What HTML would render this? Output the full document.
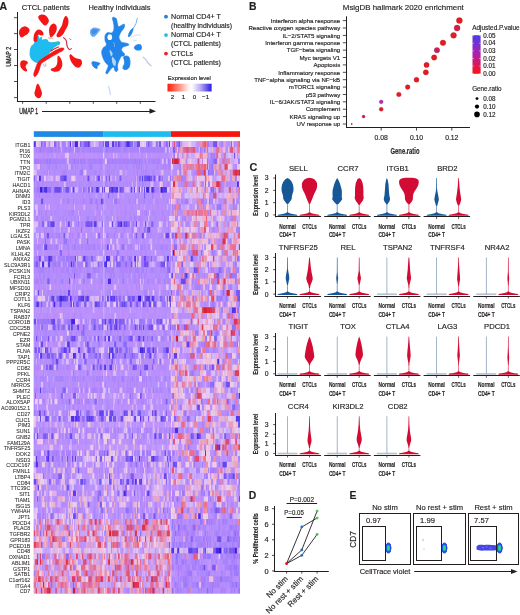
<!DOCTYPE html><html><head><meta charset="utf-8"><style>html,body{margin:0;padding:0;background:#fff;}svg{display:block;font-family:"Liberation Sans",sans-serif;}text{stroke:#231f20;stroke-width:0.16px;}text.g{stroke-width:0.06px;}svg{filter:blur(0.35px);}</style></head><body><svg width="520" height="615" viewBox="0 0 520 615" fill="#231f20"><text x="-0.60" y="9.50" font-size="10.5" font-weight="bold">A</text><text x="21.80" y="9.70" font-size="7.5" textLength="48.00" lengthAdjust="spacingAndGlyphs">CTCL patients</text><text x="88.50" y="9.60" font-size="7.5" textLength="62.00" lengthAdjust="spacingAndGlyphs">Healthy individuals</text><line x1="17.50" y1="12.00" x2="17.50" y2="101.40" stroke="#231f20" stroke-width="1"/><line x1="16.90" y1="101.50" x2="155.50" y2="101.50" stroke="#231f20" stroke-width="1"/><line x1="14.00" y1="17.70" x2="17.40" y2="17.70" stroke="#231f20" stroke-width="0.8"/><line x1="14.00" y1="33.60" x2="17.40" y2="33.60" stroke="#231f20" stroke-width="0.8"/><line x1="14.00" y1="49.50" x2="17.40" y2="49.50" stroke="#231f20" stroke-width="0.8"/><line x1="14.00" y1="65.50" x2="17.40" y2="65.50" stroke="#231f20" stroke-width="0.8"/><line x1="14.00" y1="81.50" x2="17.40" y2="81.50" stroke="#231f20" stroke-width="0.8"/><line x1="14.00" y1="97.60" x2="17.40" y2="97.60" stroke="#231f20" stroke-width="0.8"/><line x1="22.60" y1="101.20" x2="22.60" y2="103.80" stroke="#231f20" stroke-width="0.8"/><line x1="46.20" y1="101.20" x2="46.20" y2="103.80" stroke="#231f20" stroke-width="0.8"/><line x1="69.80" y1="101.20" x2="69.80" y2="103.80" stroke="#231f20" stroke-width="0.8"/><line x1="93.30" y1="101.20" x2="93.30" y2="103.80" stroke="#231f20" stroke-width="0.8"/><line x1="116.70" y1="101.20" x2="116.70" y2="103.80" stroke="#231f20" stroke-width="0.8"/><line x1="140.30" y1="101.20" x2="140.30" y2="103.80" stroke="#231f20" stroke-width="0.8"/><text x="0.00" y="0.00" font-size="8.2" textLength="19.00" lengthAdjust="spacingAndGlyphs" transform="translate(19.2,113.6)" style="stroke-width:0.3px">UMAP 1</text><text font-size="8.0" textLength="20" lengthAdjust="spacingAndGlyphs" style="stroke-width:0.3px" transform="translate(11.0,66.8) rotate(-90)">UMAP 2</text><line x1="42.00" y1="111.50" x2="151.00" y2="111.50" stroke="#231f20" stroke-width="1"/><path d="M156 111.2 L149.5 108.6 L149.5 113.8 Z" fill="#231f20"/><circle cx="166" cy="16.7" r="1.9" fill="#2a7fd6"/><circle cx="166" cy="35.1" r="1.9" fill="#2bb7e3"/><circle cx="166" cy="53.6" r="1.9" fill="#e3262b"/><text x="171.10" y="18.90" font-size="7.1" textLength="49.70" lengthAdjust="spacingAndGlyphs">Normal CD4+ T</text><text x="171.10" y="27.60" font-size="7.1" textLength="61.00" lengthAdjust="spacingAndGlyphs">(healthy individuals)</text><text x="171.10" y="37.40" font-size="7.1" textLength="49.70" lengthAdjust="spacingAndGlyphs">Normal CD4+ T</text><text x="171.10" y="46.40" font-size="7.1">(CTCL patients)</text><text x="171.10" y="55.90" font-size="7.1">CTCLs</text><text x="171.10" y="64.90" font-size="7.1">(CTCL patients)</text><text x="167.80" y="80.30" font-size="5.9" textLength="43.00" lengthAdjust="spacingAndGlyphs">Expression level</text><defs><linearGradient id="gexp" x1="0" x2="1" y1="0" y2="0"><stop offset="0" stop-color="#ff1a0a"/><stop offset="0.25" stop-color="#ff8a78"/><stop offset="0.48" stop-color="#fff4f0"/><stop offset="0.55" stop-color="#ffffff"/><stop offset="0.75" stop-color="#b8a8f4"/><stop offset="1" stop-color="#2a1ae8"/></linearGradient></defs><rect x="167.5" y="83.7" width="44.1" height="7.8" fill="url(#gexp)"/><text x="172.50" y="99.30" font-size="6.2" text-anchor="middle">2</text><text x="183.40" y="99.30" font-size="6.2" text-anchor="middle">1</text><text x="194.40" y="99.30" font-size="6.2" text-anchor="middle">0</text><text x="205.60" y="99.30" font-size="6.2" text-anchor="middle">−1</text><text x="249.00" y="10.10" font-size="10.4" font-weight="bold">B</text><text x="342.80" y="9.80" font-size="8.1" textLength="121.00" lengthAdjust="spacingAndGlyphs">MsigDB hallmark 2020 enrichment</text><line x1="346.50" y1="16.30" x2="346.50" y2="127.90" stroke="#231f20" stroke-width="1"/><line x1="346.00" y1="127.50" x2="470.00" y2="127.50" stroke="#231f20" stroke-width="1"/><line x1="342.80" y1="20.60" x2="346.40" y2="20.60" stroke="#231f20" stroke-width="0.8"/><text x="340.20" y="22.80" font-size="6.1" text-anchor="end">Interferon alpha response</text><line x1="342.80" y1="27.99" x2="346.40" y2="27.99" stroke="#231f20" stroke-width="0.8"/><text x="340.20" y="30.19" font-size="6.1" text-anchor="end">Reactive oxygen species pathway</text><line x1="342.80" y1="35.37" x2="346.40" y2="35.37" stroke="#231f20" stroke-width="0.8"/><text x="340.20" y="37.57" font-size="6.1" text-anchor="end">IL−2/STAT5 signaling</text><line x1="342.80" y1="42.76" x2="346.40" y2="42.76" stroke="#231f20" stroke-width="0.8"/><text x="340.20" y="44.96" font-size="6.1" text-anchor="end">Interferon gamma response</text><line x1="342.80" y1="50.14" x2="346.40" y2="50.14" stroke="#231f20" stroke-width="0.8"/><text x="340.20" y="52.34" font-size="6.1" text-anchor="end">TGF−beta signaling</text><line x1="342.80" y1="57.53" x2="346.40" y2="57.53" stroke="#231f20" stroke-width="0.8"/><text x="340.20" y="59.73" font-size="6.1" text-anchor="end">Myc targets V1</text><line x1="342.80" y1="64.92" x2="346.40" y2="64.92" stroke="#231f20" stroke-width="0.8"/><text x="340.20" y="67.12" font-size="6.1" text-anchor="end">Apoptosis</text><line x1="342.80" y1="72.30" x2="346.40" y2="72.30" stroke="#231f20" stroke-width="0.8"/><text x="340.20" y="74.50" font-size="6.1" text-anchor="end">Inflammatory response</text><line x1="342.80" y1="79.69" x2="346.40" y2="79.69" stroke="#231f20" stroke-width="0.8"/><text x="340.20" y="81.89" font-size="6.1" text-anchor="end">TNF−alpha signaling via NF−kB</text><line x1="342.80" y1="87.07" x2="346.40" y2="87.07" stroke="#231f20" stroke-width="0.8"/><text x="340.20" y="89.27" font-size="6.1" text-anchor="end">mTORC1 signaling</text><line x1="342.80" y1="94.46" x2="346.40" y2="94.46" stroke="#231f20" stroke-width="0.8"/><text x="340.20" y="96.66" font-size="6.1" text-anchor="end">p53 pathway</text><line x1="342.80" y1="101.85" x2="346.40" y2="101.85" stroke="#231f20" stroke-width="0.8"/><text x="340.20" y="104.05" font-size="6.1" text-anchor="end">IL−6/JAK/STAT3 signaling</text><line x1="342.80" y1="109.23" x2="346.40" y2="109.23" stroke="#231f20" stroke-width="0.8"/><text x="340.20" y="111.43" font-size="6.1" text-anchor="end">Complement</text><line x1="342.80" y1="116.62" x2="346.40" y2="116.62" stroke="#231f20" stroke-width="0.8"/><text x="340.20" y="118.82" font-size="6.1" text-anchor="end">KRAS signaling up</text><line x1="342.80" y1="124.00" x2="346.40" y2="124.00" stroke="#231f20" stroke-width="0.8"/><text x="340.20" y="126.20" font-size="6.1" text-anchor="end">UV response up</text><line x1="381.20" y1="127.60" x2="381.20" y2="130.60" stroke="#231f20" stroke-width="0.8"/><text x="381.20" y="140.30" font-size="6.8" text-anchor="middle">0.08</text><line x1="416.50" y1="127.60" x2="416.50" y2="130.60" stroke="#231f20" stroke-width="0.8"/><text x="416.50" y="140.30" font-size="6.8" text-anchor="middle">0.10</text><line x1="451.80" y1="127.60" x2="451.80" y2="130.60" stroke="#231f20" stroke-width="0.8"/><text x="451.80" y="140.30" font-size="6.8" text-anchor="middle">0.12</text><text x="390.50" y="153.60" font-size="8.6" textLength="29.00" lengthAdjust="spacingAndGlyphs" font-weight="bold">Gene.ratio</text><circle cx="459.39" cy="20.60" r="3.00" fill="#ec1a1a" stroke="#8a1020" stroke-width="0.45" stroke-opacity="0.6"/><circle cx="457.09" cy="27.99" r="2.98" fill="#d81a44" stroke="#8a1020" stroke-width="0.45" stroke-opacity="0.6"/><circle cx="453.56" cy="35.37" r="2.94" fill="#e81a22" stroke="#8a1020" stroke-width="0.45" stroke-opacity="0.6"/><circle cx="442.98" cy="42.76" r="2.81" fill="#e81a1e" stroke="#8a1020" stroke-width="0.45" stroke-opacity="0.6"/><circle cx="436.97" cy="50.14" r="2.73" fill="#c8205a" stroke="#8a1020" stroke-width="0.45" stroke-opacity="0.6"/><circle cx="434.15" cy="57.53" r="2.70" fill="#e81a1e" stroke="#8a1020" stroke-width="0.45" stroke-opacity="0.6"/><circle cx="426.56" cy="64.92" r="2.61" fill="#e81a1e" stroke="#8a1020" stroke-width="0.45" stroke-opacity="0.6"/><circle cx="425.85" cy="72.30" r="2.61" fill="#e81a1e" stroke="#8a1020" stroke-width="0.45" stroke-opacity="0.6"/><circle cx="416.50" cy="79.69" r="2.50" fill="#e81a1e" stroke="#8a1020" stroke-width="0.45" stroke-opacity="0.6"/><circle cx="407.68" cy="87.07" r="2.40" fill="#e81a1e" stroke="#8a1020" stroke-width="0.45" stroke-opacity="0.6"/><circle cx="398.85" cy="94.46" r="2.30" fill="#e81a1e" stroke="#8a1020" stroke-width="0.45" stroke-opacity="0.6"/><circle cx="381.20" cy="101.85" r="1.95" fill="#b02cc0" stroke="#8a1020" stroke-width="0.45" stroke-opacity="0.6"/><circle cx="381.20" cy="109.23" r="1.95" fill="#e01a1e" stroke="#8a1020" stroke-width="0.45" stroke-opacity="0.6"/><circle cx="363.55" cy="116.62" r="1.50" fill="#d0184a" stroke="#8a1020" stroke-width="0.45" stroke-opacity="0.6"/><circle cx="351.72" cy="124.00" r="0.65" fill="#3a1020" stroke="#8a1020" stroke-width="0.45" stroke-opacity="0.6"/><text x="472.20" y="29.60" font-size="6.4" textLength="47.50" lengthAdjust="spacingAndGlyphs">Adjusted.P.value</text><defs><linearGradient id="gp" x1="0" x2="0" y1="0" y2="1"><stop offset="0" stop-color="#4a3cf0"/><stop offset="0.5" stop-color="#b020a8"/><stop offset="1" stop-color="#ff1010"/></linearGradient></defs><rect x="472.5" y="35.2" width="8.1" height="38.6" fill="url(#gp)"/><line x1="472.50" y1="35.60" x2="474.00" y2="35.60" stroke="#ffffff" stroke-width="0.5"/><line x1="479.10" y1="35.60" x2="480.60" y2="35.60" stroke="#ffffff" stroke-width="0.5"/><text x="483.30" y="37.80" font-size="6.3">0.05</text><line x1="472.50" y1="43.22" x2="474.00" y2="43.22" stroke="#ffffff" stroke-width="0.5"/><line x1="479.10" y1="43.22" x2="480.60" y2="43.22" stroke="#ffffff" stroke-width="0.5"/><text x="483.30" y="45.42" font-size="6.3">0.04</text><line x1="472.50" y1="50.84" x2="474.00" y2="50.84" stroke="#ffffff" stroke-width="0.5"/><line x1="479.10" y1="50.84" x2="480.60" y2="50.84" stroke="#ffffff" stroke-width="0.5"/><text x="483.30" y="53.04" font-size="6.3">0.03</text><line x1="472.50" y1="58.46" x2="474.00" y2="58.46" stroke="#ffffff" stroke-width="0.5"/><line x1="479.10" y1="58.46" x2="480.60" y2="58.46" stroke="#ffffff" stroke-width="0.5"/><text x="483.30" y="60.66" font-size="6.3">0.02</text><line x1="472.50" y1="66.08" x2="474.00" y2="66.08" stroke="#ffffff" stroke-width="0.5"/><line x1="479.10" y1="66.08" x2="480.60" y2="66.08" stroke="#ffffff" stroke-width="0.5"/><text x="483.30" y="68.28" font-size="6.3">0.01</text><line x1="472.50" y1="73.70" x2="474.00" y2="73.70" stroke="#ffffff" stroke-width="0.5"/><line x1="479.10" y1="73.70" x2="480.60" y2="73.70" stroke="#ffffff" stroke-width="0.5"/><text x="483.30" y="75.90" font-size="6.3">0.00</text><text x="472.20" y="91.20" font-size="6.3">Gene.ratio</text><circle cx="477" cy="98.6" r="1.4" fill="#000"/><text x="483.30" y="100.80" font-size="6.3">0.08</text><circle cx="477" cy="106.6" r="2.1" fill="#000"/><text x="483.30" y="108.80" font-size="6.3">0.10</text><circle cx="477" cy="114.4" r="2.8" fill="#000"/><text x="483.30" y="116.60" font-size="6.3">0.12</text><text x="249.60" y="170.50" font-size="10.8" font-weight="bold">C</text><line x1="275.50" y1="174.50" x2="275.50" y2="217.30" stroke="#231f20" stroke-width="1"/><line x1="273.20" y1="214.90" x2="275.20" y2="214.90" stroke="#231f20" stroke-width="0.8"/><text x="266.70" y="217.30" font-size="6.8" text-anchor="middle">0</text><line x1="273.20" y1="202.63" x2="275.20" y2="202.63" stroke="#231f20" stroke-width="0.8"/><text x="266.70" y="205.03" font-size="6.8" text-anchor="middle">1</text><line x1="273.20" y1="190.36" x2="275.20" y2="190.36" stroke="#231f20" stroke-width="0.8"/><text x="266.70" y="192.76" font-size="6.8" text-anchor="middle">2</text><line x1="273.20" y1="178.09" x2="275.20" y2="178.09" stroke="#231f20" stroke-width="0.8"/><text x="266.70" y="180.49" font-size="6.8" text-anchor="middle">3</text><text font-size="6.9" font-weight="bold" text-anchor="middle" textLength="40.5" lengthAdjust="spacingAndGlyphs" transform="translate(258.3,195.40) rotate(-90)">Expression level</text><line x1="275.00" y1="216.50" x2="321.00" y2="216.50" stroke="#231f20" stroke-width="1"/><line x1="287.50" y1="216.90" x2="287.50" y2="219.10" stroke="#231f20" stroke-width="0.7"/><line x1="309.50" y1="216.90" x2="309.50" y2="219.10" stroke="#231f20" stroke-width="0.7"/><text x="298.30" y="171.30" font-size="7.7" text-anchor="middle">SELL</text><path d="M287.50 178.09 L289.70 179.32 L291.70 181.77 L293.00 184.84 L293.50 187.91 L293.40 190.97 L292.50 194.04 L291.80 196.50 L291.90 198.34 L291.00 200.18 L289.10 202.63 L288.10 204.10 L286.90 204.10 L285.90 202.63 L284.00 200.18 L283.10 198.34 L283.20 196.50 L282.50 194.04 L281.60 190.97 L281.50 187.91 L282.00 184.84 L283.30 181.77 L285.30 179.32 L287.50 178.09Z" fill="#165797"/><rect x="287.05" y="204.10" width="0.9" height="10.80" fill="#6f97c0"/><path d="M277.50 215.80 L278.00 214.70 Q284.50 214.30 287.10 212.30 L287.90 212.30 Q290.50 214.30 297.00 214.70 L297.50 215.80Z" fill="#165797"/><path d="M309.50 177.84 L312.00 178.34 L314.30 179.32 L316.10 181.16 L317.10 183.61 L317.10 186.68 L316.30 189.75 L314.70 192.81 L313.30 195.88 L312.20 198.95 L311.10 201.40 L310.30 203.24 L310.00 204.47 L309.00 204.47 L308.70 203.24 L307.90 201.40 L306.80 198.95 L305.70 195.88 L304.30 192.81 L302.70 189.75 L301.90 186.68 L301.90 183.61 L302.90 181.16 L304.70 179.32 L307.00 178.34 L309.50 177.84Z" fill="#d20b35"/><rect x="309.05" y="204.47" width="0.9" height="10.43" fill="#e0607a"/><path d="M299.50 215.80 L300.00 214.70 Q306.50 214.30 309.10 212.30 L309.90 212.30 Q312.50 214.30 319.00 214.70 L319.50 215.80Z" fill="#d20b35"/><text x="287.50" y="228.70" font-size="7.6" text-anchor="middle" textLength="16.60" lengthAdjust="spacingAndGlyphs" font-weight="bold">Normal</text><text x="287.50" y="237.40" font-size="7.6" text-anchor="middle" textLength="16.60" lengthAdjust="spacingAndGlyphs" font-weight="bold">CD4+ T</text><text x="309.50" y="228.70" font-size="7.6" text-anchor="middle" textLength="14.30" lengthAdjust="spacingAndGlyphs" font-weight="bold">CTCLs</text><line x1="324.20" y1="216.50" x2="370.70" y2="216.50" stroke="#231f20" stroke-width="1"/><line x1="337.20" y1="216.90" x2="337.20" y2="219.10" stroke="#231f20" stroke-width="0.7"/><line x1="359.20" y1="216.90" x2="359.20" y2="219.10" stroke="#231f20" stroke-width="0.7"/><text x="348.00" y="171.30" font-size="7.7" text-anchor="middle">CCR7</text><path d="M337.20 178.09 L338.70 180.54 L340.20 184.23 L341.20 187.91 L341.80 190.36 L341.90 194.04 L341.70 197.11 L342.30 198.95 L341.20 200.79 L339.50 202.63 L337.90 204.47 L336.50 204.47 L334.90 202.63 L333.20 200.79 L332.10 198.95 L332.70 197.11 L332.50 194.04 L332.60 190.36 L333.20 187.91 L334.20 184.23 L335.70 180.54 L337.20 178.09Z" fill="#165797"/><rect x="336.75" y="204.47" width="0.9" height="10.43" fill="#6f97c0"/><path d="M327.20 215.80 L327.70 214.70 Q334.20 214.30 336.80 212.30 L337.60 212.30 Q340.20 214.30 346.70 214.70 L347.20 215.80Z" fill="#165797"/><path d="M359.20 178.09 L361.00 179.32 L362.60 183.00 L363.20 186.68 L363.40 190.36 L363.40 195.27 L363.70 198.34 L362.70 200.79 L360.80 203.24 L359.70 205.08 L358.70 205.08 L357.60 203.24 L355.70 200.79 L354.70 198.34 L355.00 195.27 L355.00 190.36 L355.20 186.68 L355.80 183.00 L357.40 179.32 L359.20 178.09Z" fill="#d20b35"/><rect x="358.75" y="205.08" width="0.9" height="9.82" fill="#e0607a"/><path d="M349.20 215.80 L349.70 214.70 Q356.20 214.30 358.80 212.30 L359.60 212.30 Q362.20 214.30 368.70 214.70 L369.20 215.80Z" fill="#d20b35"/><text x="337.20" y="228.70" font-size="7.6" text-anchor="middle" textLength="16.60" lengthAdjust="spacingAndGlyphs" font-weight="bold">Normal</text><text x="337.20" y="237.40" font-size="7.6" text-anchor="middle" textLength="16.60" lengthAdjust="spacingAndGlyphs" font-weight="bold">CD4+ T</text><text x="359.20" y="228.70" font-size="7.6" text-anchor="middle" textLength="14.30" lengthAdjust="spacingAndGlyphs" font-weight="bold">CTCLs</text><line x1="373.90" y1="216.50" x2="420.40" y2="216.50" stroke="#231f20" stroke-width="1"/><line x1="386.90" y1="216.90" x2="386.90" y2="219.10" stroke="#231f20" stroke-width="0.7"/><line x1="408.90" y1="216.90" x2="408.90" y2="219.10" stroke="#231f20" stroke-width="0.7"/><text x="397.70" y="171.30" font-size="7.7" text-anchor="middle">ITGB1</text><path d="M386.90 178.09 L387.70 179.93 L388.50 184.23 L388.90 190.36 L389.30 195.27 L390.10 198.95 L389.40 201.40 L388.10 203.24 L387.30 204.84 L386.50 204.84 L385.70 203.24 L384.40 201.40 L383.70 198.95 L384.50 195.27 L384.90 190.36 L385.30 184.23 L386.10 179.93 L386.90 178.09Z" fill="#165797"/><rect x="386.45" y="204.84" width="0.9" height="10.06" fill="#6f97c0"/><path d="M376.90 215.80 L377.40 214.70 Q383.90 214.30 386.50 212.30 L387.30 212.30 Q389.90 214.30 396.40 214.70 L396.90 215.80Z" fill="#165797"/><path d="M408.90 177.72 L412.40 177.84 L415.40 178.34 L417.30 179.07 L418.50 180.30 L418.80 182.38 L418.10 185.45 L416.50 188.52 L414.50 191.59 L413.30 194.04 L412.90 196.50 L412.90 198.95 L411.90 201.40 L410.40 203.24 L409.40 204.47 L408.40 204.47 L407.40 203.24 L405.90 201.40 L404.90 198.95 L404.90 196.50 L404.50 194.04 L403.30 191.59 L401.30 188.52 L399.70 185.45 L399.00 182.38 L399.30 180.30 L400.50 179.07 L402.40 178.34 L405.40 177.84 L408.90 177.72Z" fill="#d20b35"/><rect x="408.45" y="204.47" width="0.9" height="10.43" fill="#e0607a"/><path d="M398.90 215.80 L399.40 214.70 Q405.90 214.30 408.50 212.30 L409.30 212.30 Q411.90 214.30 418.40 214.70 L418.90 215.80Z" fill="#d20b35"/><text x="386.90" y="228.70" font-size="7.6" text-anchor="middle" textLength="16.60" lengthAdjust="spacingAndGlyphs" font-weight="bold">Normal</text><text x="386.90" y="237.40" font-size="7.6" text-anchor="middle" textLength="16.60" lengthAdjust="spacingAndGlyphs" font-weight="bold">CD4+ T</text><text x="408.90" y="228.70" font-size="7.6" text-anchor="middle" textLength="14.30" lengthAdjust="spacingAndGlyphs" font-weight="bold">CTCLs</text><line x1="423.60" y1="216.50" x2="470.10" y2="216.50" stroke="#231f20" stroke-width="1"/><line x1="436.60" y1="216.90" x2="436.60" y2="219.10" stroke="#231f20" stroke-width="0.7"/><line x1="458.60" y1="216.90" x2="458.60" y2="219.10" stroke="#231f20" stroke-width="0.7"/><text x="447.40" y="171.30" font-size="7.7" text-anchor="middle">BRD2</text><path d="M436.90 178.09 L437.00 187.91 L437.40 191.59 L438.20 195.27 L438.90 199.56 L437.90 203.24 L437.05 206.31 L436.15 206.31 L435.30 203.24 L434.30 199.56 L435.00 195.27 L435.80 191.59 L436.20 187.91 L436.30 178.09Z" fill="#165797"/><rect x="436.15" y="206.31" width="0.9" height="8.59" fill="#6f97c0"/><path d="M426.60 215.80 L427.10 214.70 Q433.60 214.30 436.20 212.30 L437.00 212.30 Q439.60 214.30 446.10 214.70 L446.60 215.80Z" fill="#165797"/><path d="M458.90 178.09 L459.20 183.00 L459.60 187.91 L460.20 192.81 L460.80 196.50 L461.20 199.56 L460.40 202.63 L459.10 205.70 L458.10 205.70 L456.80 202.63 L456.00 199.56 L456.40 196.50 L457.00 192.81 L457.60 187.91 L458.00 183.00 L458.30 178.09Z" fill="#d20b35"/><rect x="458.15" y="205.70" width="0.9" height="9.20" fill="#e0607a"/><path d="M448.60 215.80 L449.10 214.70 Q455.60 214.30 458.20 212.30 L459.00 212.30 Q461.60 214.30 468.10 214.70 L468.60 215.80Z" fill="#d20b35"/><text x="436.60" y="228.70" font-size="7.6" text-anchor="middle" textLength="16.60" lengthAdjust="spacingAndGlyphs" font-weight="bold">Normal</text><text x="436.60" y="237.40" font-size="7.6" text-anchor="middle" textLength="16.60" lengthAdjust="spacingAndGlyphs" font-weight="bold">CD4+ T</text><text x="458.60" y="228.70" font-size="7.6" text-anchor="middle" textLength="14.30" lengthAdjust="spacingAndGlyphs" font-weight="bold">CTCLs</text><line x1="275.50" y1="253.00" x2="275.50" y2="296.70" stroke="#231f20" stroke-width="1"/><line x1="273.20" y1="294.10" x2="275.20" y2="294.10" stroke="#231f20" stroke-width="0.8"/><text x="266.70" y="296.50" font-size="6.8" text-anchor="middle">0</text><line x1="273.20" y1="281.87" x2="275.20" y2="281.87" stroke="#231f20" stroke-width="0.8"/><text x="266.70" y="284.27" font-size="6.8" text-anchor="middle">1</text><line x1="273.20" y1="269.64" x2="275.20" y2="269.64" stroke="#231f20" stroke-width="0.8"/><text x="266.70" y="272.04" font-size="6.8" text-anchor="middle">2</text><line x1="273.20" y1="257.41" x2="275.20" y2="257.41" stroke="#231f20" stroke-width="0.8"/><text x="266.70" y="259.81" font-size="6.8" text-anchor="middle">3</text><text font-size="6.9" font-weight="bold" text-anchor="middle" textLength="40.5" lengthAdjust="spacingAndGlyphs" transform="translate(258.3,274.60) rotate(-90)">Expression level</text><line x1="275.00" y1="296.50" x2="321.00" y2="296.50" stroke="#231f20" stroke-width="1"/><line x1="287.50" y1="296.30" x2="287.50" y2="298.50" stroke="#231f20" stroke-width="0.7"/><line x1="309.50" y1="296.30" x2="309.50" y2="298.50" stroke="#231f20" stroke-width="0.7"/><text x="298.30" y="249.90" font-size="7.7" text-anchor="middle">TNFRSF25</text><path d="M287.80 257.41 L287.90 268.42 L288.40 272.09 L289.10 275.75 L289.30 278.81 L288.60 281.87 L287.90 285.54 L287.10 285.54 L286.40 281.87 L285.70 278.81 L285.90 275.75 L286.60 272.09 L287.10 268.42 L287.20 257.41Z" fill="#165797"/><rect x="287.05" y="285.54" width="0.9" height="8.56" fill="#6f97c0"/><path d="M277.50 295.00 L278.00 293.90 Q284.50 293.50 287.10 291.50 L287.90 291.50 Q290.50 293.50 297.00 293.90 L297.50 295.00Z" fill="#165797"/><path d="M309.80 257.41 L310.30 262.30 L310.80 267.19 L311.50 272.09 L312.30 275.75 L312.80 278.81 L311.90 281.87 L310.50 284.93 L309.90 288.60 L309.10 288.60 L308.50 284.93 L307.10 281.87 L306.20 278.81 L306.70 275.75 L307.50 272.09 L308.20 267.19 L308.70 262.30 L309.20 257.41Z" fill="#d20b35"/><rect x="309.05" y="288.60" width="0.9" height="5.50" fill="#e0607a"/><path d="M299.50 295.00 L300.00 293.90 Q306.50 293.50 309.10 291.50 L309.90 291.50 Q312.50 293.50 319.00 293.90 L319.50 295.00Z" fill="#d20b35"/><text x="287.50" y="308.10" font-size="7.6" text-anchor="middle" textLength="16.60" lengthAdjust="spacingAndGlyphs" font-weight="bold">Normal</text><text x="287.50" y="316.80" font-size="7.6" text-anchor="middle" textLength="16.60" lengthAdjust="spacingAndGlyphs" font-weight="bold">CD4+ T</text><text x="309.50" y="308.10" font-size="7.6" text-anchor="middle" textLength="14.30" lengthAdjust="spacingAndGlyphs" font-weight="bold">CTCLs</text><line x1="324.20" y1="296.50" x2="370.70" y2="296.50" stroke="#231f20" stroke-width="1"/><line x1="337.20" y1="296.30" x2="337.20" y2="298.50" stroke="#231f20" stroke-width="0.7"/><line x1="359.20" y1="296.30" x2="359.20" y2="298.50" stroke="#231f20" stroke-width="0.7"/><text x="348.00" y="249.90" font-size="7.7" text-anchor="middle">REL</text><path d="M337.50 257.41 L337.55 272.09 L337.90 275.75 L338.20 278.20 L337.90 280.65 L337.55 284.32 L336.85 284.32 L336.50 280.65 L336.20 278.20 L336.50 275.75 L336.85 272.09 L336.90 257.41Z" fill="#165797"/><rect x="336.75" y="284.32" width="0.9" height="9.78" fill="#6f97c0"/><path d="M327.20 295.00 L327.70 293.90 Q334.20 293.50 336.80 291.50 L337.60 291.50 Q340.20 293.50 346.70 293.90 L347.20 295.00Z" fill="#165797"/><path d="M359.50 257.41 L359.70 270.86 L360.30 274.53 L361.00 278.20 L360.40 281.26 L359.60 284.93 L358.80 284.93 L358.00 281.26 L357.40 278.20 L358.10 274.53 L358.70 270.86 L358.90 257.41Z" fill="#d20b35"/><rect x="358.75" y="284.93" width="0.9" height="9.17" fill="#e0607a"/><path d="M349.20 295.00 L349.70 293.90 Q356.20 293.50 358.80 291.50 L359.60 291.50 Q362.20 293.50 368.70 293.90 L369.20 295.00Z" fill="#d20b35"/><text x="337.20" y="308.10" font-size="7.6" text-anchor="middle" textLength="16.60" lengthAdjust="spacingAndGlyphs" font-weight="bold">Normal</text><text x="337.20" y="316.80" font-size="7.6" text-anchor="middle" textLength="16.60" lengthAdjust="spacingAndGlyphs" font-weight="bold">CD4+ T</text><text x="359.20" y="308.10" font-size="7.6" text-anchor="middle" textLength="14.30" lengthAdjust="spacingAndGlyphs" font-weight="bold">CTCLs</text><line x1="373.90" y1="296.50" x2="420.40" y2="296.50" stroke="#231f20" stroke-width="1"/><line x1="386.90" y1="296.30" x2="386.90" y2="298.50" stroke="#231f20" stroke-width="0.7"/><line x1="408.90" y1="296.30" x2="408.90" y2="298.50" stroke="#231f20" stroke-width="0.7"/><text x="397.70" y="249.90" font-size="7.7" text-anchor="middle">TSPAN2</text><rect x="376.90" y="293.40" width="20" height="1.7" fill="#b7c2cf"/><rect x="386.50" y="257.41" width="0.8" height="36.69" fill="#8ba3bc"/><path d="M409.30 257.41 L409.70 263.53 L410.10 269.64 L410.60 274.53 L411.10 278.20 L410.40 281.26 L409.50 284.93 L409.30 287.99 L408.50 287.99 L408.30 284.93 L407.40 281.26 L406.70 278.20 L407.20 274.53 L407.70 269.64 L408.10 263.53 L408.50 257.41Z" fill="#d20b35"/><rect x="408.45" y="287.99" width="0.9" height="6.12" fill="#e0607a"/><path d="M398.90 295.00 L399.40 293.90 Q405.90 293.50 408.50 291.50 L409.30 291.50 Q411.90 293.50 418.40 293.90 L418.90 295.00Z" fill="#d20b35"/><text x="386.90" y="308.10" font-size="7.6" text-anchor="middle" textLength="16.60" lengthAdjust="spacingAndGlyphs" font-weight="bold">Normal</text><text x="386.90" y="316.80" font-size="7.6" text-anchor="middle" textLength="16.60" lengthAdjust="spacingAndGlyphs" font-weight="bold">CD4+ T</text><text x="408.90" y="308.10" font-size="7.6" text-anchor="middle" textLength="14.30" lengthAdjust="spacingAndGlyphs" font-weight="bold">CTCLs</text><line x1="423.60" y1="296.50" x2="470.10" y2="296.50" stroke="#231f20" stroke-width="1"/><line x1="436.60" y1="296.30" x2="436.60" y2="298.50" stroke="#231f20" stroke-width="0.7"/><line x1="458.60" y1="296.30" x2="458.60" y2="298.50" stroke="#231f20" stroke-width="0.7"/><text x="447.40" y="249.90" font-size="7.7" text-anchor="middle">TNFRSF4</text><rect x="426.60" y="293.40" width="20" height="1.7" fill="#b7c2cf"/><rect x="436.20" y="257.41" width="0.8" height="36.69" fill="#8ba3bc"/><path d="M458.90 257.41 L459.10 264.75 L459.50 270.86 L459.90 275.75 L460.10 279.42 L459.50 282.48 L458.95 286.76 L458.25 286.76 L457.70 282.48 L457.10 279.42 L457.30 275.75 L457.70 270.86 L458.10 264.75 L458.30 257.41Z" fill="#d20b35"/><rect x="458.15" y="286.76" width="0.9" height="7.34" fill="#e0607a"/><path d="M448.60 295.00 L449.10 293.90 Q455.60 293.50 458.20 291.50 L459.00 291.50 Q461.60 293.50 468.10 293.90 L468.60 295.00Z" fill="#d20b35"/><text x="436.60" y="308.10" font-size="7.6" text-anchor="middle" textLength="16.60" lengthAdjust="spacingAndGlyphs" font-weight="bold">Normal</text><text x="436.60" y="316.80" font-size="7.6" text-anchor="middle" textLength="16.60" lengthAdjust="spacingAndGlyphs" font-weight="bold">CD4+ T</text><text x="458.60" y="308.10" font-size="7.6" text-anchor="middle" textLength="14.30" lengthAdjust="spacingAndGlyphs" font-weight="bold">CTCLs</text><line x1="473.30" y1="296.50" x2="519.80" y2="296.50" stroke="#231f20" stroke-width="1"/><line x1="486.30" y1="296.30" x2="486.30" y2="298.50" stroke="#231f20" stroke-width="0.7"/><line x1="508.30" y1="296.30" x2="508.30" y2="298.50" stroke="#231f20" stroke-width="0.7"/><text x="497.10" y="249.90" font-size="7.7" text-anchor="middle">NR4A2</text><rect x="476.30" y="293.40" width="20" height="1.7" fill="#b7c2cf"/><rect x="485.90" y="257.41" width="0.8" height="36.69" fill="#8ba3bc"/><path d="M508.60 257.41 L508.70 272.09 L509.00 275.75 L509.20 278.81 L508.90 281.87 L508.60 286.76 L508.00 286.76 L507.70 281.87 L507.40 278.81 L507.60 275.75 L507.90 272.09 L508.00 257.41Z" fill="#d20b35"/><rect x="507.85" y="286.76" width="0.9" height="7.34" fill="#e0607a"/><path d="M498.30 295.00 L498.80 293.90 Q505.30 293.50 507.90 291.50 L508.70 291.50 Q511.30 293.50 517.80 293.90 L518.30 295.00Z" fill="#d20b35"/><text x="486.30" y="308.10" font-size="7.6" text-anchor="middle" textLength="16.60" lengthAdjust="spacingAndGlyphs" font-weight="bold">Normal</text><text x="486.30" y="316.80" font-size="7.6" text-anchor="middle" textLength="16.60" lengthAdjust="spacingAndGlyphs" font-weight="bold">CD4+ T</text><text x="508.30" y="308.10" font-size="7.6" text-anchor="middle" textLength="14.30" lengthAdjust="spacingAndGlyphs" font-weight="bold">CTCLs</text><line x1="275.50" y1="333.00" x2="275.50" y2="376.00" stroke="#231f20" stroke-width="1"/><line x1="273.20" y1="373.80" x2="275.20" y2="373.80" stroke="#231f20" stroke-width="0.8"/><text x="266.70" y="376.20" font-size="6.8" text-anchor="middle">0</text><line x1="273.20" y1="361.40" x2="275.20" y2="361.40" stroke="#231f20" stroke-width="0.8"/><text x="266.70" y="363.80" font-size="6.8" text-anchor="middle">1</text><line x1="273.20" y1="349.00" x2="275.20" y2="349.00" stroke="#231f20" stroke-width="0.8"/><text x="266.70" y="351.40" font-size="6.8" text-anchor="middle">2</text><line x1="273.20" y1="336.60" x2="275.20" y2="336.60" stroke="#231f20" stroke-width="0.8"/><text x="266.70" y="339.00" font-size="6.8" text-anchor="middle">3</text><text font-size="6.9" font-weight="bold" text-anchor="middle" textLength="40.5" lengthAdjust="spacingAndGlyphs" transform="translate(258.3,354.30) rotate(-90)">Expression level</text><line x1="275.00" y1="375.50" x2="321.00" y2="375.50" stroke="#231f20" stroke-width="1"/><line x1="287.50" y1="375.60" x2="287.50" y2="377.80" stroke="#231f20" stroke-width="0.7"/><line x1="309.50" y1="375.60" x2="309.50" y2="377.80" stroke="#231f20" stroke-width="0.7"/><text x="298.30" y="329.10" font-size="7.7" text-anchor="middle">TIGIT</text><rect x="277.50" y="373.10" width="20" height="1.7" fill="#b7c2cf"/><rect x="287.10" y="336.60" width="0.8" height="37.20" fill="#8ba3bc"/><path d="M309.50 336.60 L310.50 339.08 L311.70 342.80 L312.70 346.52 L313.40 350.24 L314.00 353.96 L314.30 357.06 L313.10 359.54 L311.30 362.02 L310.20 363.88 L309.90 365.74 L309.10 365.74 L308.80 363.88 L307.70 362.02 L305.90 359.54 L304.70 357.06 L305.00 353.96 L305.60 350.24 L306.30 346.52 L307.30 342.80 L308.50 339.08 L309.50 336.60Z" fill="#d20b35"/><rect x="309.05" y="365.74" width="0.9" height="8.06" fill="#e0607a"/><path d="M299.50 374.70 L300.00 373.60 Q306.50 373.20 309.10 371.20 L309.90 371.20 Q312.50 373.20 319.00 373.60 L319.50 374.70Z" fill="#d20b35"/><text x="287.50" y="387.40" font-size="7.6" text-anchor="middle" textLength="16.60" lengthAdjust="spacingAndGlyphs" font-weight="bold">Normal</text><text x="287.50" y="396.10" font-size="7.6" text-anchor="middle" textLength="16.60" lengthAdjust="spacingAndGlyphs" font-weight="bold">CD4+ T</text><text x="309.50" y="387.40" font-size="7.6" text-anchor="middle" textLength="14.30" lengthAdjust="spacingAndGlyphs" font-weight="bold">CTCLs</text><line x1="324.20" y1="375.50" x2="370.70" y2="375.50" stroke="#231f20" stroke-width="1"/><line x1="337.20" y1="375.60" x2="337.20" y2="377.80" stroke="#231f20" stroke-width="0.7"/><line x1="359.20" y1="375.60" x2="359.20" y2="377.80" stroke="#231f20" stroke-width="0.7"/><text x="348.00" y="329.10" font-size="7.7" text-anchor="middle">TOX</text><rect x="327.20" y="373.10" width="20" height="1.7" fill="#b7c2cf"/><rect x="336.80" y="336.60" width="0.8" height="37.20" fill="#8ba3bc"/><path d="M359.20 336.60 L360.10 339.08 L361.10 342.80 L361.90 346.52 L362.50 350.24 L363.00 354.58 L362.50 357.06 L361.20 359.54 L360.00 362.64 L359.60 365.12 L358.80 365.12 L358.40 362.64 L357.20 359.54 L355.90 357.06 L355.40 354.58 L355.90 350.24 L356.50 346.52 L357.30 342.80 L358.30 339.08 L359.20 336.60Z" fill="#d20b35"/><rect x="358.75" y="365.12" width="0.9" height="8.68" fill="#e0607a"/><path d="M349.20 374.70 L349.70 373.60 Q356.20 373.20 358.80 371.20 L359.60 371.20 Q362.20 373.20 368.70 373.60 L369.20 374.70Z" fill="#d20b35"/><text x="337.20" y="387.40" font-size="7.6" text-anchor="middle" textLength="16.60" lengthAdjust="spacingAndGlyphs" font-weight="bold">Normal</text><text x="337.20" y="396.10" font-size="7.6" text-anchor="middle" textLength="16.60" lengthAdjust="spacingAndGlyphs" font-weight="bold">CD4+ T</text><text x="359.20" y="387.40" font-size="7.6" text-anchor="middle" textLength="14.30" lengthAdjust="spacingAndGlyphs" font-weight="bold">CTCLs</text><line x1="373.90" y1="375.50" x2="420.40" y2="375.50" stroke="#231f20" stroke-width="1"/><line x1="386.90" y1="375.60" x2="386.90" y2="377.80" stroke="#231f20" stroke-width="0.7"/><line x1="408.90" y1="375.60" x2="408.90" y2="377.80" stroke="#231f20" stroke-width="0.7"/><text x="397.70" y="329.10" font-size="7.7" text-anchor="middle">CTLA4</text><rect x="376.90" y="373.10" width="20" height="1.7" fill="#b7c2cf"/><rect x="386.50" y="336.60" width="0.8" height="37.20" fill="#8ba3bc"/><path d="M409.20 336.60 L409.50 341.56 L409.90 346.52 L410.40 351.48 L410.70 355.82 L410.20 358.92 L409.50 362.64 L409.25 366.36 L408.55 366.36 L408.30 362.64 L407.60 358.92 L407.10 355.82 L407.40 351.48 L407.90 346.52 L408.30 341.56 L408.60 336.60Z" fill="#d20b35"/><rect x="408.45" y="366.36" width="0.9" height="7.44" fill="#e0607a"/><path d="M398.90 374.70 L399.40 373.60 Q405.90 373.20 408.50 371.20 L409.30 371.20 Q411.90 373.20 418.40 373.60 L418.90 374.70Z" fill="#d20b35"/><text x="386.90" y="387.40" font-size="7.6" text-anchor="middle" textLength="16.60" lengthAdjust="spacingAndGlyphs" font-weight="bold">Normal</text><text x="386.90" y="396.10" font-size="7.6" text-anchor="middle" textLength="16.60" lengthAdjust="spacingAndGlyphs" font-weight="bold">CD4+ T</text><text x="408.90" y="387.40" font-size="7.6" text-anchor="middle" textLength="14.30" lengthAdjust="spacingAndGlyphs" font-weight="bold">CTCLs</text><line x1="423.60" y1="375.50" x2="470.10" y2="375.50" stroke="#231f20" stroke-width="1"/><line x1="436.60" y1="375.60" x2="436.60" y2="377.80" stroke="#231f20" stroke-width="0.7"/><line x1="458.60" y1="375.60" x2="458.60" y2="377.80" stroke="#231f20" stroke-width="0.7"/><text x="447.40" y="329.10" font-size="7.7" text-anchor="middle">LAG3</text><rect x="426.60" y="373.10" width="20" height="1.7" fill="#b7c2cf"/><rect x="436.20" y="336.60" width="0.8" height="37.20" fill="#8ba3bc"/><path d="M458.90 336.60 L459.10 344.04 L459.50 350.24 L459.90 355.20 L459.60 358.30 L459.05 362.64 L458.90 366.36 L458.30 366.36 L458.15 362.64 L457.60 358.30 L457.30 355.20 L457.70 350.24 L458.10 344.04 L458.30 336.60Z" fill="#d20b35"/><rect x="458.15" y="366.36" width="0.9" height="7.44" fill="#e0607a"/><path d="M448.60 374.70 L449.10 373.60 Q455.60 373.20 458.20 371.20 L459.00 371.20 Q461.60 373.20 468.10 373.60 L468.60 374.70Z" fill="#d20b35"/><text x="436.60" y="387.40" font-size="7.6" text-anchor="middle" textLength="16.60" lengthAdjust="spacingAndGlyphs" font-weight="bold">Normal</text><text x="436.60" y="396.10" font-size="7.6" text-anchor="middle" textLength="16.60" lengthAdjust="spacingAndGlyphs" font-weight="bold">CD4+ T</text><text x="458.60" y="387.40" font-size="7.6" text-anchor="middle" textLength="14.30" lengthAdjust="spacingAndGlyphs" font-weight="bold">CTCLs</text><line x1="473.30" y1="375.50" x2="519.80" y2="375.50" stroke="#231f20" stroke-width="1"/><line x1="486.30" y1="375.60" x2="486.30" y2="377.80" stroke="#231f20" stroke-width="0.7"/><line x1="508.30" y1="375.60" x2="508.30" y2="377.80" stroke="#231f20" stroke-width="0.7"/><text x="497.10" y="329.10" font-size="7.7" text-anchor="middle">PDCD1</text><rect x="476.30" y="373.10" width="20" height="1.7" fill="#b7c2cf"/><rect x="485.90" y="336.60" width="0.8" height="37.20" fill="#8ba3bc"/><path d="M508.60 336.60 L508.65 346.52 L508.90 352.72 L509.20 357.68 L508.90 361.40 L508.60 366.36 L508.00 366.36 L507.70 361.40 L507.40 357.68 L507.70 352.72 L507.95 346.52 L508.00 336.60Z" fill="#d20b35"/><rect x="507.85" y="366.36" width="0.9" height="7.44" fill="#e0607a"/><path d="M498.30 374.70 L498.80 373.60 Q505.30 373.20 507.90 371.20 L508.70 371.20 Q511.30 373.20 517.80 373.60 L518.30 374.70Z" fill="#d20b35"/><text x="486.30" y="387.40" font-size="7.6" text-anchor="middle" textLength="16.60" lengthAdjust="spacingAndGlyphs" font-weight="bold">Normal</text><text x="486.30" y="396.10" font-size="7.6" text-anchor="middle" textLength="16.60" lengthAdjust="spacingAndGlyphs" font-weight="bold">CD4+ T</text><text x="508.30" y="387.40" font-size="7.6" text-anchor="middle" textLength="14.30" lengthAdjust="spacingAndGlyphs" font-weight="bold">CTCLs</text><line x1="275.50" y1="413.00" x2="275.50" y2="455.70" stroke="#231f20" stroke-width="1"/><line x1="273.20" y1="453.40" x2="275.20" y2="453.40" stroke="#231f20" stroke-width="0.8"/><text x="266.70" y="455.80" font-size="6.8" text-anchor="middle">0</text><line x1="273.20" y1="443.80" x2="275.20" y2="443.80" stroke="#231f20" stroke-width="0.8"/><text x="266.70" y="446.20" font-size="6.8" text-anchor="middle">1</text><line x1="273.20" y1="434.20" x2="275.20" y2="434.20" stroke="#231f20" stroke-width="0.8"/><text x="266.70" y="436.60" font-size="6.8" text-anchor="middle">2</text><line x1="273.20" y1="424.60" x2="275.20" y2="424.60" stroke="#231f20" stroke-width="0.8"/><text x="266.70" y="427.00" font-size="6.8" text-anchor="middle">3</text><text font-size="6.9" font-weight="bold" text-anchor="middle" textLength="40.5" lengthAdjust="spacingAndGlyphs" transform="translate(258.3,433.90) rotate(-90)">Expression level</text><line x1="275.00" y1="455.50" x2="321.00" y2="455.50" stroke="#231f20" stroke-width="1"/><line x1="287.50" y1="455.30" x2="287.50" y2="457.50" stroke="#231f20" stroke-width="0.7"/><line x1="309.50" y1="455.30" x2="309.50" y2="457.50" stroke="#231f20" stroke-width="0.7"/><text x="298.30" y="408.90" font-size="7.7" text-anchor="middle">CCR4</text><rect x="277.50" y="452.70" width="20" height="1.7" fill="#b7c2cf"/><rect x="287.10" y="416.25" width="0.8" height="37.15" fill="#8ba3bc"/><path d="M309.80 416.25 L310.00 424.60 L310.30 430.36 L310.90 435.16 L311.40 439.00 L311.50 440.92 L311.10 443.32 L310.30 445.72 L309.85 448.60 L309.15 448.60 L308.70 445.72 L307.90 443.32 L307.50 440.92 L307.60 439.00 L308.10 435.16 L308.70 430.36 L309.00 424.60 L309.20 416.25Z" fill="#d20b35"/><rect x="309.05" y="448.60" width="0.9" height="4.80" fill="#e0607a"/><path d="M299.50 454.30 L300.00 453.20 Q306.50 452.80 309.10 450.80 L309.90 450.80 Q312.50 452.80 319.00 453.20 L319.50 454.30Z" fill="#d20b35"/><text x="287.50" y="467.10" font-size="7.6" text-anchor="middle" textLength="16.60" lengthAdjust="spacingAndGlyphs" font-weight="bold">Normal</text><text x="287.50" y="475.80" font-size="7.6" text-anchor="middle" textLength="16.60" lengthAdjust="spacingAndGlyphs" font-weight="bold">CD4+ T</text><text x="309.50" y="467.10" font-size="7.6" text-anchor="middle" textLength="14.30" lengthAdjust="spacingAndGlyphs" font-weight="bold">CTCLs</text><line x1="324.20" y1="455.50" x2="370.70" y2="455.50" stroke="#231f20" stroke-width="1"/><line x1="337.20" y1="455.30" x2="337.20" y2="457.50" stroke="#231f20" stroke-width="0.7"/><line x1="359.20" y1="455.30" x2="359.20" y2="457.50" stroke="#231f20" stroke-width="0.7"/><text x="348.00" y="408.90" font-size="7.7" text-anchor="middle">KIR3DL2</text><rect x="327.20" y="452.70" width="20" height="1.7" fill="#b7c2cf"/><rect x="336.80" y="416.25" width="0.8" height="37.15" fill="#8ba3bc"/><path d="M359.50 416.25 L359.80 424.60 L360.30 430.36 L361.00 434.20 L361.70 438.04 L361.70 440.44 L361.10 442.84 L360.00 445.72 L359.55 448.60 L358.85 448.60 L358.40 445.72 L357.30 442.84 L356.70 440.44 L356.70 438.04 L357.40 434.20 L358.10 430.36 L358.60 424.60 L358.90 416.25Z" fill="#d20b35"/><rect x="358.75" y="448.60" width="0.9" height="4.80" fill="#e0607a"/><path d="M349.20 454.30 L349.70 453.20 Q356.20 452.80 358.80 450.80 L359.60 450.80 Q362.20 452.80 368.70 453.20 L369.20 454.30Z" fill="#d20b35"/><text x="337.20" y="467.10" font-size="7.6" text-anchor="middle" textLength="16.60" lengthAdjust="spacingAndGlyphs" font-weight="bold">Normal</text><text x="337.20" y="475.80" font-size="7.6" text-anchor="middle" textLength="16.60" lengthAdjust="spacingAndGlyphs" font-weight="bold">CD4+ T</text><text x="359.20" y="467.10" font-size="7.6" text-anchor="middle" textLength="14.30" lengthAdjust="spacingAndGlyphs" font-weight="bold">CTCLs</text><line x1="373.90" y1="455.50" x2="420.40" y2="455.50" stroke="#231f20" stroke-width="1"/><line x1="386.90" y1="455.30" x2="386.90" y2="457.50" stroke="#231f20" stroke-width="0.7"/><line x1="408.90" y1="455.30" x2="408.90" y2="457.50" stroke="#231f20" stroke-width="0.7"/><text x="397.70" y="408.90" font-size="7.7" text-anchor="middle">CD82</text><rect x="376.90" y="452.70" width="20" height="1.7" fill="#b7c2cf"/><rect x="386.50" y="416.25" width="0.8" height="37.15" fill="#8ba3bc"/><path d="M409.20 416.25 L409.40 424.60 L409.80 430.36 L410.40 434.20 L411.10 438.04 L411.20 440.44 L410.50 442.84 L409.60 445.72 L409.25 448.60 L408.55 448.60 L408.20 445.72 L407.30 442.84 L406.60 440.44 L406.70 438.04 L407.40 434.20 L408.00 430.36 L408.40 424.60 L408.60 416.25Z" fill="#d20b35"/><rect x="408.45" y="448.60" width="0.9" height="4.80" fill="#e0607a"/><path d="M398.90 454.30 L399.40 453.20 Q405.90 452.80 408.50 450.80 L409.30 450.80 Q411.90 452.80 418.40 453.20 L418.90 454.30Z" fill="#d20b35"/><text x="386.90" y="467.10" font-size="7.6" text-anchor="middle" textLength="16.60" lengthAdjust="spacingAndGlyphs" font-weight="bold">Normal</text><text x="386.90" y="475.80" font-size="7.6" text-anchor="middle" textLength="16.60" lengthAdjust="spacingAndGlyphs" font-weight="bold">CD4+ T</text><text x="408.90" y="467.10" font-size="7.6" text-anchor="middle" textLength="14.30" lengthAdjust="spacingAndGlyphs" font-weight="bold">CTCLs</text><text x="248.80" y="499.30" font-size="10.4" font-weight="bold">D</text><line x1="274.50" y1="506.00" x2="274.50" y2="571.40" stroke="#231f20" stroke-width="1"/><line x1="273.80" y1="571.50" x2="328.80" y2="571.50" stroke="#231f20" stroke-width="1"/><line x1="272.00" y1="570.90" x2="274.30" y2="570.90" stroke="#231f20" stroke-width="0.8"/><text x="266.60" y="573.50" font-size="7.4" text-anchor="middle">0</text><line x1="272.00" y1="555.35" x2="274.30" y2="555.35" stroke="#231f20" stroke-width="0.8"/><text x="266.60" y="557.95" font-size="7.4" text-anchor="middle">2</text><line x1="272.00" y1="539.80" x2="274.30" y2="539.80" stroke="#231f20" stroke-width="0.8"/><text x="266.60" y="542.40" font-size="7.4" text-anchor="middle">4</text><line x1="272.00" y1="524.25" x2="274.30" y2="524.25" stroke="#231f20" stroke-width="0.8"/><text x="266.60" y="526.85" font-size="7.4" text-anchor="middle">6</text><line x1="272.00" y1="508.70" x2="274.30" y2="508.70" stroke="#231f20" stroke-width="0.8"/><text x="266.60" y="511.30" font-size="7.4" text-anchor="middle">8</text><text font-size="6.9" font-weight="bold" text-anchor="middle" textLength="50.5" lengthAdjust="spacingAndGlyphs" transform="translate(257.6,538.5) rotate(-90)">% Proliferated cells</text><line x1="286.60" y1="571.10" x2="286.60" y2="573.60" stroke="#231f20" stroke-width="0.8"/><line x1="301.80" y1="571.10" x2="301.80" y2="573.60" stroke="#231f20" stroke-width="0.8"/><line x1="317.10" y1="571.10" x2="317.10" y2="573.60" stroke="#231f20" stroke-width="0.8"/><text font-size="7.9" text-anchor="end" transform="translate(288.40,579.40) rotate(-45)">No stim</text><text font-size="7.9" text-anchor="end" transform="translate(303.60,579.40) rotate(-45)">No rest + stim</text><text font-size="7.9" text-anchor="end" transform="translate(318.90,579.40) rotate(-45)">Rest + stim</text><text x="289.80" y="501.80" font-size="6.4" textLength="24.20" lengthAdjust="spacingAndGlyphs">P=0.002</text><line x1="286.60" y1="503.50" x2="317.10" y2="503.50" stroke="#231f20" stroke-width="1"/><text x="284.30" y="514.60" font-size="6.4" textLength="19.50" lengthAdjust="spacingAndGlyphs">P=0.05</text><line x1="286.60" y1="517.50" x2="301.80" y2="517.50" stroke="#231f20" stroke-width="1"/><polyline points="286.6,563.59 301.8,526.97 317.1,518.03" fill="none" stroke="#231f20" stroke-width="0.9"/><polyline points="286.6,563.59 301.8,549.91 317.1,511.03" fill="none" stroke="#231f20" stroke-width="0.9"/><polyline points="286.6,563.59 301.8,555.35 317.1,534.36" fill="none" stroke="#231f20" stroke-width="0.9"/><circle cx="286.6" cy="563.59" r="1.5" fill="#e0142d"/><circle cx="301.8" cy="526.97" r="1.4" fill="#2a6db5"/><circle cx="301.8" cy="549.91" r="1.4" fill="#2a6db5"/><circle cx="301.8" cy="555.35" r="1.4" fill="#2a6db5"/><circle cx="317.1" cy="518.03" r="1.4" fill="#4fc24f"/><circle cx="317.1" cy="511.03" r="1.4" fill="#4fc24f"/><circle cx="317.1" cy="534.36" r="1.4" fill="#4fc24f"/><text x="349.60" y="499.20" font-size="10.4" font-weight="bold">E</text><defs><radialGradient id="fb" cx="0.5" cy="0.5" r="0.5"><stop offset="0" stop-color="#3ee05a"/><stop offset="0.28" stop-color="#2ad07a"/><stop offset="0.45" stop-color="#18b0d8"/><stop offset="0.62" stop-color="#1450f0"/><stop offset="0.85" stop-color="#2030e0" stop-opacity="0.85"/><stop offset="1" stop-color="#4050f0" stop-opacity="0"/></radialGradient><filter id="soft" x="-0.5" y="-0.5" width="2" height="2"><feGaussianBlur stdDeviation="0.5"/></filter></defs><text x="385.00" y="510.00" font-size="7.6" text-anchor="middle">No stim</text><text x="366.10" y="523.30" font-size="7.6">0.97</text><ellipse cx="388.40" cy="548.0" rx="3.4" ry="6.0" fill="url(#fb)"/><rect x="359.50" y="513.5" width="51.00" height="51" fill="none" stroke="#231f20" stroke-width="1"/><rect x="362.50" y="526.5" width="23.00" height="34" fill="none" stroke="#231f20" stroke-width="1"/><text x="439.50" y="510.00" font-size="7.6" text-anchor="middle">No rest + stim</text><text x="420.10" y="523.30" font-size="7.6">1.99</text><circle cx="423" cy="540" r="1.2" fill="#d8d8e8"/><circle cx="424" cy="549" r="1" fill="#e2e2ee"/><ellipse cx="444.40" cy="548.0" rx="3.4" ry="6.0" fill="url(#fb)"/><rect x="413.50" y="513.5" width="52.00" height="51" fill="none" stroke="#231f20" stroke-width="1"/><rect x="416.50" y="526.5" width="25.00" height="34" fill="none" stroke="#231f20" stroke-width="1"/><text x="493.50" y="510.00" font-size="7.6" text-anchor="middle">Rest + stim</text><text x="474.10" y="523.30" font-size="7.6">7.57</text><path d="M476.5 546.5 C478 544.2 481 544.6 484 545 C487 544.4 491 544.6 496 545.2 L496 550.2 C492 550.8 488 550.2 485 550.6 C481 551 478.5 550.6 476.6 549.6 Z" fill="#2626e2" opacity="0.85" filter="url(#soft)"/><path d="M482 547.6 h2 M486 546.8 h1.6 M489.5 548.2 h2" stroke="#8a8af0" stroke-width="0.8"/><ellipse cx="499.60" cy="548.0" rx="3.4" ry="6.0" fill="url(#fb)"/><rect x="468.50" y="513.5" width="50.00" height="51" fill="none" stroke="#231f20" stroke-width="1"/><rect x="470.50" y="526.5" width="26.00" height="34" fill="none" stroke="#231f20" stroke-width="1"/><text font-size="8.2" text-anchor="middle" transform="translate(356.3,539.5) rotate(-90)">CD7</text><text x="359.70" y="574.00" font-size="7.6" textLength="50.70" lengthAdjust="spacingAndGlyphs">CellTrace violet</text><line x1="414.20" y1="571.50" x2="513.00" y2="571.50" stroke="#231f20" stroke-width="1"/><path d="M517.5 571.5 L511 568.9 L511 574.1 Z" fill="#231f20"/><rect x="33.8" y="131.2" width="69.90" height="5.7" fill="#1f8ae6"/><rect x="103.7" y="131.2" width="67.20" height="5.7" fill="#1fbcf0"/><rect x="170.9" y="131.2" width="69.10" height="5.7" fill="#f5160c"/><rect x="33.8" y="141.2" width="206.20" height="452.27" fill="#b68cfa"/><g transform="translate(33.8,141.2) scale(1.03100,5.725)"><path fill="#4824e4" d="M0 0h1v1h-1zM35 0h1v1h-1zM42 0h1v1h-1zM131 0h1v1h-1zM60 8h1v1h-1zM68 8h1v1h-1zM81 8h1v1h-1zM126 8h1v1h-1zM84 14h2v1h-2zM14 20h1v1h-1zM94 21h1v1h-1zM72 24h1v1h-1zM74 24h1v1h-1zM17 27h1v1h-1zM111 27h1v1h-1zM19 28h2v1h-2zM38 31h2v1h-2zM11 36h1v1h-1zM31 36h1v1h-1zM103 36h1v1h-1zM49 37h1v1h-1zM116 38h1v1h-1zM15 39h1v1h-1zM86 48h1v1h-1zM118 51h1v1h-1zM183 56h1v1h-1zM87 61h2v1h-2zM152 71h1v1h-1zM187 71h1v1h-1z"/><path fill="#5430f0" d="M1 0h1v1h-1zM67 0h1v1h-1zM194 2h1v1h-1zM5 6h1v1h-1zM29 6h1v1h-1zM110 6h1v1h-1zM197 7h2v1h-2zM24 8h1v1h-1zM66 8h1v1h-1zM83 8h1v1h-1zM116 8h1v1h-1zM65 10h1v1h-1zM18 14h1v1h-1zM83 14h1v1h-1zM112 15h1v1h-1zM130 16h1v1h-1zM72 20h2v1h-2zM86 20h1v1h-1zM152 20h1v1h-1zM145 24h1v1h-1zM133 26h1v1h-1zM24 27h1v1h-1zM28 27h2v1h-2zM32 27h1v1h-1zM47 27h1v1h-1zM53 27h1v1h-1zM75 27h1v1h-1zM80 27h1v1h-1zM114 27h2v1h-2zM26 28h1v1h-1zM192 29h4v1h-4zM20 31h1v1h-1zM106 32h1v1h-1zM73 34h1v1h-1zM32 35h1v1h-1zM44 36h1v1h-1zM115 36h2v1h-2zM130 36h1v1h-1zM7 37h1v1h-1zM39 37h1v1h-1zM112 37h1v1h-1zM74 39h1v1h-1zM36 48h1v1h-1zM40 48h2v1h-2zM43 48h1v1h-1zM103 48h1v1h-1zM197 48h1v1h-1zM88 51h1v1h-1zM166 54h1v1h-1zM13 55h2v1h-2zM40 55h1v1h-1zM115 55h2v1h-2zM129 55h1v1h-1zM185 56h1v1h-1zM126 58h1v1h-1zM1 59h1v1h-1zM98 59h2v1h-2zM110 61h1v1h-1zM134 71h2v1h-2zM139 71h1v1h-1z"/><path fill="#e4ccf0" d="M2 0h3v1h-3zM18 0h2v1h-2zM26 0h1v1h-1zM36 0h1v1h-1zM58 0h2v1h-2zM103 0h1v1h-1zM107 0h2v1h-2zM115 0h1v1h-1zM124 0h1v1h-1zM146 0h1v1h-1zM148 0h1v1h-1zM153 0h1v1h-1zM193 0h1v1h-1zM188 1h1v1h-1zM80 2h1v1h-1zM156 2h1v1h-1zM33 3h1v1h-1zM69 3h2v1h-2zM133 4h1v1h-1zM197 4h3v1h-3zM124 5h1v1h-1zM144 5h1v1h-1zM38 6h2v1h-2zM56 6h1v1h-1zM160 6h1v1h-1zM162 6h1v1h-1zM164 6h1v1h-1zM29 7h1v1h-1zM95 7h1v1h-1zM114 7h1v1h-1zM159 7h2v1h-2zM64 8h1v1h-1zM108 8h1v1h-1zM129 8h1v1h-1zM186 9h1v1h-1zM11 11h1v1h-1zM198 11h1v1h-1zM65 12h1v1h-1zM100 12h3v1h-3zM17 13h1v1h-1zM44 13h1v1h-1zM158 13h1v1h-1zM1 14h1v1h-1zM3 14h1v1h-1zM30 14h1v1h-1zM38 14h1v1h-1zM67 14h1v1h-1zM121 14h3v1h-3zM161 14h3v1h-3zM190 14h1v1h-1zM98 15h1v1h-1zM134 15h2v1h-2zM142 15h2v1h-2zM155 15h2v1h-2zM195 15h1v1h-1zM7 16h1v1h-1zM50 16h2v1h-2zM67 16h1v1h-1zM96 16h1v1h-1zM107 16h2v1h-2zM190 16h1v1h-1zM16 17h1v1h-1zM22 17h1v1h-1zM53 17h1v1h-1zM81 17h1v1h-1zM100 18h1v1h-1zM113 18h2v1h-2zM137 19h1v1h-1zM41 20h1v1h-1zM44 20h1v1h-1zM62 20h2v1h-2zM81 20h1v1h-1zM115 20h1v1h-1zM139 20h1v1h-1zM11 21h1v1h-1zM55 21h1v1h-1zM79 21h1v1h-1zM101 21h1v1h-1zM127 21h2v1h-2zM151 21h4v1h-4zM176 21h1v1h-1zM179 21h1v1h-1zM131 23h2v1h-2zM55 24h2v1h-2zM82 24h1v1h-1zM171 24h1v1h-1zM189 24h1v1h-1zM79 25h1v1h-1zM134 25h1v1h-1zM143 25h2v1h-2zM8 26h1v1h-1zM115 26h2v1h-2zM146 26h1v1h-1zM149 26h1v1h-1zM161 26h1v1h-1zM8 27h3v1h-3zM49 27h1v1h-1zM56 27h1v1h-1zM59 27h1v1h-1zM65 27h1v1h-1zM106 27h1v1h-1zM121 27h1v1h-1zM127 27h1v1h-1zM141 27h1v1h-1zM17 28h1v1h-1zM71 28h1v1h-1zM73 28h1v1h-1zM77 28h3v1h-3zM119 28h1v1h-1zM133 28h1v1h-1zM137 28h1v1h-1zM170 28h1v1h-1zM177 29h1v1h-1zM183 29h1v1h-1zM25 30h2v1h-2zM161 30h1v1h-1zM175 30h1v1h-1zM178 30h2v1h-2zM184 30h1v1h-1zM186 30h1v1h-1zM48 31h1v1h-1zM52 31h1v1h-1zM64 31h2v1h-2zM96 31h1v1h-1zM125 31h3v1h-3zM137 31h1v1h-1zM140 31h1v1h-1zM182 31h1v1h-1zM17 32h1v1h-1zM25 32h1v1h-1zM172 32h2v1h-2zM183 32h4v1h-4zM167 33h1v1h-1zM180 33h3v1h-3zM25 34h1v1h-1zM85 34h1v1h-1zM116 34h1v1h-1zM120 34h3v1h-3zM140 34h1v1h-1zM142 34h2v1h-2zM149 34h1v1h-1zM158 34h2v1h-2zM23 35h1v1h-1zM30 35h1v1h-1zM49 35h1v1h-1zM105 35h1v1h-1zM114 35h1v1h-1zM65 36h3v1h-3zM72 36h1v1h-1zM82 36h1v1h-1zM139 36h1v1h-1zM141 36h1v1h-1zM5 37h1v1h-1zM22 37h1v1h-1zM29 37h2v1h-2zM107 37h1v1h-1zM139 37h1v1h-1zM41 38h1v1h-1zM79 38h1v1h-1zM120 38h2v1h-2zM146 38h2v1h-2zM176 38h1v1h-1zM198 38h1v1h-1zM40 39h1v1h-1zM56 39h1v1h-1zM118 39h1v1h-1zM132 39h1v1h-1zM193 39h1v1h-1zM77 40h1v1h-1zM149 40h2v1h-2zM172 40h1v1h-1zM175 40h1v1h-1zM185 40h1v1h-1zM13 41h1v1h-1zM103 41h2v1h-2zM146 41h1v1h-1zM43 42h1v1h-1zM67 42h1v1h-1zM141 42h1v1h-1zM157 42h2v1h-2zM196 42h1v1h-1zM53 43h2v1h-2zM83 43h1v1h-1zM167 43h4v1h-4zM198 43h1v1h-1zM21 44h1v1h-1zM52 44h2v1h-2zM58 44h2v1h-2zM79 44h1v1h-1zM146 44h1v1h-1zM163 44h1v1h-1zM168 44h2v1h-2zM181 44h1v1h-1zM189 44h1v1h-1zM5 45h1v1h-1zM7 45h1v1h-1zM16 45h2v1h-2zM119 45h1v1h-1zM146 45h1v1h-1zM148 45h2v1h-2zM199 45h1v1h-1zM3 46h1v1h-1zM57 46h1v1h-1zM149 46h1v1h-1zM154 46h2v1h-2zM168 46h1v1h-1zM191 46h1v1h-1zM14 47h1v1h-1zM91 47h1v1h-1zM4 48h2v1h-2zM7 48h1v1h-1zM70 48h2v1h-2zM88 48h1v1h-1zM101 48h2v1h-2zM119 48h1v1h-1zM122 48h1v1h-1zM133 48h2v1h-2zM157 48h3v1h-3zM162 48h1v1h-1zM188 48h5v1h-5zM194 48h1v1h-1zM0 49h2v1h-2zM16 49h1v1h-1zM83 49h1v1h-1zM133 49h1v1h-1zM33 50h1v1h-1zM43 50h2v1h-2zM76 50h1v1h-1zM89 50h2v1h-2zM146 50h1v1h-1zM62 51h1v1h-1zM72 51h1v1h-1zM84 51h1v1h-1zM91 51h1v1h-1zM99 51h1v1h-1zM110 51h1v1h-1zM124 51h2v1h-2zM177 51h1v1h-1zM57 52h1v1h-1zM138 52h1v1h-1zM192 52h1v1h-1zM124 53h2v1h-2zM144 53h1v1h-1zM158 53h2v1h-2zM174 53h2v1h-2zM25 54h1v1h-1zM30 54h1v1h-1zM42 54h2v1h-2zM76 54h3v1h-3zM86 54h1v1h-1zM96 54h1v1h-1zM162 54h1v1h-1zM198 54h1v1h-1zM31 55h1v1h-1zM48 55h1v1h-1zM70 55h1v1h-1zM74 55h1v1h-1zM88 55h1v1h-1zM96 55h2v1h-2zM113 55h1v1h-1zM153 55h1v1h-1zM171 55h1v1h-1zM17 56h2v1h-2zM40 56h1v1h-1zM44 56h3v1h-3zM49 56h2v1h-2zM115 56h1v1h-1zM121 56h1v1h-1zM93 57h1v1h-1zM118 57h1v1h-1zM123 57h1v1h-1zM140 57h2v1h-2zM151 57h1v1h-1zM27 58h3v1h-3zM43 58h1v1h-1zM46 58h1v1h-1zM54 58h1v1h-1zM107 58h1v1h-1zM124 58h1v1h-1zM35 59h1v1h-1zM66 59h2v1h-2zM101 59h1v1h-1zM119 59h1v1h-1zM145 59h2v1h-2zM166 59h1v1h-1zM23 60h1v1h-1zM47 60h2v1h-2zM59 60h1v1h-1zM84 60h1v1h-1zM111 60h1v1h-1zM119 60h3v1h-3zM123 60h1v1h-1zM153 60h2v1h-2zM156 60h1v1h-1zM174 60h2v1h-2zM47 61h1v1h-1zM84 61h1v1h-1zM121 61h1v1h-1zM192 61h1v1h-1zM17 62h1v1h-1zM92 62h1v1h-1zM165 62h2v1h-2zM194 62h2v1h-2zM8 63h1v1h-1zM39 63h3v1h-3zM69 63h1v1h-1zM73 63h3v1h-3zM99 63h1v1h-1zM113 63h2v1h-2zM134 63h1v1h-1zM198 63h1v1h-1zM1 64h1v1h-1zM3 64h1v1h-1zM51 64h2v1h-2zM63 64h1v1h-1zM0 65h1v1h-1zM35 65h1v1h-1zM51 65h1v1h-1zM110 65h1v1h-1zM133 65h1v1h-1zM135 65h1v1h-1zM9 66h2v1h-2zM19 66h1v1h-1zM38 66h1v1h-1zM98 66h1v1h-1zM38 67h1v1h-1zM54 68h2v1h-2zM40 69h1v1h-1zM76 69h1v1h-1zM106 69h1v1h-1zM72 70h1v1h-1zM1 71h1v1h-1zM3 71h2v1h-2zM16 71h2v1h-2zM22 71h1v1h-1zM31 71h1v1h-1zM33 71h1v1h-1zM52 71h1v1h-1zM56 71h1v1h-1zM58 71h1v1h-1zM60 71h1v1h-1zM62 71h1v1h-1zM68 71h2v1h-2zM72 71h1v1h-1zM74 71h1v1h-1zM79 71h1v1h-1zM97 71h1v1h-1zM117 71h1v1h-1zM123 71h1v1h-1zM127 71h1v1h-1zM147 71h1v1h-1zM149 71h1v1h-1zM169 71h1v1h-1zM172 71h2v1h-2zM2 72h1v1h-1zM80 72h1v1h-1zM105 72h2v1h-2zM179 72h2v1h-2zM41 73h1v1h-1zM56 73h2v1h-2zM42 74h4v1h-4zM66 74h2v1h-2zM44 75h2v1h-2zM97 75h1v1h-1zM81 77h3v1h-3zM91 77h1v1h-1zM104 77h1v1h-1zM160 77h1v1h-1zM61 78h1v1h-1z"/><path fill="#d8b4fc" d="M5 0h2v1h-2zM32 0h1v1h-1zM61 0h1v1h-1zM75 0h1v1h-1zM96 0h1v1h-1zM125 0h1v1h-1zM154 0h3v1h-3zM102 1h1v1h-1zM170 1h2v1h-2zM195 1h1v1h-1zM20 2h1v1h-1zM151 2h2v1h-2zM155 2h1v1h-1zM187 2h1v1h-1zM128 3h2v1h-2zM161 3h1v1h-1zM194 3h1v1h-1zM196 3h1v1h-1zM33 4h1v1h-1zM2 5h1v1h-1zM14 5h1v1h-1zM149 5h2v1h-2zM167 5h2v1h-2zM3 6h2v1h-2zM16 6h2v1h-2zM64 6h1v1h-1zM68 6h1v1h-1zM74 6h1v1h-1zM99 6h1v1h-1zM119 6h2v1h-2zM123 6h1v1h-1zM177 6h3v1h-3zM41 8h2v1h-2zM89 8h4v1h-4zM112 8h1v1h-1zM131 8h1v1h-1zM86 9h1v1h-1zM150 9h1v1h-1zM159 9h2v1h-2zM195 9h1v1h-1zM77 10h1v1h-1zM99 10h1v1h-1zM152 10h2v1h-2zM178 10h1v1h-1zM14 11h2v1h-2zM39 11h1v1h-1zM48 11h2v1h-2zM148 11h3v1h-3zM187 11h2v1h-2zM43 12h1v1h-1zM79 13h1v1h-1zM166 13h1v1h-1zM168 13h4v1h-4zM10 14h1v1h-1zM62 14h1v1h-1zM64 14h2v1h-2zM77 14h1v1h-1zM109 14h2v1h-2zM181 14h1v1h-1zM187 14h1v1h-1zM198 14h1v1h-1zM63 15h1v1h-1zM121 15h1v1h-1zM123 15h1v1h-1zM3 16h1v1h-1zM32 16h1v1h-1zM69 16h1v1h-1zM88 16h1v1h-1zM191 16h1v1h-1zM65 17h1v1h-1zM112 17h1v1h-1zM114 17h1v1h-1zM134 17h1v1h-1zM26 18h2v1h-2zM76 18h1v1h-1zM81 18h1v1h-1zM99 18h1v1h-1zM102 18h1v1h-1zM198 18h1v1h-1zM148 19h1v1h-1zM189 19h1v1h-1zM9 20h1v1h-1zM65 20h2v1h-2zM89 20h1v1h-1zM120 20h2v1h-2zM128 20h1v1h-1zM175 20h2v1h-2zM13 21h1v1h-1zM26 21h1v1h-1zM32 21h1v1h-1zM67 21h1v1h-1zM97 21h1v1h-1zM114 21h1v1h-1zM118 21h1v1h-1zM148 21h1v1h-1zM44 24h2v1h-2zM106 24h1v1h-1zM137 24h1v1h-1zM139 24h1v1h-1zM169 24h1v1h-1zM122 25h1v1h-1zM170 25h1v1h-1zM65 26h1v1h-1zM155 26h2v1h-2zM158 26h1v1h-1zM177 26h1v1h-1zM34 27h1v1h-1zM54 27h1v1h-1zM70 27h1v1h-1zM96 28h1v1h-1zM123 28h1v1h-1zM16 29h1v1h-1zM57 29h2v1h-2zM153 29h1v1h-1zM172 30h2v1h-2zM2 31h1v1h-1zM26 31h1v1h-1zM43 31h1v1h-1zM47 31h1v1h-1zM89 31h1v1h-1zM108 31h1v1h-1zM117 31h1v1h-1zM145 31h1v1h-1zM163 31h1v1h-1zM176 31h1v1h-1zM16 32h1v1h-1zM31 32h2v1h-2zM53 32h1v1h-1zM70 32h1v1h-1zM156 32h1v1h-1zM124 33h1v1h-1zM7 34h1v1h-1zM15 34h1v1h-1zM17 34h1v1h-1zM21 34h2v1h-2zM43 34h2v1h-2zM52 34h1v1h-1zM60 34h2v1h-2zM70 34h2v1h-2zM130 34h1v1h-1zM24 35h1v1h-1zM43 35h1v1h-1zM99 35h1v1h-1zM9 36h1v1h-1zM40 36h3v1h-3zM49 36h1v1h-1zM91 36h1v1h-1zM131 36h1v1h-1zM144 36h2v1h-2zM156 36h2v1h-2zM179 36h1v1h-1zM188 36h1v1h-1zM191 36h1v1h-1zM36 37h1v1h-1zM42 37h1v1h-1zM46 37h1v1h-1zM65 37h2v1h-2zM114 37h1v1h-1zM119 37h1v1h-1zM121 37h1v1h-1zM157 37h1v1h-1zM175 37h1v1h-1zM27 38h1v1h-1zM48 38h1v1h-1zM60 38h1v1h-1zM85 38h1v1h-1zM90 38h1v1h-1zM19 39h1v1h-1zM169 39h1v1h-1zM88 40h3v1h-3zM124 41h1v1h-1zM158 41h1v1h-1zM175 42h1v1h-1zM195 42h1v1h-1zM69 43h1v1h-1zM73 43h1v1h-1zM110 43h1v1h-1zM117 43h1v1h-1zM162 43h2v1h-2zM15 44h1v1h-1zM61 45h1v1h-1zM77 45h2v1h-2zM97 45h1v1h-1zM113 45h2v1h-2zM66 46h1v1h-1zM99 46h1v1h-1zM84 47h1v1h-1zM112 47h1v1h-1zM114 47h1v1h-1zM120 47h1v1h-1zM162 47h1v1h-1zM167 47h1v1h-1zM171 47h1v1h-1zM8 48h1v1h-1zM34 48h2v1h-2zM60 48h2v1h-2zM109 48h2v1h-2zM116 48h1v1h-1zM183 48h2v1h-2zM39 49h1v1h-1zM93 49h2v1h-2zM140 49h1v1h-1zM142 49h1v1h-1zM176 49h1v1h-1zM65 50h1v1h-1zM106 50h1v1h-1zM115 50h1v1h-1zM46 51h1v1h-1zM83 51h1v1h-1zM86 51h2v1h-2zM97 51h1v1h-1zM63 52h1v1h-1zM198 52h1v1h-1zM10 53h1v1h-1zM35 53h1v1h-1zM107 53h1v1h-1zM133 53h2v1h-2zM137 53h1v1h-1zM59 54h2v1h-2zM128 54h1v1h-1zM193 54h1v1h-1zM55 55h1v1h-1zM126 55h1v1h-1zM22 56h1v1h-1zM52 56h1v1h-1zM124 56h1v1h-1zM177 56h1v1h-1zM143 57h1v1h-1zM145 57h1v1h-1zM153 57h1v1h-1zM170 57h1v1h-1zM184 57h1v1h-1zM198 57h2v1h-2zM41 58h1v1h-1zM161 58h1v1h-1zM163 58h2v1h-2zM60 59h1v1h-1zM70 59h2v1h-2zM81 59h2v1h-2zM105 59h1v1h-1zM162 59h1v1h-1zM187 59h1v1h-1zM85 60h1v1h-1zM116 60h1v1h-1zM180 60h1v1h-1zM152 61h1v1h-1zM179 61h1v1h-1zM71 62h2v1h-2zM120 63h1v1h-1zM147 63h1v1h-1zM150 63h1v1h-1zM88 64h1v1h-1zM88 65h1v1h-1zM120 65h1v1h-1zM193 65h1v1h-1zM195 65h1v1h-1zM197 65h1v1h-1zM58 66h1v1h-1zM24 67h1v1h-1zM25 68h1v1h-1zM82 68h1v1h-1zM160 68h1v1h-1zM162 68h1v1h-1zM8 69h1v1h-1zM40 70h1v1h-1zM132 70h1v1h-1zM27 71h1v1h-1zM77 71h1v1h-1zM114 71h3v1h-3zM136 71h2v1h-2zM159 71h3v1h-3zM168 71h1v1h-1zM97 72h1v1h-1zM104 72h1v1h-1zM62 73h1v1h-1zM15 75h2v1h-2zM34 75h3v1h-3zM105 75h1v1h-1zM107 75h1v1h-1zM10 76h1v1h-1zM15 76h1v1h-1zM79 77h2v1h-2zM132 77h1v1h-1z"/><path fill="#8460fc" d="M7 0h1v1h-1zM93 0h2v1h-2zM128 0h1v1h-1zM140 0h1v1h-1zM136 1h1v1h-1zM175 3h1v1h-1zM70 6h1v1h-1zM102 6h1v1h-1zM132 6h1v1h-1zM14 8h1v1h-1zM16 8h1v1h-1zM172 8h1v1h-1zM72 9h1v1h-1zM8 14h1v1h-1zM13 14h1v1h-1zM91 14h1v1h-1zM178 14h1v1h-1zM24 16h1v1h-1zM11 17h1v1h-1zM31 17h1v1h-1zM72 18h1v1h-1zM82 21h1v1h-1zM143 21h1v1h-1zM147 24h1v1h-1zM66 27h1v1h-1zM122 27h1v1h-1zM197 27h1v1h-1zM35 28h1v1h-1zM43 28h1v1h-1zM81 28h1v1h-1zM99 28h1v1h-1zM116 31h1v1h-1zM23 32h1v1h-1zM29 32h1v1h-1zM71 32h1v1h-1zM46 33h1v1h-1zM40 34h1v1h-1zM110 34h1v1h-1zM114 34h2v1h-2zM177 34h1v1h-1zM50 35h1v1h-1zM88 35h1v1h-1zM26 36h1v1h-1zM28 36h1v1h-1zM85 36h1v1h-1zM92 36h1v1h-1zM59 37h1v1h-1zM63 37h1v1h-1zM97 37h1v1h-1zM18 38h1v1h-1zM75 38h1v1h-1zM93 38h1v1h-1zM73 39h1v1h-1zM79 39h1v1h-1zM90 39h1v1h-1zM166 39h1v1h-1zM103 40h1v1h-1zM171 42h1v1h-1zM38 44h1v1h-1zM40 44h1v1h-1zM104 44h1v1h-1zM61 47h1v1h-1zM70 47h1v1h-1zM47 48h1v1h-1zM136 48h2v1h-2zM9 51h1v1h-1zM13 51h1v1h-1zM119 55h1v1h-1zM110 56h1v1h-1zM9 58h1v1h-1zM191 58h1v1h-1zM63 59h1v1h-1zM77 60h1v1h-1zM81 61h1v1h-1zM139 62h1v1h-1zM89 64h1v1h-1zM149 64h1v1h-1zM16 65h1v1h-1zM152 69h1v1h-1z"/><path fill="#a878fc" d="M8 0h1v1h-1zM63 0h1v1h-1zM86 0h1v1h-1zM169 0h1v1h-1zM2 1h1v1h-1zM16 1h1v1h-1zM34 1h1v1h-1zM48 1h1v1h-1zM71 1h1v1h-1zM77 1h1v1h-1zM118 1h1v1h-1zM120 1h1v1h-1zM2 3h1v1h-1zM4 3h1v1h-1zM13 3h1v1h-1zM43 3h1v1h-1zM46 3h1v1h-1zM53 3h1v1h-1zM65 3h1v1h-1zM71 3h1v1h-1zM79 3h1v1h-1zM83 3h1v1h-1zM88 3h1v1h-1zM96 3h1v1h-1zM102 3h1v1h-1zM126 3h1v1h-1zM142 4h1v1h-1zM155 5h1v1h-1zM171 5h1v1h-1zM195 6h2v1h-2zM182 7h1v1h-1zM3 8h1v1h-1zM28 8h1v1h-1zM30 8h1v1h-1zM117 8h1v1h-1zM120 8h1v1h-1zM166 8h1v1h-1zM32 10h1v1h-1zM61 10h1v1h-1zM147 10h1v1h-1zM163 10h1v1h-1zM159 11h1v1h-1zM191 12h1v1h-1zM81 13h1v1h-1zM146 13h1v1h-1zM192 13h1v1h-1zM197 15h1v1h-1zM199 15h1v1h-1zM71 16h1v1h-1zM131 16h1v1h-1zM190 17h1v1h-1zM20 18h1v1h-1zM58 18h1v1h-1zM2 20h3v1h-3zM10 20h1v1h-1zM13 20h1v1h-1zM18 20h1v1h-1zM21 20h1v1h-1zM26 20h1v1h-1zM28 20h1v1h-1zM37 20h1v1h-1zM78 20h2v1h-2zM109 20h2v1h-2zM132 20h1v1h-1zM154 20h1v1h-1zM0 21h1v1h-1zM19 21h3v1h-3zM28 21h1v1h-1zM35 21h1v1h-1zM43 21h1v1h-1zM63 21h1v1h-1zM93 21h1v1h-1zM119 21h1v1h-1zM130 21h1v1h-1zM77 22h1v1h-1zM90 22h1v1h-1zM145 22h1v1h-1zM174 22h1v1h-1zM77 23h1v1h-1zM157 24h1v1h-1zM160 25h1v1h-1zM185 25h1v1h-1zM190 25h1v1h-1zM139 26h1v1h-1zM181 26h1v1h-1zM0 27h1v1h-1zM39 27h2v1h-2zM99 27h1v1h-1zM146 27h1v1h-1zM179 27h1v1h-1zM1 28h1v1h-1zM14 28h1v1h-1zM65 28h1v1h-1zM133 30h1v1h-1zM6 31h2v1h-2zM30 31h1v1h-1zM35 31h1v1h-1zM45 31h1v1h-1zM81 31h2v1h-2zM106 31h1v1h-1zM128 31h1v1h-1zM185 31h1v1h-1zM62 32h1v1h-1zM96 32h1v1h-1zM35 34h1v1h-1zM46 34h1v1h-1zM104 34h1v1h-1zM113 34h1v1h-1zM194 35h1v1h-1zM55 36h1v1h-1zM1 37h1v1h-1zM3 37h1v1h-1zM10 37h1v1h-1zM12 37h1v1h-1zM31 37h1v1h-1zM54 37h1v1h-1zM58 37h1v1h-1zM67 37h1v1h-1zM71 37h1v1h-1zM83 37h1v1h-1zM86 37h1v1h-1zM92 37h1v1h-1zM109 37h2v1h-2zM132 37h1v1h-1zM190 37h1v1h-1zM117 39h1v1h-1zM171 39h1v1h-1zM152 40h1v1h-1zM160 40h1v1h-1zM66 41h1v1h-1zM95 41h1v1h-1zM109 41h1v1h-1zM160 42h1v1h-1zM40 43h1v1h-1zM93 45h1v1h-1zM73 47h1v1h-1zM28 48h1v1h-1zM39 48h1v1h-1zM63 48h1v1h-1zM68 48h1v1h-1zM82 48h1v1h-1zM104 48h1v1h-1zM1 50h1v1h-1zM31 50h1v1h-1zM37 50h1v1h-1zM70 50h1v1h-1zM109 50h1v1h-1zM119 50h1v1h-1zM136 50h1v1h-1zM195 51h2v1h-2zM71 52h1v1h-1zM142 52h1v1h-1zM21 54h2v1h-2zM28 54h1v1h-1zM31 54h1v1h-1zM33 54h1v1h-1zM37 54h1v1h-1zM40 54h1v1h-1zM47 54h1v1h-1zM113 54h1v1h-1zM124 54h1v1h-1zM157 54h1v1h-1zM155 55h1v1h-1zM93 56h1v1h-1zM81 57h1v1h-1zM171 57h1v1h-1zM176 57h1v1h-1zM33 58h1v1h-1zM153 58h1v1h-1zM19 59h1v1h-1zM22 59h3v1h-3zM118 59h1v1h-1zM132 59h1v1h-1zM164 59h1v1h-1zM178 59h1v1h-1zM188 59h1v1h-1zM132 60h1v1h-1zM162 60h1v1h-1zM162 61h1v1h-1zM134 62h1v1h-1zM94 63h1v1h-1zM18 64h1v1h-1zM113 64h1v1h-1zM150 64h1v1h-1zM181 64h1v1h-1zM19 65h1v1h-1zM42 65h1v1h-1zM66 65h1v1h-1zM100 66h1v1h-1zM151 66h1v1h-1zM163 66h1v1h-1zM170 66h1v1h-1zM184 66h1v1h-1zM97 67h1v1h-1zM145 67h1v1h-1zM154 67h1v1h-1zM193 67h1v1h-1zM86 68h1v1h-1zM140 68h1v1h-1zM148 68h1v1h-1zM198 68h1v1h-1zM165 69h1v1h-1zM167 69h1v1h-1zM197 69h1v1h-1zM153 72h1v1h-1zM165 72h1v1h-1zM199 72h1v1h-1zM153 73h1v1h-1zM39 74h1v1h-1zM134 74h1v1h-1zM140 74h1v1h-1zM142 74h1v1h-1zM150 74h1v1h-1zM154 74h1v1h-1zM193 74h1v1h-1zM0 75h1v1h-1zM169 75h1v1h-1zM195 75h1v1h-1zM146 76h1v1h-1zM148 76h1v1h-1zM178 76h1v1h-1zM187 76h2v1h-2zM137 77h1v1h-1zM163 77h1v1h-1zM173 77h2v1h-2zM176 77h1v1h-1zM182 78h1v1h-1z"/><path fill="#b484fc" d="M9 0h1v1h-1zM27 0h1v1h-1zM33 0h1v1h-1zM65 0h1v1h-1zM85 0h1v1h-1zM126 0h1v1h-1zM180 0h1v1h-1zM183 0h1v1h-1zM0 1h1v1h-1zM4 1h1v1h-1zM10 1h1v1h-1zM12 1h1v1h-1zM18 1h2v1h-2zM22 1h1v1h-1zM27 1h3v1h-3zM32 1h1v1h-1zM37 1h2v1h-2zM41 1h1v1h-1zM50 1h1v1h-1zM52 1h1v1h-1zM55 1h1v1h-1zM69 1h1v1h-1zM84 1h1v1h-1zM92 1h1v1h-1zM95 1h1v1h-1zM99 1h1v1h-1zM107 1h1v1h-1zM115 1h1v1h-1zM122 1h1v1h-1zM162 1h2v1h-2zM187 1h1v1h-1zM135 2h1v1h-1zM173 2h1v1h-1zM5 3h1v1h-1zM8 3h1v1h-1zM18 3h1v1h-1zM36 3h1v1h-1zM62 3h1v1h-1zM66 3h1v1h-1zM68 3h1v1h-1zM89 3h1v1h-1zM104 3h1v1h-1zM107 3h1v1h-1zM118 3h1v1h-1zM186 3h1v1h-1zM6 4h1v1h-1zM13 4h1v1h-1zM15 4h1v1h-1zM20 4h2v1h-2zM25 4h1v1h-1zM32 4h1v1h-1zM40 4h1v1h-1zM42 4h1v1h-1zM46 4h2v1h-2zM49 4h1v1h-1zM54 4h1v1h-1zM56 4h1v1h-1zM64 4h2v1h-2zM71 4h1v1h-1zM78 4h2v1h-2zM89 4h2v1h-2zM96 4h2v1h-2zM100 4h2v1h-2zM119 4h2v1h-2zM125 4h2v1h-2zM128 4h1v1h-1zM130 4h1v1h-1zM132 4h1v1h-1zM139 4h1v1h-1zM196 4h1v1h-1zM10 5h1v1h-1zM15 5h1v1h-1zM24 5h1v1h-1zM27 5h2v1h-2zM30 5h1v1h-1zM35 5h1v1h-1zM38 5h1v1h-1zM40 5h1v1h-1zM44 5h1v1h-1zM51 5h1v1h-1zM63 5h2v1h-2zM69 5h1v1h-1zM71 5h3v1h-3zM75 5h1v1h-1zM77 5h1v1h-1zM81 5h1v1h-1zM86 5h1v1h-1zM96 5h1v1h-1zM104 5h1v1h-1zM109 5h1v1h-1zM115 5h1v1h-1zM177 5h1v1h-1zM183 5h1v1h-1zM8 6h2v1h-2zM25 6h1v1h-1zM60 6h2v1h-2zM66 6h1v1h-1zM89 6h1v1h-1zM98 6h1v1h-1zM134 6h1v1h-1zM191 6h1v1h-1zM0 7h1v1h-1zM4 7h2v1h-2zM12 7h1v1h-1zM15 7h1v1h-1zM20 7h1v1h-1zM23 7h1v1h-1zM27 7h1v1h-1zM36 7h2v1h-2zM40 7h1v1h-1zM44 7h1v1h-1zM46 7h1v1h-1zM53 7h3v1h-3zM71 7h1v1h-1zM73 7h3v1h-3zM78 7h1v1h-1zM80 7h1v1h-1zM88 7h1v1h-1zM106 7h1v1h-1zM108 7h1v1h-1zM116 7h3v1h-3zM125 7h2v1h-2zM131 7h1v1h-1zM150 7h1v1h-1zM164 7h1v1h-1zM181 7h1v1h-1zM189 7h1v1h-1zM2 8h1v1h-1zM18 8h1v1h-1zM45 8h1v1h-1zM49 8h1v1h-1zM59 8h1v1h-1zM87 8h1v1h-1zM104 8h1v1h-1zM121 8h1v1h-1zM182 8h1v1h-1zM12 9h1v1h-1zM15 9h1v1h-1zM19 9h2v1h-2zM22 9h1v1h-1zM53 9h2v1h-2zM73 9h1v1h-1zM79 9h1v1h-1zM98 9h1v1h-1zM101 9h1v1h-1zM122 9h1v1h-1zM171 9h1v1h-1zM198 9h1v1h-1zM9 10h1v1h-1zM21 10h1v1h-1zM25 10h1v1h-1zM28 10h2v1h-2zM33 10h1v1h-1zM41 10h1v1h-1zM43 10h1v1h-1zM45 10h1v1h-1zM47 10h1v1h-1zM49 10h1v1h-1zM51 10h1v1h-1zM53 10h1v1h-1zM59 10h1v1h-1zM64 10h1v1h-1zM82 10h2v1h-2zM92 10h1v1h-1zM96 10h1v1h-1zM102 10h1v1h-1zM104 10h1v1h-1zM117 10h1v1h-1zM119 10h1v1h-1zM129 10h1v1h-1zM139 10h1v1h-1zM171 10h2v1h-2zM181 10h1v1h-1zM16 11h1v1h-1zM23 11h1v1h-1zM89 11h1v1h-1zM95 11h1v1h-1zM120 11h1v1h-1zM136 11h1v1h-1zM166 11h1v1h-1zM195 11h1v1h-1zM0 12h1v1h-1zM5 12h1v1h-1zM12 12h1v1h-1zM23 12h1v1h-1zM30 12h1v1h-1zM33 12h2v1h-2zM36 12h1v1h-1zM45 12h1v1h-1zM54 12h1v1h-1zM61 12h1v1h-1zM67 12h1v1h-1zM75 12h1v1h-1zM84 12h1v1h-1zM88 12h2v1h-2zM93 12h1v1h-1zM96 12h1v1h-1zM105 12h1v1h-1zM107 12h1v1h-1zM111 12h1v1h-1zM115 12h1v1h-1zM118 12h1v1h-1zM121 12h1v1h-1zM124 12h2v1h-2zM134 12h1v1h-1zM186 12h1v1h-1zM2 13h1v1h-1zM7 13h2v1h-2zM15 13h1v1h-1zM23 13h1v1h-1zM25 13h1v1h-1zM36 13h1v1h-1zM39 13h1v1h-1zM56 13h1v1h-1zM58 13h3v1h-3zM63 13h1v1h-1zM71 13h1v1h-1zM84 13h1v1h-1zM88 13h1v1h-1zM93 13h2v1h-2zM99 13h1v1h-1zM103 13h1v1h-1zM105 13h1v1h-1zM124 13h1v1h-1zM126 13h1v1h-1zM138 13h2v1h-2zM187 13h1v1h-1zM5 14h1v1h-1zM7 14h1v1h-1zM20 14h1v1h-1zM29 14h1v1h-1zM31 14h1v1h-1zM47 14h1v1h-1zM95 14h1v1h-1zM103 14h2v1h-2zM125 14h2v1h-2zM140 14h1v1h-1zM149 14h1v1h-1zM151 14h1v1h-1zM197 14h1v1h-1zM10 15h1v1h-1zM16 15h1v1h-1zM26 15h2v1h-2zM30 15h1v1h-1zM35 15h1v1h-1zM42 15h1v1h-1zM64 15h1v1h-1zM66 15h1v1h-1zM79 15h2v1h-2zM87 15h2v1h-2zM113 15h1v1h-1zM130 15h1v1h-1zM159 15h1v1h-1zM173 15h1v1h-1zM16 16h2v1h-2zM28 16h1v1h-1zM30 16h1v1h-1zM35 16h1v1h-1zM37 16h1v1h-1zM44 16h1v1h-1zM52 16h1v1h-1zM55 16h1v1h-1zM64 16h1v1h-1zM70 16h1v1h-1zM74 16h1v1h-1zM81 16h1v1h-1zM94 16h1v1h-1zM98 16h1v1h-1zM100 16h1v1h-1zM103 16h1v1h-1zM110 16h1v1h-1zM113 16h1v1h-1zM116 16h1v1h-1zM121 16h1v1h-1zM123 16h1v1h-1zM125 16h1v1h-1zM127 16h1v1h-1zM188 16h1v1h-1zM13 17h1v1h-1zM33 17h1v1h-1zM35 17h1v1h-1zM40 17h2v1h-2zM61 17h1v1h-1zM99 17h1v1h-1zM0 18h2v1h-2zM3 18h1v1h-1zM5 18h2v1h-2zM13 18h1v1h-1zM16 18h2v1h-2zM21 18h1v1h-1zM25 18h1v1h-1zM28 18h1v1h-1zM30 18h1v1h-1zM42 18h3v1h-3zM49 18h4v1h-4zM56 18h1v1h-1zM63 18h1v1h-1zM66 18h2v1h-2zM68 18h2v1h-2zM75 18h1v1h-1zM78 18h1v1h-1zM87 18h1v1h-1zM91 18h3v1h-3zM111 18h1v1h-1zM120 18h1v1h-1zM123 18h1v1h-1zM127 18h2v1h-2zM132 18h1v1h-1zM163 18h1v1h-1zM2 19h1v1h-1zM33 19h2v1h-2zM63 19h1v1h-1zM75 19h1v1h-1zM104 19h1v1h-1zM109 19h1v1h-1zM124 19h1v1h-1zM151 19h1v1h-1zM172 19h1v1h-1zM87 20h1v1h-1zM91 20h1v1h-1zM95 20h1v1h-1zM189 20h1v1h-1zM30 21h1v1h-1zM57 21h1v1h-1zM85 21h1v1h-1zM159 21h1v1h-1zM168 21h1v1h-1zM188 21h1v1h-1zM0 22h1v1h-1zM2 22h1v1h-1zM5 22h1v1h-1zM11 22h2v1h-2zM15 22h1v1h-1zM21 22h2v1h-2zM24 22h1v1h-1zM26 22h2v1h-2zM29 22h1v1h-1zM38 22h1v1h-1zM40 22h3v1h-3zM45 22h1v1h-1zM47 22h1v1h-1zM52 22h1v1h-1zM61 22h1v1h-1zM63 22h1v1h-1zM74 22h1v1h-1zM84 22h1v1h-1zM86 22h3v1h-3zM102 22h1v1h-1zM104 22h1v1h-1zM114 22h1v1h-1zM116 22h1v1h-1zM118 22h1v1h-1zM122 22h1v1h-1zM126 22h2v1h-2zM132 22h1v1h-1zM142 22h1v1h-1zM169 22h1v1h-1zM173 22h1v1h-1zM189 22h1v1h-1zM195 22h1v1h-1zM2 23h1v1h-1zM6 23h1v1h-1zM9 23h1v1h-1zM13 23h2v1h-2zM16 23h1v1h-1zM24 23h1v1h-1zM26 23h1v1h-1zM30 23h1v1h-1zM33 23h2v1h-2zM36 23h1v1h-1zM41 23h1v1h-1zM44 23h1v1h-1zM48 23h1v1h-1zM51 23h1v1h-1zM56 23h1v1h-1zM58 23h2v1h-2zM64 23h1v1h-1zM68 23h2v1h-2zM73 23h1v1h-1zM85 23h1v1h-1zM87 23h1v1h-1zM98 23h1v1h-1zM101 23h1v1h-1zM104 23h1v1h-1zM107 23h2v1h-2zM129 23h2v1h-2zM160 23h1v1h-1zM163 23h1v1h-1zM187 23h1v1h-1zM0 24h2v1h-2zM6 24h1v1h-1zM9 24h1v1h-1zM18 24h1v1h-1zM20 24h1v1h-1zM28 24h1v1h-1zM32 24h1v1h-1zM38 24h2v1h-2zM49 24h1v1h-1zM63 24h1v1h-1zM65 24h1v1h-1zM71 24h1v1h-1zM89 24h1v1h-1zM98 24h2v1h-2zM101 24h1v1h-1zM107 24h1v1h-1zM113 24h1v1h-1zM117 24h1v1h-1zM120 24h1v1h-1zM122 24h1v1h-1zM129 24h2v1h-2zM142 24h1v1h-1zM156 24h1v1h-1zM5 25h1v1h-1zM99 25h1v1h-1zM163 25h1v1h-1zM189 25h1v1h-1zM0 26h1v1h-1zM10 26h1v1h-1zM13 26h2v1h-2zM16 26h1v1h-1zM18 26h1v1h-1zM26 26h1v1h-1zM30 26h1v1h-1zM35 26h1v1h-1zM38 26h1v1h-1zM46 26h3v1h-3zM52 26h1v1h-1zM55 26h1v1h-1zM57 26h1v1h-1zM73 26h1v1h-1zM77 26h1v1h-1zM83 26h1v1h-1zM90 26h2v1h-2zM109 26h1v1h-1zM118 26h1v1h-1zM125 26h1v1h-1zM163 26h1v1h-1zM13 27h1v1h-1zM33 27h1v1h-1zM37 27h1v1h-1zM69 27h1v1h-1zM79 27h1v1h-1zM82 27h1v1h-1zM85 27h1v1h-1zM100 27h1v1h-1zM120 27h1v1h-1zM183 27h1v1h-1zM6 28h1v1h-1zM10 28h1v1h-1zM18 28h1v1h-1zM24 28h1v1h-1zM39 28h2v1h-2zM64 28h1v1h-1zM76 28h1v1h-1zM84 28h1v1h-1zM97 28h1v1h-1zM109 28h1v1h-1zM166 28h1v1h-1zM171 28h1v1h-1zM175 28h1v1h-1zM185 28h1v1h-1zM198 28h1v1h-1zM13 30h1v1h-1zM28 30h1v1h-1zM39 30h1v1h-1zM45 30h1v1h-1zM142 30h1v1h-1zM181 30h1v1h-1zM187 30h1v1h-1zM190 30h1v1h-1zM71 31h1v1h-1zM114 31h1v1h-1zM4 32h1v1h-1zM10 32h1v1h-1zM40 32h2v1h-2zM45 32h3v1h-3zM49 32h1v1h-1zM52 32h1v1h-1zM61 32h1v1h-1zM65 32h1v1h-1zM73 32h1v1h-1zM76 32h1v1h-1zM81 32h2v1h-2zM84 32h1v1h-1zM87 32h1v1h-1zM90 32h2v1h-2zM93 32h2v1h-2zM108 32h1v1h-1zM120 32h1v1h-1zM124 32h1v1h-1zM130 32h1v1h-1zM151 32h1v1h-1zM181 32h1v1h-1zM1 33h1v1h-1zM3 33h1v1h-1zM6 33h1v1h-1zM9 33h1v1h-1zM12 33h1v1h-1zM34 33h1v1h-1zM41 33h1v1h-1zM43 33h1v1h-1zM49 33h1v1h-1zM71 33h1v1h-1zM75 33h1v1h-1zM81 33h1v1h-1zM86 33h1v1h-1zM95 33h1v1h-1zM97 33h1v1h-1zM104 33h1v1h-1zM108 33h1v1h-1zM126 33h2v1h-2zM136 33h1v1h-1zM179 33h1v1h-1zM12 34h2v1h-2zM30 34h1v1h-1zM53 34h1v1h-1zM63 34h2v1h-2zM67 34h1v1h-1zM82 34h1v1h-1zM98 34h1v1h-1zM111 34h1v1h-1zM127 34h2v1h-2zM186 34h1v1h-1zM197 34h1v1h-1zM1 35h1v1h-1zM14 35h1v1h-1zM19 35h1v1h-1zM22 35h1v1h-1zM73 35h1v1h-1zM109 35h1v1h-1zM120 35h1v1h-1zM196 35h1v1h-1zM0 36h1v1h-1zM23 36h1v1h-1zM32 36h1v1h-1zM59 36h1v1h-1zM68 36h3v1h-3zM113 36h1v1h-1zM142 36h1v1h-1zM154 36h1v1h-1zM176 36h1v1h-1zM178 36h1v1h-1zM125 37h2v1h-2zM149 37h1v1h-1zM151 37h1v1h-1zM3 38h1v1h-1zM6 38h1v1h-1zM12 38h1v1h-1zM15 38h1v1h-1zM57 38h1v1h-1zM61 38h1v1h-1zM64 38h1v1h-1zM68 38h1v1h-1zM70 38h2v1h-2zM73 38h1v1h-1zM106 38h1v1h-1zM115 38h1v1h-1zM118 38h1v1h-1zM123 38h1v1h-1zM0 39h1v1h-1zM2 39h1v1h-1zM28 39h1v1h-1zM31 39h4v1h-4zM67 39h1v1h-1zM82 39h1v1h-1zM87 39h1v1h-1zM95 39h1v1h-1zM103 39h1v1h-1zM112 39h1v1h-1zM119 39h1v1h-1zM122 39h1v1h-1zM133 39h1v1h-1zM141 39h1v1h-1zM0 40h1v1h-1zM9 40h1v1h-1zM104 40h1v1h-1zM168 40h3v1h-3zM2 41h1v1h-1zM21 41h1v1h-1zM24 41h1v1h-1zM30 41h1v1h-1zM35 41h1v1h-1zM38 41h1v1h-1zM42 41h2v1h-2zM49 41h1v1h-1zM53 41h1v1h-1zM55 41h1v1h-1zM58 41h1v1h-1zM62 41h1v1h-1zM72 41h1v1h-1zM77 41h1v1h-1zM79 41h1v1h-1zM81 41h2v1h-2zM91 41h1v1h-1zM96 41h1v1h-1zM99 41h3v1h-3zM106 41h1v1h-1zM118 41h2v1h-2zM121 41h1v1h-1zM128 41h1v1h-1zM140 41h1v1h-1zM142 41h1v1h-1zM2 42h1v1h-1zM14 42h2v1h-2zM38 42h1v1h-1zM45 42h1v1h-1zM58 42h1v1h-1zM64 42h1v1h-1zM68 42h1v1h-1zM82 42h1v1h-1zM93 42h1v1h-1zM97 42h1v1h-1zM100 42h1v1h-1zM105 42h1v1h-1zM107 42h1v1h-1zM130 42h1v1h-1zM183 42h1v1h-1zM0 43h1v1h-1zM2 43h2v1h-2zM11 43h1v1h-1zM13 43h1v1h-1zM17 43h1v1h-1zM19 43h2v1h-2zM35 43h1v1h-1zM37 43h1v1h-1zM41 43h2v1h-2zM45 43h1v1h-1zM47 43h1v1h-1zM49 43h1v1h-1zM52 43h1v1h-1zM55 43h1v1h-1zM57 43h1v1h-1zM59 43h1v1h-1zM63 43h2v1h-2zM66 43h1v1h-1zM82 43h1v1h-1zM91 43h4v1h-4zM104 43h1v1h-1zM123 43h1v1h-1zM148 43h1v1h-1zM174 43h1v1h-1zM185 43h1v1h-1zM9 45h1v1h-1zM27 45h1v1h-1zM32 45h1v1h-1zM35 45h1v1h-1zM39 45h1v1h-1zM47 45h1v1h-1zM49 45h1v1h-1zM58 45h1v1h-1zM67 45h1v1h-1zM71 45h1v1h-1zM81 45h1v1h-1zM101 45h1v1h-1zM103 45h3v1h-3zM109 45h1v1h-1zM124 45h1v1h-1zM167 45h1v1h-1zM195 45h1v1h-1zM0 46h1v1h-1zM43 46h1v1h-1zM50 46h1v1h-1zM71 46h2v1h-2zM111 46h1v1h-1zM117 46h1v1h-1zM141 46h1v1h-1zM143 46h1v1h-1zM164 46h1v1h-1zM197 46h1v1h-1zM3 47h2v1h-2zM17 47h1v1h-1zM23 47h1v1h-1zM28 47h2v1h-2zM57 47h1v1h-1zM81 47h1v1h-1zM104 47h1v1h-1zM130 47h1v1h-1zM132 47h1v1h-1zM185 47h1v1h-1zM105 48h1v1h-1zM151 48h1v1h-1zM168 48h1v1h-1zM126 49h1v1h-1zM149 49h1v1h-1zM8 50h1v1h-1zM15 50h1v1h-1zM19 50h1v1h-1zM21 50h2v1h-2zM39 50h1v1h-1zM53 50h1v1h-1zM57 50h1v1h-1zM64 50h1v1h-1zM69 50h1v1h-1zM79 50h1v1h-1zM107 50h1v1h-1zM113 50h2v1h-2zM121 50h1v1h-1zM154 50h1v1h-1zM166 50h1v1h-1zM4 51h2v1h-2zM8 51h1v1h-1zM27 51h1v1h-1zM45 51h1v1h-1zM49 51h1v1h-1zM78 51h2v1h-2zM109 51h1v1h-1zM126 51h2v1h-2zM155 51h1v1h-1zM0 52h1v1h-1zM9 52h2v1h-2zM17 52h1v1h-1zM22 52h1v1h-1zM33 52h1v1h-1zM95 52h1v1h-1zM101 52h1v1h-1zM103 52h1v1h-1zM118 52h1v1h-1zM122 52h1v1h-1zM124 52h1v1h-1zM126 52h1v1h-1zM174 52h1v1h-1zM190 52h1v1h-1zM165 53h2v1h-2zM173 53h1v1h-1zM11 54h1v1h-1zM32 54h1v1h-1zM35 54h1v1h-1zM65 54h1v1h-1zM95 54h1v1h-1zM102 54h1v1h-1zM107 54h1v1h-1zM134 54h1v1h-1zM136 54h1v1h-1zM156 54h1v1h-1zM8 55h1v1h-1zM25 55h1v1h-1zM33 55h1v1h-1zM35 55h1v1h-1zM38 55h1v1h-1zM44 55h1v1h-1zM81 55h1v1h-1zM103 55h1v1h-1zM106 55h1v1h-1zM133 55h1v1h-1zM147 55h1v1h-1zM154 55h1v1h-1zM177 55h1v1h-1zM180 55h1v1h-1zM4 56h1v1h-1zM6 56h1v1h-1zM28 56h1v1h-1zM30 56h1v1h-1zM37 56h1v1h-1zM42 56h1v1h-1zM51 56h1v1h-1zM66 56h1v1h-1zM70 56h1v1h-1zM78 56h1v1h-1zM103 56h3v1h-3zM107 56h1v1h-1zM111 56h1v1h-1zM4 57h1v1h-1zM6 57h1v1h-1zM11 57h1v1h-1zM15 57h1v1h-1zM22 57h1v1h-1zM27 57h1v1h-1zM40 57h1v1h-1zM42 57h1v1h-1zM49 57h1v1h-1zM66 57h1v1h-1zM69 57h1v1h-1zM71 57h1v1h-1zM92 57h1v1h-1zM100 57h1v1h-1zM105 57h1v1h-1zM111 57h1v1h-1zM124 57h1v1h-1zM126 57h2v1h-2zM133 57h1v1h-1zM148 57h2v1h-2zM177 57h1v1h-1zM192 57h1v1h-1zM18 58h1v1h-1zM20 58h1v1h-1zM22 58h2v1h-2zM32 58h1v1h-1zM65 58h1v1h-1zM69 58h1v1h-1zM81 58h2v1h-2zM90 58h1v1h-1zM93 58h1v1h-1zM109 58h1v1h-1zM122 58h1v1h-1zM132 58h1v1h-1zM178 58h1v1h-1zM42 59h2v1h-2zM50 59h1v1h-1zM57 59h1v1h-1zM77 59h1v1h-1zM93 59h1v1h-1zM154 59h1v1h-1zM173 59h1v1h-1zM179 59h1v1h-1zM194 59h1v1h-1zM9 60h1v1h-1zM18 60h1v1h-1zM41 60h1v1h-1zM49 60h1v1h-1zM66 60h1v1h-1zM81 60h1v1h-1zM87 60h1v1h-1zM98 60h1v1h-1zM103 60h1v1h-1zM107 60h1v1h-1zM113 60h1v1h-1zM141 60h1v1h-1zM199 60h1v1h-1zM9 61h1v1h-1zM22 61h1v1h-1zM35 61h1v1h-1zM43 61h1v1h-1zM49 61h1v1h-1zM53 61h1v1h-1zM67 61h1v1h-1zM71 61h1v1h-1zM93 61h2v1h-2zM100 61h1v1h-1zM107 61h1v1h-1zM109 61h1v1h-1zM127 61h1v1h-1zM131 61h1v1h-1zM134 61h1v1h-1zM136 61h1v1h-1zM154 61h2v1h-2zM180 61h1v1h-1zM198 61h2v1h-2zM0 62h1v1h-1zM14 62h1v1h-1zM21 62h1v1h-1zM35 62h1v1h-1zM58 62h2v1h-2zM68 62h1v1h-1zM104 62h1v1h-1zM109 62h1v1h-1zM113 62h1v1h-1zM124 62h1v1h-1zM131 62h1v1h-1zM140 62h2v1h-2zM159 62h1v1h-1zM188 62h1v1h-1zM28 63h1v1h-1zM82 63h1v1h-1zM100 63h1v1h-1zM107 63h1v1h-1zM110 63h1v1h-1zM117 63h2v1h-2zM136 63h1v1h-1zM139 63h1v1h-1zM164 63h1v1h-1zM183 63h1v1h-1zM185 63h1v1h-1zM192 63h2v1h-2zM4 64h1v1h-1zM8 64h1v1h-1zM19 64h1v1h-1zM21 64h4v1h-4zM32 64h1v1h-1zM42 64h1v1h-1zM44 64h1v1h-1zM71 64h1v1h-1zM78 64h1v1h-1zM81 64h1v1h-1zM92 64h1v1h-1zM109 64h1v1h-1zM118 64h1v1h-1zM131 64h1v1h-1zM138 64h1v1h-1zM163 64h1v1h-1zM168 64h1v1h-1zM171 64h1v1h-1zM174 64h1v1h-1zM180 64h1v1h-1zM187 64h2v1h-2zM4 65h1v1h-1zM11 65h1v1h-1zM34 65h1v1h-1zM64 65h1v1h-1zM68 65h1v1h-1zM84 65h1v1h-1zM90 65h1v1h-1zM95 65h1v1h-1zM103 65h1v1h-1zM124 65h1v1h-1zM126 65h1v1h-1zM131 65h1v1h-1zM144 65h1v1h-1zM74 66h2v1h-2zM86 66h1v1h-1zM138 66h1v1h-1zM140 66h1v1h-1zM154 66h1v1h-1zM175 66h2v1h-2zM182 66h1v1h-1zM195 66h2v1h-2zM3 67h1v1h-1zM144 67h1v1h-1zM147 67h1v1h-1zM158 67h1v1h-1zM165 67h1v1h-1zM172 67h1v1h-1zM175 67h1v1h-1zM180 67h1v1h-1zM194 67h1v1h-1zM3 68h1v1h-1zM144 68h1v1h-1zM146 68h2v1h-2zM150 68h1v1h-1zM175 68h1v1h-1zM183 68h4v1h-4zM190 68h1v1h-1zM151 69h1v1h-1zM162 69h1v1h-1zM185 69h1v1h-1zM187 69h1v1h-1zM192 69h1v1h-1zM198 69h1v1h-1zM183 70h1v1h-1zM196 70h1v1h-1zM46 71h1v1h-1zM154 72h1v1h-1zM161 72h1v1h-1zM183 72h1v1h-1zM185 72h1v1h-1zM196 72h1v1h-1zM133 73h1v1h-1zM141 73h1v1h-1zM150 73h1v1h-1zM152 73h1v1h-1zM158 73h1v1h-1zM177 73h1v1h-1zM180 73h1v1h-1zM188 73h1v1h-1zM191 73h1v1h-1zM195 73h1v1h-1zM23 74h1v1h-1zM138 74h1v1h-1zM141 74h1v1h-1zM145 74h1v1h-1zM149 74h1v1h-1zM155 74h1v1h-1zM159 74h1v1h-1zM162 74h1v1h-1zM167 74h1v1h-1zM1 75h1v1h-1zM10 75h1v1h-1zM146 75h1v1h-1zM148 75h1v1h-1zM153 75h1v1h-1zM159 75h1v1h-1zM164 75h1v1h-1zM166 75h1v1h-1zM181 75h1v1h-1zM79 76h1v1h-1zM134 76h1v1h-1zM136 76h1v1h-1zM143 76h1v1h-1zM152 76h2v1h-2zM168 76h2v1h-2zM195 76h1v1h-1zM199 76h1v1h-1zM16 77h1v1h-1zM140 77h1v1h-1zM149 77h1v1h-1zM169 77h1v1h-1zM177 77h1v1h-1zM186 77h1v1h-1zM197 77h1v1h-1zM40 78h1v1h-1zM90 78h1v1h-1zM137 78h2v1h-2zM141 78h1v1h-1zM145 78h1v1h-1zM148 78h1v1h-1zM153 78h1v1h-1zM170 78h1v1h-1zM183 78h1v1h-1zM185 78h2v1h-2z"/><path fill="#906cfc" d="M10 0h1v1h-1zM48 0h1v1h-1zM54 0h1v1h-1zM121 0h1v1h-1zM173 4h1v1h-1zM143 6h1v1h-1zM13 8h1v1h-1zM173 8h1v1h-1zM179 8h2v1h-2zM115 9h1v1h-1zM55 10h1v1h-1zM80 10h1v1h-1zM61 11h1v1h-1zM43 14h1v1h-1zM177 14h1v1h-1zM188 14h1v1h-1zM95 15h1v1h-1zM107 15h1v1h-1zM134 16h2v1h-2zM136 18h3v1h-3zM193 19h1v1h-1zM197 20h2v1h-2zM105 21h1v1h-1zM129 22h1v1h-1zM179 22h1v1h-1zM182 22h1v1h-1zM191 23h2v1h-2zM195 24h1v1h-1zM183 26h2v1h-2zM126 27h1v1h-1zM177 27h1v1h-1zM181 27h1v1h-1zM186 27h1v1h-1zM69 28h1v1h-1zM127 28h1v1h-1zM129 28h1v1h-1zM198 29h1v1h-1zM14 31h1v1h-1zM72 31h1v1h-1zM76 31h2v1h-2zM7 32h2v1h-2zM26 32h1v1h-1zM99 32h2v1h-2zM103 32h2v1h-2zM193 32h1v1h-1zM195 32h1v1h-1zM177 33h1v1h-1zM58 34h2v1h-2zM91 34h2v1h-2zM103 34h1v1h-1zM197 35h1v1h-1zM84 36h1v1h-1zM125 36h3v1h-3zM161 36h1v1h-1zM27 37h1v1h-1zM79 37h1v1h-1zM19 38h1v1h-1zM134 38h1v1h-1zM181 41h1v1h-1zM173 42h1v1h-1zM95 44h1v1h-1zM135 44h1v1h-1zM129 45h1v1h-1zM162 45h1v1h-1zM192 46h1v1h-1zM52 47h1v1h-1zM71 47h1v1h-1zM156 48h1v1h-1zM12 51h1v1h-1zM149 53h2v1h-2zM10 54h1v1h-1zM67 54h1v1h-1zM130 54h1v1h-1zM190 58h1v1h-1zM21 59h1v1h-1zM86 59h2v1h-2zM163 60h1v1h-1zM63 61h1v1h-1zM65 64h1v1h-1zM67 64h1v1h-1zM90 64h1v1h-1zM119 64h1v1h-1zM129 64h1v1h-1zM175 64h1v1h-1zM140 65h1v1h-1zM190 65h1v1h-1zM161 66h1v1h-1zM133 67h1v1h-1zM6 68h1v1h-1zM137 68h1v1h-1zM155 68h1v1h-1zM190 69h1v1h-1zM193 69h1v1h-1zM152 70h1v1h-1zM180 70h1v1h-1zM164 71h1v1h-1zM8 72h1v1h-1zM31 72h1v1h-1zM33 72h1v1h-1zM194 72h1v1h-1zM164 74h1v1h-1zM190 74h1v1h-1zM196 74h1v1h-1zM150 75h1v1h-1zM152 75h1v1h-1zM181 76h2v1h-2zM185 76h1v1h-1zM145 77h1v1h-1zM196 77h1v1h-1zM134 78h1v1h-1zM168 78h1v1h-1z"/><path fill="#9c78fc" d="M11 0h1v1h-1zM21 0h1v1h-1zM28 0h1v1h-1zM46 0h1v1h-1zM83 0h1v1h-1zM97 0h1v1h-1zM109 0h1v1h-1zM138 0h1v1h-1zM168 0h1v1h-1zM182 0h1v1h-1zM6 1h1v1h-1zM17 1h1v1h-1zM30 1h1v1h-1zM42 1h1v1h-1zM54 1h1v1h-1zM70 1h1v1h-1zM116 1h1v1h-1zM123 1h1v1h-1zM140 1h1v1h-1zM161 1h1v1h-1zM133 2h1v1h-1zM136 2h1v1h-1zM144 2h1v1h-1zM149 2h1v1h-1zM175 2h1v1h-1zM1 3h1v1h-1zM12 3h1v1h-1zM15 3h2v1h-2zM19 3h1v1h-1zM21 3h1v1h-1zM39 3h1v1h-1zM45 3h1v1h-1zM49 3h1v1h-1zM59 3h1v1h-1zM63 3h1v1h-1zM67 3h1v1h-1zM76 3h1v1h-1zM87 3h1v1h-1zM90 3h1v1h-1zM98 3h1v1h-1zM114 3h1v1h-1zM130 3h1v1h-1zM163 3h1v1h-1zM198 3h1v1h-1zM55 4h1v1h-1zM170 4h1v1h-1zM172 4h1v1h-1zM45 5h2v1h-2zM162 5h3v1h-3zM170 5h1v1h-1zM172 5h3v1h-3zM144 6h1v1h-1zM169 7h1v1h-1zM4 8h1v1h-1zM39 8h1v1h-1zM60 10h1v1h-1zM78 10h2v1h-2zM148 10h2v1h-2zM162 10h1v1h-1zM164 10h1v1h-1zM173 10h1v1h-1zM185 10h2v1h-2zM194 10h1v1h-1zM141 11h1v1h-1zM177 11h1v1h-1zM179 11h2v1h-2zM144 13h1v1h-1zM108 15h1v1h-1zM151 15h1v1h-1zM161 16h1v1h-1zM22 18h1v1h-1zM39 18h1v1h-1zM54 18h1v1h-1zM80 19h3v1h-3zM173 19h1v1h-1zM12 20h1v1h-1zM29 20h1v1h-1zM31 20h3v1h-3zM35 20h2v1h-2zM38 20h2v1h-2zM42 20h1v1h-1zM47 20h1v1h-1zM50 20h3v1h-3zM58 20h1v1h-1zM68 20h1v1h-1zM77 20h1v1h-1zM85 20h1v1h-1zM92 20h3v1h-3zM105 20h2v1h-2zM111 20h1v1h-1zM116 20h1v1h-1zM126 20h1v1h-1zM133 20h2v1h-2zM1 21h1v1h-1zM5 21h1v1h-1zM24 21h2v1h-2zM33 21h1v1h-1zM37 21h1v1h-1zM46 21h1v1h-1zM65 21h1v1h-1zM74 21h1v1h-1zM77 21h1v1h-1zM84 21h1v1h-1zM106 21h1v1h-1zM121 21h1v1h-1zM169 21h1v1h-1zM193 21h1v1h-1zM195 21h1v1h-1zM198 22h1v1h-1zM193 23h1v1h-1zM195 23h2v1h-2zM153 24h1v1h-1zM158 25h1v1h-1zM191 25h1v1h-1zM140 26h1v1h-1zM124 27h2v1h-2zM180 27h1v1h-1zM182 27h1v1h-1zM187 27h1v1h-1zM111 28h1v1h-1zM124 28h2v1h-2zM173 28h1v1h-1zM184 28h1v1h-1zM199 28h1v1h-1zM197 29h1v1h-1zM3 31h1v1h-1zM8 31h3v1h-3zM12 31h2v1h-2zM15 31h2v1h-2zM22 31h4v1h-4zM32 31h3v1h-3zM51 31h1v1h-1zM53 31h1v1h-1zM55 31h3v1h-3zM62 31h1v1h-1zM90 31h2v1h-2zM94 31h2v1h-2zM97 31h1v1h-1zM102 31h2v1h-2zM105 31h1v1h-1zM107 31h1v1h-1zM110 31h1v1h-1zM112 31h2v1h-2zM124 31h1v1h-1zM131 31h1v1h-1zM175 31h1v1h-1zM18 32h1v1h-1zM27 32h1v1h-1zM133 32h2v1h-2zM136 32h1v1h-1zM156 33h4v1h-4zM168 33h2v1h-2zM176 33h1v1h-1zM178 33h1v1h-1zM18 34h1v1h-1zM32 34h1v1h-1zM88 34h1v1h-1zM166 34h1v1h-1zM51 35h1v1h-1zM165 35h1v1h-1zM195 35h1v1h-1zM159 36h2v1h-2zM174 36h1v1h-1zM8 37h2v1h-2zM11 37h1v1h-1zM19 37h3v1h-3zM32 37h1v1h-1zM45 37h1v1h-1zM57 37h1v1h-1zM68 37h1v1h-1zM72 37h1v1h-1zM78 37h1v1h-1zM80 37h1v1h-1zM82 37h1v1h-1zM93 37h2v1h-2zM104 37h2v1h-2zM111 37h1v1h-1zM116 37h3v1h-3zM127 37h1v1h-1zM129 37h1v1h-1zM131 37h1v1h-1zM188 37h1v1h-1zM133 38h1v1h-1zM170 39h1v1h-1zM172 39h1v1h-1zM38 40h1v1h-1zM153 40h2v1h-2zM85 41h1v1h-1zM187 41h1v1h-1zM159 42h1v1h-1zM58 43h1v1h-1zM115 43h2v1h-2zM152 43h1v1h-1zM154 43h1v1h-1zM191 43h1v1h-1zM133 44h2v1h-2zM197 44h1v1h-1zM53 45h1v1h-1zM163 45h1v1h-1zM142 46h1v1h-1zM0 47h1v1h-1zM146 47h2v1h-2zM29 48h1v1h-1zM32 48h1v1h-1zM132 48h1v1h-1zM48 49h1v1h-1zM51 50h1v1h-1zM133 50h2v1h-2zM174 50h1v1h-1zM24 51h1v1h-1zM31 51h1v1h-1zM51 51h1v1h-1zM189 51h1v1h-1zM199 51h1v1h-1zM154 52h1v1h-1zM195 52h1v1h-1zM190 53h1v1h-1zM15 54h1v1h-1zM19 54h1v1h-1zM58 54h1v1h-1zM63 54h2v1h-2zM66 54h1v1h-1zM84 54h1v1h-1zM90 54h1v1h-1zM105 54h2v1h-2zM109 54h2v1h-2zM112 54h1v1h-1zM131 54h2v1h-2zM135 54h1v1h-1zM158 54h2v1h-2zM176 54h1v1h-1zM46 55h1v1h-1zM68 55h1v1h-1zM104 55h1v1h-1zM141 55h2v1h-2zM15 56h1v1h-1zM179 56h2v1h-2zM157 57h1v1h-1zM173 57h2v1h-2zM167 58h1v1h-1zM179 58h1v1h-1zM65 59h1v1h-1zM75 59h1v1h-1zM85 59h1v1h-1zM89 59h1v1h-1zM109 59h1v1h-1zM149 59h1v1h-1zM183 59h1v1h-1zM176 60h1v1h-1zM86 61h1v1h-1zM165 61h1v1h-1zM169 61h2v1h-2zM171 62h1v1h-1zM176 62h1v1h-1zM174 63h2v1h-2zM187 63h1v1h-1zM100 64h1v1h-1zM162 64h1v1h-1zM172 64h1v1h-1zM18 65h1v1h-1zM139 65h1v1h-1zM142 65h2v1h-2zM134 66h1v1h-1zM168 66h1v1h-1zM172 66h1v1h-1zM180 66h1v1h-1zM183 66h1v1h-1zM186 66h1v1h-1zM33 67h1v1h-1zM52 67h1v1h-1zM134 67h1v1h-1zM136 67h1v1h-1zM141 67h1v1h-1zM153 67h1v1h-1zM160 67h1v1h-1zM179 67h1v1h-1zM184 67h1v1h-1zM190 67h2v1h-2zM196 67h1v1h-1zM87 68h1v1h-1zM113 68h1v1h-1zM149 68h1v1h-1zM153 68h1v1h-1zM166 68h1v1h-1zM177 68h1v1h-1zM188 68h1v1h-1zM197 68h1v1h-1zM27 69h2v1h-2zM84 69h1v1h-1zM136 69h1v1h-1zM147 69h2v1h-2zM164 69h1v1h-1zM191 69h1v1h-1zM195 69h2v1h-2zM199 69h1v1h-1zM83 70h1v1h-1zM135 70h1v1h-1zM138 70h1v1h-1zM141 70h2v1h-2zM144 70h1v1h-1zM146 70h2v1h-2zM149 70h1v1h-1zM153 70h1v1h-1zM162 70h1v1h-1zM168 70h1v1h-1zM192 70h1v1h-1zM198 70h1v1h-1zM9 72h1v1h-1zM166 72h1v1h-1zM168 72h1v1h-1zM170 72h2v1h-2zM182 72h1v1h-1zM187 72h1v1h-1zM191 72h1v1h-1zM193 72h1v1h-1zM195 72h1v1h-1zM197 72h1v1h-1zM111 73h1v1h-1zM138 73h2v1h-2zM143 73h3v1h-3zM147 73h1v1h-1zM156 73h2v1h-2zM183 73h1v1h-1zM186 73h1v1h-1zM192 73h1v1h-1zM38 74h1v1h-1zM100 74h1v1h-1zM133 74h1v1h-1zM153 74h1v1h-1zM156 74h1v1h-1zM161 74h1v1h-1zM163 74h1v1h-1zM166 74h1v1h-1zM176 74h1v1h-1zM188 74h1v1h-1zM191 74h1v1h-1zM195 74h1v1h-1zM140 75h1v1h-1zM149 75h1v1h-1zM151 75h1v1h-1zM170 75h1v1h-1zM191 75h1v1h-1zM194 75h1v1h-1zM196 75h2v1h-2zM145 76h1v1h-1zM147 76h1v1h-1zM165 76h1v1h-1zM176 76h1v1h-1zM180 76h1v1h-1zM146 77h3v1h-3zM153 77h1v1h-1zM157 77h1v1h-1zM159 77h1v1h-1zM164 77h1v1h-1zM178 77h1v1h-1zM190 77h1v1h-1zM192 77h2v1h-2zM195 77h1v1h-1zM139 78h1v1h-1zM162 78h1v1h-1zM194 78h1v1h-1zM198 78h2v1h-2z"/><path fill="#e4c0f0" d="M12 0h1v1h-1zM23 0h1v1h-1zM73 0h1v1h-1zM104 0h1v1h-1zM123 0h1v1h-1zM133 0h1v1h-1zM128 1h1v1h-1zM160 1h1v1h-1zM30 2h2v1h-2zM109 2h1v1h-1zM153 3h1v1h-1zM197 3h1v1h-1zM4 4h1v1h-1zM0 5h2v1h-2zM85 5h1v1h-1zM123 5h1v1h-1zM125 5h1v1h-1zM189 5h1v1h-1zM18 6h1v1h-1zM21 6h2v1h-2zM130 6h2v1h-2zM165 6h1v1h-1zM30 7h1v1h-1zM99 7h1v1h-1zM113 7h1v1h-1zM165 7h1v1h-1zM52 8h1v1h-1zM169 8h2v1h-2zM81 9h2v1h-2zM163 9h1v1h-1zM176 12h1v1h-1zM16 13h1v1h-1zM177 13h1v1h-1zM0 14h1v1h-1zM2 14h1v1h-1zM37 14h1v1h-1zM93 14h1v1h-1zM124 14h1v1h-1zM153 14h1v1h-1zM1 15h1v1h-1zM33 15h2v1h-2zM67 15h1v1h-1zM97 15h1v1h-1zM133 15h1v1h-1zM137 15h1v1h-1zM157 15h1v1h-1zM182 15h1v1h-1zM8 16h1v1h-1zM82 16h1v1h-1zM192 16h1v1h-1zM44 17h2v1h-2zM139 17h1v1h-1zM174 17h1v1h-1zM9 18h1v1h-1zM73 18h1v1h-1zM185 18h1v1h-1zM61 20h1v1h-1zM76 20h1v1h-1zM99 20h1v1h-1zM193 20h2v1h-2zM10 21h1v1h-1zM56 21h1v1h-1zM60 21h1v1h-1zM71 21h1v1h-1zM73 21h1v1h-1zM102 21h1v1h-1zM177 21h2v1h-2zM167 22h2v1h-2zM103 24h1v1h-1zM118 24h1v1h-1zM43 26h2v1h-2zM111 26h1v1h-1zM137 26h1v1h-1zM147 26h1v1h-1zM7 27h1v1h-1zM60 27h1v1h-1zM128 27h1v1h-1zM16 28h1v1h-1zM51 28h1v1h-1zM72 28h1v1h-1zM160 28h1v1h-1zM176 29h1v1h-1zM27 30h1v1h-1zM78 30h1v1h-1zM160 30h1v1h-1zM27 31h1v1h-1zM54 31h1v1h-1zM138 31h2v1h-2zM162 31h1v1h-1zM186 31h1v1h-1zM68 32h2v1h-2zM141 34h1v1h-1zM178 34h1v1h-1zM195 34h1v1h-1zM5 35h1v1h-1zM31 35h1v1h-1zM48 35h1v1h-1zM55 35h1v1h-1zM38 36h1v1h-1zM100 36h1v1h-1zM119 36h2v1h-2zM140 36h1v1h-1zM28 37h1v1h-1zM34 37h2v1h-2zM115 37h1v1h-1zM39 38h1v1h-1zM91 38h1v1h-1zM124 38h2v1h-2zM140 38h1v1h-1zM157 38h1v1h-1zM163 38h1v1h-1zM177 38h1v1h-1zM182 38h1v1h-1zM55 39h1v1h-1zM78 40h1v1h-1zM173 40h2v1h-2zM66 42h1v1h-1zM140 42h1v1h-1zM142 42h1v1h-1zM21 43h1v1h-1zM48 43h1v1h-1zM107 43h1v1h-1zM114 43h1v1h-1zM16 44h1v1h-1zM43 44h1v1h-1zM78 44h1v1h-1zM91 44h1v1h-1zM170 44h1v1h-1zM37 45h2v1h-2zM12 46h2v1h-2zM106 46h1v1h-1zM44 47h1v1h-1zM92 47h1v1h-1zM139 47h1v1h-1zM141 47h1v1h-1zM100 48h1v1h-1zM108 48h1v1h-1zM135 48h1v1h-1zM160 48h1v1h-1zM174 48h1v1h-1zM20 49h1v1h-1zM22 49h1v1h-1zM64 49h1v1h-1zM27 50h1v1h-1zM34 50h1v1h-1zM66 50h1v1h-1zM88 50h1v1h-1zM116 50h1v1h-1zM16 51h1v1h-1zM41 51h1v1h-1zM48 51h1v1h-1zM58 51h2v1h-2zM67 51h1v1h-1zM90 51h1v1h-1zM175 51h2v1h-2zM183 51h2v1h-2zM34 53h1v1h-1zM145 53h1v1h-1zM160 53h1v1h-1zM61 54h2v1h-2zM104 54h1v1h-1zM108 54h1v1h-1zM118 54h1v1h-1zM133 54h1v1h-1zM161 54h1v1h-1zM197 54h1v1h-1zM199 54h1v1h-1zM26 55h1v1h-1zM77 55h1v1h-1zM113 56h2v1h-2zM142 56h1v1h-1zM187 56h3v1h-3zM191 56h1v1h-1zM0 57h1v1h-1zM122 57h1v1h-1zM163 57h2v1h-2zM6 58h1v1h-1zM8 58h1v1h-1zM106 58h1v1h-1zM34 59h1v1h-1zM120 59h1v1h-1zM144 59h1v1h-1zM165 59h1v1h-1zM60 60h2v1h-2zM109 60h2v1h-2zM122 60h1v1h-1zM124 60h1v1h-1zM155 60h1v1h-1zM3 61h1v1h-1zM21 61h1v1h-1zM33 61h1v1h-1zM41 61h1v1h-1zM85 61h1v1h-1zM120 61h1v1h-1zM122 61h1v1h-1zM16 62h1v1h-1zM196 62h1v1h-1zM25 63h1v1h-1zM68 63h1v1h-1zM127 63h1v1h-1zM153 63h1v1h-1zM33 64h2v1h-2zM112 64h1v1h-1zM24 65h2v1h-2zM70 65h1v1h-1zM109 65h1v1h-1zM136 65h1v1h-1zM56 70h1v1h-1zM73 70h2v1h-2zM38 71h1v1h-1zM73 71h1v1h-1zM96 71h1v1h-1zM99 71h1v1h-1zM126 71h1v1h-1zM141 71h2v1h-2zM171 71h1v1h-1zM199 71h1v1h-1zM42 73h1v1h-1zM110 75h1v1h-1zM113 75h1v1h-1zM60 78h1v1h-1z"/><path fill="#d8c0fc" d="M13 0h1v1h-1zM31 0h1v1h-1zM68 0h1v1h-1zM74 0h1v1h-1zM120 0h1v1h-1zM26 1h1v1h-1zM39 1h1v1h-1zM127 1h1v1h-1zM150 2h1v1h-1zM186 2h1v1h-1zM188 2h4v1h-4zM124 3h2v1h-2zM154 3h1v1h-1zM156 3h1v1h-1zM195 3h1v1h-1zM3 4h1v1h-1zM5 4h1v1h-1zM192 4h1v1h-1zM83 5h2v1h-2zM89 5h1v1h-1zM151 5h2v1h-2zM36 6h1v1h-1zM67 6h1v1h-1zM152 6h2v1h-2zM115 7h1v1h-1zM40 8h1v1h-1zM47 8h1v1h-1zM54 8h2v1h-2zM82 8h1v1h-1zM88 8h1v1h-1zM96 8h1v1h-1zM106 8h1v1h-1zM113 8h1v1h-1zM146 9h3v1h-3zM151 9h2v1h-2zM158 9h1v1h-1zM161 9h2v1h-2zM100 10h1v1h-1zM116 10h1v1h-1zM168 10h2v1h-2zM177 10h1v1h-1zM1 11h3v1h-3zM129 11h1v1h-1zM143 11h1v1h-1zM2 12h2v1h-2zM59 12h1v1h-1zM177 12h1v1h-1zM133 13h3v1h-3zM178 13h1v1h-1zM188 13h1v1h-1zM11 14h2v1h-2zM78 14h1v1h-1zM100 14h1v1h-1zM145 14h2v1h-2zM0 15h1v1h-1zM20 15h1v1h-1zM25 15h1v1h-1zM138 15h1v1h-1zM2 16h1v1h-1zM4 16h1v1h-1zM9 16h1v1h-1zM83 16h1v1h-1zM90 16h1v1h-1zM166 16h2v1h-2zM189 16h1v1h-1zM193 16h1v1h-1zM3 17h1v1h-1zM113 17h1v1h-1zM133 17h1v1h-1zM24 18h1v1h-1zM82 18h1v1h-1zM98 18h1v1h-1zM186 18h2v1h-2zM196 18h2v1h-2zM3 19h1v1h-1zM67 19h1v1h-1zM117 19h2v1h-2zM188 19h1v1h-1zM190 19h1v1h-1zM22 20h1v1h-1zM43 20h1v1h-1zM64 20h1v1h-1zM69 20h1v1h-1zM75 20h1v1h-1zM122 20h2v1h-2zM159 20h1v1h-1zM177 20h2v1h-2zM192 20h1v1h-1zM6 21h2v1h-2zM12 21h1v1h-1zM16 21h1v1h-1zM58 21h2v1h-2zM61 21h1v1h-1zM72 21h1v1h-1zM96 21h1v1h-1zM103 21h1v1h-1zM115 21h1v1h-1zM197 21h3v1h-3zM130 25h1v1h-1zM133 25h1v1h-1zM1 26h2v1h-2zM45 26h1v1h-1zM14 27h1v1h-1zM55 27h1v1h-1zM88 27h3v1h-3zM113 27h1v1h-1zM12 28h2v1h-2zM52 28h1v1h-1zM121 28h2v1h-2zM177 28h2v1h-2zM93 29h1v1h-1zM136 29h1v1h-1zM160 29h1v1h-1zM28 31h1v1h-1zM78 31h1v1h-1zM92 31h2v1h-2zM98 31h4v1h-4zM109 31h1v1h-1zM144 31h1v1h-1zM146 31h2v1h-2zM160 31h2v1h-2zM15 32h1v1h-1zM54 32h1v1h-1zM92 32h1v1h-1zM45 34h1v1h-1zM74 34h2v1h-2zM179 34h1v1h-1zM192 34h3v1h-3zM8 36h1v1h-1zM39 36h1v1h-1zM63 36h2v1h-2zM96 36h4v1h-4zM189 36h2v1h-2zM192 36h1v1h-1zM37 37h1v1h-1zM74 37h2v1h-2zM102 37h2v1h-2zM122 37h1v1h-1zM156 37h1v1h-1zM173 37h2v1h-2zM176 37h1v1h-1zM28 38h1v1h-1zM31 38h3v1h-3zM83 38h2v1h-2zM99 38h2v1h-2zM103 38h1v1h-1zM141 38h3v1h-3zM161 38h1v1h-1zM50 39h1v1h-1zM192 39h1v1h-1zM109 40h2v1h-2zM19 41h1v1h-1zM144 41h2v1h-2zM157 41h1v1h-1zM7 42h2v1h-2zM120 42h2v1h-2zM143 42h1v1h-1zM194 42h1v1h-1zM31 43h2v1h-2zM68 43h1v1h-1zM72 43h1v1h-1zM106 43h1v1h-1zM146 43h1v1h-1zM150 43h2v1h-2zM155 43h1v1h-1zM177 43h1v1h-1zM28 44h1v1h-1zM41 44h1v1h-1zM67 44h1v1h-1zM68 44h1v1h-1zM77 44h1v1h-1zM100 44h1v1h-1zM171 44h3v1h-3zM14 45h1v1h-1zM110 45h1v1h-1zM112 45h1v1h-1zM30 46h1v1h-1zM58 46h1v1h-1zM148 46h1v1h-1zM33 47h1v1h-1zM40 47h1v1h-1zM111 47h1v1h-1zM113 47h1v1h-1zM125 47h2v1h-2zM142 47h1v1h-1zM163 47h1v1h-1zM33 48h1v1h-1zM50 48h1v1h-1zM76 48h1v1h-1zM96 48h1v1h-1zM99 48h1v1h-1zM107 48h1v1h-1zM115 48h1v1h-1zM117 48h1v1h-1zM21 49h1v1h-1zM27 49h2v1h-2zM57 49h1v1h-1zM82 49h1v1h-1zM141 49h1v1h-1zM154 49h1v1h-1zM186 49h1v1h-1zM4 50h1v1h-1zM94 50h1v1h-1zM105 50h1v1h-1zM117 50h1v1h-1zM157 50h2v1h-2zM171 50h2v1h-2zM184 50h3v1h-3zM198 50h2v1h-2zM1 51h2v1h-2zM29 51h1v1h-1zM42 51h2v1h-2zM82 51h1v1h-1zM96 51h1v1h-1zM111 51h1v1h-1zM116 51h1v1h-1zM129 51h1v1h-1zM178 51h2v1h-2zM54 53h1v1h-1zM73 53h2v1h-2zM108 53h1v1h-1zM103 54h1v1h-1zM116 54h2v1h-2zM160 54h1v1h-1zM11 55h1v1h-1zM49 55h2v1h-2zM53 55h2v1h-2zM78 55h1v1h-1zM84 55h1v1h-1zM127 55h2v1h-2zM39 56h1v1h-1zM69 56h1v1h-1zM141 56h1v1h-1zM190 56h1v1h-1zM57 57h1v1h-1zM87 57h2v1h-2zM144 57h1v1h-1zM161 57h2v1h-2zM183 57h1v1h-1zM36 58h1v1h-1zM42 58h1v1h-1zM44 58h1v1h-1zM72 58h1v1h-1zM88 58h1v1h-1zM108 58h1v1h-1zM112 58h2v1h-2zM182 58h1v1h-1zM10 59h3v1h-3zM38 59h2v1h-2zM54 59h3v1h-3zM58 59h2v1h-2zM72 59h1v1h-1zM83 59h1v1h-1zM106 59h1v1h-1zM167 59h2v1h-2zM37 60h2v1h-2zM157 60h1v1h-1zM173 60h1v1h-1zM179 60h1v1h-1zM185 60h1v1h-1zM196 60h1v1h-1zM11 61h1v1h-1zM20 61h1v1h-1zM58 61h1v1h-1zM83 61h1v1h-1zM36 62h1v1h-1zM177 62h1v1h-1zM24 63h1v1h-1zM36 63h1v1h-1zM128 63h1v1h-1zM149 63h1v1h-1zM151 63h2v1h-2zM154 63h1v1h-1zM199 63h1v1h-1zM0 64h1v1h-1zM12 64h2v1h-2zM16 64h2v1h-2zM69 64h1v1h-1zM108 64h1v1h-1zM189 64h1v1h-1zM26 65h1v1h-1zM36 65h1v1h-1zM54 65h1v1h-1zM69 65h1v1h-1zM71 65h1v1h-1zM86 65h1v1h-1zM194 65h1v1h-1zM196 65h1v1h-1zM198 65h2v1h-2zM166 66h1v1h-1zM8 71h1v1h-1zM30 71h1v1h-1zM87 71h2v1h-2zM138 71h1v1h-1zM143 71h2v1h-2zM148 71h1v1h-1zM162 71h1v1h-1zM167 71h1v1h-1zM182 71h1v1h-1zM108 72h1v1h-1zM33 74h2v1h-2zM2 77h1v1h-1zM90 77h1v1h-1zM117 77h1v1h-1zM59 78h1v1h-1z"/><path fill="#cca8fc" d="M14 0h1v1h-1zM55 0h3v1h-3zM62 0h1v1h-1zM81 0h1v1h-1zM130 0h1v1h-1zM157 0h1v1h-1zM172 1h1v1h-1zM153 2h2v1h-2zM192 2h1v1h-1zM195 2h1v1h-1zM198 2h2v1h-2zM157 3h2v1h-2zM191 3h3v1h-3zM0 4h3v1h-3zM182 4h2v1h-2zM185 5h1v1h-1zM13 6h3v1h-3zM40 6h1v1h-1zM118 6h1v1h-1zM173 6h1v1h-1zM93 8h1v1h-1zM175 8h1v1h-1zM184 8h4v1h-4zM191 8h1v1h-1zM193 8h1v1h-1zM60 9h1v1h-1zM177 9h4v1h-4zM182 9h1v1h-1zM184 9h1v1h-1zM142 10h1v1h-1zM150 10h1v1h-1zM157 10h1v1h-1zM107 11h1v1h-1zM144 11h1v1h-1zM146 11h2v1h-2zM184 11h1v1h-1zM197 13h3v1h-3zM21 14h1v1h-1zM75 14h1v1h-1zM86 14h1v1h-1zM101 14h2v1h-2zM106 14h2v1h-2zM128 14h1v1h-1zM174 14h2v1h-2zM182 14h1v1h-1zM122 15h1v1h-1zM144 15h2v1h-2zM31 16h1v1h-1zM45 16h2v1h-2zM68 16h1v1h-1zM195 16h1v1h-1zM197 16h1v1h-1zM93 17h1v1h-1zM171 17h1v1h-1zM65 18h1v1h-1zM80 18h1v1h-1zM139 18h3v1h-3zM149 19h1v1h-1zM171 19h1v1h-1zM7 20h2v1h-2zM46 20h1v1h-1zM60 20h1v1h-1zM74 20h1v1h-1zM119 20h1v1h-1zM131 20h1v1h-1zM151 20h1v1h-1zM41 21h1v1h-1zM112 21h2v1h-2zM147 21h1v1h-1zM149 21h2v1h-2zM166 21h1v1h-1zM46 23h1v1h-1zM60 23h2v1h-2zM36 24h2v1h-2zM43 24h1v1h-1zM91 24h1v1h-1zM138 24h1v1h-1zM140 24h1v1h-1zM168 24h1v1h-1zM36 25h1v1h-1zM103 25h3v1h-3zM121 25h1v1h-1zM193 25h1v1h-1zM148 26h1v1h-1zM164 26h1v1h-1zM168 26h1v1h-1zM178 26h1v1h-1zM58 27h1v1h-1zM73 27h1v1h-1zM117 27h1v1h-1zM137 27h2v1h-2zM140 27h1v1h-1zM47 28h2v1h-2zM128 28h1v1h-1zM140 29h4v1h-4zM147 29h2v1h-2zM157 30h2v1h-2zM49 31h1v1h-1zM118 31h1v1h-1zM6 32h1v1h-1zM55 32h1v1h-1zM101 32h1v1h-1zM93 33h2v1h-2zM137 33h1v1h-1zM1 34h1v1h-1zM16 34h1v1h-1zM56 34h2v1h-2zM97 34h1v1h-1zM129 34h1v1h-1zM42 35h1v1h-1zM44 35h1v1h-1zM77 35h1v1h-1zM98 35h1v1h-1zM159 35h1v1h-1zM3 36h1v1h-1zM14 36h1v1h-1zM18 36h4v1h-4zM48 36h1v1h-1zM60 36h1v1h-1zM146 36h3v1h-3zM150 36h1v1h-1zM180 36h1v1h-1zM187 36h1v1h-1zM193 36h2v1h-2zM16 37h1v1h-1zM41 37h1v1h-1zM47 37h1v1h-1zM50 37h3v1h-3zM101 37h1v1h-1zM120 37h1v1h-1zM123 37h2v1h-2zM182 37h2v1h-2zM47 38h1v1h-1zM14 39h1v1h-1zM47 39h2v1h-2zM36 40h2v1h-2zM181 40h1v1h-1zM191 41h1v1h-1zM153 42h3v1h-3zM14 44h1v1h-1zM36 44h1v1h-1zM179 44h2v1h-2zM12 45h2v1h-2zM144 45h2v1h-2zM157 45h2v1h-2zM180 46h2v1h-2zM19 47h2v1h-2zM46 47h3v1h-3zM68 47h2v1h-2zM98 47h1v1h-1zM119 47h1v1h-1zM121 47h1v1h-1zM137 47h2v1h-2zM164 47h1v1h-1zM189 47h2v1h-2zM2 48h2v1h-2zM9 48h2v1h-2zM22 48h2v1h-2zM26 48h2v1h-2zM45 48h1v1h-1zM166 48h1v1h-1zM36 49h1v1h-1zM80 49h1v1h-1zM115 49h1v1h-1zM120 49h1v1h-1zM135 49h1v1h-1zM178 49h1v1h-1zM178 50h2v1h-2zM187 50h1v1h-1zM190 50h1v1h-1zM19 51h1v1h-1zM103 51h1v1h-1zM35 52h2v1h-2zM88 52h1v1h-1zM134 52h1v1h-1zM180 52h2v1h-2zM199 52h1v1h-1zM48 53h1v1h-1zM62 53h1v1h-1zM83 53h1v1h-1zM115 53h1v1h-1zM120 53h1v1h-1zM172 53h1v1h-1zM187 53h1v1h-1zM36 54h1v1h-1zM137 54h1v1h-1zM36 55h1v1h-1zM41 55h1v1h-1zM99 55h1v1h-1zM16 56h1v1h-1zM36 56h1v1h-1zM41 56h1v1h-1zM88 56h1v1h-1zM120 56h1v1h-1zM16 57h1v1h-1zM115 57h1v1h-1zM120 57h1v1h-1zM155 57h1v1h-1zM16 58h1v1h-1zM80 58h1v1h-1zM83 58h1v1h-1zM89 58h1v1h-1zM110 58h2v1h-2zM115 58h1v1h-1zM137 58h3v1h-3zM158 58h1v1h-1zM160 58h1v1h-1zM162 58h1v1h-1zM48 59h1v1h-1zM80 59h1v1h-1zM115 59h3v1h-3zM130 59h1v1h-1zM143 59h1v1h-1zM16 60h1v1h-1zM35 60h2v1h-2zM68 60h1v1h-1zM80 60h1v1h-1zM83 60h1v1h-1zM88 60h1v1h-1zM96 60h1v1h-1zM125 60h1v1h-1zM139 60h1v1h-1zM80 61h1v1h-1zM125 61h1v1h-1zM166 61h2v1h-2zM89 62h1v1h-1zM108 62h1v1h-1zM115 62h1v1h-1zM125 62h1v1h-1zM22 63h2v1h-2zM48 63h1v1h-1zM80 63h1v1h-1zM89 63h1v1h-1zM115 63h1v1h-1zM48 64h1v1h-1zM80 64h1v1h-1zM83 64h1v1h-1zM115 64h2v1h-2zM123 64h1v1h-1zM12 65h1v1h-1zM80 65h1v1h-1zM83 65h1v1h-1zM89 65h1v1h-1zM115 65h1v1h-1zM125 65h1v1h-1zM129 65h1v1h-1zM149 65h2v1h-2zM62 66h1v1h-1zM97 66h1v1h-1zM105 66h1v1h-1zM114 66h1v1h-1zM41 67h2v1h-2zM78 67h1v1h-1zM123 67h2v1h-2zM131 67h2v1h-2zM8 68h1v1h-1zM13 68h1v1h-1zM24 68h1v1h-1zM47 68h1v1h-1zM49 68h1v1h-1zM51 68h1v1h-1zM61 68h3v1h-3zM97 68h1v1h-1zM100 68h2v1h-2zM105 68h4v1h-4zM161 68h1v1h-1zM13 69h1v1h-1zM38 70h2v1h-2zM58 70h2v1h-2zM71 70h1v1h-1zM106 70h1v1h-1zM128 70h1v1h-1zM130 70h1v1h-1zM9 71h2v1h-2zM14 71h2v1h-2zM37 71h1v1h-1zM55 71h1v1h-1zM70 71h2v1h-2zM89 71h1v1h-1zM95 71h1v1h-1zM101 71h2v1h-2zM111 71h2v1h-2zM125 71h1v1h-1zM145 71h2v1h-2zM188 71h1v1h-1zM17 72h1v1h-1zM39 72h2v1h-2zM44 72h1v1h-1zM93 72h3v1h-3zM114 72h1v1h-1zM116 72h1v1h-1zM4 73h2v1h-2zM12 73h1v1h-1zM61 73h1v1h-1zM81 73h2v1h-2zM113 73h1v1h-1zM127 73h3v1h-3zM5 74h1v1h-1zM7 74h1v1h-1zM14 74h1v1h-1zM70 74h2v1h-2zM74 74h1v1h-1zM86 74h1v1h-1zM106 74h1v1h-1zM115 74h1v1h-1zM11 75h1v1h-1zM29 75h1v1h-1zM81 75h1v1h-1zM93 75h1v1h-1zM106 75h1v1h-1zM13 76h2v1h-2zM25 76h1v1h-1zM35 76h2v1h-2zM49 76h1v1h-1zM112 76h1v1h-1zM4 77h2v1h-2zM64 77h2v1h-2zM74 77h1v1h-1zM109 77h4v1h-4zM17 78h1v1h-1zM27 78h3v1h-3zM44 78h1v1h-1z"/><path fill="#a884fc" d="M15 0h1v1h-1zM22 0h1v1h-1zM29 0h2v1h-2zM34 0h1v1h-1zM37 0h3v1h-3zM47 0h1v1h-1zM64 0h1v1h-1zM66 0h1v1h-1zM87 0h1v1h-1zM98 0h2v1h-2zM110 0h1v1h-1zM112 0h3v1h-3zM127 0h1v1h-1zM194 0h1v1h-1zM5 1h1v1h-1zM7 1h3v1h-3zM11 1h1v1h-1zM13 1h3v1h-3zM20 1h2v1h-2zM23 1h3v1h-3zM31 1h1v1h-1zM33 1h1v1h-1zM35 1h2v1h-2zM40 1h1v1h-1zM43 1h2v1h-2zM46 1h2v1h-2zM49 1h1v1h-1zM51 1h1v1h-1zM53 1h1v1h-1zM56 1h12v1h-12zM68 1h1v1h-1zM72 1h5v1h-5zM78 1h6v1h-6zM86 1h5v1h-5zM93 1h2v1h-2zM96 1h3v1h-3zM100 1h2v1h-2zM103 1h4v1h-4zM108 1h7v1h-7zM117 1h1v1h-1zM119 1h1v1h-1zM121 1h1v1h-1zM124 1h3v1h-3zM129 1h2v1h-2zM174 2h1v1h-1zM0 3h1v1h-1zM3 3h1v1h-1zM6 3h2v1h-2zM9 3h3v1h-3zM14 3h1v1h-1zM17 3h1v1h-1zM20 3h1v1h-1zM22 3h10v1h-10zM34 3h2v1h-2zM37 3h2v1h-2zM40 3h3v1h-3zM47 3h2v1h-2zM50 3h1v1h-1zM52 3h1v1h-1zM54 3h5v1h-5zM60 3h2v1h-2zM64 3h1v1h-1zM72 3h4v1h-4zM77 3h2v1h-2zM80 3h3v1h-3zM84 3h3v1h-3zM91 3h5v1h-5zM97 3h1v1h-1zM99 3h3v1h-3zM103 3h1v1h-1zM105 3h1v1h-1zM108 3h1v1h-1zM111 3h2v1h-2zM115 3h3v1h-3zM119 3h4v1h-4zM127 3h1v1h-1zM131 3h2v1h-2zM141 3h1v1h-1zM148 3h1v1h-1zM171 3h3v1h-3zM185 3h1v1h-1zM199 3h1v1h-1zM14 4h1v1h-1zM18 4h1v1h-1zM22 4h1v1h-1zM30 4h1v1h-1zM36 4h2v1h-2zM53 4h1v1h-1zM73 4h1v1h-1zM83 4h1v1h-1zM85 4h1v1h-1zM99 4h1v1h-1zM102 4h1v1h-1zM104 4h1v1h-1zM109 4h1v1h-1zM123 4h1v1h-1zM127 4h1v1h-1zM131 4h1v1h-1zM141 4h1v1h-1zM171 4h1v1h-1zM13 5h1v1h-1zM20 5h1v1h-1zM29 5h1v1h-1zM31 5h1v1h-1zM54 5h1v1h-1zM57 5h1v1h-1zM59 5h2v1h-2zM67 5h1v1h-1zM100 5h1v1h-1zM106 5h1v1h-1zM108 5h1v1h-1zM111 5h1v1h-1zM116 5h1v1h-1zM141 5h2v1h-2zM157 5h1v1h-1zM48 6h1v1h-1zM100 6h1v1h-1zM145 6h3v1h-3zM3 7h1v1h-1zM8 7h1v1h-1zM17 7h1v1h-1zM32 7h1v1h-1zM34 7h1v1h-1zM69 7h2v1h-2zM77 7h1v1h-1zM82 7h1v1h-1zM86 7h1v1h-1zM90 7h1v1h-1zM93 7h1v1h-1zM96 7h1v1h-1zM102 7h1v1h-1zM105 7h1v1h-1zM112 7h1v1h-1zM121 7h1v1h-1zM129 7h2v1h-2zM143 7h1v1h-1zM145 7h1v1h-1zM163 7h1v1h-1zM170 7h1v1h-1zM184 7h1v1h-1zM187 7h1v1h-1zM0 8h2v1h-2zM5 8h1v1h-1zM19 8h1v1h-1zM29 8h1v1h-1zM34 8h2v1h-2zM37 8h1v1h-1zM44 8h1v1h-1zM46 8h1v1h-1zM50 8h2v1h-2zM57 8h2v1h-2zM63 8h1v1h-1zM67 8h1v1h-1zM95 8h1v1h-1zM101 8h1v1h-1zM105 8h1v1h-1zM118 8h2v1h-2zM132 8h1v1h-1zM153 8h1v1h-1zM171 8h1v1h-1zM176 8h1v1h-1zM183 8h1v1h-1zM196 8h1v1h-1zM2 9h1v1h-1zM5 9h1v1h-1zM24 9h1v1h-1zM47 9h1v1h-1zM76 9h1v1h-1zM125 9h1v1h-1zM164 9h1v1h-1zM34 10h1v1h-1zM38 10h1v1h-1zM48 10h1v1h-1zM54 10h1v1h-1zM93 10h1v1h-1zM98 10h1v1h-1zM106 10h2v1h-2zM111 10h1v1h-1zM113 10h1v1h-1zM120 10h1v1h-1zM132 10h1v1h-1zM143 10h2v1h-2zM146 10h1v1h-1zM167 10h1v1h-1zM197 10h1v1h-1zM134 11h1v1h-1zM137 11h1v1h-1zM142 11h1v1h-1zM158 11h1v1h-1zM164 11h1v1h-1zM193 11h2v1h-2zM196 11h1v1h-1zM7 12h1v1h-1zM11 12h1v1h-1zM17 12h1v1h-1zM20 12h1v1h-1zM37 12h2v1h-2zM63 12h1v1h-1zM68 12h1v1h-1zM108 12h2v1h-2zM116 12h1v1h-1zM133 12h1v1h-1zM139 12h1v1h-1zM169 12h1v1h-1zM3 13h1v1h-1zM9 13h1v1h-1zM11 13h1v1h-1zM13 13h1v1h-1zM28 13h1v1h-1zM31 13h1v1h-1zM43 13h1v1h-1zM51 13h3v1h-3zM97 13h2v1h-2zM102 13h1v1h-1zM110 13h1v1h-1zM112 13h1v1h-1zM118 13h1v1h-1zM127 13h1v1h-1zM137 13h1v1h-1zM147 13h1v1h-1zM174 13h1v1h-1zM191 13h1v1h-1zM15 14h1v1h-1zM36 14h1v1h-1zM41 14h1v1h-1zM46 14h1v1h-1zM130 14h1v1h-1zM148 14h1v1h-1zM12 15h1v1h-1zM102 15h1v1h-1zM174 15h2v1h-2zM196 15h1v1h-1zM198 15h1v1h-1zM5 16h1v1h-1zM10 16h3v1h-3zM18 16h1v1h-1zM21 16h2v1h-2zM34 16h1v1h-1zM42 16h2v1h-2zM49 16h1v1h-1zM72 16h1v1h-1zM77 16h2v1h-2zM84 16h3v1h-3zM92 16h1v1h-1zM95 16h1v1h-1zM104 16h1v1h-1zM111 16h1v1h-1zM124 16h1v1h-1zM144 16h1v1h-1zM160 16h1v1h-1zM162 16h1v1h-1zM136 17h1v1h-1zM170 17h1v1h-1zM180 17h1v1h-1zM191 17h1v1h-1zM4 18h1v1h-1zM14 18h2v1h-2zM18 18h1v1h-1zM23 18h1v1h-1zM32 18h2v1h-2zM37 18h1v1h-1zM40 18h1v1h-1zM46 18h2v1h-2zM53 18h1v1h-1zM57 18h1v1h-1zM59 18h1v1h-1zM62 18h1v1h-1zM70 18h1v1h-1zM74 18h1v1h-1zM79 18h1v1h-1zM84 18h2v1h-2zM88 18h1v1h-1zM90 18h1v1h-1zM94 18h2v1h-2zM101 18h1v1h-1zM103 18h3v1h-3zM107 18h1v1h-1zM112 18h1v1h-1zM118 18h1v1h-1zM122 18h1v1h-1zM124 18h2v1h-2zM129 18h1v1h-1zM158 18h1v1h-1zM178 18h2v1h-2zM134 19h1v1h-1zM150 19h1v1h-1zM152 19h2v1h-2zM174 19h2v1h-2zM182 19h2v1h-2zM0 20h2v1h-2zM19 20h2v1h-2zM23 20h3v1h-3zM27 20h1v1h-1zM34 20h1v1h-1zM53 20h3v1h-3zM57 20h1v1h-1zM59 20h1v1h-1zM67 20h1v1h-1zM83 20h2v1h-2zM88 20h1v1h-1zM90 20h1v1h-1zM100 20h2v1h-2zM104 20h1v1h-1zM112 20h2v1h-2zM117 20h2v1h-2zM127 20h1v1h-1zM155 20h1v1h-1zM157 20h1v1h-1zM161 20h1v1h-1zM4 21h1v1h-1zM17 21h2v1h-2zM22 21h2v1h-2zM29 21h1v1h-1zM31 21h1v1h-1zM34 21h1v1h-1zM40 21h1v1h-1zM42 21h1v1h-1zM44 21h2v1h-2zM47 21h1v1h-1zM52 21h3v1h-3zM64 21h1v1h-1zM66 21h1v1h-1zM78 21h1v1h-1zM86 21h3v1h-3zM90 21h3v1h-3zM95 21h1v1h-1zM100 21h1v1h-1zM104 21h1v1h-1zM111 21h1v1h-1zM117 21h1v1h-1zM120 21h1v1h-1zM122 21h1v1h-1zM131 21h2v1h-2zM196 21h1v1h-1zM4 22h1v1h-1zM6 22h4v1h-4zM14 22h1v1h-1zM18 22h2v1h-2zM28 22h1v1h-1zM31 22h3v1h-3zM37 22h1v1h-1zM39 22h1v1h-1zM44 22h1v1h-1zM51 22h1v1h-1zM54 22h1v1h-1zM57 22h4v1h-4zM62 22h1v1h-1zM66 22h1v1h-1zM69 22h5v1h-5zM75 22h2v1h-2zM83 22h1v1h-1zM85 22h1v1h-1zM89 22h1v1h-1zM92 22h3v1h-3zM96 22h1v1h-1zM98 22h4v1h-4zM105 22h2v1h-2zM109 22h1v1h-1zM113 22h1v1h-1zM115 22h1v1h-1zM123 22h1v1h-1zM125 22h1v1h-1zM141 22h1v1h-1zM143 22h2v1h-2zM186 22h1v1h-1zM188 22h1v1h-1zM190 22h1v1h-1zM196 22h2v1h-2zM5 23h1v1h-1zM10 23h1v1h-1zM22 23h1v1h-1zM42 23h1v1h-1zM74 23h2v1h-2zM78 23h1v1h-1zM83 23h1v1h-1zM86 23h1v1h-1zM92 23h1v1h-1zM97 23h1v1h-1zM102 23h1v1h-1zM118 23h1v1h-1zM121 23h1v1h-1zM128 23h1v1h-1zM137 23h1v1h-1zM143 23h1v1h-1zM149 23h1v1h-1zM157 23h1v1h-1zM159 23h1v1h-1zM165 23h1v1h-1zM2 24h3v1h-3zM7 24h1v1h-1zM15 24h1v1h-1zM21 24h1v1h-1zM25 24h1v1h-1zM52 24h1v1h-1zM66 24h1v1h-1zM76 24h1v1h-1zM79 24h1v1h-1zM83 24h1v1h-1zM87 24h1v1h-1zM92 24h1v1h-1zM97 24h1v1h-1zM110 24h2v1h-2zM115 24h1v1h-1zM121 24h1v1h-1zM126 24h2v1h-2zM131 24h1v1h-1zM154 24h1v1h-1zM172 24h1v1h-1zM175 24h3v1h-3zM196 24h1v1h-1zM102 25h1v1h-1zM156 25h2v1h-2zM159 25h1v1h-1zM161 25h1v1h-1zM167 25h1v1h-1zM169 25h1v1h-1zM184 25h1v1h-1zM197 25h1v1h-1zM21 26h1v1h-1zM25 26h1v1h-1zM29 26h1v1h-1zM71 26h1v1h-1zM74 26h1v1h-1zM79 26h1v1h-1zM107 26h2v1h-2zM127 26h1v1h-1zM130 26h1v1h-1zM138 26h1v1h-1zM169 26h1v1h-1zM174 26h1v1h-1zM12 27h1v1h-1zM15 27h2v1h-2zM41 27h2v1h-2zM63 27h1v1h-1zM81 27h1v1h-1zM84 27h1v1h-1zM94 27h1v1h-1zM98 27h1v1h-1zM104 27h2v1h-2zM107 27h1v1h-1zM118 27h2v1h-2zM147 27h1v1h-1zM0 28h1v1h-1zM5 28h1v1h-1zM8 28h2v1h-2zM11 28h1v1h-1zM15 28h1v1h-1zM21 28h2v1h-2zM27 28h8v1h-8zM44 28h2v1h-2zM55 28h2v1h-2zM66 28h2v1h-2zM70 28h1v1h-1zM74 28h2v1h-2zM90 28h1v1h-1zM98 28h1v1h-1zM101 28h3v1h-3zM105 28h1v1h-1zM138 28h1v1h-1zM172 28h1v1h-1zM186 28h1v1h-1zM110 29h1v1h-1zM189 29h1v1h-1zM134 30h1v1h-1zM150 30h1v1h-1zM5 31h1v1h-1zM29 31h1v1h-1zM31 31h1v1h-1zM46 31h1v1h-1zM50 31h1v1h-1zM61 31h1v1h-1zM70 31h1v1h-1zM111 31h1v1h-1zM183 31h2v1h-2zM1 32h1v1h-1zM3 32h1v1h-1zM5 32h1v1h-1zM9 32h1v1h-1zM11 32h3v1h-3zM21 32h1v1h-1zM30 32h1v1h-1zM38 32h2v1h-2zM50 32h2v1h-2zM56 32h2v1h-2zM60 32h1v1h-1zM67 32h1v1h-1zM77 32h1v1h-1zM85 32h1v1h-1zM95 32h1v1h-1zM97 32h1v1h-1zM107 32h1v1h-1zM109 32h1v1h-1zM119 32h1v1h-1zM121 32h1v1h-1zM135 32h1v1h-1zM137 32h1v1h-1zM144 32h2v1h-2zM155 32h1v1h-1zM180 32h1v1h-1zM11 33h1v1h-1zM15 33h1v1h-1zM20 33h1v1h-1zM22 33h1v1h-1zM36 33h1v1h-1zM52 33h1v1h-1zM74 33h1v1h-1zM87 33h1v1h-1zM128 33h1v1h-1zM175 33h1v1h-1zM198 33h1v1h-1zM0 34h1v1h-1zM3 34h2v1h-2zM6 34h1v1h-1zM8 34h4v1h-4zM19 34h2v1h-2zM23 34h1v1h-1zM28 34h1v1h-1zM33 34h2v1h-2zM41 34h2v1h-2zM48 34h4v1h-4zM54 34h2v1h-2zM65 34h1v1h-1zM76 34h3v1h-3zM80 34h2v1h-2zM86 34h2v1h-2zM89 34h2v1h-2zM99 34h2v1h-2zM105 34h1v1h-1zM107 34h2v1h-2zM112 34h1v1h-1zM117 34h3v1h-3zM123 34h4v1h-4zM131 34h1v1h-1zM145 34h1v1h-1zM185 34h1v1h-1zM37 35h1v1h-1zM47 35h1v1h-1zM53 35h1v1h-1zM102 35h1v1h-1zM160 35h1v1h-1zM162 35h3v1h-3zM193 35h1v1h-1zM7 36h1v1h-1zM25 36h1v1h-1zM33 36h1v1h-1zM35 36h1v1h-1zM45 36h2v1h-2zM56 36h1v1h-1zM77 36h1v1h-1zM88 36h1v1h-1zM93 36h3v1h-3zM101 36h2v1h-2zM109 36h1v1h-1zM114 36h1v1h-1zM117 36h1v1h-1zM121 36h1v1h-1zM123 36h1v1h-1zM143 36h1v1h-1zM166 36h4v1h-4zM175 36h1v1h-1zM2 37h1v1h-1zM4 37h1v1h-1zM33 37h1v1h-1zM44 37h1v1h-1zM56 37h1v1h-1zM61 37h2v1h-2zM69 37h2v1h-2zM81 37h1v1h-1zM84 37h2v1h-2zM87 37h1v1h-1zM89 37h3v1h-3zM98 37h3v1h-3zM106 37h1v1h-1zM108 37h1v1h-1zM128 37h1v1h-1zM189 37h1v1h-1zM198 37h2v1h-2zM17 38h1v1h-1zM37 38h1v1h-1zM46 38h1v1h-1zM82 38h1v1h-1zM87 38h1v1h-1zM148 38h1v1h-1zM150 38h1v1h-1zM183 38h2v1h-2zM195 38h1v1h-1zM4 39h1v1h-1zM10 39h1v1h-1zM23 39h1v1h-1zM25 39h1v1h-1zM63 39h1v1h-1zM71 39h1v1h-1zM93 39h1v1h-1zM101 39h1v1h-1zM105 39h1v1h-1zM114 39h1v1h-1zM124 39h1v1h-1zM127 39h1v1h-1zM159 39h1v1h-1zM180 39h2v1h-2zM151 40h1v1h-1zM155 40h1v1h-1zM6 41h1v1h-1zM8 41h2v1h-2zM11 41h1v1h-1zM20 41h1v1h-1zM22 41h2v1h-2zM25 41h4v1h-4zM32 41h1v1h-1zM37 41h1v1h-1zM39 41h2v1h-2zM45 41h1v1h-1zM47 41h2v1h-2zM57 41h1v1h-1zM60 41h2v1h-2zM63 41h2v1h-2zM68 41h1v1h-1zM76 41h1v1h-1zM78 41h1v1h-1zM87 41h1v1h-1zM93 41h1v1h-1zM105 41h1v1h-1zM107 41h1v1h-1zM112 41h2v1h-2zM126 41h2v1h-2zM131 41h1v1h-1zM139 41h1v1h-1zM141 41h1v1h-1zM143 41h1v1h-1zM164 41h1v1h-1zM186 41h1v1h-1zM10 42h1v1h-1zM30 42h1v1h-1zM51 42h1v1h-1zM69 42h1v1h-1zM77 42h1v1h-1zM81 42h1v1h-1zM90 42h1v1h-1zM109 42h1v1h-1zM114 42h1v1h-1zM122 42h1v1h-1zM162 42h1v1h-1zM169 42h1v1h-1zM184 42h1v1h-1zM1 43h1v1h-1zM9 43h2v1h-2zM15 43h1v1h-1zM18 43h1v1h-1zM22 43h1v1h-1zM27 43h1v1h-1zM39 43h1v1h-1zM43 43h1v1h-1zM46 43h1v1h-1zM50 43h2v1h-2zM56 43h1v1h-1zM60 43h2v1h-2zM65 43h1v1h-1zM71 43h1v1h-1zM79 43h1v1h-1zM81 43h1v1h-1zM87 43h1v1h-1zM90 43h1v1h-1zM95 43h1v1h-1zM111 43h1v1h-1zM113 43h1v1h-1zM118 43h2v1h-2zM122 43h1v1h-1zM124 43h1v1h-1zM130 43h3v1h-3zM149 43h1v1h-1zM153 43h1v1h-1zM171 43h1v1h-1zM192 43h1v1h-1zM156 44h2v1h-2zM198 44h1v1h-1zM10 45h1v1h-1zM15 45h1v1h-1zM18 45h2v1h-2zM23 45h1v1h-1zM28 45h1v1h-1zM31 45h1v1h-1zM40 45h1v1h-1zM42 45h3v1h-3zM46 45h1v1h-1zM50 45h3v1h-3zM63 45h1v1h-1zM66 45h1v1h-1zM68 45h1v1h-1zM82 45h1v1h-1zM87 45h1v1h-1zM90 45h1v1h-1zM94 45h1v1h-1zM106 45h1v1h-1zM111 45h1v1h-1zM126 45h1v1h-1zM132 45h1v1h-1zM190 45h1v1h-1zM38 46h1v1h-1zM163 46h1v1h-1zM195 46h2v1h-2zM1 47h1v1h-1zM8 47h2v1h-2zM11 47h1v1h-1zM18 47h1v1h-1zM21 47h1v1h-1zM31 47h2v1h-2zM34 47h1v1h-1zM55 47h1v1h-1zM77 47h1v1h-1zM79 47h1v1h-1zM100 47h1v1h-1zM106 47h2v1h-2zM156 47h1v1h-1zM159 47h3v1h-3zM183 47h1v1h-1zM187 47h2v1h-2zM17 48h5v1h-5zM30 48h2v1h-2zM46 48h1v1h-1zM58 48h2v1h-2zM64 48h1v1h-1zM69 48h1v1h-1zM81 48h1v1h-1zM130 48h2v1h-2zM138 48h2v1h-2zM148 48h1v1h-1zM173 48h1v1h-1zM163 49h2v1h-2zM0 50h1v1h-1zM3 50h1v1h-1zM5 50h2v1h-2zM9 50h1v1h-1zM14 50h1v1h-1zM17 50h2v1h-2zM20 50h1v1h-1zM24 50h2v1h-2zM28 50h1v1h-1zM32 50h1v1h-1zM35 50h1v1h-1zM40 50h1v1h-1zM42 50h1v1h-1zM49 50h1v1h-1zM55 50h1v1h-1zM58 50h1v1h-1zM63 50h1v1h-1zM67 50h1v1h-1zM68 50h1v1h-1zM71 50h2v1h-2zM78 50h1v1h-1zM81 50h2v1h-2zM84 50h1v1h-1zM91 50h3v1h-3zM95 50h1v1h-1zM100 50h2v1h-2zM103 50h1v1h-1zM110 50h1v1h-1zM112 50h1v1h-1zM118 50h1v1h-1zM122 50h1v1h-1zM124 50h1v1h-1zM126 50h1v1h-1zM128 50h1v1h-1zM131 50h2v1h-2zM135 50h1v1h-1zM144 50h1v1h-1zM148 50h2v1h-2zM167 50h2v1h-2zM191 50h1v1h-1zM15 51h1v1h-1zM25 51h1v1h-1zM28 51h1v1h-1zM30 51h1v1h-1zM32 51h1v1h-1zM34 51h1v1h-1zM37 51h1v1h-1zM44 51h1v1h-1zM61 51h1v1h-1zM64 51h1v1h-1zM66 51h1v1h-1zM92 51h2v1h-2zM100 51h1v1h-1zM106 51h2v1h-2zM113 51h1v1h-1zM132 51h1v1h-1zM186 51h3v1h-3zM197 51h1v1h-1zM23 52h1v1h-1zM37 52h1v1h-1zM39 52h2v1h-2zM44 52h1v1h-1zM49 52h1v1h-1zM66 52h1v1h-1zM94 52h1v1h-1zM141 52h1v1h-1zM153 52h1v1h-1zM156 52h1v1h-1zM176 52h3v1h-3zM189 52h1v1h-1zM0 54h2v1h-2zM3 54h4v1h-4zM17 54h2v1h-2zM20 54h1v1h-1zM23 54h2v1h-2zM27 54h1v1h-1zM29 54h1v1h-1zM34 54h1v1h-1zM38 54h2v1h-2zM44 54h1v1h-1zM49 54h2v1h-2zM54 54h2v1h-2zM57 54h1v1h-1zM69 54h2v1h-2zM72 54h1v1h-1zM82 54h1v1h-1zM91 54h1v1h-1zM97 54h2v1h-2zM100 54h2v1h-2zM111 54h1v1h-1zM119 54h1v1h-1zM121 54h1v1h-1zM126 54h1v1h-1zM175 54h1v1h-1zM195 54h2v1h-2zM3 55h3v1h-3zM17 55h1v1h-1zM19 55h1v1h-1zM21 55h4v1h-4zM34 55h1v1h-1zM42 55h2v1h-2zM45 55h1v1h-1zM82 55h1v1h-1zM87 55h1v1h-1zM98 55h1v1h-1zM100 55h1v1h-1zM105 55h1v1h-1zM107 55h1v1h-1zM109 55h2v1h-2zM122 55h1v1h-1zM124 55h1v1h-1zM131 55h1v1h-1zM140 55h1v1h-1zM172 55h2v1h-2zM189 55h1v1h-1zM198 55h2v1h-2zM1 56h1v1h-1zM5 56h1v1h-1zM14 56h1v1h-1zM21 56h1v1h-1zM23 56h2v1h-2zM32 56h3v1h-3zM43 56h1v1h-1zM58 56h2v1h-2zM81 56h1v1h-1zM83 56h1v1h-1zM85 56h1v1h-1zM94 56h2v1h-2zM98 56h1v1h-1zM100 56h1v1h-1zM112 56h1v1h-1zM119 56h1v1h-1zM145 56h1v1h-1zM8 57h1v1h-1zM14 57h1v1h-1zM21 57h1v1h-1zM30 57h3v1h-3zM35 57h1v1h-1zM51 57h1v1h-1zM58 57h1v1h-1zM61 57h1v1h-1zM63 57h1v1h-1zM78 57h1v1h-1zM82 57h1v1h-1zM84 57h1v1h-1zM103 57h1v1h-1zM106 57h1v1h-1zM110 57h1v1h-1zM132 57h1v1h-1zM147 57h1v1h-1zM158 57h3v1h-3zM169 57h1v1h-1zM172 57h1v1h-1zM175 57h1v1h-1zM185 57h1v1h-1zM19 58h1v1h-1zM155 58h1v1h-1zM165 58h1v1h-1zM168 58h1v1h-1zM197 58h3v1h-3zM2 59h2v1h-2zM30 59h4v1h-4zM51 59h1v1h-1zM53 59h1v1h-1zM61 59h1v1h-1zM92 59h1v1h-1zM110 59h1v1h-1zM113 59h1v1h-1zM131 59h1v1h-1zM153 59h1v1h-1zM172 59h1v1h-1zM180 59h1v1h-1zM3 60h1v1h-1zM22 60h1v1h-1zM27 60h1v1h-1zM39 60h1v1h-1zM51 60h1v1h-1zM67 60h1v1h-1zM100 60h1v1h-1zM104 60h1v1h-1zM144 60h1v1h-1zM146 60h1v1h-1zM164 60h1v1h-1zM167 60h1v1h-1zM198 60h1v1h-1zM1 61h1v1h-1zM8 61h1v1h-1zM14 61h1v1h-1zM28 61h1v1h-1zM31 61h2v1h-2zM45 61h1v1h-1zM104 61h2v1h-2zM112 61h1v1h-1zM132 61h1v1h-1zM135 61h1v1h-1zM145 61h2v1h-2zM163 61h2v1h-2zM5 62h1v1h-1zM37 62h1v1h-1zM135 62h1v1h-1zM138 62h1v1h-1zM151 62h1v1h-1zM169 62h1v1h-1zM21 63h1v1h-1zM27 63h1v1h-1zM30 63h1v1h-1zM34 63h1v1h-1zM59 63h1v1h-1zM70 63h1v1h-1zM93 63h1v1h-1zM103 63h1v1h-1zM109 63h1v1h-1zM182 63h1v1h-1zM184 63h1v1h-1zM191 63h1v1h-1zM9 64h1v1h-1zM39 64h1v1h-1zM43 64h1v1h-1zM45 64h1v1h-1zM47 64h1v1h-1zM49 64h1v1h-1zM58 64h2v1h-2zM68 64h1v1h-1zM82 64h1v1h-1zM93 64h3v1h-3zM98 64h1v1h-1zM105 64h1v1h-1zM117 64h1v1h-1zM122 64h1v1h-1zM126 64h2v1h-2zM161 64h1v1h-1zM173 64h1v1h-1zM195 64h1v1h-1zM3 65h1v1h-1zM5 65h2v1h-2zM8 65h2v1h-2zM23 65h1v1h-1zM31 65h1v1h-1zM49 65h1v1h-1zM58 65h2v1h-2zM61 65h1v1h-1zM78 65h1v1h-1zM82 65h1v1h-1zM87 65h1v1h-1zM98 65h1v1h-1zM104 65h1v1h-1zM112 65h2v1h-2zM118 65h1v1h-1zM122 65h1v1h-1zM127 65h1v1h-1zM132 65h1v1h-1zM175 65h3v1h-3zM184 65h1v1h-1zM189 65h1v1h-1zM101 66h2v1h-2zM133 66h1v1h-1zM135 66h1v1h-1zM139 66h1v1h-1zM142 66h2v1h-2zM147 66h1v1h-1zM155 66h1v1h-1zM164 66h1v1h-1zM167 66h1v1h-1zM169 66h1v1h-1zM171 66h1v1h-1zM173 66h2v1h-2zM179 66h1v1h-1zM185 66h1v1h-1zM187 66h1v1h-1zM192 66h1v1h-1zM199 66h1v1h-1zM53 67h1v1h-1zM142 67h2v1h-2zM148 67h1v1h-1zM151 67h1v1h-1zM159 67h1v1h-1zM161 67h1v1h-1zM164 67h1v1h-1zM166 67h1v1h-1zM189 67h1v1h-1zM192 67h1v1h-1zM195 67h1v1h-1zM198 67h1v1h-1zM68 68h2v1h-2zM88 68h1v1h-1zM135 68h2v1h-2zM138 68h2v1h-2zM141 68h2v1h-2zM152 68h1v1h-1zM154 68h1v1h-1zM165 68h1v1h-1zM168 68h1v1h-1zM170 68h1v1h-1zM176 68h1v1h-1zM178 68h2v1h-2zM182 68h1v1h-1zM189 68h1v1h-1zM193 68h1v1h-1zM196 68h1v1h-1zM92 69h1v1h-1zM99 69h1v1h-1zM133 69h2v1h-2zM141 69h1v1h-1zM144 69h1v1h-1zM149 69h1v1h-1zM154 69h1v1h-1zM156 69h6v1h-6zM168 69h4v1h-4zM174 69h1v1h-1zM177 69h1v1h-1zM8 70h1v1h-1zM70 70h1v1h-1zM82 70h1v1h-1zM133 70h2v1h-2zM136 70h1v1h-1zM140 70h1v1h-1zM143 70h1v1h-1zM150 70h2v1h-2zM158 70h4v1h-4zM163 70h4v1h-4zM170 70h2v1h-2zM175 70h2v1h-2zM181 70h2v1h-2zM184 70h4v1h-4zM189 70h2v1h-2zM193 70h2v1h-2zM197 70h1v1h-1zM199 70h1v1h-1zM118 71h1v1h-1zM133 72h2v1h-2zM137 72h1v1h-1zM141 72h1v1h-1zM143 72h1v1h-1zM146 72h2v1h-2zM151 72h1v1h-1zM167 72h1v1h-1zM173 72h1v1h-1zM175 72h1v1h-1zM181 72h1v1h-1zM186 72h1v1h-1zM188 72h3v1h-3zM192 72h1v1h-1zM134 73h1v1h-1zM137 73h1v1h-1zM146 73h1v1h-1zM148 73h1v1h-1zM154 73h2v1h-2zM159 73h2v1h-2zM162 73h1v1h-1zM172 73h1v1h-1zM176 73h1v1h-1zM184 73h2v1h-2zM187 73h1v1h-1zM193 73h2v1h-2zM196 73h1v1h-1zM20 74h1v1h-1zM40 74h1v1h-1zM135 74h1v1h-1zM139 74h1v1h-1zM143 74h1v1h-1zM147 74h2v1h-2zM151 74h1v1h-1zM157 74h1v1h-1zM160 74h1v1h-1zM185 74h3v1h-3zM189 74h1v1h-1zM192 74h1v1h-1zM197 74h2v1h-2zM143 75h1v1h-1zM145 75h1v1h-1zM147 75h1v1h-1zM158 75h1v1h-1zM161 75h1v1h-1zM163 75h1v1h-1zM167 75h2v1h-2zM175 75h1v1h-1zM182 75h2v1h-2zM185 75h1v1h-1zM190 75h1v1h-1zM192 75h1v1h-1zM198 75h1v1h-1zM40 76h1v1h-1zM67 76h1v1h-1zM78 76h1v1h-1zM133 76h1v1h-1zM140 76h1v1h-1zM142 76h1v1h-1zM144 76h1v1h-1zM149 76h2v1h-2zM163 76h2v1h-2zM166 76h1v1h-1zM174 76h1v1h-1zM177 76h1v1h-1zM179 76h1v1h-1zM183 76h2v1h-2zM186 76h1v1h-1zM189 76h4v1h-4zM133 77h1v1h-1zM136 77h1v1h-1zM138 77h2v1h-2zM142 77h1v1h-1zM150 77h1v1h-1zM154 77h3v1h-3zM162 77h1v1h-1zM165 77h2v1h-2zM168 77h1v1h-1zM170 77h3v1h-3zM175 77h1v1h-1zM179 77h2v1h-2zM183 77h1v1h-1zM191 77h1v1h-1zM194 77h1v1h-1zM198 77h2v1h-2zM42 78h1v1h-1zM52 78h1v1h-1zM74 78h1v1h-1zM91 78h2v1h-2zM109 78h1v1h-1zM117 78h1v1h-1zM133 78h1v1h-1zM135 78h1v1h-1zM140 78h1v1h-1zM142 78h2v1h-2zM149 78h2v1h-2zM159 78h2v1h-2zM164 78h1v1h-1zM167 78h1v1h-1zM169 78h1v1h-1zM171 78h2v1h-2zM181 78h1v1h-1zM184 78h1v1h-1zM191 78h2v1h-2z"/><path fill="#f0cce4" d="M16 0h2v1h-2zM44 0h1v1h-1zM116 0h1v1h-1zM190 0h1v1h-1zM192 0h1v1h-1zM185 1h1v1h-1zM137 2h2v1h-2zM147 2h1v1h-1zM181 2h1v1h-1zM196 2h1v1h-1zM145 3h1v1h-1zM151 3h2v1h-2zM164 3h2v1h-2zM167 3h1v1h-1zM188 4h4v1h-4zM48 5h1v1h-1zM175 5h1v1h-1zM11 6h1v1h-1zM24 6h1v1h-1zM79 6h1v1h-1zM168 6h1v1h-1zM170 6h3v1h-3zM181 6h1v1h-1zM124 7h1v1h-1zM134 7h1v1h-1zM167 7h2v1h-2zM171 7h2v1h-2zM70 8h1v1h-1zM72 8h1v1h-1zM98 8h2v1h-2zM159 8h2v1h-2zM188 8h1v1h-1zM153 9h1v1h-1zM155 9h1v1h-1zM131 10h1v1h-1zM174 10h1v1h-1zM157 11h1v1h-1zM176 11h1v1h-1zM179 12h1v1h-1zM198 12h1v1h-1zM131 13h1v1h-1zM136 13h1v1h-1zM141 13h1v1h-1zM153 13h2v1h-2zM156 13h1v1h-1zM159 13h1v1h-1zM161 13h1v1h-1zM180 13h2v1h-2zM183 13h1v1h-1zM25 14h2v1h-2zM139 14h1v1h-1zM99 15h1v1h-1zM120 15h1v1h-1zM136 15h1v1h-1zM146 15h1v1h-1zM148 15h3v1h-3zM152 15h3v1h-3zM168 15h2v1h-2zM74 17h1v1h-1zM150 17h1v1h-1zM156 17h2v1h-2zM186 17h2v1h-2zM164 18h1v1h-1zM167 18h5v1h-5zM140 19h1v1h-1zM142 19h2v1h-2zM165 19h4v1h-4zM178 19h4v1h-4zM45 20h1v1h-1zM102 20h1v1h-1zM143 20h2v1h-2zM168 20h1v1h-1zM171 20h1v1h-1zM75 21h2v1h-2zM137 21h2v1h-2zM186 21h1v1h-1zM190 21h1v1h-1zM137 22h1v1h-1zM139 22h2v1h-2zM151 23h3v1h-3zM172 23h2v1h-2zM185 23h1v1h-1zM150 24h1v1h-1zM181 24h1v1h-1zM129 25h1v1h-1zM152 25h1v1h-1zM172 25h1v1h-1zM178 25h3v1h-3zM198 25h2v1h-2zM5 27h1v1h-1zM61 27h1v1h-1zM153 27h1v1h-1zM171 27h1v1h-1zM58 28h1v1h-1zM92 28h1v1h-1zM130 28h2v1h-2zM135 28h1v1h-1zM143 28h2v1h-2zM181 28h2v1h-2zM188 28h2v1h-2zM137 29h1v1h-1zM139 29h1v1h-1zM159 29h1v1h-1zM162 29h1v1h-1zM183 30h1v1h-1zM21 31h1v1h-1zM40 31h2v1h-2zM63 31h1v1h-1zM88 31h1v1h-1zM129 31h2v1h-2zM135 31h1v1h-1zM155 31h4v1h-4zM164 31h2v1h-2zM171 31h2v1h-2zM181 31h1v1h-1zM123 32h1v1h-1zM128 32h2v1h-2zM138 32h1v1h-1zM166 32h1v1h-1zM168 32h3v1h-3zM145 33h2v1h-2zM162 33h1v1h-1zM144 34h1v1h-1zM157 34h1v1h-1zM161 34h1v1h-1zM172 34h3v1h-3zM181 34h3v1h-3zM180 35h4v1h-4zM198 35h1v1h-1zM162 36h1v1h-1zM140 37h1v1h-1zM168 37h2v1h-2zM192 37h4v1h-4zM144 38h2v1h-2zM159 38h2v1h-2zM164 38h2v1h-2zM172 38h4v1h-4zM187 38h1v1h-1zM8 39h1v1h-1zM20 39h1v1h-1zM42 39h1v1h-1zM78 39h1v1h-1zM85 39h2v1h-2zM116 39h1v1h-1zM175 39h2v1h-2zM196 39h1v1h-1zM146 40h1v1h-1zM165 40h2v1h-2zM183 40h2v1h-2zM186 40h2v1h-2zM151 41h2v1h-2zM154 41h1v1h-1zM178 41h1v1h-1zM182 41h2v1h-2zM185 41h1v1h-1zM176 42h6v1h-6zM190 42h4v1h-4zM85 43h1v1h-1zM97 43h2v1h-2zM141 43h1v1h-1zM143 43h2v1h-2zM178 43h4v1h-4zM55 44h2v1h-2zM66 44h1v1h-1zM82 44h1v1h-1zM86 44h2v1h-2zM101 44h1v1h-1zM108 44h1v1h-1zM143 44h3v1h-3zM152 44h2v1h-2zM187 44h1v1h-1zM190 44h1v1h-1zM91 45h2v1h-2zM123 45h1v1h-1zM152 45h1v1h-1zM172 45h1v1h-1zM77 46h1v1h-1zM95 46h1v1h-1zM113 46h1v1h-1zM115 46h1v1h-1zM132 46h1v1h-1zM157 46h1v1h-1zM161 46h2v1h-2zM169 46h1v1h-1zM173 46h3v1h-3zM182 46h1v1h-1zM26 47h1v1h-1zM35 47h2v1h-2zM58 47h1v1h-1zM134 47h1v1h-1zM165 47h1v1h-1zM172 47h2v1h-2zM15 48h1v1h-1zM80 48h1v1h-1zM91 48h3v1h-3zM113 48h2v1h-2zM121 48h1v1h-1zM128 48h1v1h-1zM179 48h1v1h-1zM52 49h2v1h-2zM88 49h1v1h-1zM106 49h2v1h-2zM139 49h1v1h-1zM152 49h2v1h-2zM174 49h2v1h-2zM193 49h1v1h-1zM29 50h2v1h-2zM47 50h2v1h-2zM156 50h1v1h-1zM180 50h1v1h-1zM194 50h1v1h-1zM196 50h2v1h-2zM20 51h4v1h-4zM40 51h1v1h-1zM52 51h1v1h-1zM55 51h1v1h-1zM130 51h1v1h-1zM167 51h4v1h-4zM4 52h1v1h-1zM6 52h2v1h-2zM43 52h1v1h-1zM69 52h2v1h-2zM76 52h3v1h-3zM82 52h3v1h-3zM112 52h1v1h-1zM139 52h2v1h-2zM144 52h1v1h-1zM146 52h1v1h-1zM183 52h1v1h-1zM191 52h1v1h-1zM18 53h1v1h-1zM26 53h2v1h-2zM55 53h3v1h-3zM88 53h1v1h-1zM103 53h2v1h-2zM132 53h1v1h-1zM168 53h1v1h-1zM7 54h1v1h-1zM9 54h1v1h-1zM87 54h2v1h-2zM92 54h3v1h-3zM114 54h2v1h-2zM122 54h1v1h-1zM165 54h1v1h-1zM168 54h3v1h-3zM180 54h2v1h-2zM0 55h2v1h-2zM56 55h3v1h-3zM61 55h3v1h-3zM67 55h1v1h-1zM73 55h1v1h-1zM79 55h2v1h-2zM112 55h1v1h-1zM167 55h2v1h-2zM170 55h1v1h-1zM8 56h1v1h-1zM10 56h1v1h-1zM31 56h1v1h-1zM57 56h1v1h-1zM61 56h1v1h-1zM72 56h1v1h-1zM76 56h2v1h-2zM89 56h1v1h-1zM106 56h1v1h-1zM122 56h2v1h-2zM139 56h2v1h-2zM153 56h2v1h-2zM173 56h4v1h-4zM19 57h2v1h-2zM28 57h1v1h-1zM38 57h1v1h-1zM52 57h2v1h-2zM75 57h2v1h-2zM131 57h1v1h-1zM156 57h1v1h-1zM180 57h1v1h-1zM56 58h1v1h-1zM68 58h1v1h-1zM85 58h1v1h-1zM121 58h1v1h-1zM156 58h1v1h-1zM170 58h1v1h-1zM180 58h2v1h-2zM7 59h3v1h-3zM18 59h1v1h-1zM27 59h1v1h-1zM29 59h1v1h-1zM36 59h2v1h-2zM76 59h1v1h-1zM100 59h1v1h-1zM123 59h1v1h-1zM125 59h2v1h-2zM151 59h2v1h-2zM159 59h1v1h-1zM185 59h1v1h-1zM197 59h1v1h-1zM5 60h2v1h-2zM76 60h1v1h-1zM79 60h1v1h-1zM90 60h3v1h-3zM118 60h1v1h-1zM170 60h2v1h-2zM182 60h2v1h-2zM186 60h5v1h-5zM15 61h3v1h-3zM56 61h1v1h-1zM68 61h1v1h-1zM75 61h3v1h-3zM115 61h1v1h-1zM117 61h1v1h-1zM137 61h4v1h-4zM153 61h1v1h-1zM23 62h1v1h-1zM28 62h1v1h-1zM44 62h1v1h-1zM50 62h1v1h-1zM53 62h1v1h-1zM81 62h1v1h-1zM87 62h1v1h-1zM168 62h1v1h-1zM175 62h1v1h-1zM183 62h2v1h-2zM12 63h1v1h-1zM15 63h2v1h-2zM50 63h1v1h-1zM66 63h2v1h-2zM84 63h2v1h-2zM87 63h2v1h-2zM135 63h1v1h-1zM156 63h2v1h-2zM177 63h2v1h-2zM180 63h2v1h-2zM134 64h3v1h-3zM197 64h1v1h-1zM20 65h1v1h-1zM22 65h1v1h-1zM29 65h1v1h-1zM102 65h1v1h-1zM165 65h4v1h-4zM18 66h1v1h-1zM28 66h2v1h-2zM32 66h1v1h-1zM44 66h1v1h-1zM85 66h1v1h-1zM1 67h1v1h-1zM68 67h1v1h-1zM23 68h1v1h-1zM29 68h1v1h-1zM39 68h1v1h-1zM56 68h1v1h-1zM64 68h1v1h-1zM83 68h1v1h-1zM4 69h1v1h-1zM53 69h1v1h-1zM85 69h1v1h-1zM107 69h1v1h-1zM109 69h1v1h-1zM116 69h3v1h-3zM120 69h1v1h-1zM131 69h1v1h-1zM60 70h2v1h-2zM67 70h1v1h-1zM103 70h2v1h-2zM110 70h2v1h-2zM116 70h3v1h-3zM5 71h3v1h-3zM23 71h2v1h-2zM26 71h1v1h-1zM45 71h1v1h-1zM50 71h1v1h-1zM53 71h2v1h-2zM76 71h1v1h-1zM82 71h1v1h-1zM107 71h1v1h-1zM110 71h1v1h-1zM113 71h1v1h-1zM128 71h3v1h-3zM170 71h1v1h-1zM0 72h2v1h-2zM16 72h1v1h-1zM22 72h2v1h-2zM74 72h2v1h-2zM87 72h1v1h-1zM159 72h2v1h-2zM13 73h2v1h-2zM68 73h2v1h-2zM74 73h1v1h-1zM119 73h1v1h-1zM27 74h1v1h-1zM52 74h1v1h-1zM125 74h1v1h-1zM48 76h1v1h-1zM50 76h3v1h-3zM132 76h1v1h-1zM12 77h2v1h-2zM34 77h1v1h-1zM42 77h1v1h-1zM44 77h1v1h-1zM68 78h1v1h-1zM128 78h1v1h-1z"/><path fill="#603cf0" d="M20 0h1v1h-1zM52 0h2v1h-2zM69 0h1v1h-1zM174 0h1v1h-1zM177 0h1v1h-1zM26 6h1v1h-1zM53 6h1v1h-1zM63 6h1v1h-1zM38 8h1v1h-1zM77 8h1v1h-1zM79 8h1v1h-1zM52 14h1v1h-1zM99 14h1v1h-1zM114 14h1v1h-1zM110 15h1v1h-1zM128 16h1v1h-1zM11 18h1v1h-1zM107 20h1v1h-1zM110 21h1v1h-1zM124 21h1v1h-1zM133 23h1v1h-1zM146 23h1v1h-1zM34 24h1v1h-1zM144 24h1v1h-1zM33 26h2v1h-2zM22 27h1v1h-1zM45 27h1v1h-1zM50 27h1v1h-1zM76 27h1v1h-1zM92 27h1v1h-1zM83 28h1v1h-1zM94 28h1v1h-1zM113 28h1v1h-1zM117 28h1v1h-1zM43 32h1v1h-1zM79 32h2v1h-2zM88 32h1v1h-1zM98 32h1v1h-1zM14 34h1v1h-1zM93 34h1v1h-1zM95 34h1v1h-1zM102 34h1v1h-1zM16 36h1v1h-1zM34 36h1v1h-1zM43 36h1v1h-1zM52 36h1v1h-1zM106 36h1v1h-1zM112 36h1v1h-1zM77 37h1v1h-1zM136 37h3v1h-3zM110 39h1v1h-1zM187 42h1v1h-1zM189 42h1v1h-1zM6 43h1v1h-1zM65 47h1v1h-1zM88 47h1v1h-1zM90 47h1v1h-1zM94 47h1v1h-1zM42 48h1v1h-1zM55 48h2v1h-2zM79 48h1v1h-1zM199 48h1v1h-1zM18 51h1v1h-1zM161 51h1v1h-1zM18 55h1v1h-1zM65 55h1v1h-1zM90 55h1v1h-1zM26 58h1v1h-1zM73 58h1v1h-1zM128 58h1v1h-1zM0 59h1v1h-1zM15 59h1v1h-1zM46 59h1v1h-1zM104 59h1v1h-1zM4 60h1v1h-1zM89 60h1v1h-1zM38 61h3v1h-3zM155 71h1v1h-1zM184 71h1v1h-1z"/><path fill="#6048f0" d="M24 0h1v1h-1zM70 0h1v1h-1zM101 0h1v1h-1zM141 0h1v1h-1zM176 0h1v1h-1zM28 6h1v1h-1zM31 6h1v1h-1zM109 6h1v1h-1zM31 8h1v1h-1zM73 8h1v1h-1zM107 8h1v1h-1zM33 14h2v1h-2zM50 14h1v1h-1zM53 14h1v1h-1zM55 14h1v1h-1zM87 14h2v1h-2zM108 14h1v1h-1zM111 15h1v1h-1zM13 16h1v1h-1zM29 16h1v1h-1zM105 16h1v1h-1zM40 20h1v1h-1zM56 20h1v1h-1zM108 20h1v1h-1zM98 21h1v1h-1zM134 23h1v1h-1zM4 26h1v1h-1zM31 27h1v1h-1zM44 27h1v1h-1zM71 27h1v1h-1zM74 27h1v1h-1zM95 27h1v1h-1zM25 28h1v1h-1zM50 28h1v1h-1zM59 28h3v1h-3zM87 28h2v1h-2zM93 28h1v1h-1zM0 31h1v1h-1zM17 31h1v1h-1zM83 31h1v1h-1zM122 31h1v1h-1zM19 32h1v1h-1zM36 32h1v1h-1zM42 32h1v1h-1zM75 32h1v1h-1zM78 32h1v1h-1zM115 32h1v1h-1zM126 32h1v1h-1zM39 34h1v1h-1zM69 34h1v1h-1zM94 34h1v1h-1zM8 35h1v1h-1zM53 36h1v1h-1zM74 36h1v1h-1zM79 36h1v1h-1zM111 36h1v1h-1zM6 37h1v1h-1zM13 37h1v1h-1zM16 39h1v1h-1zM64 39h1v1h-1zM96 39h1v1h-1zM186 42h1v1h-1zM159 46h2v1h-2zM5 47h1v1h-1zM63 47h1v1h-1zM75 47h2v1h-2zM6 48h1v1h-1zM13 48h1v1h-1zM51 48h2v1h-2zM67 48h1v1h-1zM73 48h1v1h-1zM77 48h1v1h-1zM97 48h1v1h-1zM125 48h1v1h-1zM3 51h1v1h-1zM36 51h1v1h-1zM95 51h1v1h-1zM13 54h2v1h-2zM32 55h1v1h-1zM37 55h1v1h-1zM75 55h1v1h-1zM132 55h1v1h-1zM24 58h1v1h-1zM194 58h1v1h-1zM45 59h1v1h-1zM49 59h1v1h-1zM74 59h1v1h-1zM90 59h1v1h-1zM128 59h1v1h-1zM199 62h1v1h-1zM39 65h1v1h-1zM179 69h1v1h-1zM193 71h1v1h-1z"/><path fill="#f0ccf0" d="M25 0h1v1h-1zM43 0h1v1h-1zM105 0h2v1h-2zM117 0h1v1h-1zM132 0h1v1h-1zM147 0h1v1h-1zM149 0h4v1h-4zM131 1h1v1h-1zM189 1h1v1h-1zM32 2h2v1h-2zM92 2h1v1h-1zM150 3h1v1h-1zM162 3h1v1h-1zM166 3h1v1h-1zM134 4h1v1h-1zM49 5h2v1h-2zM10 6h1v1h-1zM37 6h1v1h-1zM59 6h1v1h-1zM158 6h2v1h-2zM161 6h1v1h-1zM163 6h1v1h-1zM180 6h1v1h-1zM122 7h2v1h-2zM199 7h1v1h-1zM36 8h1v1h-1zM65 8h1v1h-1zM69 8h1v1h-1zM71 8h1v1h-1zM103 8h1v1h-1zM130 8h1v1h-1zM123 9h1v1h-1zM167 9h1v1h-1zM181 9h1v1h-1zM185 9h1v1h-1zM26 10h1v1h-1zM133 10h1v1h-1zM156 11h1v1h-1zM112 12h1v1h-1zM175 12h1v1h-1zM180 12h1v1h-1zM197 12h1v1h-1zM76 13h1v1h-1zM111 13h1v1h-1zM132 13h1v1h-1zM140 13h1v1h-1zM179 13h1v1h-1zM184 13h1v1h-1zM73 14h2v1h-2zM164 14h1v1h-1zM172 14h2v1h-2zM57 15h1v1h-1zM167 15h1v1h-1zM60 16h2v1h-2zM126 16h1v1h-1zM132 16h1v1h-1zM17 17h1v1h-1zM21 17h1v1h-1zM75 17h1v1h-1zM80 17h1v1h-1zM155 17h1v1h-1zM77 18h1v1h-1zM82 20h1v1h-1zM96 20h1v1h-1zM103 20h1v1h-1zM124 20h1v1h-1zM140 20h3v1h-3zM169 20h2v1h-2zM48 21h2v1h-2zM99 21h1v1h-1zM184 23h1v1h-1zM180 24h1v1h-1zM190 24h1v1h-1zM15 25h2v1h-2zM78 25h1v1h-1zM128 25h1v1h-1zM171 25h1v1h-1zM75 26h1v1h-1zM4 27h1v1h-1zM6 27h1v1h-1zM57 27h1v1h-1zM62 27h1v1h-1zM130 27h1v1h-1zM135 27h2v1h-2zM37 28h1v1h-1zM57 28h1v1h-1zM82 28h1v1h-1zM104 28h1v1h-1zM114 28h2v1h-2zM120 28h1v1h-1zM134 28h1v1h-1zM136 28h1v1h-1zM190 28h1v1h-1zM138 29h1v1h-1zM176 30h2v1h-2zM185 30h1v1h-1zM42 31h1v1h-1zM115 31h1v1h-1zM169 31h2v1h-2zM14 32h1v1h-1zM116 32h3v1h-3zM122 32h1v1h-1zM127 32h1v1h-1zM32 33h2v1h-2zM166 33h1v1h-1zM26 34h2v1h-2zM160 34h1v1h-1zM168 34h2v1h-2zM180 34h1v1h-1zM12 35h1v1h-1zM25 35h1v1h-1zM106 35h1v1h-1zM10 36h1v1h-1zM22 36h1v1h-1zM36 36h2v1h-2zM50 36h1v1h-1zM108 36h1v1h-1zM23 37h1v1h-1zM130 37h1v1h-1zM42 38h1v1h-1zM101 38h1v1h-1zM132 38h1v1h-1zM158 38h1v1h-1zM7 39h1v1h-1zM21 39h1v1h-1zM41 39h1v1h-1zM80 39h1v1h-1zM84 39h1v1h-1zM91 39h1v1h-1zM131 39h1v1h-1zM55 40h1v1h-1zM70 40h1v1h-1zM102 41h1v1h-1zM177 41h1v1h-1zM184 41h1v1h-1zM44 43h1v1h-1zM84 43h1v1h-1zM60 44h1v1h-1zM102 44h1v1h-1zM115 44h1v1h-1zM142 44h1v1h-1zM164 44h3v1h-3zM191 44h1v1h-1zM1 45h3v1h-3zM6 45h1v1h-1zM20 45h3v1h-3zM48 45h1v1h-1zM85 45h1v1h-1zM147 45h1v1h-1zM153 45h1v1h-1zM107 46h1v1h-1zM114 46h1v1h-1zM153 46h1v1h-1zM156 46h1v1h-1zM167 46h1v1h-1zM170 46h1v1h-1zM183 46h1v1h-1zM13 47h1v1h-1zM24 47h2v1h-2zM37 47h3v1h-3zM72 47h1v1h-1zM93 47h1v1h-1zM135 47h1v1h-1zM0 48h2v1h-2zM16 48h1v1h-1zM72 48h1v1h-1zM87 48h1v1h-1zM89 48h2v1h-2zM94 48h2v1h-2zM120 48h1v1h-1zM129 48h1v1h-1zM161 48h1v1h-1zM193 48h1v1h-1zM195 48h1v1h-1zM116 49h1v1h-1zM127 49h1v1h-1zM87 50h1v1h-1zM104 50h1v1h-1zM120 50h1v1h-1zM155 50h1v1h-1zM53 51h1v1h-1zM63 51h1v1h-1zM68 51h4v1h-4zM73 51h1v1h-1zM85 51h1v1h-1zM8 52h1v1h-1zM59 52h1v1h-1zM62 52h1v1h-1zM137 52h1v1h-1zM143 52h1v1h-1zM145 52h1v1h-1zM182 52h1v1h-1zM193 52h2v1h-2zM15 53h1v1h-1zM17 53h1v1h-1zM81 53h1v1h-1zM136 53h1v1h-1zM8 54h1v1h-1zM45 54h2v1h-2zM75 54h1v1h-1zM85 54h1v1h-1zM163 54h2v1h-2zM51 55h2v1h-2zM69 55h1v1h-1zM151 55h2v1h-2zM169 55h1v1h-1zM9 56h1v1h-1zM60 56h1v1h-1zM62 56h1v1h-1zM71 56h1v1h-1zM90 56h1v1h-1zM147 56h4v1h-4zM169 56h2v1h-2zM1 57h1v1h-1zM29 57h1v1h-1zM89 57h2v1h-2zM107 57h1v1h-1zM139 57h1v1h-1zM142 57h1v1h-1zM4 58h2v1h-2zM7 58h1v1h-1zM45 58h1v1h-1zM57 58h2v1h-2zM84 58h1v1h-1zM129 58h1v1h-1zM154 58h1v1h-1zM169 58h1v1h-1zM17 59h1v1h-1zM26 59h1v1h-1zM107 59h2v1h-2zM138 59h1v1h-1zM186 59h1v1h-1zM152 60h1v1h-1zM191 60h1v1h-1zM57 61h1v1h-1zM108 61h1v1h-1zM116 61h1v1h-1zM191 61h1v1h-1zM47 62h1v1h-1zM51 62h1v1h-1zM90 62h2v1h-2zM167 62h1v1h-1zM38 63h1v1h-1zM83 63h1v1h-1zM86 63h1v1h-1zM131 63h1v1h-1zM2 64h1v1h-1zM50 64h1v1h-1zM133 64h1v1h-1zM1 65h2v1h-2zM21 65h1v1h-1zM27 65h2v1h-2zM37 65h1v1h-1zM55 65h2v1h-2zM134 65h1v1h-1zM137 65h1v1h-1zM153 65h1v1h-1zM164 65h1v1h-1zM2 66h1v1h-1zM20 66h1v1h-1zM36 66h1v1h-1zM127 67h2v1h-2zM91 68h1v1h-1zM38 69h2v1h-2zM51 69h2v1h-2zM96 69h1v1h-1zM105 69h1v1h-1zM121 69h1v1h-1zM2 71h1v1h-1zM18 71h1v1h-1zM25 71h1v1h-1zM32 71h1v1h-1zM44 71h1v1h-1zM57 71h1v1h-1zM59 71h1v1h-1zM78 71h1v1h-1zM80 71h1v1h-1zM83 71h1v1h-1zM100 71h1v1h-1zM163 71h1v1h-1zM28 72h1v1h-1zM81 72h1v1h-1zM101 72h1v1h-1zM0 73h1v1h-1zM16 73h2v1h-2zM51 74h1v1h-1zM126 74h1v1h-1zM86 75h1v1h-1zM98 75h1v1h-1zM114 75h1v1h-1zM123 76h1v1h-1zM131 76h1v1h-1zM161 77h1v1h-1z"/><path fill="#3c18e4" d="M40 0h1v1h-1z"/><path fill="#3c24e4" d="M41 0h1v1h-1zM6 8h1v1h-1zM80 8h1v1h-1zM109 8h2v1h-2zM127 8h1v1h-1zM59 14h1v1h-1zM135 19h1v1h-1zM98 20h1v1h-1zM19 27h1v1h-1zM25 27h3v1h-3zM35 27h1v1h-1zM37 31h1v1h-1zM73 37h1v1h-1zM115 47h1v1h-1zM95 55h1v1h-1zM89 61h1v1h-1zM150 71h1v1h-1z"/><path fill="#7854f0" d="M45 0h1v1h-1zM50 0h2v1h-2zM191 0h1v1h-1zM176 3h1v1h-1zM0 6h1v1h-1zM83 6h1v1h-1zM113 6h2v1h-2zM117 6h1v1h-1zM121 6h2v1h-2zM124 6h1v1h-1zM8 8h1v1h-1zM66 10h1v1h-1zM99 16h1v1h-1zM10 18h1v1h-1zM6 20h1v1h-1zM114 20h1v1h-1zM2 21h1v1h-1zM50 21h1v1h-1zM83 21h1v1h-1zM89 21h1v1h-1zM109 21h1v1h-1zM125 21h1v1h-1zM144 21h1v1h-1zM157 22h1v1h-1zM39 23h1v1h-1zM53 23h1v1h-1zM177 23h3v1h-3zM13 24h1v1h-1zM197 26h2v1h-2zM36 27h1v1h-1zM93 27h1v1h-1zM97 27h1v1h-1zM123 27h1v1h-1zM129 27h1v1h-1zM198 27h1v1h-1zM42 28h1v1h-1zM49 28h1v1h-1zM80 28h1v1h-1zM100 28h1v1h-1zM108 28h1v1h-1zM59 31h1v1h-1zM67 31h1v1h-1zM68 31h1v1h-1zM119 31h2v1h-2zM153 31h1v1h-1zM24 32h1v1h-1zM48 32h1v1h-1zM66 32h1v1h-1zM102 32h1v1h-1zM111 32h2v1h-2zM125 32h1v1h-1zM132 32h1v1h-1zM36 34h1v1h-1zM68 34h1v1h-1zM2 36h1v1h-1zM12 36h1v1h-1zM80 36h1v1h-1zM118 36h1v1h-1zM17 37h1v1h-1zM76 38h1v1h-1zM122 38h1v1h-1zM17 39h1v1h-1zM115 39h1v1h-1zM174 39h1v1h-1zM52 40h1v1h-1zM29 43h1v1h-1zM1 44h1v1h-1zM39 44h1v1h-1zM93 44h1v1h-1zM103 44h1v1h-1zM60 45h1v1h-1zM6 47h1v1h-1zM10 47h1v1h-1zM43 47h1v1h-1zM102 47h1v1h-1zM126 48h1v1h-1zM149 48h1v1h-1zM10 51h1v1h-1zM68 54h1v1h-1zM71 54h1v1h-1zM120 55h1v1h-1zM137 56h2v1h-2zM95 58h1v1h-1zM184 58h2v1h-2zM73 59h1v1h-1zM144 61h1v1h-1zM3 62h1v1h-1zM65 63h1v1h-1zM176 64h2v1h-2zM38 65h1v1h-1zM116 65h1v1h-1zM191 65h1v1h-1zM140 67h1v1h-1zM155 67h1v1h-1zM175 71h2v1h-2zM192 71h1v1h-1z"/><path fill="#6c48f0" d="M49 0h1v1h-1zM71 0h1v1h-1zM100 0h1v1h-1zM102 0h1v1h-1zM111 0h1v1h-1zM175 0h1v1h-1zM73 6h1v1h-1zM84 6h1v1h-1zM20 8h2v1h-2zM86 8h1v1h-1zM102 8h1v1h-1zM16 14h1v1h-1zM51 14h1v1h-1zM54 14h1v1h-1zM81 14h2v1h-2zM14 16h1v1h-1zM71 18h1v1h-1zM5 20h1v1h-1zM17 20h1v1h-1zM80 20h1v1h-1zM107 21h2v1h-2zM123 21h1v1h-1zM155 22h2v1h-2zM158 22h1v1h-1zM52 23h1v1h-1zM43 27h1v1h-1zM96 27h1v1h-1zM108 27h2v1h-2zM36 28h1v1h-1zM38 28h1v1h-1zM62 28h1v1h-1zM85 28h2v1h-2zM116 28h1v1h-1zM84 31h1v1h-1zM87 31h1v1h-1zM113 32h1v1h-1zM146 32h1v1h-1zM2 34h1v1h-1zM37 34h1v1h-1zM101 34h1v1h-1zM7 35h1v1h-1zM79 35h1v1h-1zM13 36h1v1h-1zM54 36h1v1h-1zM73 36h1v1h-1zM83 36h1v1h-1zM110 36h1v1h-1zM15 37h1v1h-1zM24 37h1v1h-1zM95 37h1v1h-1zM21 38h3v1h-3zM61 39h1v1h-1zM97 39h1v1h-1zM108 39h2v1h-2zM173 39h1v1h-1zM188 45h1v1h-1zM158 46h1v1h-1zM41 47h2v1h-2zM74 47h1v1h-1zM89 47h1v1h-1zM128 47h1v1h-1zM11 48h1v1h-1zM44 48h1v1h-1zM66 48h1v1h-1zM75 48h1v1h-1zM84 48h2v1h-2zM111 48h1v1h-1zM199 49h1v1h-1zM17 51h1v1h-1zM35 51h1v1h-1zM121 51h1v1h-1zM123 51h1v1h-1zM131 51h1v1h-1zM154 51h1v1h-1zM12 55h1v1h-1zM27 55h1v1h-1zM76 55h1v1h-1zM89 55h1v1h-1zM93 55h2v1h-2zM117 55h1v1h-1zM130 56h1v1h-1zM136 56h1v1h-1zM96 58h1v1h-1zM186 58h1v1h-1zM95 59h2v1h-2zM102 59h2v1h-2zM53 63h1v1h-1zM179 64h1v1h-1zM107 65h1v1h-1zM117 65h1v1h-1zM178 69h1v1h-1zM181 69h1v1h-1zM157 71h1v1h-1zM166 71h1v1h-1zM190 71h1v1h-1zM165 74h1v1h-1zM173 74h1v1h-1zM175 74h1v1h-1z"/><path fill="#ccb4fc" d="M60 0h1v1h-1zM118 0h1v1h-1zM169 1h1v1h-1zM196 1h1v1h-1zM134 2h1v1h-1zM34 4h2v1h-2zM169 4h1v1h-1zM75 6h1v1h-1zM27 8h1v1h-1zM122 8h1v1h-1zM183 9h1v1h-1zM151 10h1v1h-1zM189 11h1v1h-1zM63 14h1v1h-1zM129 14h1v1h-1zM33 16h1v1h-1zM196 16h1v1h-1zM91 17h2v1h-2zM89 18h1v1h-1zM125 20h1v1h-1zM167 21h1v1h-1zM94 23h1v1h-1zM121 26h2v1h-2zM157 26h1v1h-1zM167 26h1v1h-1zM179 26h2v1h-2zM46 28h1v1h-1zM53 28h1v1h-1zM146 29h1v1h-1zM154 29h1v1h-1zM44 31h1v1h-1zM177 31h1v1h-1zM96 34h1v1h-1zM137 35h1v1h-1zM78 36h1v1h-1zM149 36h1v1h-1zM181 36h1v1h-1zM195 36h1v1h-1zM43 37h1v1h-1zM181 37h1v1h-1zM2 38h1v1h-1zM59 38h1v1h-1zM49 39h1v1h-1zM113 40h1v1h-1zM123 41h1v1h-1zM67 43h1v1h-1zM188 43h1v1h-1zM98 45h1v1h-1zM99 47h1v1h-1zM147 49h2v1h-2zM177 49h1v1h-1zM188 50h2v1h-2zM47 51h1v1h-1zM133 52h1v1h-1zM36 53h1v1h-1zM171 53h1v1h-1zM181 55h1v1h-1zM36 57h1v1h-1zM152 57h1v1h-1zM154 57h1v1h-1zM40 59h1v1h-1zM68 59h2v1h-2zM124 59h1v1h-1zM129 59h1v1h-1zM142 59h1v1h-1zM115 60h1v1h-1zM77 62h1v1h-1zM88 62h1v1h-1zM50 68h1v1h-1zM102 68h1v1h-1zM124 71h1v1h-1zM183 71h1v1h-1zM103 72h1v1h-1zM114 73h1v1h-1zM94 75h1v1h-1zM18 77h1v1h-1zM66 77h1v1h-1zM70 77h1v1h-1z"/><path fill="#543cf0" d="M72 0h1v1h-1zM89 0h1v1h-1zM6 6h1v1h-1zM105 6h1v1h-1zM111 6h2v1h-2zM23 8h1v1h-1zM56 8h1v1h-1zM78 8h1v1h-1zM84 8h1v1h-1zM97 8h1v1h-1zM56 14h1v1h-1zM76 14h1v1h-1zM129 16h1v1h-1zM12 18h1v1h-1zM48 20h1v1h-1zM97 20h1v1h-1zM147 23h2v1h-2zM143 24h1v1h-1zM146 24h1v1h-1zM51 27h2v1h-2zM77 27h2v1h-2zM4 28h1v1h-1zM106 28h1v1h-1zM132 28h1v1h-1zM1 31h1v1h-1zM18 31h1v1h-1zM69 31h1v1h-1zM74 31h1v1h-1zM80 31h1v1h-1zM123 31h1v1h-1zM83 32h1v1h-1zM114 32h1v1h-1zM106 34h1v1h-1zM33 35h2v1h-2zM149 35h2v1h-2zM29 36h2v1h-2zM75 36h1v1h-1zM81 36h1v1h-1zM107 36h1v1h-1zM128 36h1v1h-1zM40 37h1v1h-1zM75 39h1v1h-1zM188 42h1v1h-1zM64 47h1v1h-1zM66 47h1v1h-1zM95 47h1v1h-1zM12 48h1v1h-1zM53 48h2v1h-2zM57 48h1v1h-1zM74 48h1v1h-1zM98 48h1v1h-1zM123 48h2v1h-2zM198 48h1v1h-1zM160 51h1v1h-1zM127 54h1v1h-1zM127 58h1v1h-1zM193 58h1v1h-1zM47 59h1v1h-1zM180 69h1v1h-1zM188 69h1v1h-1z"/><path fill="#4830e4" d="M76 0h1v1h-1zM90 0h3v1h-3zM122 0h1v1h-1zM30 6h1v1h-1zM10 8h3v1h-3zM22 8h1v1h-1zM53 8h1v1h-1zM61 8h2v1h-2zM75 8h2v1h-2zM94 8h1v1h-1zM114 8h2v1h-2zM125 8h1v1h-1zM128 8h1v1h-1zM19 14h1v1h-1zM58 14h1v1h-1zM60 14h1v1h-1zM16 20h1v1h-1zM49 20h1v1h-1zM70 20h2v1h-2zM129 20h1v1h-1zM153 20h1v1h-1zM8 21h2v1h-2zM14 21h1v1h-1zM36 21h1v1h-1zM68 21h1v1h-1zM70 21h1v1h-1zM126 21h1v1h-1zM73 24h1v1h-1zM18 27h1v1h-1zM30 27h1v1h-1zM46 27h1v1h-1zM110 27h1v1h-1zM112 27h1v1h-1zM116 27h1v1h-1zM132 27h1v1h-1zM3 28h1v1h-1zM112 28h1v1h-1zM36 31h1v1h-1zM79 31h1v1h-1zM62 34h1v1h-1zM72 34h1v1h-1zM52 35h1v1h-1zM148 35h1v1h-1zM76 36h1v1h-1zM104 36h2v1h-2zM129 36h1v1h-1zM38 37h1v1h-1zM48 37h1v1h-1zM76 37h1v1h-1zM88 37h1v1h-1zM113 37h1v1h-1zM178 38h2v1h-2zM68 39h2v1h-2zM87 47h1v1h-1zM118 47h1v1h-1zM37 48h2v1h-2zM137 50h3v1h-3zM158 51h2v1h-2zM185 51h1v1h-1zM179 53h2v1h-2zM2 55h1v1h-1zM102 55h1v1h-1zM2 56h1v1h-1zM184 56h1v1h-1zM186 56h1v1h-1zM91 59h1v1h-1zM111 61h1v1h-1zM160 65h2v1h-2zM133 71h1v1h-1zM140 71h1v1h-1zM151 71h1v1h-1zM153 71h1v1h-1zM158 71h1v1h-1z"/><path fill="#4830f0" d="M77 0h1v1h-1zM52 6h1v1h-1zM62 6h1v1h-1zM116 6h1v1h-1zM25 8h1v1h-1zM17 14h1v1h-1zM130 20h1v1h-1zM15 21h1v1h-1zM69 21h1v1h-1zM131 27h1v1h-1zM19 31h1v1h-1zM199 44h1v1h-1zM67 47h1v1h-1zM117 47h1v1h-1zM196 48h1v1h-1zM117 51h1v1h-1zM114 55h1v1h-1zM3 56h1v1h-1zM84 59h1v1h-1zM159 65h1v1h-1z"/><path fill="#b490fc" d="M78 0h1v1h-1zM134 0h2v1h-2zM143 0h1v1h-1zM170 0h4v1h-4zM181 0h1v1h-1zM186 0h1v1h-1zM189 0h1v1h-1zM195 0h1v1h-1zM197 0h1v1h-1zM1 1h1v1h-1zM3 1h1v1h-1zM45 1h1v1h-1zM85 1h1v1h-1zM91 1h1v1h-1zM132 1h1v1h-1zM133 1h1v1h-1zM141 1h1v1h-1zM157 1h2v1h-2zM166 1h1v1h-1zM182 1h1v1h-1zM186 1h1v1h-1zM7 2h1v1h-1zM9 2h2v1h-2zM13 2h2v1h-2zM17 2h2v1h-2zM22 2h1v1h-1zM26 2h1v1h-1zM28 2h1v1h-1zM35 2h1v1h-1zM37 2h1v1h-1zM40 2h1v1h-1zM43 2h1v1h-1zM48 2h1v1h-1zM54 2h1v1h-1zM58 2h1v1h-1zM62 2h2v1h-2zM65 2h2v1h-2zM68 2h1v1h-1zM70 2h2v1h-2zM75 2h1v1h-1zM84 2h2v1h-2zM90 2h1v1h-1zM93 2h3v1h-3zM101 2h1v1h-1zM104 2h2v1h-2zM111 2h1v1h-1zM113 2h1v1h-1zM115 2h1v1h-1zM118 2h2v1h-2zM121 2h1v1h-1zM123 2h2v1h-2zM127 2h3v1h-3zM139 2h2v1h-2zM169 2h1v1h-1zM171 2h1v1h-1zM176 2h1v1h-1zM197 2h1v1h-1zM44 3h1v1h-1zM51 3h1v1h-1zM106 3h1v1h-1zM109 3h2v1h-2zM113 3h1v1h-1zM123 3h1v1h-1zM147 3h1v1h-1zM169 3h2v1h-2zM7 4h3v1h-3zM11 4h2v1h-2zM16 4h2v1h-2zM19 4h1v1h-1zM23 4h2v1h-2zM26 4h4v1h-4zM31 4h1v1h-1zM38 4h2v1h-2zM41 4h1v1h-1zM43 4h3v1h-3zM48 4h1v1h-1zM50 4h3v1h-3zM57 4h3v1h-3zM61 4h3v1h-3zM66 4h2v1h-2zM69 4h2v1h-2zM72 4h1v1h-1zM75 4h3v1h-3zM80 4h1v1h-1zM82 4h1v1h-1zM84 4h1v1h-1zM86 4h3v1h-3zM91 4h5v1h-5zM103 4h1v1h-1zM105 4h2v1h-2zM108 4h1v1h-1zM110 4h9v1h-9zM121 4h2v1h-2zM124 4h1v1h-1zM129 4h1v1h-1zM136 4h2v1h-2zM140 4h1v1h-1zM195 4h1v1h-1zM3 5h7v1h-7zM11 5h2v1h-2zM16 5h4v1h-4zM21 5h3v1h-3zM25 5h2v1h-2zM33 5h1v1h-1zM36 5h2v1h-2zM39 5h1v1h-1zM41 5h3v1h-3zM52 5h2v1h-2zM55 5h2v1h-2zM58 5h1v1h-1zM61 5h2v1h-2zM65 5h2v1h-2zM68 5h1v1h-1zM70 5h1v1h-1zM74 5h1v1h-1zM76 5h1v1h-1zM78 5h3v1h-3zM82 5h1v1h-1zM88 5h1v1h-1zM90 5h5v1h-5zM97 5h3v1h-3zM101 5h3v1h-3zM105 5h1v1h-1zM107 5h1v1h-1zM110 5h1v1h-1zM112 5h3v1h-3zM117 5h1v1h-1zM119 5h3v1h-3zM126 5h7v1h-7zM135 5h4v1h-4zM153 5h1v1h-1zM156 5h1v1h-1zM176 5h1v1h-1zM190 5h1v1h-1zM1 6h2v1h-2zM7 6h1v1h-1zM19 6h2v1h-2zM32 6h4v1h-4zM42 6h5v1h-5zM49 6h2v1h-2zM55 6h1v1h-1zM57 6h2v1h-2zM65 6h1v1h-1zM69 6h1v1h-1zM71 6h2v1h-2zM77 6h2v1h-2zM80 6h1v1h-1zM82 6h1v1h-1zM85 6h4v1h-4zM90 6h1v1h-1zM92 6h1v1h-1zM94 6h1v1h-1zM96 6h2v1h-2zM104 6h1v1h-1zM106 6h1v1h-1zM115 6h1v1h-1zM126 6h4v1h-4zM133 6h1v1h-1zM135 6h1v1h-1zM155 6h1v1h-1zM190 6h1v1h-1zM1 7h2v1h-2zM6 7h2v1h-2zM9 7h3v1h-3zM13 7h2v1h-2zM16 7h1v1h-1zM18 7h2v1h-2zM21 7h2v1h-2zM25 7h1v1h-1zM28 7h1v1h-1zM31 7h1v1h-1zM33 7h1v1h-1zM35 7h1v1h-1zM38 7h2v1h-2zM41 7h3v1h-3zM45 7h1v1h-1zM47 7h6v1h-6zM56 7h12v1h-12zM68 7h1v1h-1zM72 7h1v1h-1zM76 7h1v1h-1zM79 7h1v1h-1zM81 7h1v1h-1zM83 7h3v1h-3zM87 7h1v1h-1zM89 7h1v1h-1zM91 7h2v1h-2zM94 7h1v1h-1zM97 7h2v1h-2zM100 7h2v1h-2zM103 7h2v1h-2zM107 7h1v1h-1zM109 7h3v1h-3zM119 7h1v1h-1zM127 7h2v1h-2zM132 7h1v1h-1zM140 7h1v1h-1zM142 7h1v1h-1zM144 7h1v1h-1zM151 7h1v1h-1zM153 7h1v1h-1zM183 7h1v1h-1zM188 7h1v1h-1zM190 7h1v1h-1zM192 7h1v1h-1zM17 8h1v1h-1zM43 8h1v1h-1zM100 8h1v1h-1zM144 8h1v1h-1zM1 9h1v1h-1zM3 9h2v1h-2zM6 9h1v1h-1zM8 9h2v1h-2zM11 9h1v1h-1zM13 9h2v1h-2zM16 9h2v1h-2zM21 9h1v1h-1zM25 9h2v1h-2zM29 9h5v1h-5zM36 9h10v1h-10zM50 9h3v1h-3zM55 9h4v1h-4zM62 9h4v1h-4zM67 9h1v1h-1zM68 9h1v1h-1zM70 9h2v1h-2zM74 9h2v1h-2zM77 9h1v1h-1zM80 9h1v1h-1zM83 9h1v1h-1zM85 9h1v1h-1zM87 9h1v1h-1zM89 9h5v1h-5zM95 9h3v1h-3zM99 9h2v1h-2zM103 9h4v1h-4zM109 9h1v1h-1zM111 9h4v1h-4zM116 9h1v1h-1zM119 9h2v1h-2zM124 9h1v1h-1zM126 9h3v1h-3zM131 9h1v1h-1zM170 9h1v1h-1zM172 9h2v1h-2zM199 9h1v1h-1zM0 10h5v1h-5zM6 10h1v1h-1zM10 10h4v1h-4zM15 10h6v1h-6zM22 10h3v1h-3zM27 10h1v1h-1zM30 10h2v1h-2zM35 10h3v1h-3zM39 10h2v1h-2zM42 10h1v1h-1zM46 10h1v1h-1zM50 10h1v1h-1zM58 10h1v1h-1zM62 10h2v1h-2zM68 10h5v1h-5zM74 10h3v1h-3zM81 10h1v1h-1zM85 10h2v1h-2zM88 10h4v1h-4zM94 10h2v1h-2zM97 10h1v1h-1zM101 10h1v1h-1zM103 10h1v1h-1zM105 10h1v1h-1zM108 10h2v1h-2zM112 10h1v1h-1zM114 10h2v1h-2zM118 10h1v1h-1zM122 10h1v1h-1zM124 10h5v1h-5zM130 10h1v1h-1zM141 10h1v1h-1zM145 10h1v1h-1zM165 10h2v1h-2zM176 10h1v1h-1zM180 10h1v1h-1zM196 10h1v1h-1zM198 10h1v1h-1zM4 11h4v1h-4zM9 11h1v1h-1zM18 11h2v1h-2zM21 11h2v1h-2zM24 11h1v1h-1zM27 11h2v1h-2zM30 11h3v1h-3zM36 11h3v1h-3zM40 11h1v1h-1zM42 11h2v1h-2zM45 11h2v1h-2zM50 11h4v1h-4zM55 11h1v1h-1zM62 11h5v1h-5zM68 11h1v1h-1zM71 11h3v1h-3zM75 11h3v1h-3zM79 11h2v1h-2zM83 11h3v1h-3zM87 11h2v1h-2zM93 11h2v1h-2zM97 11h2v1h-2zM101 11h2v1h-2zM109 11h4v1h-4zM115 11h2v1h-2zM119 11h1v1h-1zM121 11h1v1h-1zM123 11h2v1h-2zM127 11h2v1h-2zM132 11h1v1h-1zM133 11h1v1h-1zM135 11h1v1h-1zM152 11h2v1h-2zM165 11h1v1h-1zM174 11h2v1h-2zM190 11h1v1h-1zM1 12h1v1h-1zM4 12h1v1h-1zM6 12h1v1h-1zM8 12h3v1h-3zM13 12h4v1h-4zM19 12h1v1h-1zM21 12h2v1h-2zM24 12h2v1h-2zM27 12h3v1h-3zM31 12h2v1h-2zM35 12h1v1h-1zM39 12h1v1h-1zM41 12h2v1h-2zM44 12h1v1h-1zM47 12h7v1h-7zM55 12h4v1h-4zM64 12h1v1h-1zM66 12h1v1h-1zM69 12h2v1h-2zM73 12h1v1h-1zM76 12h2v1h-2zM80 12h2v1h-2zM85 12h3v1h-3zM90 12h3v1h-3zM94 12h1v1h-1zM97 12h3v1h-3zM103 12h2v1h-2zM113 12h2v1h-2zM117 12h1v1h-1zM120 12h1v1h-1zM123 12h1v1h-1zM126 12h7v1h-7zM135 12h1v1h-1zM141 12h2v1h-2zM144 12h1v1h-1zM170 12h1v1h-1zM182 12h1v1h-1zM1 13h1v1h-1zM4 13h1v1h-1zM6 13h1v1h-1zM12 13h1v1h-1zM14 13h1v1h-1zM18 13h5v1h-5zM24 13h1v1h-1zM26 13h2v1h-2zM29 13h2v1h-2zM32 13h4v1h-4zM37 13h2v1h-2zM40 13h3v1h-3zM45 13h2v1h-2zM48 13h3v1h-3zM54 13h2v1h-2zM57 13h1v1h-1zM61 13h1v1h-1zM65 13h3v1h-3zM68 13h3v1h-3zM72 13h3v1h-3zM77 13h2v1h-2zM80 13h1v1h-1zM82 13h2v1h-2zM85 13h3v1h-3zM89 13h4v1h-4zM95 13h2v1h-2zM100 13h2v1h-2zM104 13h1v1h-1zM106 13h4v1h-4zM113 13h5v1h-5zM119 13h5v1h-5zM130 13h1v1h-1zM145 13h1v1h-1zM152 13h1v1h-1zM176 13h1v1h-1zM185 13h2v1h-2zM189 13h2v1h-2zM4 14h1v1h-1zM6 14h1v1h-1zM22 14h3v1h-3zM27 14h2v1h-2zM32 14h1v1h-1zM35 14h1v1h-1zM39 14h2v1h-2zM42 14h1v1h-1zM45 14h1v1h-1zM48 14h2v1h-2zM61 14h1v1h-1zM68 14h5v1h-5zM79 14h2v1h-2zM94 14h1v1h-1zM97 14h2v1h-2zM105 14h1v1h-1zM111 14h3v1h-3zM116 14h5v1h-5zM127 14h1v1h-1zM132 14h1v1h-1zM143 14h2v1h-2zM147 14h1v1h-1zM150 14h1v1h-1zM158 14h3v1h-3zM170 14h1v1h-1zM185 14h1v1h-1zM2 15h6v1h-6zM9 15h1v1h-1zM11 15h1v1h-1zM14 15h2v1h-2zM17 15h3v1h-3zM21 15h4v1h-4zM28 15h1v1h-1zM31 15h2v1h-2zM38 15h1v1h-1zM40 15h2v1h-2zM44 15h1v1h-1zM50 15h1v1h-1zM52 15h3v1h-3zM56 15h1v1h-1zM58 15h2v1h-2zM61 15h1v1h-1zM65 15h1v1h-1zM69 15h4v1h-4zM74 15h2v1h-2zM77 15h2v1h-2zM81 15h6v1h-6zM90 15h3v1h-3zM94 15h1v1h-1zM96 15h1v1h-1zM100 15h2v1h-2zM103 15h2v1h-2zM106 15h1v1h-1zM109 15h1v1h-1zM115 15h1v1h-1zM117 15h3v1h-3zM124 15h1v1h-1zM127 15h3v1h-3zM132 15h1v1h-1zM170 15h1v1h-1zM177 15h2v1h-2zM0 16h2v1h-2zM6 16h1v1h-1zM15 16h1v1h-1zM19 16h2v1h-2zM23 16h1v1h-1zM25 16h3v1h-3zM36 16h1v1h-1zM38 16h3v1h-3zM47 16h2v1h-2zM53 16h2v1h-2zM56 16h3v1h-3zM65 16h2v1h-2zM73 16h1v1h-1zM75 16h2v1h-2zM79 16h1v1h-1zM87 16h1v1h-1zM89 16h1v1h-1zM93 16h1v1h-1zM97 16h1v1h-1zM101 16h2v1h-2zM109 16h1v1h-1zM112 16h1v1h-1zM114 16h2v1h-2zM117 16h4v1h-4zM122 16h1v1h-1zM139 16h1v1h-1zM143 16h1v1h-1zM145 16h2v1h-2zM153 16h1v1h-1zM159 16h1v1h-1zM165 16h1v1h-1zM181 16h2v1h-2zM0 17h3v1h-3zM8 17h3v1h-3zM15 17h1v1h-1zM18 17h2v1h-2zM23 17h4v1h-4zM28 17h1v1h-1zM32 17h1v1h-1zM36 17h2v1h-2zM39 17h1v1h-1zM42 17h2v1h-2zM47 17h5v1h-5zM54 17h6v1h-6zM62 17h1v1h-1zM71 17h3v1h-3zM76 17h4v1h-4zM85 17h1v1h-1zM87 17h2v1h-2zM90 17h1v1h-1zM95 17h2v1h-2zM98 17h1v1h-1zM100 17h2v1h-2zM105 17h4v1h-4zM115 17h1v1h-1zM117 17h1v1h-1zM119 17h3v1h-3zM126 17h1v1h-1zM129 17h1v1h-1zM131 17h2v1h-2zM145 17h2v1h-2zM152 17h1v1h-1zM169 17h1v1h-1zM178 17h1v1h-1zM181 17h1v1h-1zM189 17h1v1h-1zM2 18h1v1h-1zM7 18h2v1h-2zM19 18h1v1h-1zM29 18h1v1h-1zM31 18h1v1h-1zM34 18h3v1h-3zM38 18h1v1h-1zM41 18h1v1h-1zM45 18h1v1h-1zM48 18h1v1h-1zM55 18h1v1h-1zM60 18h2v1h-2zM64 18h1v1h-1zM96 18h2v1h-2zM106 18h1v1h-1zM108 18h3v1h-3zM115 18h3v1h-3zM119 18h1v1h-1zM121 18h1v1h-1zM126 18h1v1h-1zM130 18h2v1h-2zM150 18h1v1h-1zM165 18h2v1h-2zM1 19h1v1h-1zM4 19h3v1h-3zM11 19h1v1h-1zM13 19h2v1h-2zM16 19h2v1h-2zM19 19h1v1h-1zM21 19h2v1h-2zM27 19h2v1h-2zM30 19h1v1h-1zM32 19h1v1h-1zM37 19h2v1h-2zM40 19h3v1h-3zM44 19h4v1h-4zM49 19h8v1h-8zM58 19h3v1h-3zM64 19h3v1h-3zM69 19h3v1h-3zM73 19h1v1h-1zM77 19h2v1h-2zM84 19h1v1h-1zM88 19h4v1h-4zM93 19h7v1h-7zM101 19h3v1h-3zM106 19h3v1h-3zM112 19h2v1h-2zM115 19h1v1h-1zM119 19h4v1h-4zM125 19h8v1h-8zM141 19h1v1h-1zM163 19h1v1h-1zM176 19h1v1h-1zM184 19h1v1h-1zM30 20h1v1h-1zM138 20h1v1h-1zM156 20h1v1h-1zM160 20h1v1h-1zM181 20h2v1h-2zM187 20h1v1h-1zM190 20h1v1h-1zM199 20h1v1h-1zM135 21h1v1h-1zM182 21h1v1h-1zM194 21h1v1h-1zM1 22h1v1h-1zM3 22h1v1h-1zM10 22h1v1h-1zM13 22h1v1h-1zM16 22h2v1h-2zM20 22h1v1h-1zM23 22h1v1h-1zM25 22h1v1h-1zM30 22h1v1h-1zM34 22h3v1h-3zM43 22h1v1h-1zM46 22h1v1h-1zM48 22h3v1h-3zM53 22h1v1h-1zM56 22h1v1h-1zM64 22h2v1h-2zM67 22h1v1h-1zM68 22h1v1h-1zM78 22h5v1h-5zM95 22h1v1h-1zM97 22h1v1h-1zM103 22h1v1h-1zM107 22h2v1h-2zM110 22h3v1h-3zM117 22h1v1h-1zM119 22h3v1h-3zM124 22h1v1h-1zM128 22h1v1h-1zM161 22h2v1h-2zM171 22h1v1h-1zM176 22h3v1h-3zM183 22h1v1h-1zM187 22h1v1h-1zM0 23h1v1h-1zM3 23h1v1h-1zM7 23h2v1h-2zM11 23h2v1h-2zM15 23h1v1h-1zM17 23h5v1h-5zM23 23h1v1h-1zM25 23h1v1h-1zM27 23h3v1h-3zM31 23h2v1h-2zM35 23h1v1h-1zM37 23h2v1h-2zM40 23h1v1h-1zM43 23h1v1h-1zM45 23h1v1h-1zM49 23h2v1h-2zM55 23h1v1h-1zM57 23h1v1h-1zM62 23h2v1h-2zM65 23h3v1h-3zM70 23h3v1h-3zM76 23h1v1h-1zM79 23h4v1h-4zM84 23h1v1h-1zM88 23h4v1h-4zM93 23h1v1h-1zM95 23h2v1h-2zM99 23h2v1h-2zM103 23h1v1h-1zM105 23h2v1h-2zM109 23h2v1h-2zM112 23h2v1h-2zM115 23h3v1h-3zM119 23h2v1h-2zM122 23h6v1h-6zM139 23h4v1h-4zM150 23h1v1h-1zM161 23h1v1h-1zM167 23h2v1h-2zM180 23h2v1h-2zM183 23h1v1h-1zM188 23h2v1h-2zM5 24h1v1h-1zM8 24h1v1h-1zM10 24h3v1h-3zM16 24h2v1h-2zM22 24h3v1h-3zM26 24h1v1h-1zM29 24h3v1h-3zM35 24h1v1h-1zM42 24h1v1h-1zM46 24h2v1h-2zM50 24h2v1h-2zM53 24h2v1h-2zM57 24h4v1h-4zM62 24h1v1h-1zM64 24h1v1h-1zM67 24h1v1h-1zM69 24h2v1h-2zM75 24h1v1h-1zM77 24h2v1h-2zM80 24h2v1h-2zM84 24h2v1h-2zM88 24h1v1h-1zM93 24h1v1h-1zM95 24h2v1h-2zM100 24h1v1h-1zM102 24h1v1h-1zM104 24h2v1h-2zM109 24h1v1h-1zM112 24h1v1h-1zM114 24h1v1h-1zM116 24h1v1h-1zM119 24h1v1h-1zM123 24h3v1h-3zM128 24h1v1h-1zM132 24h1v1h-1zM141 24h1v1h-1zM1 25h1v1h-1zM3 25h1v1h-1zM7 25h1v1h-1zM9 25h2v1h-2zM13 25h2v1h-2zM18 25h1v1h-1zM21 25h1v1h-1zM23 25h2v1h-2zM26 25h1v1h-1zM28 25h1v1h-1zM30 25h1v1h-1zM34 25h1v1h-1zM37 25h1v1h-1zM39 25h1v1h-1zM41 25h3v1h-3zM47 25h1v1h-1zM50 25h2v1h-2zM54 25h1v1h-1zM58 25h2v1h-2zM63 25h3v1h-3zM68 25h2v1h-2zM72 25h4v1h-4zM82 25h1v1h-1zM85 25h1v1h-1zM87 25h2v1h-2zM90 25h1v1h-1zM94 25h3v1h-3zM100 25h1v1h-1zM107 25h3v1h-3zM111 25h2v1h-2zM118 25h1v1h-1zM126 25h2v1h-2zM132 25h1v1h-1zM145 25h1v1h-1zM147 25h1v1h-1zM153 25h1v1h-1zM155 25h1v1h-1zM162 25h1v1h-1zM166 25h1v1h-1zM173 25h4v1h-4zM188 25h1v1h-1zM196 25h1v1h-1zM5 26h1v1h-1zM7 26h1v1h-1zM9 26h1v1h-1zM11 26h2v1h-2zM15 26h1v1h-1zM17 26h1v1h-1zM19 26h2v1h-2zM22 26h3v1h-3zM27 26h2v1h-2zM31 26h2v1h-2zM37 26h1v1h-1zM40 26h3v1h-3zM49 26h1v1h-1zM51 26h1v1h-1zM53 26h2v1h-2zM56 26h1v1h-1zM58 26h6v1h-6zM66 26h2v1h-2zM68 26h3v1h-3zM72 26h1v1h-1zM78 26h1v1h-1zM80 26h3v1h-3zM84 26h2v1h-2zM87 26h3v1h-3zM93 26h3v1h-3zM98 26h1v1h-1zM100 26h4v1h-4zM105 26h2v1h-2zM112 26h3v1h-3zM117 26h1v1h-1zM120 26h1v1h-1zM123 26h2v1h-2zM126 26h1v1h-1zM128 26h2v1h-2zM132 26h1v1h-1zM144 26h1v1h-1zM150 26h1v1h-1zM162 26h1v1h-1zM173 26h1v1h-1zM182 26h1v1h-1zM186 26h1v1h-1zM194 26h1v1h-1zM1 27h2v1h-2zM11 27h1v1h-1zM20 27h2v1h-2zM38 27h1v1h-1zM64 27h1v1h-1zM68 27h1v1h-1zM86 27h1v1h-1zM133 27h1v1h-1zM168 27h2v1h-2zM185 27h1v1h-1zM188 27h1v1h-1zM23 28h1v1h-1zM54 28h1v1h-1zM91 28h1v1h-1zM95 28h1v1h-1zM110 28h1v1h-1zM162 28h1v1h-1zM165 28h1v1h-1zM168 28h1v1h-1zM176 28h1v1h-1zM179 28h1v1h-1zM196 28h2v1h-2zM0 29h1v1h-1zM6 29h2v1h-2zM14 29h1v1h-1zM18 29h2v1h-2zM28 29h3v1h-3zM33 29h1v1h-1zM39 29h2v1h-2zM44 29h1v1h-1zM46 29h1v1h-1zM50 29h3v1h-3zM54 29h1v1h-1zM56 29h1v1h-1zM63 29h2v1h-2zM68 29h1v1h-1zM70 29h1v1h-1zM72 29h1v1h-1zM78 29h1v1h-1zM80 29h1v1h-1zM82 29h1v1h-1zM86 29h1v1h-1zM89 29h1v1h-1zM99 29h1v1h-1zM103 29h1v1h-1zM105 29h4v1h-4zM117 29h3v1h-3zM122 29h2v1h-2zM126 29h4v1h-4zM131 29h2v1h-2zM144 29h1v1h-1zM190 29h2v1h-2zM0 30h1v1h-1zM2 30h1v1h-1zM5 30h2v1h-2zM9 30h3v1h-3zM15 30h1v1h-1zM19 30h2v1h-2zM22 30h1v1h-1zM31 30h2v1h-2zM34 30h1v1h-1zM37 30h2v1h-2zM40 30h2v1h-2zM43 30h2v1h-2zM46 30h2v1h-2zM51 30h1v1h-1zM58 30h1v1h-1zM61 30h1v1h-1zM64 30h2v1h-2zM67 30h1v1h-1zM68 30h3v1h-3zM73 30h1v1h-1zM75 30h3v1h-3zM80 30h3v1h-3zM86 30h1v1h-1zM92 30h8v1h-8zM105 30h3v1h-3zM111 30h1v1h-1zM113 30h3v1h-3zM117 30h1v1h-1zM120 30h1v1h-1zM123 30h6v1h-6zM135 30h1v1h-1zM140 30h2v1h-2zM143 30h1v1h-1zM145 30h1v1h-1zM147 30h2v1h-2zM164 30h1v1h-1zM180 30h1v1h-1zM182 30h1v1h-1zM193 30h1v1h-1zM198 30h2v1h-2zM60 31h1v1h-1zM133 31h1v1h-1zM191 31h3v1h-3zM0 32h1v1h-1zM2 32h1v1h-1zM22 32h1v1h-1zM35 32h1v1h-1zM44 32h1v1h-1zM72 32h1v1h-1zM86 32h1v1h-1zM89 32h1v1h-1zM105 32h1v1h-1zM131 32h1v1h-1zM141 32h2v1h-2zM152 32h3v1h-3zM158 32h2v1h-2zM0 33h1v1h-1zM2 33h1v1h-1zM4 33h2v1h-2zM7 33h2v1h-2zM10 33h1v1h-1zM13 33h2v1h-2zM16 33h4v1h-4zM21 33h1v1h-1zM23 33h1v1h-1zM25 33h2v1h-2zM28 33h4v1h-4zM35 33h1v1h-1zM37 33h1v1h-1zM39 33h2v1h-2zM44 33h1v1h-1zM50 33h2v1h-2zM53 33h15v1h-15zM68 33h3v1h-3zM72 33h2v1h-2zM76 33h1v1h-1zM78 33h3v1h-3zM82 33h1v1h-1zM85 33h1v1h-1zM88 33h5v1h-5zM96 33h1v1h-1zM98 33h5v1h-5zM105 33h3v1h-3zM109 33h3v1h-3zM115 33h3v1h-3zM121 33h3v1h-3zM125 33h1v1h-1zM129 33h3v1h-3zM138 33h4v1h-4zM151 33h1v1h-1zM173 33h1v1h-1zM195 33h1v1h-1zM5 34h1v1h-1zM24 34h1v1h-1zM29 34h1v1h-1zM31 34h1v1h-1zM47 34h1v1h-1zM66 34h1v1h-1zM79 34h1v1h-1zM109 34h1v1h-1zM146 34h1v1h-1zM2 35h2v1h-2zM9 35h2v1h-2zM15 35h1v1h-1zM20 35h2v1h-2zM27 35h1v1h-1zM29 35h1v1h-1zM35 35h2v1h-2zM38 35h4v1h-4zM45 35h2v1h-2zM54 35h1v1h-1zM56 35h7v1h-7zM65 35h1v1h-1zM68 35h1v1h-1zM70 35h1v1h-1zM72 35h1v1h-1zM75 35h2v1h-2zM80 35h7v1h-7zM91 35h1v1h-1zM93 35h3v1h-3zM100 35h1v1h-1zM103 35h2v1h-2zM107 35h2v1h-2zM110 35h4v1h-4zM115 35h1v1h-1zM117 35h3v1h-3zM121 35h5v1h-5zM127 35h6v1h-6zM133 35h2v1h-2zM139 35h2v1h-2zM143 35h1v1h-1zM161 35h1v1h-1zM178 35h2v1h-2zM188 35h1v1h-1zM199 35h1v1h-1zM6 36h1v1h-1zM24 36h1v1h-1zM47 36h1v1h-1zM62 36h1v1h-1zM71 36h1v1h-1zM87 36h1v1h-1zM122 36h1v1h-1zM124 36h1v1h-1zM132 36h1v1h-1zM153 36h1v1h-1zM171 36h3v1h-3zM177 36h1v1h-1zM146 37h1v1h-1zM148 37h1v1h-1zM150 37h1v1h-1zM158 37h1v1h-1zM163 37h1v1h-1zM197 37h1v1h-1zM0 38h2v1h-2zM8 38h1v1h-1zM10 38h2v1h-2zM14 38h1v1h-1zM16 38h1v1h-1zM24 38h3v1h-3zM30 38h1v1h-1zM36 38h1v1h-1zM38 38h1v1h-1zM40 38h1v1h-1zM43 38h3v1h-3zM51 38h5v1h-5zM58 38h1v1h-1zM63 38h1v1h-1zM65 38h1v1h-1zM67 38h1v1h-1zM72 38h1v1h-1zM74 38h1v1h-1zM78 38h1v1h-1zM80 38h2v1h-2zM86 38h1v1h-1zM88 38h2v1h-2zM92 38h1v1h-1zM95 38h4v1h-4zM102 38h1v1h-1zM104 38h2v1h-2zM107 38h8v1h-8zM117 38h1v1h-1zM119 38h1v1h-1zM127 38h1v1h-1zM129 38h1v1h-1zM139 38h1v1h-1zM152 38h1v1h-1zM194 38h1v1h-1zM196 38h1v1h-1zM1 39h1v1h-1zM3 39h1v1h-1zM5 39h2v1h-2zM9 39h1v1h-1zM11 39h1v1h-1zM24 39h1v1h-1zM26 39h2v1h-2zM29 39h1v1h-1zM35 39h5v1h-5zM46 39h1v1h-1zM51 39h1v1h-1zM53 39h2v1h-2zM59 39h2v1h-2zM62 39h1v1h-1zM66 39h1v1h-1zM70 39h1v1h-1zM72 39h1v1h-1zM76 39h2v1h-2zM81 39h1v1h-1zM83 39h1v1h-1zM88 39h1v1h-1zM92 39h1v1h-1zM94 39h1v1h-1zM102 39h1v1h-1zM104 39h1v1h-1zM106 39h1v1h-1zM113 39h1v1h-1zM120 39h2v1h-2zM123 39h1v1h-1zM125 39h2v1h-2zM128 39h3v1h-3zM153 39h1v1h-1zM160 39h1v1h-1zM164 39h2v1h-2zM167 39h1v1h-1zM182 39h1v1h-1zM1 40h1v1h-1zM3 40h1v1h-1zM11 40h1v1h-1zM14 40h6v1h-6zM21 40h1v1h-1zM24 40h2v1h-2zM27 40h1v1h-1zM29 40h2v1h-2zM32 40h1v1h-1zM34 40h1v1h-1zM39 40h2v1h-2zM44 40h3v1h-3zM48 40h1v1h-1zM51 40h1v1h-1zM54 40h1v1h-1zM56 40h4v1h-4zM62 40h2v1h-2zM68 40h1v1h-1zM75 40h1v1h-1zM80 40h4v1h-4zM85 40h3v1h-3zM93 40h2v1h-2zM97 40h1v1h-1zM100 40h1v1h-1zM102 40h1v1h-1zM105 40h4v1h-4zM112 40h1v1h-1zM114 40h1v1h-1zM116 40h2v1h-2zM119 40h1v1h-1zM121 40h1v1h-1zM126 40h3v1h-3zM131 40h1v1h-1zM171 40h1v1h-1zM194 40h1v1h-1zM0 41h2v1h-2zM3 41h3v1h-3zM7 41h1v1h-1zM10 41h1v1h-1zM14 41h5v1h-5zM29 41h1v1h-1zM31 41h1v1h-1zM33 41h1v1h-1zM41 41h1v1h-1zM44 41h1v1h-1zM50 41h3v1h-3zM54 41h1v1h-1zM56 41h1v1h-1zM59 41h1v1h-1zM65 41h1v1h-1zM67 41h1v1h-1zM69 41h3v1h-3zM73 41h3v1h-3zM80 41h1v1h-1zM83 41h2v1h-2zM89 41h2v1h-2zM92 41h1v1h-1zM94 41h1v1h-1zM97 41h2v1h-2zM108 41h1v1h-1zM110 41h2v1h-2zM114 41h4v1h-4zM120 41h1v1h-1zM122 41h1v1h-1zM129 41h2v1h-2zM132 41h1v1h-1zM163 41h1v1h-1zM173 41h3v1h-3zM179 41h2v1h-2zM4 42h3v1h-3zM11 42h1v1h-1zM13 42h1v1h-1zM16 42h7v1h-7zM24 42h2v1h-2zM27 42h3v1h-3zM31 42h3v1h-3zM36 42h2v1h-2zM39 42h4v1h-4zM46 42h2v1h-2zM50 42h1v1h-1zM52 42h1v1h-1zM55 42h1v1h-1zM57 42h1v1h-1zM59 42h1v1h-1zM61 42h1v1h-1zM63 42h1v1h-1zM65 42h1v1h-1zM70 42h6v1h-6zM78 42h1v1h-1zM83 42h2v1h-2zM86 42h2v1h-2zM91 42h2v1h-2zM94 42h3v1h-3zM98 42h2v1h-2zM102 42h3v1h-3zM106 42h1v1h-1zM110 42h4v1h-4zM116 42h4v1h-4zM123 42h2v1h-2zM126 42h2v1h-2zM129 42h1v1h-1zM131 42h2v1h-2zM133 42h1v1h-1zM163 42h1v1h-1zM165 42h1v1h-1zM167 42h2v1h-2zM170 42h1v1h-1zM185 42h1v1h-1zM197 42h2v1h-2zM4 43h2v1h-2zM8 43h1v1h-1zM12 43h1v1h-1zM14 43h1v1h-1zM16 43h1v1h-1zM23 43h4v1h-4zM33 43h2v1h-2zM38 43h1v1h-1zM70 43h1v1h-1zM74 43h5v1h-5zM86 43h1v1h-1zM89 43h1v1h-1zM99 43h3v1h-3zM103 43h1v1h-1zM105 43h1v1h-1zM108 43h2v1h-2zM112 43h1v1h-1zM120 43h2v1h-2zM125 43h5v1h-5zM145 43h1v1h-1zM147 43h1v1h-1zM156 43h2v1h-2zM172 43h2v1h-2zM186 43h2v1h-2zM194 43h1v1h-1zM197 43h1v1h-1zM5 44h2v1h-2zM18 44h1v1h-1zM22 44h1v1h-1zM24 44h1v1h-1zM30 44h1v1h-1zM33 44h1v1h-1zM51 44h1v1h-1zM57 44h1v1h-1zM63 44h1v1h-1zM69 44h1v1h-1zM72 44h1v1h-1zM84 44h1v1h-1zM92 44h1v1h-1zM106 44h1v1h-1zM111 44h1v1h-1zM117 44h1v1h-1zM124 44h1v1h-1zM126 44h2v1h-2zM130 44h1v1h-1zM132 44h1v1h-1zM149 44h1v1h-1zM182 44h1v1h-1zM0 45h1v1h-1zM4 45h1v1h-1zM8 45h1v1h-1zM24 45h3v1h-3zM29 45h2v1h-2zM33 45h1v1h-1zM41 45h1v1h-1zM54 45h4v1h-4zM64 45h2v1h-2zM69 45h2v1h-2zM72 45h3v1h-3zM76 45h1v1h-1zM79 45h1v1h-1zM84 45h1v1h-1zM86 45h1v1h-1zM89 45h1v1h-1zM95 45h1v1h-1zM100 45h1v1h-1zM102 45h1v1h-1zM107 45h2v1h-2zM115 45h1v1h-1zM117 45h2v1h-2zM121 45h2v1h-2zM127 45h1v1h-1zM130 45h2v1h-2zM137 45h1v1h-1zM165 45h1v1h-1zM173 45h1v1h-1zM176 45h1v1h-1zM189 45h1v1h-1zM194 45h1v1h-1zM197 45h2v1h-2zM4 46h2v1h-2zM7 46h5v1h-5zM14 46h2v1h-2zM18 46h8v1h-8zM27 46h3v1h-3zM31 46h5v1h-5zM37 46h1v1h-1zM39 46h2v1h-2zM42 46h1v1h-1zM45 46h1v1h-1zM47 46h1v1h-1zM49 46h1v1h-1zM53 46h3v1h-3zM60 46h2v1h-2zM63 46h3v1h-3zM67 46h1v1h-1zM68 46h3v1h-3zM73 46h2v1h-2zM76 46h1v1h-1zM82 46h1v1h-1zM84 46h4v1h-4zM90 46h1v1h-1zM98 46h1v1h-1zM101 46h3v1h-3zM105 46h1v1h-1zM109 46h2v1h-2zM116 46h1v1h-1zM118 46h1v1h-1zM122 46h1v1h-1zM124 46h1v1h-1zM126 46h3v1h-3zM140 46h1v1h-1zM171 46h2v1h-2zM198 46h1v1h-1zM2 47h1v1h-1zM7 47h1v1h-1zM15 47h1v1h-1zM22 47h1v1h-1zM27 47h1v1h-1zM30 47h1v1h-1zM49 47h2v1h-2zM54 47h1v1h-1zM56 47h1v1h-1zM60 47h1v1h-1zM78 47h1v1h-1zM82 47h2v1h-2zM85 47h2v1h-2zM96 47h1v1h-1zM105 47h1v1h-1zM109 47h2v1h-2zM116 47h1v1h-1zM122 47h3v1h-3zM127 47h1v1h-1zM131 47h1v1h-1zM150 47h1v1h-1zM152 47h2v1h-2zM157 47h1v1h-1zM182 47h1v1h-1zM186 47h1v1h-1zM83 48h1v1h-1zM144 48h1v1h-1zM146 48h1v1h-1zM177 48h1v1h-1zM5 49h1v1h-1zM8 49h2v1h-2zM30 49h1v1h-1zM33 49h2v1h-2zM47 49h1v1h-1zM49 49h1v1h-1zM59 49h1v1h-1zM68 49h1v1h-1zM90 49h1v1h-1zM98 49h1v1h-1zM103 49h1v1h-1zM109 49h1v1h-1zM124 49h1v1h-1zM159 49h2v1h-2zM165 49h1v1h-1zM181 49h1v1h-1zM2 50h1v1h-1zM7 50h1v1h-1zM10 50h1v1h-1zM12 50h2v1h-2zM38 50h1v1h-1zM41 50h1v1h-1zM45 50h2v1h-2zM52 50h1v1h-1zM56 50h1v1h-1zM59 50h2v1h-2zM62 50h1v1h-1zM75 50h1v1h-1zM77 50h1v1h-1zM85 50h2v1h-2zM96 50h4v1h-4zM102 50h1v1h-1zM111 50h1v1h-1zM123 50h1v1h-1zM127 50h1v1h-1zM130 50h1v1h-1zM140 50h2v1h-2zM143 50h1v1h-1zM145 50h1v1h-1zM147 50h1v1h-1zM151 50h1v1h-1zM153 50h1v1h-1zM159 50h1v1h-1zM165 50h1v1h-1zM173 50h1v1h-1zM177 50h1v1h-1zM6 51h2v1h-2zM33 51h1v1h-1zM38 51h2v1h-2zM50 51h1v1h-1zM56 51h2v1h-2zM60 51h1v1h-1zM74 51h4v1h-4zM81 51h1v1h-1zM94 51h1v1h-1zM102 51h1v1h-1zM104 51h2v1h-2zM112 51h1v1h-1zM114 51h1v1h-1zM119 51h1v1h-1zM128 51h1v1h-1zM157 51h1v1h-1zM163 51h1v1h-1zM165 51h1v1h-1zM182 51h1v1h-1zM1 52h2v1h-2zM18 52h2v1h-2zM24 52h1v1h-1zM27 52h5v1h-5zM34 52h1v1h-1zM38 52h1v1h-1zM41 52h2v1h-2zM46 52h2v1h-2zM50 52h4v1h-4zM55 52h1v1h-1zM58 52h1v1h-1zM60 52h1v1h-1zM64 52h1v1h-1zM67 52h1v1h-1zM79 52h1v1h-1zM81 52h1v1h-1zM86 52h2v1h-2zM90 52h1v1h-1zM92 52h2v1h-2zM98 52h3v1h-3zM102 52h1v1h-1zM104 52h4v1h-4zM111 52h1v1h-1zM113 52h2v1h-2zM117 52h1v1h-1zM119 52h1v1h-1zM121 52h1v1h-1zM127 52h2v1h-2zM131 52h1v1h-1zM158 52h2v1h-2zM1 53h1v1h-1zM28 53h1v1h-1zM33 53h1v1h-1zM37 53h1v1h-1zM42 53h1v1h-1zM51 53h1v1h-1zM67 53h1v1h-1zM69 53h1v1h-1zM71 53h1v1h-1zM78 53h1v1h-1zM93 53h1v1h-1zM113 53h1v1h-1zM140 53h1v1h-1zM146 53h1v1h-1zM151 53h3v1h-3zM191 53h1v1h-1zM2 54h1v1h-1zM26 54h1v1h-1zM41 54h1v1h-1zM79 54h1v1h-1zM99 54h1v1h-1zM123 54h1v1h-1zM129 54h1v1h-1zM141 54h1v1h-1zM174 54h1v1h-1zM183 54h1v1h-1zM191 54h2v1h-2zM6 55h1v1h-1zM9 55h2v1h-2zM15 55h1v1h-1zM20 55h1v1h-1zM28 55h3v1h-3zM39 55h1v1h-1zM47 55h1v1h-1zM85 55h2v1h-2zM101 55h1v1h-1zM121 55h1v1h-1zM130 55h1v1h-1zM134 55h2v1h-2zM146 55h1v1h-1zM148 55h1v1h-1zM164 55h1v1h-1zM178 55h2v1h-2zM185 55h1v1h-1zM187 55h1v1h-1zM190 55h2v1h-2zM0 56h1v1h-1zM11 56h1v1h-1zM13 56h1v1h-1zM19 56h2v1h-2zM25 56h1v1h-1zM27 56h1v1h-1zM35 56h1v1h-1zM47 56h1v1h-1zM53 56h1v1h-1zM55 56h1v1h-1zM64 56h1v1h-1zM67 56h1v1h-1zM68 56h1v1h-1zM75 56h1v1h-1zM79 56h1v1h-1zM82 56h1v1h-1zM84 56h1v1h-1zM87 56h1v1h-1zM92 56h1v1h-1zM97 56h1v1h-1zM101 56h1v1h-1zM109 56h1v1h-1zM116 56h1v1h-1zM118 56h1v1h-1zM127 56h2v1h-2zM132 56h1v1h-1zM143 56h1v1h-1zM156 56h2v1h-2zM159 56h3v1h-3zM166 56h1v1h-1zM178 56h1v1h-1zM182 56h1v1h-1zM3 57h1v1h-1zM5 57h1v1h-1zM9 57h2v1h-2zM13 57h1v1h-1zM17 57h2v1h-2zM33 57h2v1h-2zM44 57h4v1h-4zM59 57h2v1h-2zM64 57h2v1h-2zM67 57h1v1h-1zM68 57h1v1h-1zM70 57h1v1h-1zM72 57h1v1h-1zM79 57h1v1h-1zM94 57h2v1h-2zM104 57h1v1h-1zM109 57h1v1h-1zM112 57h2v1h-2zM119 57h1v1h-1zM121 57h1v1h-1zM128 57h1v1h-1zM130 57h1v1h-1zM137 57h1v1h-1zM146 57h1v1h-1zM178 57h1v1h-1zM193 57h2v1h-2zM11 58h1v1h-1zM14 58h1v1h-1zM21 58h1v1h-1zM30 58h2v1h-2zM34 58h2v1h-2zM37 58h3v1h-3zM47 58h1v1h-1zM51 58h1v1h-1zM53 58h1v1h-1zM55 58h1v1h-1zM59 58h1v1h-1zM63 58h2v1h-2zM66 58h2v1h-2zM71 58h1v1h-1zM78 58h2v1h-2zM87 58h1v1h-1zM92 58h1v1h-1zM98 58h1v1h-1zM100 58h1v1h-1zM103 58h3v1h-3zM130 58h2v1h-2zM146 58h1v1h-1zM166 58h1v1h-1zM187 58h2v1h-2zM14 59h1v1h-1zM25 59h1v1h-1zM41 59h1v1h-1zM52 59h1v1h-1zM94 59h1v1h-1zM97 59h1v1h-1zM114 59h1v1h-1zM147 59h2v1h-2zM177 59h1v1h-1zM192 59h1v1h-1zM195 59h1v1h-1zM1 60h1v1h-1zM8 60h1v1h-1zM10 60h2v1h-2zM14 60h2v1h-2zM17 60h1v1h-1zM19 60h3v1h-3zM24 60h2v1h-2zM28 60h1v1h-1zM31 60h1v1h-1zM34 60h1v1h-1zM40 60h1v1h-1zM42 60h5v1h-5zM53 60h1v1h-1zM55 60h1v1h-1zM58 60h1v1h-1zM63 60h3v1h-3zM69 60h1v1h-1zM71 60h2v1h-2zM78 60h1v1h-1zM94 60h1v1h-1zM97 60h1v1h-1zM105 60h2v1h-2zM112 60h1v1h-1zM126 60h3v1h-3zM131 60h1v1h-1zM133 60h1v1h-1zM135 60h1v1h-1zM137 60h1v1h-1zM140 60h1v1h-1zM142 60h2v1h-2zM145 60h1v1h-1zM169 60h1v1h-1zM177 60h2v1h-2zM197 60h1v1h-1zM0 61h1v1h-1zM6 61h1v1h-1zM23 61h3v1h-3zM27 61h1v1h-1zM29 61h2v1h-2zM34 61h1v1h-1zM42 61h1v1h-1zM44 61h1v1h-1zM46 61h1v1h-1zM55 61h1v1h-1zM59 61h1v1h-1zM61 61h1v1h-1zM65 61h2v1h-2zM72 61h1v1h-1zM78 61h1v1h-1zM92 61h1v1h-1zM98 61h1v1h-1zM106 61h1v1h-1zM113 61h1v1h-1zM128 61h1v1h-1zM141 61h2v1h-2zM174 61h1v1h-1zM181 61h1v1h-1zM1 62h1v1h-1zM4 62h1v1h-1zM6 62h1v1h-1zM11 62h1v1h-1zM20 62h1v1h-1zM22 62h1v1h-1zM30 62h4v1h-4zM39 62h2v1h-2zM42 62h1v1h-1zM46 62h1v1h-1zM60 62h2v1h-2zM63 62h1v1h-1zM65 62h1v1h-1zM67 62h1v1h-1zM69 62h2v1h-2zM78 62h2v1h-2zM93 62h3v1h-3zM98 62h1v1h-1zM100 62h1v1h-1zM103 62h1v1h-1zM105 62h1v1h-1zM110 62h1v1h-1zM112 62h1v1h-1zM122 62h1v1h-1zM127 62h2v1h-2zM132 62h1v1h-1zM133 62h1v1h-1zM143 62h1v1h-1zM157 62h1v1h-1zM162 62h1v1h-1zM170 62h1v1h-1zM172 62h1v1h-1zM174 62h1v1h-1zM187 62h1v1h-1zM191 62h1v1h-1zM197 62h1v1h-1zM0 63h1v1h-1zM3 63h4v1h-4zM14 63h1v1h-1zM31 63h2v1h-2zM42 63h3v1h-3zM46 63h2v1h-2zM55 63h1v1h-1zM58 63h1v1h-1zM61 63h1v1h-1zM71 63h2v1h-2zM77 63h1v1h-1zM79 63h1v1h-1zM81 63h1v1h-1zM90 63h3v1h-3zM95 63h1v1h-1zM104 63h3v1h-3zM119 63h1v1h-1zM126 63h1v1h-1zM132 63h1v1h-1zM137 63h1v1h-1zM142 63h1v1h-1zM163 63h1v1h-1zM172 63h2v1h-2zM196 63h2v1h-2zM5 64h2v1h-2zM11 64h1v1h-1zM14 64h2v1h-2zM20 64h1v1h-1zM27 64h1v1h-1zM29 64h1v1h-1zM31 64h1v1h-1zM37 64h1v1h-1zM40 64h1v1h-1zM55 64h1v1h-1zM57 64h1v1h-1zM61 64h1v1h-1zM64 64h1v1h-1zM72 64h1v1h-1zM84 64h1v1h-1zM87 64h1v1h-1zM101 64h1v1h-1zM103 64h2v1h-2zM106 64h1v1h-1zM110 64h2v1h-2zM132 64h1v1h-1zM137 64h1v1h-1zM157 64h1v1h-1zM169 64h2v1h-2zM186 64h1v1h-1zM194 64h1v1h-1zM10 65h1v1h-1zM32 65h1v1h-1zM57 65h1v1h-1zM60 65h1v1h-1zM63 65h1v1h-1zM72 65h1v1h-1zM76 65h1v1h-1zM79 65h1v1h-1zM81 65h1v1h-1zM91 65h3v1h-3zM100 65h1v1h-1zM105 65h1v1h-1zM111 65h1v1h-1zM114 65h1v1h-1zM119 65h1v1h-1zM121 65h1v1h-1zM128 65h1v1h-1zM130 65h1v1h-1zM169 65h1v1h-1zM172 65h1v1h-1zM174 65h1v1h-1zM182 65h2v1h-2zM185 65h1v1h-1zM187 65h1v1h-1zM16 66h2v1h-2zM35 66h1v1h-1zM53 66h1v1h-1zM88 66h1v1h-1zM132 66h1v1h-1zM136 66h2v1h-2zM141 66h1v1h-1zM144 66h3v1h-3zM149 66h2v1h-2zM152 66h2v1h-2zM156 66h4v1h-4zM188 66h2v1h-2zM191 66h1v1h-1zM4 67h1v1h-1zM57 67h1v1h-1zM63 67h1v1h-1zM69 67h1v1h-1zM103 67h1v1h-1zM135 67h1v1h-1zM137 67h1v1h-1zM149 67h1v1h-1zM152 67h1v1h-1zM162 67h2v1h-2zM167 67h1v1h-1zM170 67h2v1h-2zM173 67h1v1h-1zM176 67h2v1h-2zM181 67h3v1h-3zM185 67h4v1h-4zM197 67h1v1h-1zM199 67h1v1h-1zM66 68h1v1h-1zM104 68h1v1h-1zM133 68h2v1h-2zM143 68h1v1h-1zM151 68h1v1h-1zM158 68h2v1h-2zM167 68h1v1h-1zM172 68h3v1h-3zM180 68h2v1h-2zM187 68h1v1h-1zM191 68h1v1h-1zM64 69h1v1h-1zM67 69h1v1h-1zM98 69h1v1h-1zM115 69h1v1h-1zM135 69h1v1h-1zM139 69h1v1h-1zM142 69h2v1h-2zM150 69h1v1h-1zM155 69h1v1h-1zM163 69h1v1h-1zM166 69h1v1h-1zM172 69h2v1h-2zM176 69h1v1h-1zM182 69h2v1h-2zM186 69h1v1h-1zM14 70h1v1h-1zM18 70h1v1h-1zM46 70h1v1h-1zM137 70h1v1h-1zM139 70h1v1h-1zM145 70h1v1h-1zM148 70h1v1h-1zM156 70h2v1h-2zM169 70h1v1h-1zM172 70h1v1h-1zM174 70h1v1h-1zM177 70h3v1h-3zM188 70h1v1h-1zM191 70h1v1h-1zM195 70h1v1h-1zM75 71h1v1h-1zM106 71h1v1h-1zM15 72h1v1h-1zM24 72h1v1h-1zM135 72h2v1h-2zM140 72h1v1h-1zM142 72h1v1h-1zM145 72h1v1h-1zM152 72h1v1h-1zM172 72h1v1h-1zM176 72h2v1h-2zM184 72h1v1h-1zM198 72h1v1h-1zM43 73h1v1h-1zM105 73h1v1h-1zM135 73h2v1h-2zM140 73h1v1h-1zM149 73h1v1h-1zM151 73h1v1h-1zM163 73h1v1h-1zM165 73h1v1h-1zM167 73h1v1h-1zM173 73h3v1h-3zM178 73h1v1h-1zM181 73h1v1h-1zM189 73h2v1h-2zM198 73h1v1h-1zM8 74h1v1h-1zM93 74h1v1h-1zM129 74h2v1h-2zM136 74h2v1h-2zM144 74h1v1h-1zM158 74h1v1h-1zM168 74h1v1h-1zM172 74h1v1h-1zM180 74h3v1h-3zM199 74h1v1h-1zM47 75h1v1h-1zM52 75h2v1h-2zM84 75h1v1h-1zM95 75h2v1h-2zM101 75h1v1h-1zM137 75h1v1h-1zM139 75h1v1h-1zM141 75h1v1h-1zM160 75h1v1h-1zM162 75h1v1h-1zM165 75h1v1h-1zM171 75h3v1h-3zM176 75h4v1h-4zM184 75h1v1h-1zM193 75h1v1h-1zM199 75h1v1h-1zM82 76h1v1h-1zM135 76h1v1h-1zM138 76h2v1h-2zM141 76h1v1h-1zM151 76h1v1h-1zM155 76h4v1h-4zM161 76h1v1h-1zM167 76h1v1h-1zM175 76h1v1h-1zM193 76h1v1h-1zM198 76h1v1h-1zM15 77h1v1h-1zM19 77h2v1h-2zM35 77h3v1h-3zM39 77h1v1h-1zM75 77h1v1h-1zM127 77h1v1h-1zM135 77h1v1h-1zM141 77h1v1h-1zM151 77h2v1h-2zM167 77h1v1h-1zM181 77h2v1h-2zM184 77h2v1h-2zM187 77h3v1h-3zM37 78h1v1h-1zM41 78h1v1h-1zM65 78h1v1h-1zM87 78h3v1h-3zM144 78h1v1h-1zM146 78h2v1h-2zM155 78h4v1h-4zM161 78h1v1h-1zM165 78h2v1h-2zM175 78h4v1h-4zM180 78h1v1h-1zM190 78h1v1h-1zM193 78h1v1h-1zM195 78h3v1h-3z"/><path fill="#6c54f0" d="M79 0h1v1h-1zM119 0h1v1h-1zM27 6h1v1h-1zM107 6h2v1h-2zM32 8h2v1h-2zM74 8h1v1h-1zM85 8h1v1h-1zM7 10h2v1h-2zM89 14h2v1h-2zM106 16h1v1h-1zM26 19h1v1h-1zM51 21h1v1h-1zM81 21h1v1h-1zM54 23h1v1h-1zM14 24h1v1h-1zM72 27h1v1h-1zM83 27h1v1h-1zM91 27h1v1h-1zM199 27h1v1h-1zM2 28h1v1h-1zM63 28h1v1h-1zM89 28h1v1h-1zM118 28h1v1h-1zM182 29h1v1h-1zM66 31h1v1h-1zM73 31h1v1h-1zM86 31h1v1h-1zM20 32h1v1h-1zM34 32h1v1h-1zM37 32h1v1h-1zM58 32h2v1h-2zM74 32h1v1h-1zM38 34h1v1h-1zM84 34h1v1h-1zM78 35h1v1h-1zM1 36h1v1h-1zM58 36h1v1h-1zM14 37h1v1h-1zM18 37h1v1h-1zM25 37h2v1h-2zM60 37h1v1h-1zM50 38h1v1h-1zM62 38h1v1h-1zM18 39h1v1h-1zM57 39h2v1h-2zM107 39h1v1h-1zM27 44h1v1h-1zM128 45h1v1h-1zM14 48h1v1h-1zM65 48h1v1h-1zM78 48h1v1h-1zM198 49h1v1h-1zM11 51h1v1h-1zM122 51h1v1h-1zM152 51h2v1h-2zM89 54h1v1h-1zM60 55h1v1h-1zM64 55h1v1h-1zM91 55h1v1h-1zM135 56h1v1h-1zM43 57h1v1h-1zM25 58h1v1h-1zM94 58h1v1h-1zM64 59h1v1h-1zM32 60h2v1h-2zM97 61h1v1h-1zM52 63h1v1h-1zM64 63h1v1h-1zM106 65h1v1h-1zM153 69h1v1h-1zM154 71h1v1h-1zM156 71h1v1h-1zM189 71h1v1h-1zM191 71h1v1h-1zM194 71h1v1h-1zM174 74h1v1h-1z"/><path fill="#7860f0" d="M80 0h1v1h-1zM95 0h1v1h-1zM48 8h1v1h-1zM174 8h1v1h-1zM14 14h1v1h-1zM92 14h1v1h-1zM115 14h1v1h-1zM46 15h1v1h-1zM52 17h1v1h-1zM86 18h1v1h-1zM25 19h1v1h-1zM3 21h1v1h-1zM38 21h1v1h-1zM62 21h1v1h-1zM80 21h1v1h-1zM131 22h1v1h-1zM199 26h1v1h-1zM23 27h1v1h-1zM87 27h1v1h-1zM7 28h1v1h-1zM41 28h1v1h-1zM107 28h1v1h-1zM85 31h1v1h-1zM121 31h1v1h-1zM28 32h1v1h-1zM33 32h1v1h-1zM63 32h1v1h-1zM48 33h1v1h-1zM83 34h1v1h-1zM175 34h2v1h-2zM87 35h1v1h-1zM5 36h1v1h-1zM27 36h1v1h-1zM57 36h1v1h-1zM89 36h1v1h-1zM64 37h1v1h-1zM94 38h1v1h-1zM13 39h1v1h-1zM43 39h2v1h-2zM65 39h1v1h-1zM99 39h1v1h-1zM174 42h1v1h-1zM26 44h1v1h-1zM194 46h1v1h-1zM51 47h1v1h-1zM53 47h1v1h-1zM24 48h2v1h-2zM106 48h1v1h-1zM118 48h1v1h-1zM127 48h1v1h-1zM150 48h1v1h-1zM65 51h1v1h-1zM192 58h1v1h-1zM64 61h1v1h-1zM62 62h1v1h-1zM125 64h1v1h-1zM178 64h1v1h-1zM17 65h1v1h-1zM156 67h1v1h-1zM186 71h1v1h-1zM32 72h1v1h-1z"/><path fill="#3c18d8" d="M82 0h1v1h-1zM7 8h1v1h-1zM123 8h2v1h-2zM15 20h1v1h-1zM48 27h1v1h-1zM101 27h1v1h-1zM195 71h2v1h-2z"/><path fill="#846cfc" d="M84 0h1v1h-1zM88 0h1v1h-1zM129 0h1v1h-1zM174 3h1v1h-1zM166 5h1v1h-1zM169 5h1v1h-1zM103 6h1v1h-1zM181 11h1v1h-1zM62 16h1v1h-1zM130 22h1v1h-1zM126 28h1v1h-1zM58 31h1v1h-1zM192 32h1v1h-1zM194 32h1v1h-1zM47 33h1v1h-1zM132 34h1v1h-1zM63 35h1v1h-1zM172 42h1v1h-1zM48 48h1v1h-1zM99 56h1v1h-1zM155 56h1v1h-1zM16 59h1v1h-1zM62 61h1v1h-1zM66 64h1v1h-1zM91 64h1v1h-1zM48 65h1v1h-1zM195 68h1v1h-1zM165 71h1v1h-1zM185 71h1v1h-1zM138 72h1v1h-1z"/><path fill="#e4546c" d="M136 0h1v1h-1zM166 0h1v1h-1zM145 1h1v1h-1zM147 1h1v1h-1zM151 1h1v1h-1zM190 1h1v1h-1zM160 4h1v1h-1zM168 4h1v1h-1zM166 7h1v1h-1zM175 9h1v1h-1zM150 12h1v1h-1zM165 15h2v1h-2zM156 19h1v1h-1zM162 19h1v1h-1zM172 27h1v1h-1zM175 29h1v1h-1zM189 30h1v1h-1zM197 31h1v1h-1zM154 37h2v1h-2zM155 39h1v1h-1zM156 42h1v1h-1zM174 51h1v1h-1zM135 52h2v1h-2zM134 57h2v1h-2zM156 65h2v1h-2zM55 66h2v1h-2zM63 66h2v1h-2zM43 67h1v1h-1zM92 67h1v1h-1zM95 67h1v1h-1zM88 69h1v1h-1zM77 70h1v1h-1zM80 70h1v1h-1zM42 72h1v1h-1zM85 72h1v1h-1zM89 72h1v1h-1zM155 72h2v1h-2zM90 73h1v1h-1zM30 74h2v1h-2zM35 74h1v1h-1zM49 74h1v1h-1zM58 74h1v1h-1zM82 74h2v1h-2zM90 75h3v1h-3zM6 76h1v1h-1zM61 76h1v1h-1zM64 76h1v1h-1zM73 76h1v1h-1zM91 76h1v1h-1zM95 76h1v1h-1zM38 77h1v1h-1zM22 78h1v1h-1zM78 78h1v1h-1z"/><path fill="#c09cfc" d="M137 0h1v1h-1zM142 0h1v1h-1zM159 0h1v1h-1zM164 1h1v1h-1zM174 1h2v1h-2zM2 2h1v1h-1zM19 2h1v1h-1zM53 2h1v1h-1zM88 2h1v1h-1zM102 2h1v1h-1zM114 2h1v1h-1zM131 2h1v1h-1zM168 2h1v1h-1zM170 2h1v1h-1zM184 2h1v1h-1zM181 3h2v1h-2zM135 4h1v1h-1zM181 4h1v1h-1zM134 5h1v1h-1zM186 5h1v1h-1zM12 6h1v1h-1zM174 6h3v1h-3zM156 7h2v1h-2zM196 7h1v1h-1zM145 8h3v1h-3zM192 8h1v1h-1zM59 9h1v1h-1zM61 9h1v1h-1zM12 11h1v1h-1zM69 11h1v1h-1zM78 11h1v1h-1zM145 11h1v1h-1zM154 11h1v1h-1zM170 11h3v1h-3zM182 11h2v1h-2zM191 11h1v1h-1zM78 12h1v1h-1zM181 12h1v1h-1zM142 13h2v1h-2zM196 13h1v1h-1zM176 14h1v1h-1zM186 14h1v1h-1zM171 15h1v1h-1zM181 15h1v1h-1zM183 15h3v1h-3zM104 17h1v1h-1zM118 17h1v1h-1zM128 17h1v1h-1zM135 17h1v1h-1zM138 17h1v1h-1zM141 17h1v1h-1zM83 18h1v1h-1zM151 18h1v1h-1zM8 19h1v1h-1zM62 19h1v1h-1zM79 19h1v1h-1zM114 19h1v1h-1zM159 19h3v1h-3zM164 19h1v1h-1zM177 19h1v1h-1zM135 20h2v1h-2zM134 21h1v1h-1zM155 21h1v1h-1zM172 21h1v1h-1zM181 21h1v1h-1zM183 21h1v1h-1zM185 21h1v1h-1zM133 22h1v1h-1zM135 22h2v1h-2zM146 22h2v1h-2zM152 22h3v1h-3zM163 22h3v1h-3zM47 23h1v1h-1zM90 24h1v1h-1zM12 25h1v1h-1zM27 25h1v1h-1zM40 25h1v1h-1zM49 25h1v1h-1zM56 25h1v1h-1zM77 25h1v1h-1zM80 25h1v1h-1zM97 25h1v1h-1zM119 25h1v1h-1zM124 25h1v1h-1zM149 25h2v1h-2zM192 25h1v1h-1zM194 25h2v1h-2zM36 26h1v1h-1zM145 26h1v1h-1zM160 26h1v1h-1zM165 26h1v1h-1zM139 27h1v1h-1zM155 27h1v1h-1zM161 28h1v1h-1zM169 28h1v1h-1zM183 28h1v1h-1zM187 28h1v1h-1zM2 29h1v1h-1zM5 29h1v1h-1zM8 29h1v1h-1zM10 29h1v1h-1zM12 29h1v1h-1zM15 29h1v1h-1zM38 29h1v1h-1zM48 29h1v1h-1zM67 29h1v1h-1zM69 29h1v1h-1zM73 29h2v1h-2zM92 29h1v1h-1zM94 29h1v1h-1zM104 29h1v1h-1zM112 29h1v1h-1zM115 29h1v1h-1zM120 29h1v1h-1zM181 29h1v1h-1zM1 30h1v1h-1zM52 30h1v1h-1zM55 30h1v1h-1zM103 30h1v1h-1zM122 30h1v1h-1zM129 30h1v1h-1zM151 30h1v1h-1zM166 30h1v1h-1zM141 31h3v1h-3zM190 31h1v1h-1zM133 33h3v1h-3zM174 33h1v1h-1zM197 33h1v1h-1zM136 34h1v1h-1zM150 34h1v1h-1zM196 34h1v1h-1zM136 35h1v1h-1zM189 35h1v1h-1zM17 36h1v1h-1zM197 36h1v1h-1zM0 37h1v1h-1zM133 37h3v1h-3zM144 37h2v1h-2zM160 37h1v1h-1zM172 37h1v1h-1zM180 37h1v1h-1zM184 37h2v1h-2zM196 37h1v1h-1zM151 38h1v1h-1zM153 38h1v1h-1zM155 38h2v1h-2zM192 38h1v1h-1zM142 39h1v1h-1zM150 39h3v1h-3zM10 40h1v1h-1zM12 40h1v1h-1zM42 40h1v1h-1zM65 40h1v1h-1zM67 40h1v1h-1zM69 40h1v1h-1zM84 40h1v1h-1zM92 40h1v1h-1zM98 40h1v1h-1zM133 40h4v1h-4zM140 40h1v1h-1zM157 40h1v1h-1zM159 40h1v1h-1zM177 40h1v1h-1zM180 40h1v1h-1zM192 41h1v1h-1zM194 41h2v1h-2zM53 42h1v1h-1zM134 42h1v1h-1zM164 42h1v1h-1zM199 42h1v1h-1zM140 43h1v1h-1zM190 43h1v1h-1zM195 43h1v1h-1zM4 44h1v1h-1zM11 44h2v1h-2zM17 44h1v1h-1zM29 44h1v1h-1zM37 44h1v1h-1zM42 44h1v1h-1zM45 44h1v1h-1zM48 44h1v1h-1zM54 44h1v1h-1zM62 44h1v1h-1zM65 44h1v1h-1zM73 44h3v1h-3zM80 44h2v1h-2zM83 44h1v1h-1zM88 44h2v1h-2zM97 44h1v1h-1zM99 44h1v1h-1zM107 44h1v1h-1zM118 44h1v1h-1zM120 44h1v1h-1zM122 44h2v1h-2zM125 44h1v1h-1zM128 44h1v1h-1zM147 44h1v1h-1zM150 44h1v1h-1zM178 44h1v1h-1zM183 44h3v1h-3zM36 45h1v1h-1zM80 45h1v1h-1zM120 45h1v1h-1zM136 45h1v1h-1zM140 45h3v1h-3zM192 45h2v1h-2zM26 46h1v1h-1zM36 46h1v1h-1zM56 46h1v1h-1zM83 46h1v1h-1zM88 46h1v1h-1zM96 46h1v1h-1zM108 46h1v1h-1zM120 46h1v1h-1zM179 46h1v1h-1zM189 46h1v1h-1zM16 47h1v1h-1zM158 47h1v1h-1zM194 47h4v1h-4zM152 48h4v1h-4zM167 48h1v1h-1zM176 48h1v1h-1zM7 49h1v1h-1zM11 49h3v1h-3zM15 49h1v1h-1zM24 49h3v1h-3zM32 49h1v1h-1zM38 49h1v1h-1zM43 49h2v1h-2zM50 49h1v1h-1zM55 49h2v1h-2zM65 49h1v1h-1zM70 49h1v1h-1zM73 49h5v1h-5zM81 49h1v1h-1zM84 49h4v1h-4zM91 49h1v1h-1zM96 49h1v1h-1zM99 49h1v1h-1zM108 49h1v1h-1zM110 49h2v1h-2zM121 49h1v1h-1zM123 49h1v1h-1zM125 49h1v1h-1zM129 49h3v1h-3zM134 49h1v1h-1zM150 49h1v1h-1zM170 49h2v1h-2zM184 49h1v1h-1zM16 50h1v1h-1zM36 50h1v1h-1zM73 50h1v1h-1zM125 50h1v1h-1zM160 50h1v1h-1zM183 50h1v1h-1zM89 51h1v1h-1zM115 51h1v1h-1zM120 51h1v1h-1zM136 51h1v1h-1zM180 51h1v1h-1zM12 52h1v1h-1zM16 52h1v1h-1zM26 52h1v1h-1zM48 52h1v1h-1zM54 52h1v1h-1zM73 52h1v1h-1zM75 52h1v1h-1zM80 52h1v1h-1zM85 52h1v1h-1zM120 52h1v1h-1zM123 52h1v1h-1zM125 52h1v1h-1zM129 52h1v1h-1zM155 52h1v1h-1zM179 52h1v1h-1zM2 53h1v1h-1zM7 53h2v1h-2zM11 53h1v1h-1zM13 53h1v1h-1zM24 53h2v1h-2zM29 53h1v1h-1zM38 53h1v1h-1zM40 53h2v1h-2zM46 53h1v1h-1zM50 53h1v1h-1zM52 53h1v1h-1zM59 53h2v1h-2zM64 53h2v1h-2zM68 53h1v1h-1zM75 53h3v1h-3zM79 53h2v1h-2zM84 53h4v1h-4zM91 53h1v1h-1zM94 53h1v1h-1zM96 53h1v1h-1zM99 53h1v1h-1zM102 53h1v1h-1zM105 53h2v1h-2zM109 53h1v1h-1zM111 53h1v1h-1zM114 53h1v1h-1zM116 53h2v1h-2zM121 53h3v1h-3zM126 53h2v1h-2zM129 53h2v1h-2zM142 53h1v1h-1zM154 53h1v1h-1zM157 53h1v1h-1zM188 53h1v1h-1zM16 54h1v1h-1zM120 54h1v1h-1zM182 54h1v1h-1zM190 54h1v1h-1zM16 55h1v1h-1zM108 55h1v1h-1zM125 55h1v1h-1zM137 55h3v1h-3zM143 55h2v1h-2zM160 55h1v1h-1zM184 55h1v1h-1zM186 55h1v1h-1zM12 56h1v1h-1zM48 56h1v1h-1zM56 56h1v1h-1zM73 56h1v1h-1zM80 56h1v1h-1zM102 56h1v1h-1zM108 56h1v1h-1zM125 56h1v1h-1zM129 56h1v1h-1zM151 56h2v1h-2zM164 56h1v1h-1zM171 56h2v1h-2zM181 56h1v1h-1zM198 56h2v1h-2zM7 57h1v1h-1zM12 57h1v1h-1zM26 57h1v1h-1zM48 57h1v1h-1zM62 57h1v1h-1zM80 57h1v1h-1zM83 57h1v1h-1zM85 57h1v1h-1zM96 57h1v1h-1zM99 57h1v1h-1zM108 57h1v1h-1zM116 57h1v1h-1zM129 57h1v1h-1zM12 58h1v1h-1zM48 58h1v1h-1zM50 58h1v1h-1zM52 58h1v1h-1zM62 58h1v1h-1zM86 58h1v1h-1zM99 58h1v1h-1zM102 58h1v1h-1zM114 58h1v1h-1zM123 58h1v1h-1zM133 58h3v1h-3zM145 58h1v1h-1zM147 58h1v1h-1zM157 58h1v1h-1zM62 59h1v1h-1zM135 59h1v1h-1zM198 59h1v1h-1zM7 60h1v1h-1zM13 60h1v1h-1zM54 60h1v1h-1zM56 60h1v1h-1zM62 60h1v1h-1zM73 60h1v1h-1zM95 60h1v1h-1zM108 60h1v1h-1zM114 60h1v1h-1zM129 60h1v1h-1zM172 60h1v1h-1zM12 61h2v1h-2zM54 61h1v1h-1zM74 61h1v1h-1zM79 61h1v1h-1zM102 61h1v1h-1zM114 61h1v1h-1zM159 61h2v1h-2zM186 61h1v1h-1zM193 61h1v1h-1zM196 61h2v1h-2zM2 62h1v1h-1zM7 62h1v1h-1zM12 62h1v1h-1zM41 62h1v1h-1zM52 62h1v1h-1zM56 62h2v1h-2zM80 62h1v1h-1zM83 62h1v1h-1zM86 62h1v1h-1zM96 62h1v1h-1zM99 62h1v1h-1zM102 62h1v1h-1zM114 62h1v1h-1zM123 62h1v1h-1zM147 62h4v1h-4zM158 62h1v1h-1zM160 62h1v1h-1zM189 62h1v1h-1zM192 62h1v1h-1zM2 63h1v1h-1zM7 63h1v1h-1zM26 63h1v1h-1zM56 63h1v1h-1zM108 63h1v1h-1zM116 63h1v1h-1zM129 63h1v1h-1zM171 63h1v1h-1zM189 63h1v1h-1zM194 63h1v1h-1zM7 64h1v1h-1zM26 64h1v1h-1zM54 64h1v1h-1zM56 64h1v1h-1zM60 64h1v1h-1zM62 64h1v1h-1zM73 64h1v1h-1zM85 64h1v1h-1zM96 64h1v1h-1zM102 64h1v1h-1zM145 64h1v1h-1zM148 64h1v1h-1zM155 64h2v1h-2zM158 64h1v1h-1zM7 65h1v1h-1zM73 65h1v1h-1zM75 65h1v1h-1zM99 65h1v1h-1zM108 65h1v1h-1zM152 65h1v1h-1zM180 65h2v1h-2zM186 65h1v1h-1zM0 66h2v1h-2zM3 66h2v1h-2zM7 66h1v1h-1zM30 66h2v1h-2zM37 66h1v1h-1zM39 66h1v1h-1zM46 66h2v1h-2zM61 66h1v1h-1zM68 66h1v1h-1zM76 66h1v1h-1zM87 66h1v1h-1zM95 66h1v1h-1zM104 66h1v1h-1zM112 66h1v1h-1zM127 66h1v1h-1zM148 66h1v1h-1zM181 66h1v1h-1zM8 67h1v1h-1zM10 67h1v1h-1zM19 67h1v1h-1zM25 67h4v1h-4zM39 67h1v1h-1zM44 67h2v1h-2zM64 67h2v1h-2zM89 67h1v1h-1zM100 67h1v1h-1zM138 67h1v1h-1zM5 68h1v1h-1zM35 68h2v1h-2zM75 68h1v1h-1zM157 68h1v1h-1zM30 69h3v1h-3zM71 69h1v1h-1zM80 69h1v1h-1zM137 69h1v1h-1zM140 69h1v1h-1zM184 69h1v1h-1zM13 70h1v1h-1zM15 70h1v1h-1zM34 70h1v1h-1zM41 70h1v1h-1zM44 70h1v1h-1zM47 70h1v1h-1zM50 70h1v1h-1zM53 70h1v1h-1zM84 70h1v1h-1zM93 70h2v1h-2zM109 70h1v1h-1zM112 70h1v1h-1zM129 70h1v1h-1zM155 70h1v1h-1zM11 71h1v1h-1zM34 71h3v1h-3zM47 71h2v1h-2zM84 71h1v1h-1zM86 71h1v1h-1zM93 71h2v1h-2zM103 71h2v1h-2zM131 71h1v1h-1zM197 71h2v1h-2zM4 72h2v1h-2zM18 72h2v1h-2zM37 72h2v1h-2zM49 72h3v1h-3zM64 72h1v1h-1zM70 72h1v1h-1zM100 72h1v1h-1zM115 72h1v1h-1zM10 73h2v1h-2zM15 73h1v1h-1zM20 73h1v1h-1zM44 73h1v1h-1zM47 73h1v1h-1zM52 73h2v1h-2zM63 73h2v1h-2zM70 73h2v1h-2zM91 73h1v1h-1zM104 73h1v1h-1zM112 73h1v1h-1zM117 73h1v1h-1zM161 73h1v1h-1zM170 73h2v1h-2zM179 73h1v1h-1zM2 74h1v1h-1zM6 74h1v1h-1zM16 74h1v1h-1zM28 74h1v1h-1zM69 74h1v1h-1zM72 74h2v1h-2zM78 74h1v1h-1zM87 74h2v1h-2zM97 74h1v1h-1zM104 74h2v1h-2zM113 74h2v1h-2zM152 74h1v1h-1zM169 74h2v1h-2zM12 75h2v1h-2zM17 75h2v1h-2zM23 75h1v1h-1zM32 75h1v1h-1zM46 75h1v1h-1zM58 75h1v1h-1zM85 75h1v1h-1zM108 75h2v1h-2zM136 75h1v1h-1zM154 75h1v1h-1zM156 75h2v1h-2zM11 76h1v1h-1zM34 76h1v1h-1zM83 76h1v1h-1zM86 76h3v1h-3zM96 76h1v1h-1zM104 76h2v1h-2zM111 76h1v1h-1zM113 76h1v1h-1zM121 76h2v1h-2zM126 76h1v1h-1zM21 77h1v1h-1zM32 77h1v1h-1zM45 77h2v1h-2zM68 77h2v1h-2zM71 77h2v1h-2zM85 77h1v1h-1zM102 77h2v1h-2zM106 77h3v1h-3zM116 77h1v1h-1zM143 77h2v1h-2zM6 78h1v1h-1zM18 78h3v1h-3zM79 78h2v1h-2zM94 78h1v1h-1zM104 78h1v1h-1zM118 78h1v1h-1zM129 78h1v1h-1zM136 78h1v1h-1z"/><path fill="#9078fc" d="M139 0h1v1h-1zM165 1h1v1h-1zM172 2h1v1h-1zM47 5h1v1h-1zM56 10h1v1h-1zM178 11h1v1h-1zM96 14h1v1h-1zM29 17h2v1h-2zM11 20h1v1h-1zM39 21h1v1h-1zM181 22h1v1h-1zM194 23h1v1h-1zM27 24h1v1h-1zM48 24h1v1h-1zM86 24h1v1h-1zM178 27h1v1h-1zM68 28h1v1h-1zM174 28h1v1h-1zM4 31h1v1h-1zM11 31h1v1h-1zM104 31h1v1h-1zM132 31h1v1h-1zM64 32h1v1h-1zM110 32h1v1h-1zM167 34h1v1h-1zM191 34h1v1h-1zM158 36h1v1h-1zM53 37h1v1h-1zM55 37h1v1h-1zM96 37h1v1h-1zM191 37h1v1h-1zM135 38h1v1h-1zM86 41h1v1h-1zM196 44h1v1h-1zM145 47h1v1h-1zM49 48h1v1h-1zM163 56h1v1h-1zM118 58h1v1h-1zM189 59h1v1h-1zM176 63h1v1h-1zM141 65h1v1h-1zM162 66h1v1h-1zM146 67h1v1h-1zM103 68h1v1h-1zM194 68h1v1h-1zM29 69h1v1h-1zM189 69h1v1h-1zM194 69h1v1h-1zM10 72h1v1h-1zM139 72h1v1h-1zM164 72h1v1h-1zM169 72h1v1h-1zM194 74h1v1h-1zM158 77h1v1h-1zM173 78h1v1h-1z"/><path fill="#f0b4cc" d="M144 0h1v1h-1zM178 0h1v1h-1zM185 0h1v1h-1zM142 2h1v1h-1zM164 2h3v1h-3zM143 4h1v1h-1zM178 4h1v1h-1zM184 4h1v1h-1zM184 5h1v1h-1zM187 5h1v1h-1zM189 6h1v1h-1zM199 6h1v1h-1zM138 7h1v1h-1zM140 8h1v1h-1zM152 8h1v1h-1zM178 8h1v1h-1zM195 8h1v1h-1zM157 9h1v1h-1zM187 9h4v1h-4zM194 9h1v1h-1zM134 10h1v1h-1zM136 10h1v1h-1zM187 10h1v1h-1zM190 10h1v1h-1zM192 12h4v1h-4zM165 13h1v1h-1zM191 14h1v1h-1zM186 15h1v1h-1zM193 15h1v1h-1zM169 16h2v1h-2zM177 16h3v1h-3zM144 17h1v1h-1zM151 17h1v1h-1zM161 17h1v1h-1zM198 17h1v1h-1zM161 18h1v1h-1zM174 18h3v1h-3zM144 19h1v1h-1zM146 19h2v1h-2zM191 19h1v1h-1zM179 20h1v1h-1zM164 21h1v1h-1zM173 21h3v1h-3zM148 22h1v1h-1zM166 22h1v1h-1zM191 22h2v1h-2zM135 23h1v1h-1zM170 23h2v1h-2zM198 23h1v1h-1zM133 24h1v1h-1zM135 24h1v1h-1zM162 24h3v1h-3zM194 24h1v1h-1zM164 25h1v1h-1zM177 25h1v1h-1zM186 25h1v1h-1zM153 26h2v1h-2zM159 26h1v1h-1zM175 26h2v1h-2zM193 26h1v1h-1zM151 27h1v1h-1zM165 27h1v1h-1zM193 27h1v1h-1zM149 29h2v1h-2zM178 29h2v1h-2zM184 29h1v1h-1zM186 29h1v1h-1zM188 29h1v1h-1zM138 30h1v1h-1zM170 30h1v1h-1zM149 31h2v1h-2zM166 31h1v1h-1zM173 31h2v1h-2zM187 31h1v1h-1zM189 31h1v1h-1zM161 32h1v1h-1zM171 32h1v1h-1zM179 32h1v1h-1zM188 32h1v1h-1zM190 32h2v1h-2zM144 33h1v1h-1zM160 33h2v1h-2zM187 33h1v1h-1zM189 34h1v1h-1zM144 35h4v1h-4zM151 36h2v1h-2zM155 36h1v1h-1zM183 36h1v1h-1zM166 37h2v1h-2zM177 37h1v1h-1zM136 38h1v1h-1zM144 39h3v1h-3zM138 40h1v1h-1zM162 40h2v1h-2zM192 40h1v1h-1zM147 41h1v1h-1zM161 41h1v1h-1zM188 41h2v1h-2zM199 41h1v1h-1zM147 42h1v1h-1zM182 43h3v1h-3zM137 44h1v1h-1zM140 44h1v1h-1zM138 45h1v1h-1zM177 45h1v1h-1zM185 45h1v1h-1zM151 46h1v1h-1zM165 46h2v1h-2zM177 46h1v1h-1zM143 48h1v1h-1zM180 48h2v1h-2zM185 48h1v1h-1zM136 49h1v1h-1zM179 49h2v1h-2zM192 50h2v1h-2zM171 51h1v1h-1zM110 52h1v1h-1zM161 52h1v1h-1zM175 52h1v1h-1zM90 53h1v1h-1zM148 53h1v1h-1zM163 53h1v1h-1zM181 53h1v1h-1zM194 54h1v1h-1zM163 55h1v1h-1zM194 55h1v1h-1zM196 55h1v1h-1zM192 56h2v1h-2zM168 57h1v1h-1zM187 57h1v1h-1zM189 57h2v1h-2zM196 57h2v1h-2zM77 58h1v1h-1zM119 58h2v1h-2zM125 58h1v1h-1zM150 58h1v1h-1zM4 59h2v1h-2zM78 59h2v1h-2zM112 59h1v1h-1zM139 59h3v1h-3zM161 59h1v1h-1zM158 60h1v1h-1zM161 60h1v1h-1zM165 60h2v1h-2zM18 61h1v1h-1zM37 61h1v1h-1zM96 61h1v1h-1zM129 61h1v1h-1zM149 61h3v1h-3zM157 61h2v1h-2zM185 61h1v1h-1zM8 62h1v1h-1zM54 62h1v1h-1zM66 62h1v1h-1zM76 62h1v1h-1zM106 62h1v1h-1zM118 62h1v1h-1zM129 62h2v1h-2zM145 62h2v1h-2zM19 63h2v1h-2zM78 63h1v1h-1zM97 63h1v1h-1zM148 63h1v1h-1zM160 63h1v1h-1zM35 64h2v1h-2zM41 64h1v1h-1zM53 64h1v1h-1zM77 64h1v1h-1zM120 64h2v1h-2zM52 65h1v1h-1zM94 65h1v1h-1zM12 66h1v1h-1zM41 66h2v1h-2zM57 66h1v1h-1zM66 66h1v1h-1zM69 66h1v1h-1zM122 66h1v1h-1zM40 67h1v1h-1zM71 67h1v1h-1zM79 67h1v1h-1zM86 67h1v1h-1zM121 67h2v1h-2zM125 67h2v1h-2zM10 68h2v1h-2zM89 68h1v1h-1zM95 68h1v1h-1zM112 68h1v1h-1zM58 69h1v1h-1zM68 69h1v1h-1zM72 69h1v1h-1zM104 69h1v1h-1zM112 69h1v1h-1zM129 69h2v1h-2zM145 69h1v1h-1zM21 70h2v1h-2zM27 70h2v1h-2zM51 70h1v1h-1zM121 70h1v1h-1zM123 70h3v1h-3zM19 71h1v1h-1zM43 71h1v1h-1zM98 71h1v1h-1zM26 72h1v1h-1zM45 72h2v1h-2zM48 72h1v1h-1zM76 72h1v1h-1zM86 72h1v1h-1zM96 72h1v1h-1zM107 72h1v1h-1zM46 73h1v1h-1zM76 73h1v1h-1zM84 73h1v1h-1zM87 73h1v1h-1zM97 73h1v1h-1zM123 73h1v1h-1zM50 74h1v1h-1zM62 74h1v1h-1zM177 74h1v1h-1zM22 75h1v1h-1zM37 75h1v1h-1zM39 75h1v1h-1zM117 75h1v1h-1zM132 75h1v1h-1zM3 76h1v1h-1zM24 76h1v1h-1zM85 76h1v1h-1zM99 76h1v1h-1zM120 76h1v1h-1zM124 76h1v1h-1zM11 77h1v1h-1zM86 77h2v1h-2zM89 77h1v1h-1zM121 77h4v1h-4zM45 78h1v1h-1zM53 78h1v1h-1zM58 78h1v1h-1zM85 78h1v1h-1zM101 78h1v1h-1z"/><path fill="#f0c0d8" d="M145 0h1v1h-1zM183 1h1v1h-1zM141 2h1v1h-1zM146 2h1v1h-1zM157 2h4v1h-4zM180 2h1v1h-1zM193 2h1v1h-1zM143 3h2v1h-2zM149 3h1v1h-1zM190 3h1v1h-1zM139 5h2v1h-2zM188 5h1v1h-1zM151 6h1v1h-1zM188 6h1v1h-1zM198 6h1v1h-1zM133 7h1v1h-1zM139 8h1v1h-1zM156 8h2v1h-2zM177 8h1v1h-1zM136 9h7v1h-7zM154 9h1v1h-1zM168 9h2v1h-2zM135 10h1v1h-1zM175 10h1v1h-1zM188 10h1v1h-1zM168 11h1v1h-1zM172 12h1v1h-1zM174 12h1v1h-1zM196 12h1v1h-1zM162 13h2v1h-2zM136 14h1v1h-1zM180 14h1v1h-1zM196 14h1v1h-1zM199 14h1v1h-1zM158 15h1v1h-1zM194 15h1v1h-1zM173 16h1v1h-1zM175 16h2v1h-2zM153 17h2v1h-2zM163 17h3v1h-3zM168 17h1v1h-1zM149 18h1v1h-1zM152 18h1v1h-1zM133 19h1v1h-1zM199 19h1v1h-1zM173 20h1v1h-1zM145 21h1v1h-1zM162 21h2v1h-2zM170 21h1v1h-1zM189 21h1v1h-1zM191 21h1v1h-1zM138 22h1v1h-1zM174 23h1v1h-1zM151 24h2v1h-2zM186 24h2v1h-2zM135 25h1v1h-1zM138 25h1v1h-1zM165 25h1v1h-1zM190 26h1v1h-1zM164 27h1v1h-1zM176 27h1v1h-1zM189 27h1v1h-1zM191 27h2v1h-2zM147 28h1v1h-1zM152 28h2v1h-2zM157 28h2v1h-2zM192 28h1v1h-1zM194 28h1v1h-1zM133 29h3v1h-3zM168 30h1v1h-1zM174 30h1v1h-1zM136 31h1v1h-1zM148 31h1v1h-1zM167 32h1v1h-1zM189 32h1v1h-1zM147 33h4v1h-4zM153 33h1v1h-1zM189 33h2v1h-2zM152 34h1v1h-1zM162 34h1v1h-1zM157 35h2v1h-2zM171 35h1v1h-1zM177 35h1v1h-1zM135 36h1v1h-1zM165 37h1v1h-1zM170 37h2v1h-2zM178 37h1v1h-1zM166 38h4v1h-4zM171 38h1v1h-1zM180 38h2v1h-2zM140 39h1v1h-1zM148 39h1v1h-1zM185 39h1v1h-1zM187 39h1v1h-1zM199 39h1v1h-1zM161 40h1v1h-1zM199 40h1v1h-1zM133 41h1v1h-1zM135 41h2v1h-2zM148 41h3v1h-3zM159 41h2v1h-2zM148 42h2v1h-2zM134 43h3v1h-3zM139 43h1v1h-1zM142 43h1v1h-1zM141 44h1v1h-1zM159 45h2v1h-2zM171 45h1v1h-1zM183 45h1v1h-1zM131 46h1v1h-1zM144 46h1v1h-1zM146 46h2v1h-2zM143 47h2v1h-2zM176 47h1v1h-1zM112 48h1v1h-1zM41 49h1v1h-1zM137 49h2v1h-2zM187 49h2v1h-2zM196 49h2v1h-2zM23 50h1v1h-1zM176 50h1v1h-1zM181 50h1v1h-1zM146 51h1v1h-1zM3 52h1v1h-1zM14 52h1v1h-1zM20 52h1v1h-1zM160 52h1v1h-1zM170 52h4v1h-4zM197 52h1v1h-1zM89 53h1v1h-1zM97 53h1v1h-1zM135 53h1v1h-1zM138 53h2v1h-2zM164 53h1v1h-1zM167 53h1v1h-1zM169 53h1v1h-1zM53 54h1v1h-1zM73 54h2v1h-2zM80 54h1v1h-1zM149 54h2v1h-2zM59 55h1v1h-1zM72 55h1v1h-1zM111 55h1v1h-1zM192 55h2v1h-2zM195 55h1v1h-1zM63 56h1v1h-1zM126 56h1v1h-1zM23 57h1v1h-1zM25 57h1v1h-1zM37 57h1v1h-1zM54 57h3v1h-3zM73 57h1v1h-1zM98 57h1v1h-1zM117 57h1v1h-1zM136 57h1v1h-1zM186 57h1v1h-1zM117 58h1v1h-1zM149 58h1v1h-1zM172 58h2v1h-2zM28 59h1v1h-1zM44 59h1v1h-1zM170 59h2v1h-2zM174 59h3v1h-3zM184 59h1v1h-1zM190 59h1v1h-1zM29 60h2v1h-2zM75 60h1v1h-1zM82 60h1v1h-1zM147 60h1v1h-1zM160 60h1v1h-1zM181 60h1v1h-1zM184 60h1v1h-1zM4 61h1v1h-1zM36 61h1v1h-1zM51 61h1v1h-1zM70 61h1v1h-1zM95 61h1v1h-1zM118 61h2v1h-2zM123 61h2v1h-2zM133 61h1v1h-1zM143 61h1v1h-1zM147 61h2v1h-2zM172 61h1v1h-1zM175 61h1v1h-1zM182 61h1v1h-1zM194 61h2v1h-2zM34 62h1v1h-1zM48 62h2v1h-2zM82 62h1v1h-1zM126 62h1v1h-1zM10 63h1v1h-1zM17 63h2v1h-2zM33 63h1v1h-1zM35 63h1v1h-1zM37 63h1v1h-1zM49 63h1v1h-1zM112 63h1v1h-1zM123 63h3v1h-3zM179 63h1v1h-1zM186 63h1v1h-1zM38 64h1v1h-1zM76 64h1v1h-1zM99 64h1v1h-1zM124 64h1v1h-1zM14 65h1v1h-1zM33 65h1v1h-1zM43 65h3v1h-3zM67 65h1v1h-1zM85 65h1v1h-1zM101 65h1v1h-1zM179 65h1v1h-1zM15 66h1v1h-1zM50 66h2v1h-2zM72 66h2v1h-2zM120 66h2v1h-2zM58 67h2v1h-2zM70 67h1v1h-1zM80 67h2v1h-2zM22 68h1v1h-1zM42 68h2v1h-2zM84 68h1v1h-1zM92 68h1v1h-1zM132 68h1v1h-1zM2 69h1v1h-1zM9 69h1v1h-1zM35 69h1v1h-1zM43 69h1v1h-1zM55 69h2v1h-2zM59 69h1v1h-1zM78 69h2v1h-2zM82 69h1v1h-1zM86 69h2v1h-2zM101 69h1v1h-1zM110 69h1v1h-1zM132 69h1v1h-1zM19 70h1v1h-1zM29 70h3v1h-3zM86 70h3v1h-3zM113 70h1v1h-1zM119 70h2v1h-2zM0 71h1v1h-1zM20 71h1v1h-1zM39 71h3v1h-3zM63 71h1v1h-1zM65 71h3v1h-3zM108 71h2v1h-2zM132 71h1v1h-1zM60 72h1v1h-1zM69 72h1v1h-1zM83 72h2v1h-2zM122 72h2v1h-2zM131 72h1v1h-1zM36 73h1v1h-1zM77 73h1v1h-1zM101 73h2v1h-2zM17 74h1v1h-1zM19 74h1v1h-1zM85 74h1v1h-1zM127 74h1v1h-1zM5 75h1v1h-1zM7 75h1v1h-1zM21 75h1v1h-1zM26 75h1v1h-1zM61 75h1v1h-1zM66 75h2v1h-2zM71 75h1v1h-1zM115 75h2v1h-2zM125 75h2v1h-2zM30 76h1v1h-1zM46 76h2v1h-2zM77 76h1v1h-1zM171 76h3v1h-3zM22 77h1v1h-1zM43 77h1v1h-1zM93 77h2v1h-2zM125 77h1v1h-1zM35 78h1v1h-1zM84 78h1v1h-1z"/><path fill="#c090fc" d="M158 0h1v1h-1zM160 0h1v1h-1zM187 0h2v1h-2zM196 0h1v1h-1zM134 1h1v1h-1zM159 1h1v1h-1zM176 1h1v1h-1zM0 2h2v1h-2zM3 2h4v1h-4zM8 2h1v1h-1zM11 2h2v1h-2zM15 2h2v1h-2zM21 2h1v1h-1zM23 2h3v1h-3zM27 2h1v1h-1zM29 2h1v1h-1zM34 2h1v1h-1zM36 2h1v1h-1zM38 2h2v1h-2zM41 2h2v1h-2zM44 2h4v1h-4zM49 2h4v1h-4zM55 2h3v1h-3zM59 2h3v1h-3zM64 2h1v1h-1zM69 2h1v1h-1zM72 2h3v1h-3zM76 2h1v1h-1zM78 2h2v1h-2zM81 2h3v1h-3zM86 2h2v1h-2zM89 2h1v1h-1zM91 2h1v1h-1zM96 2h5v1h-5zM103 2h1v1h-1zM106 2h3v1h-3zM110 2h1v1h-1zM112 2h1v1h-1zM116 2h2v1h-2zM120 2h1v1h-1zM122 2h1v1h-1zM125 2h2v1h-2zM130 2h1v1h-1zM132 2h1v1h-1zM182 2h2v1h-2zM160 3h1v1h-1zM180 3h1v1h-1zM10 4h1v1h-1zM60 4h1v1h-1zM68 4h1v1h-1zM74 4h1v1h-1zM81 4h1v1h-1zM98 4h1v1h-1zM107 4h1v1h-1zM138 4h1v1h-1zM193 4h2v1h-2zM32 5h1v1h-1zM34 5h1v1h-1zM87 5h1v1h-1zM95 5h1v1h-1zM118 5h1v1h-1zM122 5h1v1h-1zM133 5h1v1h-1zM154 5h1v1h-1zM41 6h1v1h-1zM47 6h1v1h-1zM51 6h1v1h-1zM54 6h1v1h-1zM76 6h1v1h-1zM81 6h1v1h-1zM91 6h1v1h-1zM93 6h1v1h-1zM95 6h1v1h-1zM101 6h1v1h-1zM125 6h1v1h-1zM154 6h1v1h-1zM24 7h1v1h-1zM26 7h1v1h-1zM120 7h1v1h-1zM141 7h1v1h-1zM149 7h1v1h-1zM152 7h1v1h-1zM186 7h1v1h-1zM191 7h1v1h-1zM193 7h3v1h-3zM148 8h1v1h-1zM165 8h1v1h-1zM197 8h1v1h-1zM0 9h1v1h-1zM7 9h1v1h-1zM10 9h1v1h-1zM18 9h1v1h-1zM23 9h1v1h-1zM27 9h2v1h-2zM34 9h2v1h-2zM46 9h1v1h-1zM48 9h2v1h-2zM66 9h1v1h-1zM69 9h1v1h-1zM78 9h1v1h-1zM84 9h1v1h-1zM88 9h1v1h-1zM94 9h1v1h-1zM102 9h1v1h-1zM108 9h1v1h-1zM110 9h1v1h-1zM117 9h2v1h-2zM121 9h1v1h-1zM129 9h2v1h-2zM132 9h1v1h-1zM143 9h3v1h-3zM5 10h1v1h-1zM14 10h1v1h-1zM44 10h1v1h-1zM52 10h1v1h-1zM57 10h1v1h-1zM73 10h1v1h-1zM84 10h1v1h-1zM87 10h1v1h-1zM110 10h1v1h-1zM121 10h1v1h-1zM123 10h1v1h-1zM138 10h1v1h-1zM140 10h1v1h-1zM154 10h1v1h-1zM156 10h1v1h-1zM179 10h1v1h-1zM182 10h2v1h-2zM199 10h1v1h-1zM0 11h1v1h-1zM8 11h1v1h-1zM10 11h1v1h-1zM13 11h1v1h-1zM17 11h1v1h-1zM20 11h1v1h-1zM25 11h2v1h-2zM29 11h1v1h-1zM33 11h3v1h-3zM41 11h1v1h-1zM44 11h1v1h-1zM47 11h1v1h-1zM54 11h1v1h-1zM56 11h5v1h-5zM67 11h1v1h-1zM70 11h1v1h-1zM74 11h1v1h-1zM81 11h2v1h-2zM86 11h1v1h-1zM90 11h3v1h-3zM96 11h1v1h-1zM99 11h2v1h-2zM103 11h4v1h-4zM108 11h1v1h-1zM113 11h2v1h-2zM117 11h2v1h-2zM122 11h1v1h-1zM125 11h2v1h-2zM130 11h2v1h-2zM151 11h1v1h-1zM155 11h1v1h-1zM173 11h1v1h-1zM192 11h1v1h-1zM199 11h1v1h-1zM18 12h1v1h-1zM26 12h1v1h-1zM40 12h1v1h-1zM46 12h1v1h-1zM60 12h1v1h-1zM62 12h1v1h-1zM71 12h2v1h-2zM74 12h1v1h-1zM79 12h1v1h-1zM82 12h2v1h-2zM95 12h1v1h-1zM106 12h1v1h-1zM110 12h1v1h-1zM119 12h1v1h-1zM122 12h1v1h-1zM140 12h1v1h-1zM143 12h1v1h-1zM178 12h1v1h-1zM0 13h1v1h-1zM5 13h1v1h-1zM10 13h1v1h-1zM47 13h1v1h-1zM62 13h1v1h-1zM64 13h1v1h-1zM75 13h1v1h-1zM125 13h1v1h-1zM128 13h2v1h-2zM149 13h3v1h-3zM175 13h1v1h-1zM44 14h1v1h-1zM57 14h1v1h-1zM131 14h1v1h-1zM168 14h2v1h-2zM171 14h1v1h-1zM8 15h1v1h-1zM13 15h1v1h-1zM29 15h1v1h-1zM36 15h2v1h-2zM39 15h1v1h-1zM43 15h1v1h-1zM45 15h1v1h-1zM47 15h3v1h-3zM51 15h1v1h-1zM55 15h1v1h-1zM60 15h1v1h-1zM62 15h1v1h-1zM68 15h1v1h-1zM73 15h1v1h-1zM76 15h1v1h-1zM89 15h1v1h-1zM93 15h1v1h-1zM105 15h1v1h-1zM114 15h1v1h-1zM116 15h1v1h-1zM125 15h2v1h-2zM131 15h1v1h-1zM160 15h1v1h-1zM172 15h1v1h-1zM176 15h1v1h-1zM41 16h1v1h-1zM59 16h1v1h-1zM80 16h1v1h-1zM136 16h1v1h-1zM158 16h1v1h-1zM164 16h1v1h-1zM4 17h4v1h-4zM12 17h1v1h-1zM14 17h1v1h-1zM20 17h1v1h-1zM27 17h1v1h-1zM34 17h1v1h-1zM38 17h1v1h-1zM46 17h1v1h-1zM60 17h1v1h-1zM63 17h2v1h-2zM66 17h2v1h-2zM68 17h3v1h-3zM82 17h3v1h-3zM86 17h1v1h-1zM89 17h1v1h-1zM94 17h1v1h-1zM97 17h1v1h-1zM102 17h2v1h-2zM109 17h3v1h-3zM116 17h1v1h-1zM122 17h4v1h-4zM127 17h1v1h-1zM130 17h1v1h-1zM137 17h1v1h-1zM142 17h1v1h-1zM147 17h2v1h-2zM177 17h1v1h-1zM179 17h1v1h-1zM182 17h1v1h-1zM188 17h1v1h-1zM156 18h2v1h-2zM0 19h1v1h-1zM7 19h1v1h-1zM9 19h2v1h-2zM12 19h1v1h-1zM15 19h1v1h-1zM18 19h1v1h-1zM20 19h1v1h-1zM23 19h2v1h-2zM29 19h1v1h-1zM31 19h1v1h-1zM35 19h2v1h-2zM39 19h1v1h-1zM43 19h1v1h-1zM48 19h1v1h-1zM57 19h1v1h-1zM61 19h1v1h-1zM68 19h1v1h-1zM72 19h1v1h-1zM74 19h1v1h-1zM76 19h1v1h-1zM83 19h1v1h-1zM85 19h3v1h-3zM92 19h1v1h-1zM100 19h1v1h-1zM105 19h1v1h-1zM110 19h2v1h-2zM116 19h1v1h-1zM123 19h1v1h-1zM137 20h1v1h-1zM148 20h1v1h-1zM158 20h1v1h-1zM188 20h1v1h-1zM133 21h1v1h-1zM136 21h1v1h-1zM156 21h1v1h-1zM158 21h1v1h-1zM171 21h1v1h-1zM184 21h1v1h-1zM55 22h1v1h-1zM91 22h1v1h-1zM134 22h1v1h-1zM160 22h1v1h-1zM170 22h1v1h-1zM175 22h1v1h-1zM1 23h1v1h-1zM4 23h1v1h-1zM111 23h1v1h-1zM114 23h1v1h-1zM138 23h1v1h-1zM158 23h1v1h-1zM162 23h1v1h-1zM164 23h1v1h-1zM166 23h1v1h-1zM182 23h1v1h-1zM19 24h1v1h-1zM33 24h1v1h-1zM40 24h2v1h-2zM61 24h1v1h-1zM68 24h1v1h-1zM94 24h1v1h-1zM108 24h1v1h-1zM155 24h1v1h-1zM158 24h1v1h-1zM0 25h1v1h-1zM2 25h1v1h-1zM4 25h1v1h-1zM6 25h1v1h-1zM8 25h1v1h-1zM11 25h1v1h-1zM17 25h1v1h-1zM19 25h2v1h-2zM22 25h1v1h-1zM25 25h1v1h-1zM29 25h1v1h-1zM31 25h3v1h-3zM35 25h1v1h-1zM38 25h1v1h-1zM44 25h3v1h-3zM48 25h1v1h-1zM52 25h2v1h-2zM55 25h1v1h-1zM57 25h1v1h-1zM60 25h3v1h-3zM66 25h2v1h-2zM70 25h2v1h-2zM76 25h1v1h-1zM81 25h1v1h-1zM83 25h2v1h-2zM86 25h1v1h-1zM89 25h1v1h-1zM91 25h3v1h-3zM98 25h1v1h-1zM101 25h1v1h-1zM106 25h1v1h-1zM110 25h1v1h-1zM113 25h5v1h-5zM120 25h1v1h-1zM123 25h1v1h-1zM125 25h1v1h-1zM131 25h1v1h-1zM146 25h1v1h-1zM148 25h1v1h-1zM154 25h1v1h-1zM168 25h1v1h-1zM3 26h1v1h-1zM6 26h1v1h-1zM39 26h1v1h-1zM50 26h1v1h-1zM64 26h1v1h-1zM76 26h1v1h-1zM86 26h1v1h-1zM92 26h1v1h-1zM96 26h2v1h-2zM99 26h1v1h-1zM104 26h1v1h-1zM110 26h1v1h-1zM119 26h1v1h-1zM131 26h1v1h-1zM134 26h3v1h-3zM151 26h2v1h-2zM185 26h1v1h-1zM195 26h1v1h-1zM156 27h1v1h-1zM184 27h1v1h-1zM163 28h2v1h-2zM167 28h1v1h-1zM1 29h1v1h-1zM3 29h2v1h-2zM9 29h1v1h-1zM11 29h1v1h-1zM13 29h1v1h-1zM17 29h1v1h-1zM20 29h8v1h-8zM31 29h2v1h-2zM34 29h4v1h-4zM41 29h3v1h-3zM45 29h1v1h-1zM47 29h1v1h-1zM49 29h1v1h-1zM53 29h1v1h-1zM55 29h1v1h-1zM59 29h4v1h-4zM65 29h2v1h-2zM71 29h1v1h-1zM75 29h3v1h-3zM79 29h1v1h-1zM81 29h1v1h-1zM83 29h3v1h-3zM87 29h2v1h-2zM90 29h2v1h-2zM95 29h4v1h-4zM100 29h3v1h-3zM109 29h1v1h-1zM111 29h1v1h-1zM113 29h2v1h-2zM116 29h1v1h-1zM121 29h1v1h-1zM124 29h2v1h-2zM130 29h1v1h-1zM180 29h1v1h-1zM3 30h2v1h-2zM7 30h2v1h-2zM12 30h1v1h-1zM14 30h1v1h-1zM16 30h3v1h-3zM21 30h1v1h-1zM23 30h2v1h-2zM29 30h2v1h-2zM33 30h1v1h-1zM35 30h2v1h-2zM42 30h1v1h-1zM48 30h3v1h-3zM53 30h2v1h-2zM56 30h2v1h-2zM59 30h2v1h-2zM62 30h2v1h-2zM66 30h1v1h-1zM71 30h2v1h-2zM74 30h1v1h-1zM83 30h3v1h-3zM87 30h5v1h-5zM100 30h3v1h-3zM104 30h1v1h-1zM108 30h3v1h-3zM112 30h1v1h-1zM116 30h1v1h-1zM118 30h2v1h-2zM121 30h1v1h-1zM130 30h3v1h-3zM144 30h1v1h-1zM146 30h1v1h-1zM149 30h1v1h-1zM152 30h1v1h-1zM165 30h1v1h-1zM167 30h1v1h-1zM194 30h1v1h-1zM150 32h1v1h-1zM157 32h1v1h-1zM24 33h1v1h-1zM27 33h1v1h-1zM38 33h1v1h-1zM42 33h1v1h-1zM45 33h1v1h-1zM77 33h1v1h-1zM83 33h2v1h-2zM103 33h1v1h-1zM112 33h3v1h-3zM118 33h3v1h-3zM132 33h1v1h-1zM196 33h1v1h-1zM137 34h1v1h-1zM151 34h1v1h-1zM198 34h2v1h-2zM0 35h1v1h-1zM4 35h1v1h-1zM6 35h1v1h-1zM11 35h1v1h-1zM13 35h1v1h-1zM16 35h3v1h-3zM26 35h1v1h-1zM28 35h1v1h-1zM64 35h1v1h-1zM66 35h2v1h-2zM69 35h1v1h-1zM71 35h1v1h-1zM74 35h1v1h-1zM90 35h1v1h-1zM92 35h1v1h-1zM96 35h2v1h-2zM101 35h1v1h-1zM116 35h1v1h-1zM126 35h1v1h-1zM135 35h1v1h-1zM138 35h1v1h-1zM141 35h2v1h-2zM51 36h1v1h-1zM61 36h1v1h-1zM86 36h1v1h-1zM170 36h1v1h-1zM184 36h3v1h-3zM196 36h1v1h-1zM141 37h3v1h-3zM147 37h1v1h-1zM159 37h1v1h-1zM4 38h2v1h-2zM7 38h1v1h-1zM9 38h1v1h-1zM13 38h1v1h-1zM20 38h1v1h-1zM29 38h1v1h-1zM34 38h2v1h-2zM56 38h1v1h-1zM66 38h1v1h-1zM69 38h1v1h-1zM77 38h1v1h-1zM126 38h1v1h-1zM128 38h1v1h-1zM130 38h2v1h-2zM149 38h1v1h-1zM154 38h1v1h-1zM193 38h1v1h-1zM197 38h1v1h-1zM199 38h1v1h-1zM30 39h1v1h-1zM52 39h1v1h-1zM89 39h1v1h-1zM100 39h1v1h-1zM111 39h1v1h-1zM154 39h1v1h-1zM168 39h1v1h-1zM2 40h1v1h-1zM4 40h5v1h-5zM13 40h1v1h-1zM20 40h1v1h-1zM22 40h2v1h-2zM26 40h1v1h-1zM28 40h1v1h-1zM31 40h1v1h-1zM33 40h1v1h-1zM35 40h1v1h-1zM41 40h1v1h-1zM43 40h1v1h-1zM47 40h1v1h-1zM49 40h2v1h-2zM53 40h1v1h-1zM60 40h2v1h-2zM64 40h1v1h-1zM66 40h1v1h-1zM71 40h4v1h-4zM76 40h1v1h-1zM91 40h1v1h-1zM95 40h2v1h-2zM99 40h1v1h-1zM101 40h1v1h-1zM111 40h1v1h-1zM115 40h1v1h-1zM118 40h1v1h-1zM120 40h1v1h-1zM122 40h4v1h-4zM129 40h2v1h-2zM132 40h1v1h-1zM139 40h1v1h-1zM156 40h1v1h-1zM158 40h1v1h-1zM167 40h1v1h-1zM176 40h1v1h-1zM12 41h1v1h-1zM34 41h1v1h-1zM36 41h1v1h-1zM46 41h1v1h-1zM88 41h1v1h-1zM125 41h1v1h-1zM176 41h1v1h-1zM193 41h1v1h-1zM196 41h1v1h-1zM0 42h2v1h-2zM3 42h1v1h-1zM9 42h1v1h-1zM12 42h1v1h-1zM23 42h1v1h-1zM26 42h1v1h-1zM34 42h2v1h-2zM44 42h1v1h-1zM48 42h2v1h-2zM54 42h1v1h-1zM56 42h1v1h-1zM60 42h1v1h-1zM62 42h1v1h-1zM76 42h1v1h-1zM79 42h2v1h-2zM85 42h1v1h-1zM88 42h2v1h-2zM101 42h1v1h-1zM108 42h1v1h-1zM115 42h1v1h-1zM125 42h1v1h-1zM161 42h1v1h-1zM7 43h1v1h-1zM36 43h1v1h-1zM62 43h1v1h-1zM80 43h1v1h-1zM88 43h1v1h-1zM96 43h1v1h-1zM102 43h1v1h-1zM193 43h1v1h-1zM196 43h1v1h-1zM0 44h1v1h-1zM2 44h2v1h-2zM7 44h4v1h-4zM13 44h1v1h-1zM19 44h2v1h-2zM23 44h1v1h-1zM25 44h1v1h-1zM31 44h2v1h-2zM34 44h2v1h-2zM44 44h1v1h-1zM46 44h2v1h-2zM49 44h2v1h-2zM61 44h1v1h-1zM64 44h1v1h-1zM70 44h2v1h-2zM76 44h1v1h-1zM85 44h1v1h-1zM90 44h1v1h-1zM94 44h1v1h-1zM96 44h1v1h-1zM98 44h1v1h-1zM105 44h1v1h-1zM109 44h2v1h-2zM112 44h3v1h-3zM116 44h1v1h-1zM119 44h1v1h-1zM121 44h1v1h-1zM129 44h1v1h-1zM131 44h1v1h-1zM148 44h1v1h-1zM151 44h1v1h-1zM177 44h1v1h-1zM186 44h1v1h-1zM11 45h1v1h-1zM45 45h1v1h-1zM62 45h1v1h-1zM75 45h1v1h-1zM83 45h1v1h-1zM88 45h1v1h-1zM96 45h1v1h-1zM99 45h1v1h-1zM116 45h1v1h-1zM125 45h1v1h-1zM135 45h1v1h-1zM139 45h1v1h-1zM143 45h1v1h-1zM164 45h1v1h-1zM166 45h1v1h-1zM180 45h1v1h-1zM1 46h2v1h-2zM6 46h1v1h-1zM16 46h2v1h-2zM41 46h1v1h-1zM44 46h1v1h-1zM46 46h1v1h-1zM48 46h1v1h-1zM51 46h2v1h-2zM59 46h1v1h-1zM62 46h1v1h-1zM75 46h1v1h-1zM78 46h4v1h-4zM89 46h1v1h-1zM91 46h4v1h-4zM97 46h1v1h-1zM100 46h1v1h-1zM104 46h1v1h-1zM112 46h1v1h-1zM119 46h1v1h-1zM121 46h1v1h-1zM123 46h1v1h-1zM125 46h1v1h-1zM129 46h2v1h-2zM134 46h2v1h-2zM190 46h1v1h-1zM12 47h1v1h-1zM62 47h1v1h-1zM80 47h1v1h-1zM97 47h1v1h-1zM108 47h1v1h-1zM129 47h1v1h-1zM148 47h1v1h-1zM151 47h1v1h-1zM154 47h2v1h-2zM184 47h1v1h-1zM62 48h1v1h-1zM145 48h1v1h-1zM147 48h1v1h-1zM165 48h1v1h-1zM175 48h1v1h-1zM178 48h1v1h-1zM2 49h3v1h-3zM6 49h1v1h-1zM10 49h1v1h-1zM14 49h1v1h-1zM17 49h3v1h-3zM23 49h1v1h-1zM29 49h1v1h-1zM31 49h1v1h-1zM35 49h1v1h-1zM37 49h1v1h-1zM40 49h1v1h-1zM45 49h2v1h-2zM51 49h1v1h-1zM58 49h1v1h-1zM60 49h2v1h-2zM63 49h1v1h-1zM66 49h2v1h-2zM69 49h1v1h-1zM71 49h2v1h-2zM78 49h2v1h-2zM92 49h1v1h-1zM95 49h1v1h-1zM97 49h1v1h-1zM100 49h3v1h-3zM104 49h2v1h-2zM112 49h3v1h-3zM117 49h3v1h-3zM122 49h1v1h-1zM128 49h1v1h-1zM132 49h1v1h-1zM161 49h2v1h-2zM182 49h2v1h-2zM185 49h1v1h-1zM11 50h1v1h-1zM50 50h1v1h-1zM54 50h1v1h-1zM74 50h1v1h-1zM80 50h1v1h-1zM83 50h1v1h-1zM108 50h1v1h-1zM129 50h1v1h-1zM142 50h1v1h-1zM150 50h1v1h-1zM152 50h1v1h-1zM169 50h1v1h-1zM26 51h1v1h-1zM80 51h1v1h-1zM101 51h1v1h-1zM108 51h1v1h-1zM137 51h3v1h-3zM151 51h1v1h-1zM156 51h1v1h-1zM162 51h1v1h-1zM164 51h1v1h-1zM166 51h1v1h-1zM181 51h1v1h-1zM190 51h1v1h-1zM11 52h1v1h-1zM13 52h1v1h-1zM15 52h1v1h-1zM25 52h1v1h-1zM32 52h1v1h-1zM45 52h1v1h-1zM56 52h1v1h-1zM61 52h1v1h-1zM65 52h1v1h-1zM72 52h1v1h-1zM74 52h1v1h-1zM89 52h1v1h-1zM91 52h1v1h-1zM108 52h2v1h-2zM116 52h1v1h-1zM130 52h1v1h-1zM157 52h1v1h-1zM0 53h1v1h-1zM3 53h4v1h-4zM9 53h1v1h-1zM14 53h1v1h-1zM19 53h5v1h-5zM30 53h3v1h-3zM39 53h1v1h-1zM43 53h3v1h-3zM47 53h1v1h-1zM49 53h1v1h-1zM53 53h1v1h-1zM58 53h1v1h-1zM61 53h1v1h-1zM66 53h1v1h-1zM70 53h1v1h-1zM72 53h1v1h-1zM82 53h1v1h-1zM92 53h1v1h-1zM95 53h1v1h-1zM98 53h1v1h-1zM100 53h2v1h-2zM110 53h1v1h-1zM112 53h1v1h-1zM118 53h2v1h-2zM128 53h1v1h-1zM141 53h1v1h-1zM143 53h1v1h-1zM155 53h2v1h-2zM189 53h1v1h-1zM12 54h1v1h-1zM56 54h1v1h-1zM83 54h1v1h-1zM125 54h1v1h-1zM138 54h1v1h-1zM142 54h2v1h-2zM171 54h3v1h-3zM184 54h1v1h-1zM189 54h1v1h-1zM7 55h1v1h-1zM83 55h1v1h-1zM123 55h1v1h-1zM136 55h1v1h-1zM161 55h1v1h-1zM182 55h2v1h-2zM188 55h1v1h-1zM7 56h1v1h-1zM26 56h1v1h-1zM29 56h1v1h-1zM38 56h1v1h-1zM54 56h1v1h-1zM65 56h1v1h-1zM74 56h1v1h-1zM86 56h1v1h-1zM91 56h1v1h-1zM96 56h1v1h-1zM133 56h2v1h-2zM144 56h1v1h-1zM146 56h1v1h-1zM158 56h1v1h-1zM165 56h1v1h-1zM2 57h1v1h-1zM41 57h1v1h-1zM50 57h1v1h-1zM77 57h1v1h-1zM86 57h1v1h-1zM91 57h1v1h-1zM97 57h1v1h-1zM101 57h2v1h-2zM114 57h1v1h-1zM138 57h1v1h-1zM150 57h1v1h-1zM191 57h1v1h-1zM0 58h1v1h-1zM10 58h1v1h-1zM13 58h1v1h-1zM15 58h1v1h-1zM17 58h1v1h-1zM40 58h1v1h-1zM49 58h1v1h-1zM60 58h2v1h-2zM70 58h1v1h-1zM74 58h2v1h-2zM91 58h1v1h-1zM97 58h1v1h-1zM101 58h1v1h-1zM136 58h1v1h-1zM144 58h1v1h-1zM148 58h1v1h-1zM171 58h1v1h-1zM13 59h1v1h-1zM150 59h1v1h-1zM163 59h1v1h-1zM191 59h1v1h-1zM193 59h1v1h-1zM196 59h1v1h-1zM2 60h1v1h-1zM50 60h1v1h-1zM52 60h1v1h-1zM57 60h1v1h-1zM74 60h1v1h-1zM86 60h1v1h-1zM93 60h1v1h-1zM99 60h1v1h-1zM101 60h2v1h-2zM130 60h1v1h-1zM134 60h1v1h-1zM136 60h1v1h-1zM138 60h1v1h-1zM168 60h1v1h-1zM2 61h1v1h-1zM5 61h1v1h-1zM26 61h1v1h-1zM50 61h1v1h-1zM52 61h1v1h-1zM60 61h1v1h-1zM90 61h2v1h-2zM101 61h1v1h-1zM103 61h1v1h-1zM126 61h1v1h-1zM161 61h1v1h-1zM184 61h1v1h-1zM10 62h1v1h-1zM13 62h1v1h-1zM15 62h1v1h-1zM18 62h2v1h-2zM38 62h1v1h-1zM43 62h1v1h-1zM64 62h1v1h-1zM74 62h1v1h-1zM97 62h1v1h-1zM101 62h1v1h-1zM107 62h1v1h-1zM111 62h1v1h-1zM136 62h2v1h-2zM142 62h1v1h-1zM156 62h1v1h-1zM161 62h1v1h-1zM163 62h1v1h-1zM173 62h1v1h-1zM186 62h1v1h-1zM190 62h1v1h-1zM193 62h1v1h-1zM198 62h1v1h-1zM1 63h1v1h-1zM11 63h1v1h-1zM13 63h1v1h-1zM29 63h1v1h-1zM54 63h1v1h-1zM57 63h1v1h-1zM60 63h1v1h-1zM76 63h1v1h-1zM121 63h2v1h-2zM130 63h1v1h-1zM138 63h1v1h-1zM140 63h2v1h-2zM155 63h1v1h-1zM169 63h2v1h-2zM188 63h1v1h-1zM190 63h1v1h-1zM195 63h1v1h-1zM10 64h1v1h-1zM25 64h1v1h-1zM46 64h1v1h-1zM74 64h2v1h-2zM79 64h1v1h-1zM86 64h1v1h-1zM97 64h1v1h-1zM107 64h1v1h-1zM114 64h1v1h-1zM128 64h1v1h-1zM130 64h1v1h-1zM146 64h2v1h-2zM198 64h2v1h-2zM13 65h1v1h-1zM41 65h1v1h-1zM50 65h1v1h-1zM65 65h1v1h-1zM74 65h1v1h-1zM77 65h1v1h-1zM96 65h1v1h-1zM151 65h1v1h-1zM162 65h2v1h-2zM170 65h2v1h-2zM173 65h1v1h-1zM188 65h1v1h-1zM192 65h1v1h-1zM8 66h1v1h-1zM34 66h1v1h-1zM82 66h1v1h-1zM103 66h1v1h-1zM111 66h1v1h-1zM160 66h1v1h-1zM177 66h2v1h-2zM190 66h1v1h-1zM193 66h2v1h-2zM0 67h1v1h-1zM9 67h1v1h-1zM18 67h1v1h-1zM20 67h1v1h-1zM34 67h1v1h-1zM46 67h1v1h-1zM56 67h1v1h-1zM87 67h2v1h-2zM104 67h1v1h-1zM139 67h1v1h-1zM150 67h1v1h-1zM168 67h2v1h-2zM174 67h1v1h-1zM178 67h1v1h-1zM7 68h1v1h-1zM37 68h1v1h-1zM145 68h1v1h-1zM156 68h1v1h-1zM163 68h2v1h-2zM169 68h1v1h-1zM171 68h1v1h-1zM192 68h1v1h-1zM0 69h1v1h-1zM5 69h1v1h-1zM14 69h1v1h-1zM65 69h2v1h-2zM69 69h2v1h-2zM90 69h2v1h-2zM138 69h1v1h-1zM175 69h1v1h-1zM32 70h2v1h-2zM45 70h1v1h-1zM48 70h2v1h-2zM105 70h1v1h-1zM108 70h1v1h-1zM154 70h1v1h-1zM167 70h1v1h-1zM173 70h1v1h-1zM29 71h1v1h-1zM81 71h1v1h-1zM85 71h1v1h-1zM105 71h1v1h-1zM120 71h1v1h-1zM14 72h1v1h-1zM58 72h1v1h-1zM65 72h1v1h-1zM78 72h1v1h-1zM144 72h1v1h-1zM149 72h2v1h-2zM162 72h2v1h-2zM174 72h1v1h-1zM178 72h1v1h-1zM9 73h1v1h-1zM45 73h1v1h-1zM116 73h1v1h-1zM142 73h1v1h-1zM164 73h1v1h-1zM166 73h1v1h-1zM168 73h2v1h-2zM182 73h1v1h-1zM197 73h1v1h-1zM199 73h1v1h-1zM9 74h2v1h-2zM15 74h1v1h-1zM21 74h2v1h-2zM90 74h1v1h-1zM92 74h1v1h-1zM117 74h2v1h-2zM146 74h1v1h-1zM171 74h1v1h-1zM178 74h2v1h-2zM183 74h2v1h-2zM33 75h1v1h-1zM54 75h1v1h-1zM57 75h1v1h-1zM74 75h1v1h-1zM78 75h1v1h-1zM102 75h2v1h-2zM124 75h1v1h-1zM127 75h3v1h-3zM133 75h3v1h-3zM138 75h1v1h-1zM142 75h1v1h-1zM144 75h1v1h-1zM155 75h1v1h-1zM174 75h1v1h-1zM180 75h1v1h-1zM186 75h4v1h-4zM33 76h1v1h-1zM41 76h1v1h-1zM68 76h1v1h-1zM81 76h1v1h-1zM106 76h1v1h-1zM137 76h1v1h-1zM154 76h1v1h-1zM159 76h2v1h-2zM194 76h1v1h-1zM196 76h2v1h-2zM3 77h1v1h-1zM76 77h2v1h-2zM126 77h1v1h-1zM134 77h1v1h-1zM97 78h2v1h-2zM105 78h1v1h-1zM121 78h2v1h-2zM126 78h1v1h-1zM154 78h1v1h-1zM163 78h1v1h-1zM174 78h1v1h-1zM179 78h1v1h-1zM187 78h3v1h-3z"/><path fill="#f090a8" d="M161 0h1v1h-1zM194 1h1v1h-1zM148 2h1v1h-1zM167 4h1v1h-1zM174 4h1v1h-1zM148 5h1v1h-1zM178 5h2v1h-2zM191 5h1v1h-1zM138 6h1v1h-1zM173 7h4v1h-4zM134 9h1v1h-1zM165 9h1v1h-1zM161 11h1v1h-1zM163 11h1v1h-1zM146 12h1v1h-1zM151 12h1v1h-1zM154 12h1v1h-1zM164 12h1v1h-1zM183 12h1v1h-1zM185 12h1v1h-1zM157 13h1v1h-1zM142 14h1v1h-1zM184 14h1v1h-1zM141 15h1v1h-1zM163 15h1v1h-1zM140 16h3v1h-3zM149 16h1v1h-1zM196 17h1v1h-1zM134 18h1v1h-1zM166 20h1v1h-1zM139 21h1v1h-1zM141 21h1v1h-1zM157 21h1v1h-1zM160 21h2v1h-2zM150 22h1v1h-1zM148 24h1v1h-1zM142 26h1v1h-1zM134 27h1v1h-1zM149 27h2v1h-2zM139 28h1v1h-1zM141 28h1v1h-1zM154 28h1v1h-1zM164 32h1v1h-1zM196 32h1v1h-1zM185 33h2v1h-2zM135 34h1v1h-1zM170 34h1v1h-1zM184 34h1v1h-1zM152 35h2v1h-2zM198 36h1v1h-1zM188 38h2v1h-2zM191 38h1v1h-1zM158 39h1v1h-1zM193 40h1v1h-1zM155 41h2v1h-2zM166 41h1v1h-1zM151 42h1v1h-1zM159 43h3v1h-3zM174 44h1v1h-1zM192 44h4v1h-4zM155 45h2v1h-2zM152 46h1v1h-1zM186 46h1v1h-1zM188 46h1v1h-1zM179 47h3v1h-3zM198 47h2v1h-2zM158 49h1v1h-1zM166 49h1v1h-1zM133 51h1v1h-1zM150 51h1v1h-1zM172 51h2v1h-2zM191 51h2v1h-2zM161 53h2v1h-2zM195 53h1v1h-1zM197 53h1v1h-1zM177 54h1v1h-1zM185 54h1v1h-1zM149 55h1v1h-1zM175 55h1v1h-1zM167 56h2v1h-2zM148 60h2v1h-2zM176 61h3v1h-3zM187 61h2v1h-2zM190 61h1v1h-1zM164 62h1v1h-1zM133 63h1v1h-1zM161 63h2v1h-2zM139 64h3v1h-3zM164 64h1v1h-1zM166 64h2v1h-2zM145 65h1v1h-1zM78 66h4v1h-4zM96 66h1v1h-1zM99 66h1v1h-1zM115 66h3v1h-3zM12 67h1v1h-1zM61 67h1v1h-1zM67 67h1v1h-1zM110 67h1v1h-1zM115 67h1v1h-1zM157 67h1v1h-1zM4 68h1v1h-1zM19 68h1v1h-1zM117 68h2v1h-2zM128 68h1v1h-1zM6 69h1v1h-1zM24 69h1v1h-1zM36 69h2v1h-2zM54 69h1v1h-1zM75 69h1v1h-1zM103 69h1v1h-1zM125 69h2v1h-2zM5 70h2v1h-2zM36 72h1v1h-1zM56 72h1v1h-1zM125 72h2v1h-2zM132 72h1v1h-1zM148 72h1v1h-1zM18 73h1v1h-1zM29 73h1v1h-1zM55 73h1v1h-1zM66 73h1v1h-1zM78 73h1v1h-1zM0 74h1v1h-1zM25 74h1v1h-1zM64 74h2v1h-2zM102 74h1v1h-1zM2 75h1v1h-1zM24 75h2v1h-2zM63 75h3v1h-3zM69 75h2v1h-2zM73 75h1v1h-1zM0 76h1v1h-1zM20 76h1v1h-1zM56 76h1v1h-1zM69 76h1v1h-1zM6 77h1v1h-1zM25 77h1v1h-1zM58 77h2v1h-2zM67 77h1v1h-1zM1 78h1v1h-1zM8 78h1v1h-1zM43 78h1v1h-1zM56 78h2v1h-2zM99 78h1v1h-1z"/><path fill="#f09ca8" d="M162 0h1v1h-1zM144 1h1v1h-1zM168 8h1v1h-1zM186 11h1v1h-1zM199 12h1v1h-1zM189 14h1v1h-1zM164 15h1v1h-1zM143 26h1v1h-1zM182 32h1v1h-1zM198 39h1v1h-1zM167 49h1v1h-1zM169 49h1v1h-1zM194 51h1v1h-1zM139 54h1v1h-1zM151 60h1v1h-1zM118 67h1v1h-1zM41 68h1v1h-1zM127 68h1v1h-1zM81 69h1v1h-1zM34 72h1v1h-1zM66 72h1v1h-1zM20 75h1v1h-1zM57 76h1v1h-1zM59 76h1v1h-1zM55 78h1v1h-1z"/><path fill="#f07890" d="M163 0h1v1h-1zM137 1h1v1h-1zM150 1h1v1h-1zM156 1h1v1h-1zM198 1h1v1h-1zM189 3h1v1h-1zM149 4h1v1h-1zM151 4h1v1h-1zM154 4h1v1h-1zM147 5h1v1h-1zM139 6h1v1h-1zM146 7h1v1h-1zM158 10h1v1h-1zM184 10h1v1h-1zM140 11h1v1h-1zM155 12h1v1h-1zM159 12h1v1h-1zM161 12h1v1h-1zM163 12h1v1h-1zM165 12h2v1h-2zM168 12h1v1h-1zM193 13h3v1h-3zM156 14h1v1h-1zM165 14h2v1h-2zM133 16h1v1h-1zM150 16h1v1h-1zM142 18h1v1h-1zM144 18h1v1h-1zM153 18h3v1h-3zM181 18h2v1h-2zM184 18h1v1h-1zM195 19h1v1h-1zM164 20h1v1h-1zM184 22h1v1h-1zM193 22h1v1h-1zM159 24h2v1h-2zM173 24h1v1h-1zM139 25h1v1h-1zM142 25h1v1h-1zM144 27h2v1h-2zM195 27h1v1h-1zM155 28h2v1h-2zM156 29h1v1h-1zM180 31h1v1h-1zM197 32h2v1h-2zM154 33h1v1h-1zM164 33h2v1h-2zM171 33h1v1h-1zM147 34h1v1h-1zM151 35h1v1h-1zM190 35h3v1h-3zM164 36h2v1h-2zM162 37h1v1h-1zM139 39h1v1h-1zM145 40h1v1h-1zM168 41h1v1h-1zM138 42h2v1h-2zM175 44h1v1h-1zM168 45h1v1h-1zM174 45h2v1h-2zM196 45h1v1h-1zM136 47h1v1h-1zM169 47h1v1h-1zM161 50h1v1h-1zM163 50h2v1h-2zM148 52h1v1h-1zM151 52h1v1h-1zM155 54h1v1h-1zM166 55h1v1h-1zM182 57h1v1h-1zM140 58h1v1h-1zM196 58h1v1h-1zM136 59h1v1h-1zM145 63h1v1h-1zM167 63h1v1h-1zM193 64h1v1h-1zM13 66h1v1h-1zM22 66h1v1h-1zM77 66h1v1h-1zM107 66h1v1h-1zM125 66h2v1h-2zM7 67h1v1h-1zM17 67h1v1h-1zM30 67h2v1h-2zM47 67h1v1h-1zM55 67h1v1h-1zM73 67h2v1h-2zM18 68h1v1h-1zM44 68h1v1h-1zM60 68h1v1h-1zM85 68h1v1h-1zM93 68h1v1h-1zM125 68h1v1h-1zM15 69h2v1h-2zM25 69h1v1h-1zM42 69h1v1h-1zM44 69h1v1h-1zM95 69h1v1h-1zM123 69h2v1h-2zM98 70h1v1h-1zM13 72h1v1h-1zM35 72h1v1h-1zM98 72h1v1h-1zM117 72h1v1h-1zM8 73h1v1h-1zM24 73h1v1h-1zM33 73h1v1h-1zM37 73h1v1h-1zM106 73h1v1h-1zM54 74h1v1h-1zM56 74h1v1h-1zM80 74h1v1h-1zM103 74h1v1h-1zM108 74h2v1h-2zM123 74h1v1h-1zM131 74h1v1h-1zM43 75h1v1h-1zM48 75h1v1h-1zM55 75h1v1h-1zM79 75h1v1h-1zM12 76h1v1h-1zM23 76h1v1h-1zM76 76h1v1h-1zM130 76h1v1h-1zM30 77h2v1h-2zM40 77h2v1h-2zM50 77h1v1h-1zM52 77h1v1h-1zM60 77h1v1h-1zM63 77h1v1h-1zM118 77h3v1h-3zM30 78h1v1h-1zM46 78h1v1h-1zM67 78h1v1h-1zM76 78h1v1h-1zM114 78h1v1h-1zM151 78h1v1h-1z"/><path fill="#f06c84" d="M164 0h1v1h-1zM198 0h1v1h-1zM152 1h1v1h-1zM168 1h1v1h-1zM177 1h1v1h-1zM179 1h1v1h-1zM161 2h1v1h-1zM148 4h1v1h-1zM152 4h1v1h-1zM163 4h1v1h-1zM146 5h1v1h-1zM182 6h1v1h-1zM184 6h2v1h-2zM154 7h2v1h-2zM181 8h1v1h-1zM199 8h1v1h-1zM153 12h1v1h-1zM162 12h1v1h-1zM154 16h1v1h-1zM156 16h1v1h-1zM183 18h1v1h-1zM190 18h1v1h-1zM192 18h1v1h-1zM194 18h2v1h-2zM186 19h1v1h-1zM197 19h1v1h-1zM163 20h1v1h-1zM195 20h1v1h-1zM172 22h1v1h-1zM144 23h1v1h-1zM174 24h1v1h-1zM140 25h1v1h-1zM149 28h1v1h-1zM151 28h1v1h-1zM155 30h1v1h-1zM198 31h1v1h-1zM175 32h1v1h-1zM187 32h1v1h-1zM170 33h1v1h-1zM148 34h1v1h-1zM154 34h3v1h-3zM167 35h1v1h-1zM170 35h1v1h-1zM185 35h2v1h-2zM137 39h1v1h-1zM157 39h1v1h-1zM161 39h1v1h-1zM177 39h2v1h-2zM141 40h2v1h-2zM144 42h1v1h-1zM151 45h1v1h-1zM169 45h2v1h-2zM192 47h2v1h-2zM143 49h2v1h-2zM152 52h1v1h-1zM184 53h1v1h-1zM151 54h3v1h-3zM181 57h1v1h-1zM141 58h2v1h-2zM152 58h1v1h-1zM137 59h1v1h-1zM154 62h2v1h-2zM143 63h2v1h-2zM166 63h1v1h-1zM192 64h1v1h-1zM5 66h2v1h-2zM24 66h1v1h-1zM94 66h1v1h-1zM129 66h1v1h-1zM48 67h2v1h-2zM72 67h1v1h-1zM117 67h1v1h-1zM45 69h2v1h-2zM60 69h3v1h-3zM93 69h1v1h-1zM2 70h3v1h-3zM17 70h1v1h-1zM24 70h1v1h-1zM68 70h1v1h-1zM79 70h1v1h-1zM53 72h1v1h-1zM68 72h1v1h-1zM79 72h1v1h-1zM91 72h1v1h-1zM99 72h1v1h-1zM127 72h1v1h-1zM100 73h1v1h-1zM103 73h1v1h-1zM130 73h2v1h-2zM11 74h3v1h-3zM36 74h1v1h-1zM48 74h1v1h-1zM98 74h1v1h-1zM14 75h1v1h-1zM28 75h1v1h-1zM42 75h1v1h-1zM56 75h1v1h-1zM119 75h1v1h-1zM2 76h1v1h-1zM8 76h2v1h-2zM22 76h1v1h-1zM103 76h1v1h-1zM127 76h2v1h-2zM162 76h1v1h-1zM0 77h1v1h-1zM28 77h1v1h-1zM47 77h2v1h-2zM55 77h2v1h-2zM62 77h1v1h-1zM78 77h1v1h-1zM71 78h1v1h-1zM73 78h1v1h-1zM106 78h1v1h-1zM110 78h2v1h-2z"/><path fill="#f0606c" d="M165 0h1v1h-1zM180 4h1v1h-1zM158 5h1v1h-1zM183 39h1v1h-1zM198 53h1v1h-1zM182 64h1v1h-1zM96 67h1v1h-1zM102 69h1v1h-1zM90 70h1v1h-1zM130 72h1v1h-1zM29 74h1v1h-1zM43 76h3v1h-3zM110 76h1v1h-1zM116 76h1v1h-1zM16 78h1v1h-1zM112 78h1v1h-1z"/><path fill="#f0849c" d="M167 0h1v1h-1zM138 1h1v1h-1zM197 1h1v1h-1zM199 1h1v1h-1zM162 2h2v1h-2zM187 3h1v1h-1zM146 4h1v1h-1zM150 4h1v1h-1zM153 4h1v1h-1zM155 4h1v1h-1zM161 4h1v1h-1zM145 5h1v1h-1zM181 5h1v1h-1zM140 6h1v1h-1zM142 6h1v1h-1zM162 7h1v1h-1zM198 8h1v1h-1zM133 9h1v1h-1zM159 10h1v1h-1zM161 10h1v1h-1zM138 11h2v1h-2zM162 11h1v1h-1zM137 12h1v1h-1zM148 12h1v1h-1zM152 12h1v1h-1zM167 12h1v1h-1zM133 14h1v1h-1zM155 14h1v1h-1zM140 15h1v1h-1zM179 15h1v1h-1zM157 16h1v1h-1zM194 16h1v1h-1zM175 17h1v1h-1zM135 18h1v1h-1zM143 18h1v1h-1zM146 18h2v1h-2zM194 19h1v1h-1zM196 19h1v1h-1zM145 20h2v1h-2zM140 21h1v1h-1zM194 22h1v1h-1zM149 24h1v1h-1zM170 24h1v1h-1zM197 24h3v1h-3zM141 25h1v1h-1zM141 26h1v1h-1zM142 27h2v1h-2zM162 27h2v1h-2zM194 27h1v1h-1zM196 27h1v1h-1zM180 28h1v1h-1zM145 29h1v1h-1zM162 30h2v1h-2zM178 31h2v1h-2zM143 32h1v1h-1zM199 32h1v1h-1zM154 35h1v1h-1zM174 35h1v1h-1zM133 36h2v1h-2zM163 36h1v1h-1zM185 38h2v1h-2zM189 39h2v1h-2zM143 40h2v1h-2zM137 41h1v1h-1zM165 41h1v1h-1zM167 41h1v1h-1zM145 42h1v1h-1zM199 46h1v1h-1zM133 47h1v1h-1zM168 47h1v1h-1zM170 47h1v1h-1zM140 48h2v1h-2zM163 48h1v1h-1zM155 49h3v1h-3zM162 50h1v1h-1zM134 51h1v1h-1zM145 51h1v1h-1zM148 51h1v1h-1zM150 52h1v1h-1zM168 52h1v1h-1zM193 53h2v1h-2zM196 53h1v1h-1zM145 54h1v1h-1zM188 54h1v1h-1zM145 55h1v1h-1zM179 57h1v1h-1zM181 59h2v1h-2zM173 61h1v1h-1zM189 61h1v1h-1zM168 63h1v1h-1zM165 64h1v1h-1zM191 64h1v1h-1zM14 66h1v1h-1zM25 66h1v1h-1zM49 66h1v1h-1zM84 66h1v1h-1zM118 66h1v1h-1zM197 66h1v1h-1zM6 67h1v1h-1zM16 67h1v1h-1zM29 67h1v1h-1zM60 67h1v1h-1zM62 67h1v1h-1zM101 67h2v1h-2zM119 67h2v1h-2zM2 68h1v1h-1zM20 68h1v1h-1zM33 68h1v1h-1zM94 68h1v1h-1zM126 68h1v1h-1zM22 69h2v1h-2zM48 69h1v1h-1zM97 69h1v1h-1zM114 69h1v1h-1zM119 69h1v1h-1zM25 70h2v1h-2zM42 70h2v1h-2zM89 70h1v1h-1zM92 70h1v1h-1zM96 70h2v1h-2zM107 70h1v1h-1zM11 72h2v1h-2zM29 72h2v1h-2zM63 72h1v1h-1zM71 72h1v1h-1zM109 72h1v1h-1zM118 72h1v1h-1zM19 73h1v1h-1zM38 73h1v1h-1zM107 73h1v1h-1zM24 74h1v1h-1zM57 74h1v1h-1zM95 74h2v1h-2zM101 74h1v1h-1zM107 74h1v1h-1zM3 75h1v1h-1zM60 75h1v1h-1zM104 75h1v1h-1zM1 76h1v1h-1zM7 76h1v1h-1zM18 76h2v1h-2zM100 76h1v1h-1zM23 77h2v1h-2zM29 77h1v1h-1zM51 77h1v1h-1zM61 77h1v1h-1zM32 78h1v1h-1zM64 78h1v1h-1zM95 78h1v1h-1zM102 78h2v1h-2z"/><path fill="#f0a8c0" d="M179 0h1v1h-1zM184 0h1v1h-1zM145 2h1v1h-1zM156 4h1v1h-1zM179 4h1v1h-1zM143 5h1v1h-1zM169 6h1v1h-1zM187 6h1v1h-1zM194 6h1v1h-1zM137 7h1v1h-1zM139 7h1v1h-1zM185 7h1v1h-1zM133 8h3v1h-3zM142 8h1v1h-1zM162 8h3v1h-3zM194 8h1v1h-1zM191 9h2v1h-2zM196 9h1v1h-1zM137 10h1v1h-1zM191 10h2v1h-2zM136 12h1v1h-1zM188 12h1v1h-1zM172 13h1v1h-1zM192 14h2v1h-2zM195 14h1v1h-1zM161 15h1v1h-1zM187 15h1v1h-1zM189 15h1v1h-1zM163 16h1v1h-1zM171 16h1v1h-1zM180 16h1v1h-1zM159 18h2v1h-2zM177 18h1v1h-1zM188 18h2v1h-2zM169 19h2v1h-2zM180 20h1v1h-1zM183 20h1v1h-1zM185 20h2v1h-2zM196 20h1v1h-1zM180 21h1v1h-1zM155 23h2v1h-2zM166 24h1v1h-1zM188 24h1v1h-1zM191 24h1v1h-1zM158 27h1v1h-1zM161 27h1v1h-1zM185 29h1v1h-1zM187 29h1v1h-1zM199 29h1v1h-1zM137 30h1v1h-1zM139 30h1v1h-1zM171 30h1v1h-1zM195 30h1v1h-1zM197 30h1v1h-1zM167 31h1v1h-1zM188 31h1v1h-1zM162 32h1v1h-1zM178 32h1v1h-1zM142 33h1v1h-1zM155 33h1v1h-1zM187 34h2v1h-2zM155 35h2v1h-2zM138 36h1v1h-1zM137 38h1v1h-1zM134 39h3v1h-3zM162 39h1v1h-1zM178 40h1v1h-1zM182 40h1v1h-1zM188 40h4v1h-4zM138 41h1v1h-1zM170 41h1v1h-1zM136 42h1v1h-1zM166 42h1v1h-1zM164 43h3v1h-3zM175 43h1v1h-1zM136 44h1v1h-1zM155 44h1v1h-1zM133 45h2v1h-2zM181 45h1v1h-1zM184 45h1v1h-1zM186 45h1v1h-1zM191 45h1v1h-1zM136 46h1v1h-1zM138 46h2v1h-2zM150 46h1v1h-1zM186 48h2v1h-2zM172 49h2v1h-2zM147 52h1v1h-1zM163 52h2v1h-2zM146 54h1v1h-1zM178 54h1v1h-1zM186 54h1v1h-1zM162 55h1v1h-1zM194 56h2v1h-2zM165 57h3v1h-3zM175 58h3v1h-3zM195 58h1v1h-1zM158 59h1v1h-1zM70 60h1v1h-1zM150 60h1v1h-1zM194 60h1v1h-1zM130 61h1v1h-1zM24 62h3v1h-3zM45 62h1v1h-1zM75 62h1v1h-1zM85 62h1v1h-1zM116 62h2v1h-2zM119 62h3v1h-3zM70 64h1v1h-1zM152 64h1v1h-1zM154 64h1v1h-1zM160 64h1v1h-1zM53 65h1v1h-1zM138 65h1v1h-1zM146 65h1v1h-1zM43 66h1v1h-1zM92 66h1v1h-1zM124 66h1v1h-1zM21 67h2v1h-2zM36 67h2v1h-2zM51 67h1v1h-1zM54 67h1v1h-1zM66 67h1v1h-1zM83 67h1v1h-1zM85 67h1v1h-1zM112 67h1v1h-1zM1 68h1v1h-1zM14 68h1v1h-1zM26 68h3v1h-3zM30 68h3v1h-3zM110 68h1v1h-1zM115 68h1v1h-1zM12 69h1v1h-1zM33 69h1v1h-1zM73 69h2v1h-2zM77 69h1v1h-1zM128 69h1v1h-1zM146 69h1v1h-1zM10 70h1v1h-1zM36 70h2v1h-2zM52 70h1v1h-1zM54 70h1v1h-1zM65 70h1v1h-1zM115 70h1v1h-1zM92 71h1v1h-1zM25 72h1v1h-1zM67 72h1v1h-1zM27 73h1v1h-1zM30 73h1v1h-1zM35 73h1v1h-1zM40 73h1v1h-1zM60 73h1v1h-1zM75 73h1v1h-1zM85 73h2v1h-2zM115 73h1v1h-1zM124 73h3v1h-3zM132 73h1v1h-1zM3 74h1v1h-1zM32 74h1v1h-1zM37 74h1v1h-1zM41 74h1v1h-1zM60 74h1v1h-1zM68 74h1v1h-1zM76 74h2v1h-2zM120 74h2v1h-2zM124 74h1v1h-1zM8 75h2v1h-2zM19 75h1v1h-1zM38 75h1v1h-1zM62 75h1v1h-1zM122 75h1v1h-1zM27 76h1v1h-1zM29 76h1v1h-1zM58 76h1v1h-1zM70 76h1v1h-1zM89 76h2v1h-2zM108 76h1v1h-1zM129 76h1v1h-1zM7 77h2v1h-2zM10 77h1v1h-1zM33 77h1v1h-1zM0 78h1v1h-1zM3 78h2v1h-2zM50 78h2v1h-2zM69 78h2v1h-2zM86 78h1v1h-1zM96 78h1v1h-1zM107 78h1v1h-1zM130 78h3v1h-3z"/><path fill="#f06078" d="M199 0h1v1h-1zM146 1h1v1h-1zM154 1h1v1h-1zM178 1h1v1h-1zM177 2h2v1h-2zM168 3h1v1h-1zM183 3h1v1h-1zM159 4h1v1h-1zM165 4h2v1h-2zM159 5h3v1h-3zM166 6h1v1h-1zM183 6h1v1h-1zM148 7h1v1h-1zM158 8h1v1h-1zM170 10h1v1h-1zM193 10h1v1h-1zM171 12h1v1h-1zM167 13h1v1h-1zM198 16h2v1h-2zM159 22h1v1h-1zM176 23h1v1h-1zM136 24h1v1h-1zM183 25h1v1h-1zM170 26h2v1h-2zM148 28h1v1h-1zM157 29h1v1h-1zM153 30h2v1h-2zM188 30h1v1h-1zM192 30h1v1h-1zM199 31h1v1h-1zM174 32h1v1h-1zM177 32h1v1h-1zM199 33h1v1h-1zM169 35h1v1h-1zM175 35h2v1h-2zM186 37h2v1h-2zM138 39h1v1h-1zM156 39h1v1h-1zM179 39h1v1h-1zM184 39h1v1h-1zM148 40h1v1h-1zM162 44h1v1h-1zM150 45h1v1h-1zM191 47h1v1h-1zM145 49h1v1h-1zM170 50h1v1h-1zM140 51h4v1h-4zM185 53h2v1h-2zM154 54h1v1h-1zM143 58h1v1h-1zM151 58h1v1h-1zM199 59h1v1h-1zM184 64h2v1h-2zM11 66h1v1h-1zM54 66h1v1h-1zM93 66h1v1h-1zM106 66h1v1h-1zM11 67h1v1h-1zM108 67h1v1h-1zM116 67h1v1h-1zM130 67h1v1h-1zM9 68h1v1h-1zM52 68h2v1h-2zM114 68h1v1h-1zM41 69h1v1h-1zM47 69h1v1h-1zM69 70h1v1h-1zM75 70h1v1h-1zM100 70h1v1h-1zM21 72h1v1h-1zM52 72h1v1h-1zM59 72h1v1h-1zM88 72h1v1h-1zM157 72h1v1h-1zM23 73h1v1h-1zM88 73h2v1h-2zM96 73h1v1h-1zM46 74h2v1h-2zM59 74h1v1h-1zM84 74h1v1h-1zM89 74h1v1h-1zM41 75h1v1h-1zM89 75h1v1h-1zM100 75h1v1h-1zM112 75h1v1h-1zM121 75h1v1h-1zM131 75h1v1h-1zM62 76h2v1h-2zM109 76h1v1h-1zM1 77h1v1h-1zM26 77h2v1h-2zM49 77h1v1h-1zM53 77h2v1h-2zM115 77h1v1h-1zM129 77h3v1h-3zM10 78h3v1h-3zM26 78h1v1h-1zM48 78h1v1h-1zM72 78h1v1h-1z"/><path fill="#7860fc" d="M135 1h1v1h-1zM177 3h1v1h-1zM9 8h1v1h-1zM15 8h1v1h-1zM26 8h1v1h-1zM107 9h1v1h-1zM67 10h1v1h-1zM9 14h1v1h-1zM66 14h1v1h-1zM63 16h1v1h-1zM129 21h1v1h-1zM180 22h1v1h-1zM196 26h1v1h-1zM67 27h1v1h-1zM75 31h1v1h-1zM152 31h1v1h-1zM89 35h1v1h-1zM4 36h1v1h-1zM90 36h1v1h-1zM49 38h1v1h-1zM12 39h1v1h-1zM22 39h1v1h-1zM45 39h1v1h-1zM98 39h1v1h-1zM28 43h1v1h-1zM30 43h1v1h-1zM34 45h1v1h-1zM59 45h1v1h-1zM193 46h1v1h-1zM45 47h1v1h-1zM101 47h1v1h-1zM103 47h1v1h-1zM0 51h1v1h-1zM92 55h1v1h-1zM118 55h1v1h-1zM189 58h1v1h-1zM82 61h1v1h-1zM40 65h1v1h-1zM174 71h1v1h-1z"/><path fill="#f0c0cc" d="M139 1h1v1h-1zM173 1h1v1h-1zM143 2h1v1h-1zM142 3h1v1h-1zM178 3h2v1h-2zM186 6h1v1h-1zM197 6h1v1h-1zM137 8h2v1h-2zM143 8h1v1h-1zM167 11h1v1h-1zM169 11h1v1h-1zM187 12h1v1h-1zM189 12h2v1h-2zM173 13h1v1h-1zM154 14h1v1h-1zM179 14h1v1h-1zM168 16h1v1h-1zM174 16h1v1h-1zM143 17h1v1h-1zM158 17h2v1h-2zM166 17h2v1h-2zM199 17h1v1h-1zM148 18h1v1h-1zM162 18h1v1h-1zM139 19h1v1h-1zM145 19h1v1h-1zM192 19h1v1h-1zM198 19h1v1h-1zM146 21h1v1h-1zM165 21h1v1h-1zM192 21h1v1h-1zM199 22h1v1h-1zM197 23h1v1h-1zM134 24h1v1h-1zM161 24h1v1h-1zM136 25h2v1h-2zM187 25h1v1h-1zM191 26h2v1h-2zM152 27h1v1h-1zM175 27h1v1h-1zM190 27h1v1h-1zM152 29h1v1h-1zM169 30h1v1h-1zM160 32h1v1h-1zM143 33h1v1h-1zM152 33h1v1h-1zM188 33h1v1h-1zM172 35h1v1h-1zM164 37h1v1h-1zM138 38h1v1h-1zM170 38h1v1h-1zM162 41h1v1h-1zM190 41h1v1h-1zM133 43h1v1h-1zM137 43h1v1h-1zM189 43h1v1h-1zM138 44h2v1h-2zM161 45h1v1h-1zM182 45h1v1h-1zM176 46h1v1h-1zM178 46h1v1h-1zM149 47h1v1h-1zM182 48h1v1h-1zM147 51h1v1h-1zM169 52h1v1h-1zM182 53h1v1h-1zM81 54h1v1h-1zM66 55h1v1h-1zM197 55h1v1h-1zM131 56h1v1h-1zM24 57h1v1h-1zM74 57h1v1h-1zM188 57h1v1h-1zM1 58h3v1h-3zM76 58h1v1h-1zM116 58h1v1h-1zM111 59h1v1h-1zM169 59h1v1h-1zM0 60h1v1h-1zM159 60h1v1h-1zM19 61h1v1h-1zM48 61h1v1h-1zM171 61h1v1h-1zM9 62h1v1h-1zM27 62h1v1h-1zM55 62h1v1h-1zM101 63h1v1h-1zM30 64h1v1h-1zM15 65h1v1h-1zM30 65h1v1h-1zM46 65h1v1h-1zM52 66h1v1h-1zM67 66h1v1h-1zM23 67h1v1h-1zM16 68h1v1h-1zM10 69h1v1h-1zM57 69h1v1h-1zM111 69h1v1h-1zM11 70h1v1h-1zM95 70h1v1h-1zM122 70h1v1h-1zM49 71h1v1h-1zM98 73h2v1h-2zM109 73h2v1h-2zM18 74h1v1h-1zM128 74h1v1h-1zM125 76h1v1h-1zM170 76h1v1h-1zM84 77h1v1h-1zM92 77h1v1h-1zM23 78h1v1h-1zM33 78h2v1h-2zM81 78h1v1h-1zM123 78h1v1h-1z"/><path fill="#f09cb4" d="M142 1h2v1h-2zM167 1h1v1h-1zM180 1h2v1h-2zM193 1h1v1h-1zM175 4h1v1h-1zM192 5h1v1h-1zM136 6h1v1h-1zM148 6h2v1h-2zM156 6h2v1h-2zM161 7h1v1h-1zM141 8h1v1h-1zM167 8h1v1h-1zM166 9h1v1h-1zM197 9h1v1h-1zM185 11h1v1h-1zM138 12h1v1h-1zM145 12h1v1h-1zM147 12h1v1h-1zM156 12h1v1h-1zM158 12h1v1h-1zM148 13h1v1h-1zM134 14h2v1h-2zM139 15h1v1h-1zM162 15h1v1h-1zM188 15h1v1h-1zM191 15h2v1h-2zM172 17h1v1h-1zM176 17h1v1h-1zM193 17h3v1h-3zM133 18h1v1h-1zM149 20h1v1h-1zM165 20h1v1h-1zM167 20h1v1h-1zM145 23h1v1h-1zM165 24h1v1h-1zM182 24h2v1h-2zM166 26h1v1h-1zM160 27h1v1h-1zM166 27h2v1h-2zM142 28h1v1h-1zM145 28h1v1h-1zM191 28h1v1h-1zM196 29h1v1h-1zM136 30h1v1h-1zM159 30h1v1h-1zM196 30h1v1h-1zM168 31h1v1h-1zM183 33h2v1h-2zM133 34h2v1h-2zM164 34h2v1h-2zM182 36h1v1h-1zM199 36h1v1h-1zM179 37h1v1h-1zM163 39h1v1h-1zM197 39h1v1h-1zM169 41h1v1h-1zM171 41h2v1h-2zM197 41h1v1h-1zM150 42h1v1h-1zM176 43h1v1h-1zM137 46h1v1h-1zM185 46h1v1h-1zM187 46h1v1h-1zM178 47h1v1h-1zM172 48h1v1h-1zM168 49h1v1h-1zM189 49h4v1h-4zM149 51h1v1h-1zM198 51h1v1h-1zM162 52h1v1h-1zM166 52h2v1h-2zM184 52h2v1h-2zM192 53h1v1h-1zM140 54h1v1h-1zM147 54h2v1h-2zM197 56h1v1h-1zM155 59h1v1h-1zM195 60h1v1h-1zM144 62h1v1h-1zM63 63h1v1h-1zM158 63h2v1h-2zM28 64h1v1h-1zM47 65h1v1h-1zM147 65h2v1h-2zM154 65h2v1h-2zM26 66h2v1h-2zM48 66h1v1h-1zM65 66h1v1h-1zM70 66h2v1h-2zM91 66h1v1h-1zM165 66h1v1h-1zM76 67h1v1h-1zM84 67h1v1h-1zM111 67h1v1h-1zM40 68h1v1h-1zM70 68h2v1h-2zM109 68h1v1h-1zM119 68h1v1h-1zM199 68h1v1h-1zM7 69h1v1h-1zM127 69h1v1h-1zM9 70h1v1h-1zM55 70h1v1h-1zM57 70h1v1h-1zM66 70h1v1h-1zM114 70h1v1h-1zM126 70h2v1h-2zM91 71h1v1h-1zM57 72h1v1h-1zM62 72h1v1h-1zM72 72h1v1h-1zM92 72h1v1h-1zM120 72h1v1h-1zM25 73h2v1h-2zM28 73h1v1h-1zM39 73h1v1h-1zM51 73h1v1h-1zM58 73h1v1h-1zM79 73h2v1h-2zM93 73h1v1h-1zM121 73h2v1h-2zM1 74h1v1h-1zM26 74h1v1h-1zM53 74h1v1h-1zM110 74h3v1h-3zM30 75h2v1h-2zM68 75h1v1h-1zM83 75h1v1h-1zM88 75h1v1h-1zM123 75h1v1h-1zM28 76h1v1h-1zM31 76h2v1h-2zM71 76h1v1h-1zM74 76h2v1h-2zM101 76h1v1h-1zM73 77h1v1h-1zM95 77h1v1h-1zM5 78h1v1h-1zM9 78h1v1h-1zM36 78h1v1h-1zM66 78h1v1h-1zM75 78h1v1h-1zM83 78h1v1h-1zM100 78h1v1h-1zM119 78h2v1h-2z"/><path fill="#e45460" d="M148 1h1v1h-1zM191 1h1v1h-1zM185 2h1v1h-1zM189 8h1v1h-1zM186 16h1v1h-1zM154 23h1v1h-1zM175 23h1v1h-1zM190 23h1v1h-1zM149 32h1v1h-1zM153 37h1v1h-1zM32 67h1v1h-1zM21 69h1v1h-1zM81 70h1v1h-1zM73 72h1v1h-1zM1 73h1v1h-1zM21 73h1v1h-1zM93 76h1v1h-1zM77 78h1v1h-1z"/><path fill="#e43c54" d="M149 1h1v1h-1zM155 1h1v1h-1zM159 3h1v1h-1zM193 5h1v1h-1zM198 5h1v1h-1zM180 7h1v1h-1zM176 9h1v1h-1zM138 16h1v1h-1zM172 18h2v1h-2zM179 24h1v1h-1zM184 24h2v1h-2zM140 32h1v1h-1zM172 33h1v1h-1zM194 33h1v1h-1zM195 40h2v1h-2zM198 40h1v1h-1zM159 44h2v1h-2zM171 48h1v1h-1zM187 54h1v1h-1zM156 55h1v1h-1zM178 62h2v1h-2zM181 62h1v1h-1zM59 66h2v1h-2zM128 66h1v1h-1zM94 67h1v1h-1zM57 68h2v1h-2zM78 68h3v1h-3zM122 68h1v1h-1zM129 68h1v1h-1zM49 69h1v1h-1zM100 69h1v1h-1zM108 69h1v1h-1zM0 70h2v1h-2zM63 70h1v1h-1zM131 70h1v1h-1zM47 72h1v1h-1zM112 72h1v1h-1zM121 72h1v1h-1zM48 73h1v1h-1zM79 74h1v1h-1zM119 74h1v1h-1zM120 75h1v1h-1zM4 76h2v1h-2zM16 76h1v1h-1zM21 76h1v1h-1zM37 76h3v1h-3zM55 76h1v1h-1zM100 77h1v1h-1zM2 78h1v1h-1zM63 78h1v1h-1z"/><path fill="#f0546c" d="M153 1h1v1h-1zM172 26h1v1h-1zM20 69h1v1h-1zM20 72h1v1h-1zM129 72h1v1h-1zM158 72h1v1h-1zM92 73h1v1h-1zM114 77h1v1h-1z"/><path fill="#f0ccd8" d="M184 1h1v1h-1zM179 2h1v1h-1zM146 3h1v1h-1zM150 6h1v1h-1zM158 7h1v1h-1zM149 8h1v1h-1zM154 8h2v1h-2zM161 8h1v1h-1zM149 9h1v1h-1zM156 9h1v1h-1zM195 10h1v1h-1zM173 12h1v1h-1zM155 13h1v1h-1zM160 13h1v1h-1zM182 13h1v1h-1zM137 14h2v1h-2zM152 14h1v1h-1zM147 15h1v1h-1zM180 15h1v1h-1zM151 16h2v1h-2zM149 17h1v1h-1zM192 17h1v1h-1zM172 20h1v1h-1zM187 21h1v1h-1zM149 22h1v1h-1zM185 22h1v1h-1zM151 25h1v1h-1zM170 27h1v1h-1zM159 28h1v1h-1zM193 28h1v1h-1zM195 28h1v1h-1zM161 29h1v1h-1zM134 31h1v1h-1zM154 31h1v1h-1zM165 32h1v1h-1zM163 33h1v1h-1zM153 34h1v1h-1zM136 36h1v1h-1zM149 39h1v1h-1zM186 39h1v1h-1zM194 39h2v1h-2zM164 40h1v1h-1zM134 41h1v1h-1zM153 41h1v1h-1zM182 42h1v1h-1zM138 43h1v1h-1zM188 44h1v1h-1zM145 46h1v1h-1zM184 46h1v1h-1zM59 47h1v1h-1zM166 47h1v1h-1zM174 47h2v1h-2zM177 47h1v1h-1zM42 49h1v1h-1zM54 49h1v1h-1zM89 49h1v1h-1zM151 49h1v1h-1zM194 49h2v1h-2zM61 50h1v1h-1zM175 50h1v1h-1zM182 50h1v1h-1zM195 50h1v1h-1zM14 51h1v1h-1zM54 51h1v1h-1zM135 51h1v1h-1zM5 52h1v1h-1zM21 52h1v1h-1zM68 52h1v1h-1zM96 52h2v1h-2zM132 52h1v1h-1zM16 53h1v1h-1zM63 53h1v1h-1zM131 53h1v1h-1zM170 53h1v1h-1zM51 54h2v1h-2zM167 54h1v1h-1zM179 54h1v1h-1zM71 55h1v1h-1zM117 56h1v1h-1zM39 57h1v1h-1zM174 58h1v1h-1zM6 59h1v1h-1zM20 59h1v1h-1zM88 59h1v1h-1zM122 59h1v1h-1zM127 59h1v1h-1zM133 59h2v1h-2zM26 60h1v1h-1zM117 60h1v1h-1zM69 61h1v1h-1zM183 61h1v1h-1zM29 62h1v1h-1zM84 62h1v1h-1zM182 62h1v1h-1zM185 62h1v1h-1zM9 63h1v1h-1zM51 63h1v1h-1zM102 63h1v1h-1zM111 63h1v1h-1zM196 64h1v1h-1zM158 65h1v1h-1zM178 65h1v1h-1zM33 66h1v1h-1zM45 66h1v1h-1zM130 66h2v1h-2zM82 67h1v1h-1zM21 68h1v1h-1zM38 68h1v1h-1zM65 68h1v1h-1zM67 68h1v1h-1zM3 69h1v1h-1zM34 69h1v1h-1zM83 69h1v1h-1zM20 70h1v1h-1zM102 70h1v1h-1zM21 71h1v1h-1zM42 71h1v1h-1zM51 71h1v1h-1zM64 71h1v1h-1zM119 71h1v1h-1zM121 71h2v1h-2zM27 72h1v1h-1zM61 72h1v1h-1zM67 73h1v1h-1zM120 73h1v1h-1zM6 75h1v1h-1zM72 75h1v1h-1zM26 76h1v1h-1zM98 76h1v1h-1z"/><path fill="#e44860" d="M192 1h1v1h-1zM135 3h1v1h-1zM190 8h1v1h-1zM174 9h1v1h-1zM157 12h1v1h-1zM184 16h2v1h-2zM187 16h1v1h-1zM136 19h1v1h-1zM154 19h2v1h-2zM157 19h2v1h-2zM154 27h1v1h-1zM173 27h2v1h-2zM173 29h1v1h-1zM159 31h1v1h-1zM139 32h1v1h-1zM147 32h2v1h-2zM152 37h1v1h-1zM158 43h1v1h-1zM158 44h1v1h-1zM161 44h1v1h-1zM178 45h1v1h-1zM187 45h1v1h-1zM133 46h1v1h-1zM170 48h1v1h-1zM196 52h1v1h-1zM199 53h1v1h-1zM157 55h2v1h-2zM89 66h1v1h-1zM110 66h1v1h-1zM14 67h2v1h-2zM90 67h2v1h-2zM93 67h1v1h-1zM17 68h1v1h-1zM120 68h2v1h-2zM123 68h1v1h-1zM131 68h1v1h-1zM89 69h1v1h-1zM7 70h1v1h-1zM3 72h1v1h-1zM6 72h1v1h-1zM41 72h1v1h-1zM111 72h1v1h-1zM113 72h1v1h-1zM2 73h1v1h-1zM22 73h1v1h-1zM49 73h2v1h-2zM81 74h1v1h-1zM27 75h1v1h-1zM50 75h2v1h-2zM76 75h1v1h-1zM99 75h1v1h-1zM42 76h1v1h-1zM53 76h2v1h-2zM72 76h1v1h-1zM80 76h1v1h-1zM92 76h1v1h-1zM14 77h1v1h-1zM17 77h1v1h-1zM21 78h1v1h-1zM49 78h1v1h-1zM113 78h1v1h-1z"/><path fill="#e4c0fc" d="M67 2h1v1h-1zM77 2h1v1h-1zM32 3h1v1h-1zM133 3h1v1h-1zM155 3h1v1h-1zM23 6h1v1h-1zM91 16h1v1h-1zM140 17h1v1h-1zM116 21h1v1h-1zM79 30h1v1h-1zM162 38h1v1h-1zM79 40h1v1h-1zM128 42h1v1h-1zM167 44h1v1h-1zM140 47h1v1h-1zM26 50h1v1h-1zM98 51h1v1h-1zM183 58h1v1h-1zM10 61h1v1h-1zM98 63h1v1h-1zM61 71h1v1h-1z"/><path fill="#f0b4c0" d="M167 2h1v1h-1zM144 4h1v1h-1zM177 4h1v1h-1zM136 8h1v1h-1zM150 8h2v1h-2zM189 10h1v1h-1zM197 11h1v1h-1zM164 13h1v1h-1zM141 14h1v1h-1zM172 16h1v1h-1zM160 17h1v1h-1zM162 17h1v1h-1zM173 17h1v1h-1zM197 17h1v1h-1zM138 19h1v1h-1zM184 20h1v1h-1zM136 23h1v1h-1zM169 23h1v1h-1zM199 23h1v1h-1zM192 24h2v1h-2zM181 25h2v1h-2zM148 27h1v1h-1zM159 27h1v1h-1zM151 29h1v1h-1zM151 31h1v1h-1zM190 34h1v1h-1zM143 39h1v1h-1zM137 40h1v1h-1zM179 40h1v1h-1zM198 41h1v1h-1zM137 42h1v1h-1zM199 43h1v1h-1zM154 44h1v1h-1zM142 48h1v1h-1zM195 57h1v1h-1zM121 59h1v1h-1zM156 59h2v1h-2zM160 59h1v1h-1zM12 60h1v1h-1zM192 60h1v1h-1zM7 61h1v1h-1zM45 63h1v1h-1zM96 63h1v1h-1zM40 66h1v1h-1zM5 67h1v1h-1zM129 67h1v1h-1zM11 69h1v1h-1zM17 69h1v1h-1zM23 70h1v1h-1zM7 72h1v1h-1zM110 72h1v1h-1zM124 72h1v1h-1zM59 73h1v1h-1zM108 73h1v1h-1zM4 74h1v1h-1zM61 74h1v1h-1zM63 74h1v1h-1zM116 74h1v1h-1zM40 75h1v1h-1zM75 75h1v1h-1zM118 75h1v1h-1zM94 76h1v1h-1zM93 78h1v1h-1zM124 78h1v1h-1zM127 78h1v1h-1z"/><path fill="#d8243c" d="M134 3h1v1h-1zM195 5h1v1h-1zM199 5h1v1h-1zM166 29h1v1h-1zM177 53h2v1h-2zM77 68h1v1h-1zM3 73h1v1h-1zM115 76h1v1h-1zM14 78h2v1h-2zM115 78h2v1h-2z"/><path fill="#d82430" d="M136 3h2v1h-2zM139 3h1v1h-1zM196 5h1v1h-1zM148 16h1v1h-1zM187 26h3v1h-3zM167 29h1v1h-1zM170 29h1v1h-1zM176 53h1v1h-1zM123 66h1v1h-1zM73 68h1v1h-1zM82 72h1v1h-1zM94 73h2v1h-2zM9 77h1v1h-1zM13 78h1v1h-1z"/><path fill="#d81830" d="M138 3h1v1h-1zM147 16h1v1h-1zM165 29h1v1h-1zM138 34h2v1h-2zM74 68h1v1h-1zM114 76h1v1h-1zM96 77h2v1h-2zM128 77h1v1h-1zM38 78h2v1h-2zM82 78h1v1h-1zM125 78h1v1h-1z"/><path fill="#e4303c" d="M140 3h1v1h-1zM165 5h1v1h-1zM135 7h1v1h-1zM163 32h1v1h-1zM147 40h1v1h-1zM143 64h1v1h-1zM23 66h1v1h-1zM108 66h1v1h-1zM12 68h1v1h-1zM76 68h1v1h-1zM81 68h1v1h-1zM18 69h2v1h-2zM113 69h1v1h-1zM31 73h2v1h-2zM98 77h1v1h-1z"/><path fill="#f06c78" d="M184 3h1v1h-1zM162 4h1v1h-1zM147 7h1v1h-1zM160 12h1v1h-1zM193 18h1v1h-1zM185 19h1v1h-1zM187 19h1v1h-1zM150 28h1v1h-1zM155 29h1v1h-1zM158 29h1v1h-1zM191 30h1v1h-1zM176 32h1v1h-1zM166 35h1v1h-1zM168 35h1v1h-1zM147 53h1v1h-1zM183 64h1v1h-1zM119 66h1v1h-1zM16 70h1v1h-1zM78 70h1v1h-1zM101 70h1v1h-1zM90 72h1v1h-1zM118 73h1v1h-1zM122 74h1v1h-1zM4 75h1v1h-1zM111 75h1v1h-1zM130 75h1v1h-1zM113 77h1v1h-1z"/><path fill="#f08490" d="M188 3h1v1h-1zM145 4h1v1h-1zM182 5h1v1h-1zM160 10h1v1h-1zM180 18h1v1h-1zM191 20h1v1h-1zM186 23h1v1h-1zM171 34h1v1h-1zM161 37h1v1h-1zM147 39h1v1h-1zM188 39h1v1h-1zM146 42h1v1h-1zM149 52h1v1h-1zM144 54h1v1h-1zM190 64h1v1h-1zM21 66h1v1h-1zM198 66h1v1h-1zM2 67h1v1h-1zM99 67h1v1h-1zM90 68h1v1h-1zM124 68h1v1h-1zM94 69h1v1h-1zM91 70h1v1h-1zM99 70h1v1h-1zM7 73h1v1h-1zM83 73h1v1h-1zM94 74h1v1h-1zM132 74h1v1h-1zM80 75h1v1h-1zM97 76h1v1h-1zM105 77h1v1h-1zM31 78h1v1h-1z"/><path fill="#f0909c" d="M147 4h1v1h-1zM176 4h1v1h-1zM180 5h1v1h-1zM137 6h1v1h-1zM167 6h1v1h-1zM135 9h1v1h-1zM160 11h1v1h-1zM184 12h1v1h-1zM157 14h1v1h-1zM142 21h1v1h-1zM140 28h1v1h-1zM173 35h1v1h-1zM190 38h1v1h-1zM191 39h1v1h-1zM152 42h1v1h-1zM176 44h1v1h-1zM154 45h1v1h-1zM164 48h1v1h-1zM193 51h1v1h-1zM150 55h1v1h-1zM174 55h1v1h-1zM176 55h1v1h-1zM142 64h1v1h-1zM90 66h1v1h-1zM77 67h1v1h-1zM98 67h1v1h-1zM114 67h1v1h-1zM26 69h1v1h-1zM65 73h1v1h-1zM88 77h1v1h-1zM152 78h1v1h-1z"/><path fill="#f07884" d="M157 4h2v1h-2zM164 4h1v1h-1zM141 6h1v1h-1zM149 12h1v1h-1zM167 14h1v1h-1zM155 16h1v1h-1zM183 16h1v1h-1zM145 18h1v1h-1zM191 18h1v1h-1zM157 27h1v1h-1zM184 35h1v1h-1zM187 35h1v1h-1zM146 49h1v1h-1zM144 51h1v1h-1zM165 55h1v1h-1zM146 63h1v1h-1zM165 63h1v1h-1zM109 67h1v1h-1zM59 68h1v1h-1zM63 69h1v1h-1zM122 69h1v1h-1zM76 70h1v1h-1zM128 72h1v1h-1zM34 73h1v1h-1zM54 73h1v1h-1zM55 74h1v1h-1zM99 74h1v1h-1zM49 75h1v1h-1zM102 76h1v1h-1zM47 78h1v1h-1z"/><path fill="#e44854" d="M185 4h3v1h-3zM77 75h1v1h-1zM17 76h1v1h-1zM60 76h1v1h-1zM108 78h1v1h-1z"/><path fill="#e43048" d="M194 5h1v1h-1zM136 7h1v1h-1zM177 7h3v1h-3zM183 17h3v1h-3zM199 18h1v1h-1zM174 20h1v1h-1zM178 24h1v1h-1zM164 29h1v1h-1zM168 29h2v1h-2zM171 29h2v1h-2zM174 29h1v1h-1zM194 31h3v1h-3zM191 33h2v1h-2zM186 52h1v1h-1zM188 52h1v1h-1zM183 53h1v1h-1zM159 55h1v1h-1zM152 62h2v1h-2zM144 64h1v1h-1zM109 66h1v1h-1zM105 67h3v1h-3zM98 68h2v1h-2zM64 70h1v1h-1zM54 72h1v1h-1zM6 73h1v1h-1zM72 73h2v1h-2zM91 74h1v1h-1zM65 76h2v1h-2zM84 76h1v1h-1zM118 76h1v1h-1zM101 77h1v1h-1zM62 78h1v1h-1z"/><path fill="#e43c48" d="M197 5h1v1h-1zM137 16h1v1h-1zM163 29h1v1h-1zM193 33h1v1h-1zM197 40h1v1h-1zM169 48h1v1h-1zM187 52h1v1h-1zM180 62h1v1h-1zM13 67h1v1h-1zM0 68h1v1h-1zM34 68h1v1h-1zM130 68h1v1h-1zM50 69h1v1h-1zM35 70h1v1h-1zM62 70h1v1h-1zM55 72h1v1h-1zM117 76h1v1h-1zM119 76h1v1h-1zM7 78h1v1h-1z"/><path fill="#f0a8b4" d="M192 6h2v1h-2zM193 9h1v1h-1zM194 14h1v1h-1zM190 15h1v1h-1zM150 20h1v1h-1zM162 20h1v1h-1zM167 24h1v1h-1zM146 28h1v1h-1zM163 34h1v1h-1zM137 36h1v1h-1zM179 45h1v1h-1zM165 52h1v1h-1zM196 56h1v1h-1zM193 60h1v1h-1zM156 61h1v1h-1zM62 63h1v1h-1zM151 64h1v1h-1zM153 64h1v1h-1zM159 64h1v1h-1zM97 65h1v1h-1zM35 67h1v1h-1zM50 67h1v1h-1zM113 67h1v1h-1zM15 68h1v1h-1zM48 68h1v1h-1zM72 68h1v1h-1zM111 68h1v1h-1zM12 70h1v1h-1zM85 70h1v1h-1zM102 72h1v1h-1zM75 74h1v1h-1zM59 75h1v1h-1zM87 75h1v1h-1zM57 77h1v1h-1zM54 78h1v1h-1z"/><path fill="#3018d8" d="M111 8h1v1h-1zM102 27h2v1h-2zM179 71h3v1h-3z"/><path fill="#c0a8fc" d="M155 10h1v1h-1zM183 14h1v1h-1zM147 20h1v1h-1zM27 21h1v1h-1zM151 22h1v1h-1zM3 27h1v1h-1zM156 30h1v1h-1zM15 36h1v1h-1zM135 42h1v1h-1zM62 49h1v1h-1zM115 52h1v1h-1zM12 53h1v1h-1zM48 54h1v1h-1zM162 56h1v1h-1zM125 57h1v1h-1zM159 58h1v1h-1zM73 61h1v1h-1zM99 61h1v1h-1zM168 61h1v1h-1zM73 62h1v1h-1zM62 65h1v1h-1zM123 65h1v1h-1zM83 66h1v1h-1zM113 66h1v1h-1zM75 67h1v1h-1zM45 68h2v1h-2zM96 68h1v1h-1zM116 68h1v1h-1zM1 69h1v1h-1zM12 71h2v1h-2zM28 71h1v1h-1zM90 71h1v1h-1zM43 72h1v1h-1zM77 72h1v1h-1zM119 72h1v1h-1zM82 75h1v1h-1zM107 76h1v1h-1zM24 78h2v1h-2z"/><path fill="#240cd8" d="M177 71h1v1h-1z"/><path fill="#300cd8" d="M178 71h1v1h-1z"/><path fill="#e4243c" d="M99 77h1v1h-1z"/></g><rect x="103.7" y="141.2" width="0.5" height="452.3" fill="#ffffff" opacity="0.6"/><rect x="170.9" y="141.2" width="0.5" height="452.3" fill="#ffffff" opacity="0.6"/><text x="30.30" y="146.86" font-size="5.25" text-anchor="end" class="g">ITGB1</text><text x="30.30" y="152.59" font-size="5.25" text-anchor="end" class="g">PI16</text><text x="30.30" y="158.31" font-size="5.25" text-anchor="end" class="g">TOX</text><text x="30.30" y="164.04" font-size="5.25" text-anchor="end" class="g">TTN</text><text x="30.30" y="169.76" font-size="5.25" text-anchor="end" class="g">TPO</text><text x="30.30" y="175.49" font-size="5.25" text-anchor="end" class="g">ITM2C</text><text x="30.30" y="181.21" font-size="5.25" text-anchor="end" class="g">TIGIT</text><text x="30.30" y="186.94" font-size="5.25" text-anchor="end" class="g">HACD1</text><text x="30.30" y="192.66" font-size="5.25" text-anchor="end" class="g">AHNAK</text><text x="30.30" y="198.39" font-size="5.25" text-anchor="end" class="g">DNM3</text><text x="30.30" y="204.11" font-size="5.25" text-anchor="end" class="g">ID3</text><text x="30.30" y="209.84" font-size="5.25" text-anchor="end" class="g">PLS3</text><text x="30.30" y="215.56" font-size="5.25" text-anchor="end" class="g">KIR3DL2</text><text x="30.30" y="221.29" font-size="5.25" text-anchor="end" class="g">PGM2L1</text><text x="30.30" y="227.01" font-size="5.25" text-anchor="end" class="g">TPR</text><text x="30.30" y="232.74" font-size="5.25" text-anchor="end" class="g">IKZF2</text><text x="30.30" y="238.46" font-size="5.25" text-anchor="end" class="g">LGALS1</text><text x="30.30" y="244.19" font-size="5.25" text-anchor="end" class="g">PASK</text><text x="30.30" y="249.91" font-size="5.25" text-anchor="end" class="g">LMNA</text><text x="30.30" y="255.64" font-size="5.25" text-anchor="end" class="g">KLHL42</text><text x="30.30" y="261.36" font-size="5.25" text-anchor="end" class="g">ANXA2</text><text x="30.30" y="267.09" font-size="5.25" text-anchor="end" class="g">SLC9A3R1</text><text x="30.30" y="272.81" font-size="5.25" text-anchor="end" class="g">PCSK1N</text><text x="30.30" y="278.54" font-size="5.25" text-anchor="end" class="g">FCRL3</text><text x="30.30" y="284.26" font-size="5.25" text-anchor="end" class="g">UBXN11</text><text x="30.30" y="289.99" font-size="5.25" text-anchor="end" class="g">MFSD10</text><text x="30.30" y="295.71" font-size="5.25" text-anchor="end" class="g">CRIP2</text><text x="30.30" y="301.44" font-size="5.25" text-anchor="end" class="g">COTL1</text><text x="30.30" y="307.16" font-size="5.25" text-anchor="end" class="g">KLF6</text><text x="30.30" y="312.89" font-size="5.25" text-anchor="end" class="g">TSPAN2</text><text x="30.30" y="318.61" font-size="5.25" text-anchor="end" class="g">RAB37</text><text x="30.30" y="324.34" font-size="5.25" text-anchor="end" class="g">CORO1B</text><text x="30.30" y="330.06" font-size="5.25" text-anchor="end" class="g">CDC25B</text><text x="30.30" y="335.79" font-size="5.25" text-anchor="end" class="g">CPNE2</text><text x="30.30" y="341.51" font-size="5.25" text-anchor="end" class="g">EZR</text><text x="30.30" y="347.24" font-size="5.25" text-anchor="end" class="g">STAM</text><text x="30.30" y="352.96" font-size="5.25" text-anchor="end" class="g">FLNA</text><text x="30.30" y="358.69" font-size="5.25" text-anchor="end" class="g">TAP1</text><text x="30.30" y="364.41" font-size="5.25" text-anchor="end" class="g">PPP2R5C</text><text x="30.30" y="370.14" font-size="5.25" text-anchor="end" class="g">CD82</text><text x="30.30" y="375.86" font-size="5.25" text-anchor="end" class="g">PFKL</text><text x="30.30" y="381.59" font-size="5.25" text-anchor="end" class="g">CCR4</text><text x="30.30" y="387.31" font-size="5.25" text-anchor="end" class="g">NRROS</text><text x="30.30" y="393.04" font-size="5.25" text-anchor="end" class="g">SHMT2</text><text x="30.30" y="398.76" font-size="5.25" text-anchor="end" class="g">PLEC</text><text x="30.30" y="404.49" font-size="5.25" text-anchor="end" class="g">ALOX5AP</text><text x="30.30" y="410.21" font-size="5.25" text-anchor="end" class="g">AC090152.1</text><text x="30.30" y="415.94" font-size="5.25" text-anchor="end" class="g">CD27</text><text x="30.30" y="421.66" font-size="5.25" text-anchor="end" class="g">CLIC1</text><text x="30.30" y="427.39" font-size="5.25" text-anchor="end" class="g">PIM3</text><text x="30.30" y="433.11" font-size="5.25" text-anchor="end" class="g">SUN1</text><text x="30.30" y="438.84" font-size="5.25" text-anchor="end" class="g">GNB2</text><text x="30.30" y="444.56" font-size="5.25" text-anchor="end" class="g">FAM129A</text><text x="30.30" y="450.29" font-size="5.25" text-anchor="end" class="g">TNFRSF25</text><text x="30.30" y="456.01" font-size="5.25" text-anchor="end" class="g">DOK2</text><text x="30.30" y="461.74" font-size="5.25" text-anchor="end" class="g">NSD3</text><text x="30.30" y="467.46" font-size="5.25" text-anchor="end" class="g">CCDC167</text><text x="30.30" y="473.19" font-size="5.25" text-anchor="end" class="g">FMNL1</text><text x="30.30" y="478.91" font-size="5.25" text-anchor="end" class="g">LTBP4</text><text x="30.30" y="484.64" font-size="5.25" text-anchor="end" class="g">CD84</text><text x="30.30" y="490.36" font-size="5.25" text-anchor="end" class="g">TTC39C</text><text x="30.30" y="496.09" font-size="5.25" text-anchor="end" class="g">SIT1</text><text x="30.30" y="501.81" font-size="5.25" text-anchor="end" class="g">TIAM1</text><text x="30.30" y="507.54" font-size="5.25" text-anchor="end" class="g">ISG15</text><text x="30.30" y="513.26" font-size="5.25" text-anchor="end" class="g">YWHAH</text><text x="30.30" y="518.99" font-size="5.25" text-anchor="end" class="g">JPT1</text><text x="30.30" y="524.71" font-size="5.25" text-anchor="end" class="g">PDCD4</text><text x="30.30" y="530.44" font-size="5.25" text-anchor="end" class="g">PLAC8</text><text x="30.30" y="536.16" font-size="5.25" text-anchor="end" class="g">TGFBR2</text><text x="30.30" y="541.89" font-size="5.25" text-anchor="end" class="g">GPR183</text><text x="30.30" y="547.61" font-size="5.25" text-anchor="end" class="g">PCED1B</text><text x="30.30" y="553.34" font-size="5.25" text-anchor="end" class="g">CD48</text><text x="30.30" y="559.06" font-size="5.25" text-anchor="end" class="g">OXNAD1</text><text x="30.30" y="564.79" font-size="5.25" text-anchor="end" class="g">ABLIM1</text><text x="30.30" y="570.51" font-size="5.25" text-anchor="end" class="g">GSTP1</text><text x="30.30" y="576.24" font-size="5.25" text-anchor="end" class="g">SATB1</text><text x="30.30" y="581.96" font-size="5.25" text-anchor="end" class="g">C1orf162</text><text x="30.30" y="587.69" font-size="5.25" text-anchor="end" class="g">ITGA4</text><text x="30.30" y="593.41" font-size="5.25" text-anchor="end" class="g">CD7</text><path d="M30.4 51.0C30.6 49.6 30.8 48.1 31.4 47.0C32.0 45.9 33.1 45.5 33.8 44.6C34.5 43.7 34.9 42.6 35.4 41.6C35.9 40.6 36.2 39.4 36.6 38.6C37.0 37.8 37.5 36.9 38.0 37.0C38.5 37.1 38.8 38.8 39.4 39.4C40.0 40.0 40.7 40.3 41.6 40.4C42.5 40.5 43.7 39.9 44.6 39.8C45.5 39.7 46.4 39.6 47.0 40.0C47.6 40.4 47.5 41.5 48.2 42.0C48.9 42.5 50.1 42.7 51.2 42.8C52.3 42.9 53.3 42.9 54.6 42.8C55.9 42.7 58.0 41.8 58.8 42.0C59.6 42.2 59.8 43.2 59.4 43.8C59.0 44.4 57.4 44.8 56.4 45.4C55.4 46.0 54.5 46.4 53.6 47.2C52.7 48.0 52.1 49.4 51.2 50.4C50.3 51.4 49.2 52.5 48.2 53.4C47.2 54.3 46.2 55.0 45.2 56.0C44.2 57.0 43.2 58.4 42.2 59.4C41.2 60.4 40.4 61.5 39.2 61.9C38.0 62.3 36.4 62.2 35.2 61.7C34.0 61.2 32.8 60.2 32.0 59.2C31.2 58.2 30.7 56.8 30.4 55.4C30.1 54.0 30.2 52.4 30.4 51.0Z" fill="#1fbcef" stroke="#1fbcef" stroke-width="1.3" stroke-linejoin="round"/><path d="M36.2 41.0C36.0 40.3 36.4 37.7 36.6 36.8C36.8 35.9 37.3 35.6 37.6 35.6C37.9 35.6 38.3 35.7 38.4 36.6C38.5 37.5 38.4 40.3 38.0 41.0C37.6 41.7 36.4 41.7 36.2 41.0Z" fill="#1fbcef" stroke="#1fbcef" stroke-width="0.9" stroke-linejoin="round"/><path d="M40.0 40.5C39.9 39.9 40.4 38.1 40.6 37.5C40.8 36.9 41.2 36.8 41.4 37.0C41.6 37.2 41.6 38.3 41.6 39.0C41.6 39.7 41.5 40.8 41.2 41.0C40.9 41.2 40.1 41.1 40.0 40.5Z" fill="#1fbcef" stroke="#1fbcef" stroke-width="0.9" stroke-linejoin="round"/><path d="M52.5 42.2 C55 41.6 57 41.4 59.4 42.0 C57.5 43.4 55 43.6 52.5 43.6Z" fill="#2ac49a" opacity="0.8"/><path d="M39.2 16.6C39.6 16.1 40.8 15.5 41.8 15.4C42.8 15.3 44.0 15.5 44.9 16.0C45.8 16.5 46.7 17.6 47.2 18.5C47.7 19.4 48.1 20.4 48.0 21.2C47.9 22.0 47.3 22.9 46.8 23.5C46.3 24.1 45.5 24.7 44.9 24.7C44.3 24.7 44.0 24.1 43.4 23.5C42.8 22.9 41.8 21.6 41.1 20.8C40.4 20.0 39.7 19.2 39.4 18.5C39.1 17.8 38.8 17.1 39.2 16.6Z" fill="#f41616" stroke="#f41616" stroke-width="1.7" stroke-linejoin="round"/><path d="M20.3 35.1C20.0 34.2 19.6 32.3 19.9 31.2C20.1 30.1 21.0 29.2 21.8 28.5C22.6 27.8 23.9 27.0 24.9 27.0C25.9 27.0 27.0 27.7 27.6 28.3C28.2 28.9 28.9 29.7 28.8 30.5C28.7 31.3 28.0 32.4 27.2 33.2C26.4 34.0 25.1 34.5 24.2 35.1C23.2 35.7 22.1 36.6 21.5 36.6C20.9 36.6 20.6 36.0 20.3 35.1Z" fill="#f41616" stroke="#f41616" stroke-width="1.7" stroke-linejoin="round"/><path d="M34.4 40.5C34.1 39.8 34.4 37.7 34.6 36.5C34.8 35.3 34.9 34.2 35.5 33.2C36.1 32.2 37.1 31.0 38.0 30.6C38.9 30.2 40.3 30.6 41.1 31.1C41.9 31.7 42.8 33.3 42.8 33.9C42.8 34.5 41.7 34.6 41.0 34.6C40.3 34.6 39.3 33.4 38.6 33.6C37.9 33.8 37.3 34.5 36.9 35.6C36.5 36.8 36.7 39.7 36.3 40.5C35.9 41.3 34.7 41.2 34.4 40.5Z" fill="#f41616" stroke="#f41616" stroke-width="1.7" stroke-linejoin="round"/><path d="M50.3 34.3C50.1 33.2 49.8 31.0 49.9 29.7C50.0 28.4 50.5 27.1 51.1 26.2C51.7 25.3 52.7 24.4 53.4 24.3C54.1 24.2 54.9 24.7 55.3 25.4C55.7 26.1 56.1 27.4 56.0 28.5C55.9 29.6 55.5 30.9 54.9 32.0C54.3 33.1 53.2 34.4 52.6 35.1C52.0 35.8 51.4 36.5 51.0 36.4C50.6 36.3 50.5 35.4 50.3 34.3Z" fill="#f41616" stroke="#f41616" stroke-width="1.7" stroke-linejoin="round"/><path d="M65.7 16.8C66.3 16.6 67.2 18.5 67.5 19.8C67.8 21.1 67.7 23.1 67.2 24.7C66.7 26.3 65.6 28.0 64.7 29.6C63.8 31.2 62.8 33.4 61.8 34.5C60.8 35.6 59.5 36.4 58.8 36.5C58.0 36.6 57.1 36.4 57.3 35.4C57.5 34.4 58.9 32.2 59.8 30.6C60.7 29.0 62.0 27.3 62.7 25.7C63.4 24.1 63.4 22.3 63.9 20.8C64.4 19.3 65.1 17.0 65.7 16.8Z" fill="#f41616" stroke="#f41616" stroke-width="1.7" stroke-linejoin="round"/><path d="M21.4 62.2C21.8 61.3 22.9 61.0 23.8 61.1C24.8 61.2 26.9 62.0 27.1 62.6C27.4 63.2 25.7 63.8 25.3 64.6C24.9 65.4 24.6 66.5 24.8 67.5C25.0 68.5 26.5 70.1 26.3 70.4C26.1 70.8 24.6 70.2 23.8 69.6C23.0 68.9 21.7 67.7 21.3 66.5C20.9 65.3 21.0 63.1 21.4 62.2Z" fill="#f41616" stroke="#f41616" stroke-width="1.7" stroke-linejoin="round"/><path d="M58.4 56.6C58.8 56.4 60.3 59.1 60.8 60.6C61.3 62.1 61.6 64.1 61.4 65.6C61.1 67.1 60.3 68.6 59.3 69.5C58.3 70.4 56.8 71.0 55.5 71.0C54.2 71.0 51.8 70.0 51.6 69.6C51.4 69.2 53.5 69.1 54.5 68.4C55.5 67.7 56.8 66.5 57.4 65.4C58.0 64.3 58.0 63.2 58.2 61.7C58.4 60.2 58.0 56.8 58.4 56.6Z" fill="#f41616" stroke="#f41616" stroke-width="1.7" stroke-linejoin="round"/><path d="M37.7 84.6C38.3 84.4 39.1 87.3 39.7 88.7C40.3 90.1 41.0 91.7 41.1 93.0C41.2 94.3 40.9 95.8 40.2 96.4C39.6 97.1 38.0 97.4 37.2 96.9C36.4 96.4 35.5 94.7 35.3 93.5C35.1 92.3 35.8 91.1 36.2 89.6C36.6 88.1 37.1 84.8 37.7 84.6Z" fill="#f41616" stroke="#f41616" stroke-width="1.7" stroke-linejoin="round"/><path d="M70.4 55.2C70.7 54.8 72.0 56.7 73.0 57.4C74.0 58.1 75.4 59.0 76.6 59.4C77.8 59.8 79.2 59.4 80.0 60.0C80.8 60.6 81.3 61.9 81.2 63.0C81.1 64.1 80.4 65.8 79.6 66.4C78.8 67.0 77.4 67.1 76.4 66.6C75.4 66.1 74.3 64.8 73.4 63.6C72.5 62.4 71.7 61.0 71.2 59.6C70.7 58.2 70.1 55.6 70.4 55.2Z" fill="#f41616" stroke="#f41616" stroke-width="1.7" stroke-linejoin="round"/><path d="M63.8 48.4C64.2 48.8 63.7 49.8 62.8 50.6C61.9 51.4 59.8 52.1 58.2 53.0C56.6 53.9 54.8 54.9 53.2 55.8C51.6 56.7 50.2 57.5 48.8 58.4C47.4 59.3 45.9 60.3 44.8 61.0C43.7 61.7 42.7 62.1 42.0 62.8C41.3 63.5 41.0 64.1 40.6 65.0C40.2 65.9 40.1 66.9 39.8 68.0C39.5 69.1 39.1 70.2 38.6 71.4C38.1 72.6 37.5 74.1 36.8 75.0C36.1 75.9 35.1 76.8 34.6 76.6C34.1 76.4 33.7 75.2 33.8 74.0C33.9 72.8 34.7 71.0 35.2 69.6C35.7 68.2 36.1 66.7 36.6 65.4C37.1 64.1 37.5 63.1 38.4 62.0C39.3 60.9 40.6 60.0 42.0 59.0C43.4 58.0 45.0 56.8 46.6 55.8C48.2 54.8 49.8 53.8 51.4 52.8C53.0 51.8 54.9 50.8 56.4 50.0C57.9 49.2 59.4 48.5 60.6 48.2C61.8 47.9 63.4 48.0 63.8 48.4Z" fill="#f41616" stroke="#f41616" stroke-width="0.7" stroke-linejoin="round"/><path d="M59 46.8 Q54 48.6 50.5 51.2" fill="none" stroke="#ee1c1c" stroke-width="1.1"/><path d="M63.2 37.4 Q66.8 39.5 66.6 43 Q66.8 47.5 69.2 49.4 Q70.6 49.8 71.6 48.3" fill="none" stroke="#c0303e" stroke-width="1.1"/><path d="M69.6 38.4 L71 39.8" stroke="#c0303e" stroke-width="1.0"/><path d="M47.5 37.5 Q50.5 36 53.5 38.2 Q52 39.6 49.2 39.2Z" fill="#f3a0a0" opacity="0.7"/><path d="M43.5 64 l1 2.6 M46 63.5 l-0.5 3.2" stroke="#8a8ab0" stroke-width="0.6"/><path d="M112.3 17.9C112.5 17.1 113.8 17.2 114.5 17.4C115.2 17.5 115.9 17.9 116.4 18.8C116.9 19.7 116.9 21.5 117.3 22.8C117.7 24.1 117.9 26.2 118.6 26.6C119.3 27.0 120.6 25.6 121.6 25.2C122.6 24.8 124.0 23.7 124.4 24.2C124.8 24.7 124.6 26.6 124.0 28.0C123.4 29.4 121.4 31.1 120.6 32.7C119.8 34.3 118.9 35.9 119.0 37.4C119.1 38.9 120.5 41.1 121.4 42.0C122.3 42.9 123.5 42.5 124.5 42.8C125.5 43.1 126.8 43.3 127.6 43.6C128.3 43.9 129.2 44.4 129.0 44.8C128.8 45.2 127.3 45.7 126.4 46.0C125.5 46.3 124.5 46.2 123.7 46.7C122.9 47.2 121.8 48.2 121.6 49.0C121.3 49.8 121.7 50.6 122.2 51.4C122.7 52.2 124.2 52.9 124.5 53.7C124.8 54.5 124.2 55.7 123.7 56.1C123.2 56.5 122.1 55.8 121.4 56.3C120.8 56.8 120.3 58.2 119.8 59.2C119.3 60.2 118.7 61.1 118.3 62.3C117.9 63.5 117.6 64.9 117.5 66.2C117.4 67.5 118.2 69.2 117.9 70.1C117.6 71.0 116.5 71.8 115.9 71.7C115.3 71.6 114.8 70.1 114.4 69.3C114.0 68.5 114.1 67.1 113.6 67.0C113.1 66.9 112.1 67.8 111.3 68.6C110.5 69.4 109.6 70.8 108.9 71.7C108.2 72.6 107.5 73.9 107.0 74.0C106.5 74.1 105.7 73.4 105.8 72.5C105.9 71.6 107.0 69.8 107.4 68.6C107.8 67.4 108.4 66.3 108.1 65.4C107.8 64.5 106.6 64.1 105.8 63.1C105.0 62.1 104.2 60.6 103.5 59.2C102.8 57.8 102.2 55.9 101.9 54.5C101.6 53.1 101.6 51.8 101.9 50.6C102.2 49.4 102.8 48.3 103.5 47.5C104.2 46.7 105.3 46.5 105.8 45.9C106.3 45.2 106.5 44.4 106.4 43.6C106.3 42.8 105.5 42.5 105.2 41.3C105.0 40.1 104.8 37.8 104.9 36.6C105.0 35.4 105.3 34.6 105.8 33.9C106.3 33.2 107.2 32.6 108.1 32.5C109.0 32.4 110.4 33.2 111.3 33.0C112.2 32.8 113.0 32.0 113.4 31.0C113.9 30.0 114.0 28.5 114.0 27.0C114.0 25.5 113.6 23.5 113.3 22.0C113.0 20.5 112.1 18.7 112.3 17.9Z" fill="#2285ea" stroke="#2285ea" stroke-width="0.6" stroke-linejoin="round"/><ellipse cx="109.8" cy="37.2" rx="2.3" ry="2.9" fill="#fff"/><path d="M109.5 49.6 Q111.5 51 112.6 53.4 Q113 55.6 111 56.4 Q109.6 54 109.5 49.6Z" fill="#b4d4f6"/><path d="M112 56.6 Q114.6 58 116 61.6 Q116 64 115.2 66.6 Q113 65.6 112.2 62.4 Q111.4 59.4 112 56.6Z" fill="#b4d4f6"/><path d="M113.4 42 q1.4 2 1.2 5" fill="none" stroke="#8ab8ee" stroke-width="0.7"/><path d="M123.7 56.9C124.1 56.1 126.0 56.0 126.9 56.1C127.8 56.2 128.7 56.6 129.2 57.6C129.7 58.6 130.0 60.7 130.0 62.3C130.0 63.9 129.7 65.8 129.2 67.0C128.7 68.2 127.8 68.9 126.9 69.3C126.0 69.7 124.4 69.7 123.7 69.3C123.0 68.9 122.9 67.9 123.0 67.0C123.1 66.1 124.2 64.9 124.5 63.9C124.8 62.9 124.6 62.0 124.5 60.8C124.4 59.6 123.3 57.7 123.7 56.9Z" fill="#2285ea" stroke="#2285ea" stroke-width="0.9" stroke-linejoin="round"/><path d="M136.1 45.3C137.1 44.8 139.7 44.0 140.5 44.7C141.3 45.4 141.8 48.4 141.2 49.3C140.6 50.2 138.0 50.2 136.8 50.0C135.7 49.8 134.4 48.8 134.3 48.0C134.2 47.2 135.1 45.8 136.1 45.3Z" fill="#2285ea" stroke="#2285ea" stroke-width="0.9" stroke-linejoin="round"/><path d="M92.4 61.8C93.2 61.4 95.5 61.9 96.8 62.2C98.0 62.5 99.8 63.0 99.9 63.6C100.0 64.2 97.9 65.3 97.4 66.1C96.9 66.9 97.4 68.5 96.8 68.6C96.2 68.7 94.4 67.5 93.6 66.8C92.8 66.1 92.4 65.1 92.2 64.3C92.0 63.5 91.6 62.1 92.4 61.8Z" fill="#2285ea" stroke="#2285ea" stroke-width="0.9" stroke-linejoin="round"/><path d="M137.4 17.9 Q136.6 24 133.2 28.5 Q130 32.5 128.6 36.2" fill="none" stroke="#6aa6e6" stroke-width="0.9"/><path d="M129.0 33.5C129.4 32.4 130.3 30.8 131.0 30.0C131.7 29.2 132.8 28.3 133.0 28.6C133.2 28.9 132.8 30.4 132.4 31.6C132.0 32.8 131.0 34.8 130.4 35.6C129.8 36.4 128.8 37.0 128.6 36.6C128.4 36.2 128.6 34.6 129.0 33.5Z" fill="#2285ea" stroke="#2285ea" stroke-width="0.9" stroke-linejoin="round"/><path d="M90.8 30.0C91.3 29.1 92.4 28.3 93.5 28.0C94.6 27.7 96.4 28.1 97.5 28.4C98.6 28.7 99.9 28.9 100.0 29.6C100.1 30.3 98.8 31.5 98.0 32.5C97.2 33.5 96.0 35.2 95.0 35.8C94.0 36.4 92.7 36.6 92.0 36.2C91.3 35.8 90.8 34.6 90.6 33.6C90.4 32.6 90.3 30.9 90.8 30.0Z" fill="#6ea8ea" stroke="#6ea8ea" stroke-width="0.9" stroke-linejoin="round"/><path d="M92.0 30.5C92.4 29.8 94.1 29.6 95.0 29.5C95.9 29.4 97.4 29.4 97.5 30.0C97.6 30.6 96.3 32.3 95.5 33.0C94.7 33.7 93.4 34.4 92.8 34.0C92.2 33.6 91.6 31.2 92.0 30.5Z" fill="#3d8fe8" stroke="#3d8fe8" stroke-width="0.9" stroke-linejoin="round"/><path d="M143 57 q3 2 5 6 q2 2 3.5 3" fill="none" stroke="#b8c8dc" stroke-width="1.2"/><path d="M108.5 86 q1 4 2 9" fill="none" stroke="#c8d8ee" stroke-width="1.2"/><path d="M131 37 q5 -3 10 -2 M133 41 l4 -1" fill="none" stroke="#c8d4e4" stroke-width="0.8"/></svg></body></html>
